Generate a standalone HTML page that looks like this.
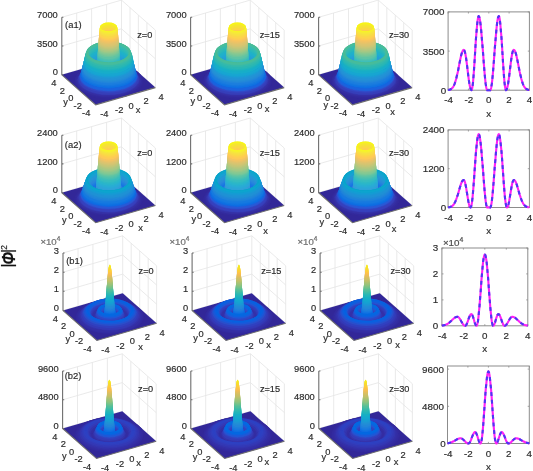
<!DOCTYPE html>
<html><head><meta charset="utf-8"><title>figure</title>
<style>html,body{margin:0;padding:0;background:#fff}svg{display:block;filter:blur(0.55px)}text{font-family:"Liberation Sans",sans-serif;stroke:#2c2c2c;stroke-width:.18px}</style>
</head><body>
<svg width="533" height="471" viewBox="0 0 533 471">
<rect width="533" height="471" fill="#fff"/>
<path d="M76.7 70.5v-57.5M91.6 66.2v-57.5M106.6 61.9v-57.5M121.5 57.6v-57.5M130 65.1v-57.5M138.4 72.6v-57.5M146.9 80.1v-57.5M155.4 87.6v-57.5M61.8 74.8L121.5 57.6L155.4 87.6M61.8 46L121.5 28.8L155.4 58.8M61.8 17.3L121.5 0.1L155.4 30.1M70.3 82.3L130 65.1M76.7 70.5L110.6 100.5M78.8 89.8L138.4 72.6M91.6 66.2L125.5 96.2M87.2 97.3L146.9 80.1M106.6 61.9L140.5 91.9" stroke="#e4e4e4" stroke-width="0.8" fill="none"/>
<path d="M61.8 74.8L95.7 104.8L155.4 87.6L121.5 57.6z" fill="#322798"/>
<g transform="matrix(7.4625 -2.1500 -4.2375 -3.7500 108.6 81.2)">
<path d="M3.43-2.05A4 4 0 1 1 -3.52 1.9L-3.32 1.87A3.81 3.81 0 1 0 3.31-1.89z" fill="#33289b"/>
<path d="M3.41-2.03A3.97 3.97 0 1 1 -3.49 1.89L-3.1 1.94A3.65 3.65 0 1 0 3.25-1.67z" fill="#332a9d"/>
<path d="M3.31-1.89A3.81 3.81 0 1 1 -3.32 1.87L-2.87 2.09A3.53 3.53 0 1 0 3.26-1.39z" fill="#352ea3"/>
<path d="M3.25-1.67A3.65 3.65 0 1 1 -3.1 1.94L-2.68 2.26A3.44 3.44 0 1 0 3.31-1.14z" fill="#3635ae"/>
<path d="M3.26-1.39A3.53 3.53 0 1 1 -2.87 2.09L-2.5 2.44A3.38 3.38 0 1 0 3.38-0.89z" fill="#363eb9"/>
<path d="M3.31-1.14A3.44 3.44 0 1 1 -2.68 2.26L-2.33 2.63A3.33 3.33 0 1 0 3.45-0.66z" fill="#3346c4"/>
<path d="M3.38-0.89A3.38 3.38 0 1 1 -2.5 2.44L-2.15 2.84A3.27 3.27 0 1 0 3.54-0.39z" fill="#2c56d1"/>
<path d="M3.45-0.66A3.33 3.33 0 1 1 -2.33 2.63L-1.99 3.04A3.23 3.23 0 1 0 3.63-0.15z" fill="#1a62de"/>
<path d="M3.54-0.39A3.27 3.27 0 1 1 -2.15 2.84L-1.82 3.25A3.19 3.19 0 1 0 3.73 0.1z" fill="#0e6be2"/>
<path d="M3.63-0.15A3.23 3.23 0 1 1 -1.99 3.04L-1.67 3.44A3.16 3.16 0 1 0 3.81 0.33z" fill="#1072e2"/>
<path d="M3.73 0.1A3.19 3.19 0 1 1 -1.82 3.25L-1.52 3.64A3.12 3.12 0 1 0 3.91 0.56z" fill="#1578e0"/>
<path d="M3.81 0.33A3.16 3.16 0 1 1 -1.67 3.44L-1.36 3.85A3.09 3.09 0 1 0 4.01 0.81z" fill="#1b7dde"/>
<path d="M3.91 0.56A3.12 3.12 0 1 1 -1.52 3.64L-1.2 4.08A3.06 3.06 0 1 0 4.11 1.06z" fill="#1f82dc"/>
<path d="M4.01 0.81A3.09 3.09 0 1 1 -1.36 3.85L-1.06 4.26A3.03 3.03 0 1 0 4.2 1.27z" fill="#2287d9"/>
<path d="M4.11 1.06A3.06 3.06 0 1 1 -1.2 4.08L-0.92 4.45A3 3 0 1 0 4.29 1.49z" fill="#248cd7"/>
<path d="M4.2 1.27A3.03 3.03 0 1 1 -1.06 4.26L-0.78 4.64A2.97 2.97 0 1 0 4.39 1.7z" fill="#2391d6"/>
<path d="M4.29 1.49A3 3 0 1 1 -0.92 4.45L-0.64 4.83A2.95 2.95 0 1 0 4.48 1.92z" fill="#2096d5"/>
<path d="M4.39 1.7A2.97 2.97 0 1 1 -0.78 4.64L-0.5 5.03A2.92 2.92 0 1 0 4.58 2.15z" fill="#1c9cd5"/>
<path d="M4.48 1.92A2.95 2.95 0 1 1 -0.64 4.83L-0.36 5.22A2.89 2.89 0 1 0 4.67 2.37z" fill="#19a1d4"/>
<path d="M4.58 2.15A2.92 2.92 0 1 1 -0.5 5.03L-0.22 5.42A2.87 2.87 0 1 0 4.76 2.59z" fill="#17a6d1"/>
<path d="M4.67 2.37A2.89 2.89 0 1 1 -0.36 5.22L-0.08 5.61A2.84 2.84 0 1 0 4.86 2.8z" fill="#17aace"/>
<path d="M4.76 2.59A2.87 2.87 0 1 1 -0.22 5.42L0.05 5.79A2.81 2.81 0 1 0 4.95 3.01z" fill="#17adca"/>
<path d="M4.86 2.8A2.84 2.84 0 1 1 -0.08 5.61L0.22 6.01A2.78 2.78 0 1 0 5.05 3.27z" fill="#18afc5"/>
<path d="M4.95 3.01A2.81 2.81 0 1 1 0.05 5.79L0.38 6.22A2.75 2.75 0 1 0 5.15 3.51z" fill="#1cb2c0"/>
<path d="M5.05 3.27A2.78 2.78 0 1 1 0.22 6.01L0.53 6.42A2.71 2.71 0 1 0 5.24 3.74z" fill="#22b5ba"/>
<path d="M5.15 3.51A2.75 2.75 0 1 1 0.38 6.22L0.7 6.63A2.67 2.67 0 1 0 5.34 4z" fill="#2ab7b3"/>
<path d="M5.24 3.74A2.71 2.71 0 1 1 0.53 6.42L0.85 6.81A2.63 2.63 0 1 0 5.42 4.22z" fill="#33b9ac"/>
<path d="M5.34 4A2.67 2.67 0 1 1 0.7 6.63L1.04 7.01A2.56 2.56 0 1 0 5.49 4.48z" fill="#3cbba5"/>
<path d="M5.42 4.22A2.63 2.63 0 1 1 0.85 6.81L1.21 7A2.4 2.4 0 1 0 5.39 4.63z" fill="#46bc9c"/>
<path d="M5.49 4.48A2.56 2.56 0 1 1 1.04 7.01L1.14 6.76A2.35 2.35 0 1 0 5.22 4.44z" fill="#4abc94"/>
<path d="M5.39 4.63A2.4 2.4 0 1 1 1.21 7L1.05 6.54A2.32 2.32 0 1 0 5.08 4.25z" fill="#4bbd9a"/>
<path d="M5.22 4.44A2.35 2.35 0 1 1 1.14 6.76L0.96 6.33A2.29 2.29 0 1 0 4.94 4.07z" fill="#42bda3"/>
<path d="M5.08 4.25A2.32 2.32 0 1 1 1.05 6.54L0.86 6.09A2.26 2.26 0 1 0 4.79 3.86z" fill="#3abbab"/>
<path d="M4.94 4.07A2.29 2.29 0 1 1 0.96 6.33L0.76 5.88A2.24 2.24 0 1 0 4.66 3.67z" fill="#33bab2"/>
<path d="M4.79 3.86A2.26 2.26 0 1 1 0.86 6.09L0.66 5.66A2.22 2.22 0 1 0 4.52 3.46z" fill="#2cb8b8"/>
<path d="M4.66 3.67A2.24 2.24 0 1 1 0.76 5.88L0.55 5.42A2.2 2.2 0 1 0 4.37 3.25z" fill="#26b6be"/>
<path d="M4.52 3.46A2.22 2.22 0 1 1 0.66 5.66L0.43 5.17A2.18 2.18 0 1 0 4.22 3.02z" fill="#21b4c4"/>
<path d="M4.37 3.25A2.2 2.2 0 1 1 0.55 5.42L0.34 4.97A2.16 2.16 0 1 0 4.09 2.83z" fill="#1fb1ca"/>
<path d="M4.22 3.02A2.18 2.18 0 1 1 0.43 5.17L0.24 4.75A2.14 2.14 0 1 0 3.96 2.64z" fill="#1faece"/>
<path d="M4.09 2.83A2.16 2.16 0 1 1 0.34 4.97L0.13 4.54A2.13 2.13 0 1 0 3.83 2.44z" fill="#20abd2"/>
<path d="M3.96 2.64A2.14 2.14 0 1 1 0.24 4.75L0.03 4.32A2.11 2.11 0 1 0 3.7 2.24z" fill="#21a7d5"/>
<path d="M3.83 2.44A2.13 2.13 0 1 1 0.13 4.54L-0.07 4.1A2.09 2.09 0 1 0 3.56 2.04z" fill="#24a2d6"/>
<path d="M3.7 2.24A2.11 2.11 0 1 1 0.03 4.32L-0.18 3.89A2.07 2.07 0 1 0 3.43 1.84z" fill="#289dd7"/>
<path d="M3.56 2.04A2.09 2.09 0 1 1 -0.07 4.1L-0.28 3.67A2.06 2.06 0 1 0 3.29 1.63z" fill="#2c98d7"/>
<path d="M3.43 1.84A2.07 2.07 0 1 1 -0.18 3.89L-0.39 3.45A2.04 2.04 0 1 0 3.16 1.43z" fill="#2e93d8"/>
<path d="M3.29 1.63A2.06 2.06 0 1 1 -0.28 3.67L-0.49 3.23A2.02 2.02 0 1 0 3.03 1.24z" fill="#2e8eda"/>
<path d="M3.16 1.43A2.04 2.04 0 1 1 -0.39 3.45L-0.59 3.02A2.01 2.01 0 1 0 2.9 1.04z" fill="#2c8adc"/>
<path d="M3.03 1.24A2.02 2.02 0 1 1 -0.49 3.23L-0.69 2.81A1.99 1.99 0 1 0 2.77 0.85z" fill="#2886df"/>
<path d="M2.9 1.04A2.01 2.01 0 1 1 -0.59 3.02L-0.78 2.61A1.97 1.97 0 1 0 2.64 0.67z" fill="#2482e1"/>
<path d="M2.77 0.85A1.99 1.99 0 1 1 -0.69 2.81L-0.9 2.37A1.95 1.95 0 1 0 2.49 0.44z" fill="#1f7de2"/>
<path d="M2.64 0.67A1.97 1.97 0 1 1 -0.78 2.61L-1 2.14A1.93 1.93 0 1 0 2.35 0.23z" fill="#1b78e4"/>
<path d="M2.49 0.44A1.95 1.95 0 1 1 -0.9 2.37L-1.1 1.92A1.91 1.91 0 1 0 2.21 0.04z" fill="#1a71e4"/>
<path d="M2.35 0.23A1.93 1.93 0 1 1 -1 2.14L-1.21 1.67A1.88 1.88 0 1 0 2.06-0.19z" fill="#2768de"/>
<path d="M2.21 0.04A1.91 1.91 0 1 1 -1.1 1.92L-1.31 1.45A1.85 1.85 0 1 0 1.91-0.38z" fill="#375dd2"/>
<path d="M2.06-0.19A1.88 1.88 0 1 1 -1.21 1.67L-1.4 1.21A1.82 1.82 0 1 0 1.76-0.59z" fill="#3c4dc5"/>
<path d="M1.91-0.38A1.85 1.85 0 1 1 -1.31 1.45L-1.48 0.98A1.78 1.78 0 1 0 1.61-0.77z" fill="#3e44bb"/>
<path d="M1.76-0.59A1.82 1.82 0 1 1 -1.4 1.21L-1.47 0.8A1.68 1.68 0 1 0 1.44-0.85z" fill="#3c3aaf"/>
<path d="M1.61-0.77A1.78 1.78 0 1 1 -1.48 0.98L-1.28 1A1.61 1.61 0 1 0 1.52-0.59z" fill="#362fa3"/>
<path d="M1.44-0.85A1.68 1.68 0 1 1 -1.47 0.8L-1.12 1.21A1.58 1.58 0 1 0 1.62-0.35z" fill="#3a35a8"/>
<path d="M1.52-0.59A1.61 1.61 0 1 1 -1.28 1L-0.97 1.43A1.55 1.55 0 1 0 1.72-0.1z" fill="#3f42b7"/>
<path d="M1.62-0.35A1.58 1.58 0 1 1 -1.12 1.21L-0.83 1.64A1.53 1.53 0 1 0 1.83 0.13z" fill="#404dc3"/>
<path d="M1.72-0.1A1.55 1.55 0 1 1 -0.97 1.43L-0.7 1.82A1.51 1.51 0 1 0 1.93 0.33z" fill="#3c5cce"/>
<path d="M1.83 0.13A1.53 1.53 0 1 1 -0.83 1.64L-0.56 2.03A1.49 1.49 0 1 0 2.03 0.56z" fill="#3167dc"/>
<path d="M1.93 0.33A1.51 1.51 0 1 1 -0.7 1.82L-0.42 2.25A1.48 1.48 0 1 0 2.15 0.8z" fill="#2471e3"/>
<path d="M2.03 0.56A1.49 1.49 0 1 1 -0.56 2.03L-0.29 2.44A1.46 1.46 0 1 0 2.25 1z" fill="#207ae5"/>
<path d="M2.15 0.8A1.48 1.48 0 1 1 -0.42 2.25L-0.16 2.65A1.45 1.45 0 1 0 2.36 1.22z" fill="#2580e4"/>
<path d="M2.25 1A1.46 1.46 0 1 1 -0.29 2.44L-0.03 2.86A1.44 1.44 0 1 0 2.47 1.44z" fill="#2b85e2"/>
<path d="M2.36 1.22A1.45 1.45 0 1 1 -0.16 2.65L0.12 3.08A1.42 1.42 0 1 0 2.59 1.68z" fill="#308ae0"/>
<path d="M2.47 1.44A1.44 1.44 0 1 1 -0.03 2.86L0.26 3.32A1.41 1.41 0 1 0 2.71 1.93z" fill="#338ede"/>
<path d="M2.59 1.68A1.42 1.42 0 1 1 0.12 3.08L0.39 3.51A1.4 1.4 0 1 0 2.81 2.13z" fill="#3592dc"/>
<path d="M2.71 1.93A1.41 1.41 0 1 1 0.26 3.32L0.51 3.71A1.39 1.39 0 1 0 2.92 2.34z" fill="#3597da"/>
<path d="M2.81 2.13A1.4 1.4 0 1 1 0.39 3.51L0.64 3.91A1.37 1.37 0 1 0 3.03 2.56z" fill="#339bd9"/>
<path d="M2.92 2.34A1.39 1.39 0 1 1 0.51 3.71L0.77 4.12A1.36 1.36 0 1 0 3.14 2.78z" fill="#30a1d8"/>
<path d="M3.03 2.56A1.37 1.37 0 1 1 0.64 3.91L0.91 4.34A1.35 1.35 0 1 0 3.26 3z" fill="#2ca6d8"/>
<path d="M3.14 2.78A1.36 1.36 0 1 1 0.77 4.12L1.05 4.56A1.34 1.34 0 1 0 3.38 3.24z" fill="#29aad6"/>
<path d="M3.26 3A1.35 1.35 0 1 1 0.91 4.34L1.19 4.79A1.33 1.33 0 1 0 3.5 3.47z" fill="#29aed3"/>
<path d="M3.38 3.24A1.34 1.34 0 1 1 1.05 4.56L1.33 5.02A1.32 1.32 0 1 0 3.63 3.71z" fill="#29b2cf"/>
<path d="M3.5 3.47A1.33 1.33 0 1 1 1.19 4.79L1.48 5.25A1.31 1.31 0 1 0 3.75 3.96z" fill="#29b5cb"/>
<path d="M3.63 3.71A1.32 1.32 0 1 1 1.33 5.02L1.62 5.49A1.3 1.3 0 1 0 3.88 4.21z" fill="#2db8c6"/>
<path d="M3.75 3.96A1.31 1.31 0 1 1 1.48 5.25L1.77 5.73A1.29 1.29 0 1 0 4.01 4.46z" fill="#34bbc0"/>
<path d="M3.88 4.21A1.3 1.3 0 1 1 1.62 5.49L1.92 5.97A1.28 1.28 0 1 0 4.14 4.71z" fill="#3dbeba"/>
<path d="M4.01 4.46A1.29 1.29 0 1 1 1.77 5.73L2.08 6.22A1.27 1.27 0 1 0 4.28 4.97z" fill="#47c0b3"/>
<path d="M4.14 4.71A1.28 1.28 0 1 1 1.92 5.97L2.23 6.47A1.25 1.25 0 1 0 4.41 5.23z" fill="#52c2ac"/>
<path d="M4.28 4.97A1.27 1.27 0 1 1 2.08 6.22L2.39 6.72A1.24 1.24 0 1 0 4.55 5.49z" fill="#5fc4a5"/>
<path d="M4.41 5.23A1.25 1.25 0 1 1 2.23 6.47L2.54 6.97A1.23 1.23 0 1 0 4.68 5.76z" fill="#6dc69d"/>
<path d="M4.55 5.49A1.24 1.24 0 1 1 2.39 6.72L2.7 7.22A1.22 1.22 0 1 0 4.82 6.02z" fill="#7cc796"/>
<path d="M4.68 5.76A1.23 1.23 0 1 1 2.54 6.97L2.86 7.48A1.21 1.21 0 1 0 4.96 6.28z" fill="#8ac890"/>
<path d="M4.82 6.02A1.22 1.22 0 1 1 2.7 7.22L3.01 7.73A1.2 1.2 0 1 0 5.1 6.55z" fill="#98c88a"/>
<path d="M4.96 6.28A1.21 1.21 0 1 1 2.86 7.48L3.17 7.98A1.19 1.19 0 1 0 5.23 6.81z" fill="#a5c884"/>
<path d="M5.1 6.55A1.2 1.2 0 1 1 3.01 7.73L3.32 8.23A1.18 1.18 0 1 0 5.37 7.07z" fill="#b2c780"/>
<path d="M5.23 6.81A1.19 1.19 0 1 1 3.17 7.98L3.48 8.48A1.17 1.17 0 1 0 5.5 7.33z" fill="#bdc67b"/>
<path d="M5.37 7.07A1.18 1.18 0 1 1 3.32 8.23L3.63 8.73A1.16 1.16 0 1 0 5.64 7.59z" fill="#c8c677"/>
<path d="M5.5 7.33A1.17 1.17 0 1 1 3.48 8.48L3.78 8.97A1.14 1.14 0 1 0 5.77 7.84z" fill="#d3c572"/>
<path d="M5.64 7.59A1.16 1.16 0 1 1 3.63 8.73L3.93 9.21A1.13 1.13 0 1 0 5.9 8.09z" fill="#ddc46e"/>
<path d="M5.77 7.84A1.14 1.14 0 1 1 3.78 8.97L4.07 9.44A1.12 1.12 0 1 0 6.02 8.34z" fill="#e7c369"/>
<path d="M5.9 8.09A1.13 1.13 0 1 1 3.93 9.21L4.22 9.67A1.11 1.11 0 1 0 6.15 8.58z" fill="#f0c364"/>
<path d="M6.02 8.34A1.12 1.12 0 1 1 4.07 9.44L4.35 9.89A1.1 1.1 0 1 0 6.27 8.81z" fill="#f9c45e"/>
<path d="M6.15 8.58A1.11 1.11 0 1 1 4.22 9.67L4.49 10.11A1.09 1.09 0 1 0 6.38 9.03z" fill="#fec957"/>
<path d="M6.27 8.81A1.1 1.1 0 1 1 4.35 9.89L4.62 10.31A1.08 1.08 0 1 0 6.49 9.25z" fill="#fece51"/>
<path d="M6.38 9.03A1.09 1.09 0 1 1 4.49 10.11L4.74 10.51A1.07 1.07 0 1 0 6.6 9.45z" fill="#fdd44c"/>
<path d="M6.49 9.25A1.08 1.08 0 1 1 4.62 10.31L4.89 10.74A1.05 1.05 0 1 0 6.72 9.7z" fill="#fad947"/>
<path d="M6.6 9.45A1.07 1.07 0 1 1 4.74 10.51L5.02 10.94A1.04 1.04 0 1 0 6.83 9.92z" fill="#f8df43"/>
<path d="M6.72 9.7A1.05 1.05 0 1 1 4.89 10.74L5.16 11.16A1.02 1.02 0 1 0 6.94 10.15z" fill="#f6e63e"/>
<path d="M6.83 9.92A1.04 1.04 0 1 1 5.02 10.94L5.3 11.36A1 1 0 1 0 7.04 10.38z" fill="#f6ec34"/>
<path d="M6.94 10.15A1.02 1.02 0 1 1 5.16 11.16L5.3 11.19A0.92 0.92 0 1 0 6.9 10.28z" fill="#f7f427"/>
<path d="M7.04 10.38A1 1 0 1 1 5.3 11.36L5.2 10.96A0.89 0.89 0 1 0 6.74 10.08z" fill="#f7f515"/>
<path d="M6.9 10.28A0.92 0.92 0 1 1 5.3 11.19L5.1 10.72A0.86 0.86 0 1 0 6.59 9.87z" fill="#f6ee24"/>
<path d="M6.74 10.08A0.89 0.89 0 1 1 5.2 10.96L4.99 10.49A0.84 0.84 0 1 0 6.45 9.66z" fill="#f5e62e"/>
<path d="M6.59 9.87A0.86 0.86 0 1 1 5.1 10.72L4.9 10.29A0.82 0.82 0 1 0 6.32 9.48z" fill="#f7e036"/>
<path d="M6.45 9.66A0.84 0.84 0 1 1 4.99 10.49L4.79 10.06A0.8 0.8 0 1 0 6.19 9.27z" fill="#f9da3d"/>
<path d="M6.32 9.48A0.82 0.82 0 1 1 4.9 10.29L4.68 9.83A0.79 0.79 0 1 0 6.04 9.05z" fill="#fcd544"/>
<path d="M6.19 9.27A0.8 0.8 0 1 1 4.79 10.06L4.58 9.62A0.77 0.77 0 1 0 5.92 8.86z" fill="#fecf4a"/>
<path d="M6.04 9.05A0.79 0.79 0 1 1 4.68 9.83L4.47 9.41A0.76 0.76 0 1 0 5.79 8.66z" fill="#ffca51"/>
<path d="M5.92 8.86A0.77 0.77 0 1 1 4.58 9.62L4.36 9.19A0.74 0.74 0 1 0 5.66 8.46z" fill="#fcc659"/>
<path d="M5.79 8.66A0.76 0.76 0 1 1 4.47 9.41L4.25 8.96A0.73 0.73 0 1 0 5.52 8.24z" fill="#f6c360"/>
<path d="M5.66 8.46A0.74 0.74 0 1 1 4.36 9.19L4.13 8.72A0.72 0.72 0 1 0 5.38 8.02z" fill="#eec366"/>
<path d="M5.52 8.24A0.73 0.73 0 1 1 4.25 8.96L4.01 8.48A0.7 0.7 0 1 0 5.23 7.78z" fill="#e5c36a"/>
<path d="M5.38 8.02A0.72 0.72 0 1 1 4.13 8.72L3.9 8.28A0.69 0.69 0 1 0 5.11 7.59z" fill="#dbc46f"/>
<path d="M5.23 7.78A0.7 0.7 0 1 1 4.01 8.48L3.8 8.07A0.68 0.68 0 1 0 4.98 7.4z" fill="#d2c572"/>
<path d="M5.11 7.59A0.69 0.69 0 1 1 3.9 8.28L3.69 7.86A0.67 0.67 0 1 0 4.86 7.2z" fill="#cac676"/>
<path d="M4.98 7.4A0.68 0.68 0 1 1 3.8 8.07L3.59 7.65A0.66 0.66 0 1 0 4.73 7z" fill="#c1c679"/>
<path d="M4.86 7.2A0.67 0.67 0 1 1 3.69 7.86L3.48 7.43A0.65 0.65 0 1 0 4.6 6.79z" fill="#b8c77d"/>
<path d="M4.73 7A0.66 0.66 0 1 1 3.59 7.65L3.36 7.22A0.64 0.64 0 1 0 4.47 6.59z" fill="#afc781"/>
<path d="M4.6 6.79A0.65 0.65 0 1 1 3.48 7.43L3.25 6.99A0.63 0.63 0 1 0 4.34 6.38z" fill="#a5c885"/>
<path d="M4.47 6.59A0.64 0.64 0 1 1 3.36 7.22L3.14 6.77A0.62 0.62 0 1 0 4.21 6.16z" fill="#9ac889"/>
<path d="M4.34 6.38A0.63 0.63 0 1 1 3.25 6.99L3.02 6.55A0.6 0.6 0 1 0 4.07 5.95z" fill="#8ec88e"/>
<path d="M4.21 6.16A0.62 0.62 0 1 1 3.14 6.77L2.91 6.32A0.59 0.59 0 1 0 3.94 5.74z" fill="#81c894"/>
<path d="M4.07 5.95A0.6 0.6 0 1 1 3.02 6.55L2.79 6.09A0.58 0.58 0 1 0 3.8 5.52z" fill="#74c79a"/>
<path d="M3.94 5.74A0.59 0.59 0 1 1 2.91 6.32L2.67 5.87A0.57 0.57 0 1 0 3.67 5.3z" fill="#67c6a0"/>
<path d="M3.8 5.52A0.58 0.58 0 1 1 2.79 6.09L2.56 5.64A0.56 0.56 0 1 0 3.53 5.09z" fill="#5bc4a7"/>
<path d="M3.67 5.3A0.57 0.57 0 1 1 2.67 5.87L2.44 5.41A0.55 0.55 0 1 0 3.4 4.87z" fill="#50c2ae"/>
<path d="M3.53 5.09A0.56 0.56 0 1 1 2.56 5.64L2.33 5.19A0.54 0.54 0 1 0 3.26 4.65z" fill="#46c0b4"/>
<path d="M3.4 4.87A0.55 0.55 0 1 1 2.44 5.41L2.21 4.96A0.53 0.53 0 1 0 3.13 4.44z" fill="#3dbeba"/>
<path d="M3.26 4.65A0.54 0.54 0 1 1 2.33 5.19L2.1 4.73A0.52 0.52 0 1 0 2.99 4.22z" fill="#35bbbf"/>
<path d="M3.13 4.44A0.53 0.53 0 1 1 2.21 4.96L1.98 4.51A0.51 0.51 0 1 0 2.86 4.01z" fill="#2fb9c4"/>
<path d="M2.99 4.22A0.52 0.52 0 1 1 2.1 4.73L1.87 4.29A0.49 0.49 0 1 0 2.73 3.8z" fill="#2ab6c9"/>
<path d="M2.86 4.01A0.51 0.51 0 1 1 1.98 4.51L1.76 4.07A0.48 0.48 0 1 0 2.6 3.59z" fill="#29b3ce"/>
<path d="M2.73 3.8A0.49 0.49 0 1 1 1.87 4.29L1.65 3.86A0.47 0.47 0 1 0 2.47 3.39z" fill="#29b0d1"/>
<path d="M2.6 3.59A0.48 0.48 0 1 1 1.76 4.07L1.54 3.64A0.46 0.46 0 1 0 2.34 3.19z" fill="#29add5"/>
<path d="M2.47 3.39A0.47 0.47 0 1 1 1.65 3.86L1.43 3.43A0.45 0.45 0 1 0 2.21 2.99z" fill="#2aa9d7"/>
<path d="M2.34 3.19A0.46 0.46 0 1 1 1.54 3.64L1.33 3.23A0.44 0.44 0 1 0 2.09 2.79z" fill="#2da4d8"/>
<path d="M2.21 2.99A0.45 0.45 0 1 1 1.43 3.43L1.23 3.02A0.43 0.43 0 1 0 1.97 2.6z" fill="#319fd8"/>
<path d="M2.09 2.79A0.44 0.44 0 1 1 1.33 3.23L1.1 2.78A0.41 0.41 0 1 0 1.82 2.37z" fill="#349ad9"/>
<path d="M1.97 2.6A0.43 0.43 0 1 1 1.23 3.02L0.98 2.54A0.4 0.4 0 1 0 1.68 2.14z" fill="#3595da"/>
<path d="M1.82 2.37A0.41 0.41 0 1 1 1.1 2.78L0.87 2.31A0.39 0.39 0 1 0 1.54 1.93z" fill="#3491dc"/>
<path d="M1.68 2.14A0.4 0.4 0 1 1 0.98 2.54L0.76 2.09A0.37 0.37 0 1 0 1.4 1.72z" fill="#328cdf"/>
<path d="M1.54 1.93A0.39 0.39 0 1 1 0.87 2.31L0.65 1.87A0.36 0.36 0 1 0 1.28 1.52z" fill="#2f88e1"/>
<path d="M1.4 1.72A0.37 0.37 0 1 1 0.76 2.09L0.55 1.67A0.35 0.35 0 1 0 1.15 1.33z" fill="#2983e3"/>
<path d="M1.28 1.52A0.36 0.36 0 1 1 0.65 1.87L0.43 1.43A0.33 0.33 0 1 0 1.01 1.11z" fill="#247ee4"/>
<path d="M1.15 1.33A0.35 0.35 0 1 1 0.55 1.67L0.33 1.21A0.31 0.31 0 1 0 0.87 0.9z" fill="#2178e5"/>
<path d="M1.01 1.11A0.33 0.33 0 1 1 0.43 1.43L0.23 1A0.29 0.29 0 1 0 0.74 0.71z" fill="#276fe2"/>
<path d="M0.87 0.9A0.31 0.31 0 1 1 0.33 1.21L0.13 0.77A0.27 0.27 0 1 0 0.6 0.5z" fill="#3665d9"/>
<path d="M0.74 0.71A0.29 0.29 0 1 1 0.23 1L0.02 0.53A0.25 0.25 0 1 0 0.45 0.29z" fill="#3d55cb"/>
<path d="M0.6 0.5A0.27 0.27 0 1 1 0.13 0.77L-0.08 0.29A0.21 0.21 0 1 0 0.29 0.08z" fill="#414bc1"/>
<path d="M0.45 0.29A0.25 0.25 0 1 1 0.02 0.53L-0.13 0.09A0.16 0.16 0 1 0 0.15-0.07z" fill="#3f40b4"/>
<path d="M0.29 0.08A0.21 0.21 0 1 1 -0.08 0.29z" fill="#3a34a7"/>
<path d="M0.15-0.07A0.16 0.16 0 1 1 -0.13 0.09z" fill="#33299b"/>
<path d="M-0.07 0.31A0.21 0.21 0 1 1 0.3 0.1z" fill="#33299b"/>
<path d="M0.03 0.54A0.25 0.25 0 1 1 0.45 0.3L0.15-0.06A0.16 0.16 0 1 0 -0.13 0.1z" fill="#3a34a7"/>
<path d="M0.13 0.79A0.27 0.27 0 1 1 0.61 0.52L0.3 0.1A0.21 0.21 0 1 0 -0.07 0.31z" fill="#3f40b4"/>
<path d="M0.24 1.02A0.29 0.29 0 1 1 0.75 0.73L0.45 0.3A0.25 0.25 0 1 0 0.03 0.54z" fill="#414bc1"/>
<path d="M0.34 1.22A0.31 0.31 0 1 1 0.88 0.92L0.61 0.52A0.27 0.27 0 1 0 0.13 0.79z" fill="#3d55cb"/>
<path d="M0.44 1.45A0.33 0.33 0 1 1 1.02 1.12L0.75 0.73A0.29 0.29 0 1 0 0.24 1.02z" fill="#3665d9"/>
<path d="M0.56 1.69A0.35 0.35 0 1 1 1.16 1.35L0.88 0.92A0.31 0.31 0 1 0 0.34 1.22z" fill="#276fe2"/>
<path d="M0.66 1.89A0.36 0.36 0 1 1 1.29 1.54L1.02 1.12A0.33 0.33 0 1 0 0.44 1.45z" fill="#2178e5"/>
<path d="M0.77 2.11A0.37 0.37 0 1 1 1.42 1.74L1.16 1.35A0.35 0.35 0 1 0 0.56 1.69z" fill="#247ee4"/>
<path d="M0.88 2.33A0.39 0.39 0 1 1 1.55 1.95L1.29 1.54A0.36 0.36 0 1 0 0.66 1.89z" fill="#2983e3"/>
<path d="M0.99 2.56A0.4 0.4 0 1 1 1.69 2.16L1.42 1.74A0.37 0.37 0 1 0 0.77 2.11z" fill="#2f88e1"/>
<path d="M1.11 2.8A0.41 0.41 0 1 1 1.83 2.39L1.55 1.95A0.39 0.39 0 1 0 0.88 2.33z" fill="#328cdf"/>
<path d="M1.24 3.05A0.43 0.43 0 1 1 1.98 2.62L1.69 2.16A0.4 0.4 0 1 0 0.99 2.56z" fill="#3491dc"/>
<path d="M1.34 3.25A0.44 0.44 0 1 1 2.1 2.82L1.83 2.39A0.41 0.41 0 1 0 1.11 2.8z" fill="#3595da"/>
<path d="M1.44 3.46A0.45 0.45 0 1 1 2.23 3.01L1.98 2.62A0.43 0.43 0 1 0 1.24 3.05z" fill="#349ad9"/>
<path d="M1.55 3.67A0.46 0.46 0 1 1 2.35 3.21L2.1 2.82A0.44 0.44 0 1 0 1.34 3.25z" fill="#319fd8"/>
<path d="M1.66 3.88A0.47 0.47 0 1 1 2.48 3.41L2.23 3.01A0.45 0.45 0 1 0 1.44 3.46z" fill="#2da4d8"/>
<path d="M1.77 4.1A0.48 0.48 0 1 1 2.61 3.62L2.35 3.21A0.46 0.46 0 1 0 1.55 3.67z" fill="#2aa9d7"/>
<path d="M1.88 4.32A0.49 0.49 0 1 1 2.74 3.83L2.48 3.41A0.47 0.47 0 1 0 1.66 3.88z" fill="#29add5"/>
<path d="M2 4.54A0.51 0.51 0 1 1 2.87 4.04L2.61 3.62A0.48 0.48 0 1 0 1.77 4.1z" fill="#29b0d1"/>
<path d="M2.11 4.76A0.52 0.52 0 1 1 3.01 4.25L2.74 3.83A0.49 0.49 0 1 0 1.88 4.32z" fill="#29b3ce"/>
<path d="M2.23 4.99A0.53 0.53 0 1 1 3.14 4.47L2.87 4.04A0.51 0.51 0 1 0 2 4.54z" fill="#2ab6c9"/>
<path d="M2.34 5.21A0.54 0.54 0 1 1 3.28 4.68L3.01 4.25A0.52 0.52 0 1 0 2.11 4.76z" fill="#2fb9c4"/>
<path d="M2.46 5.44A0.55 0.55 0 1 1 3.41 4.9L3.14 4.47A0.53 0.53 0 1 0 2.23 4.99z" fill="#35bbbf"/>
<path d="M2.58 5.67A0.56 0.56 0 1 1 3.55 5.12L3.28 4.68A0.54 0.54 0 1 0 2.34 5.21z" fill="#3dbeba"/>
<path d="M2.69 5.9A0.57 0.57 0 1 1 3.68 5.33L3.41 4.9A0.55 0.55 0 1 0 2.46 5.44z" fill="#46c0b4"/>
<path d="M2.81 6.12A0.58 0.58 0 1 1 3.82 5.55L3.55 5.12A0.56 0.56 0 1 0 2.58 5.67z" fill="#50c2ae"/>
<path d="M2.93 6.35A0.59 0.59 0 1 1 3.96 5.77L3.68 5.33A0.57 0.57 0 1 0 2.69 5.9z" fill="#5bc4a7"/>
<path d="M3.04 6.58A0.6 0.6 0 1 1 4.09 5.98L3.82 5.55A0.58 0.58 0 1 0 2.81 6.12z" fill="#67c6a0"/>
<path d="M3.16 6.8A0.62 0.62 0 1 1 4.23 6.2L3.96 5.77A0.59 0.59 0 1 0 2.93 6.35z" fill="#74c79a"/>
<path d="M3.27 7.03A0.63 0.63 0 1 1 4.36 6.41L4.09 5.98A0.6 0.6 0 1 0 3.04 6.58z" fill="#81c894"/>
<path d="M3.38 7.25A0.64 0.64 0 1 1 4.49 6.62L4.23 6.2A0.62 0.62 0 1 0 3.16 6.8z" fill="#8ec88e"/>
<path d="M3.5 7.47A0.65 0.65 0 1 1 4.62 6.83L4.36 6.41A0.63 0.63 0 1 0 3.27 7.03z" fill="#9ac889"/>
<path d="M3.61 7.68A0.66 0.66 0 1 1 4.75 7.03L4.49 6.62A0.64 0.64 0 1 0 3.38 7.25z" fill="#a5c885"/>
<path d="M3.71 7.9A0.67 0.67 0 1 1 4.88 7.24L4.62 6.83A0.65 0.65 0 1 0 3.5 7.47z" fill="#afc781"/>
<path d="M3.82 8.11A0.68 0.68 0 1 1 5 7.43L4.75 7.03A0.66 0.66 0 1 0 3.61 7.68z" fill="#b8c77d"/>
<path d="M3.92 8.31A0.69 0.69 0 1 1 5.13 7.63L4.88 7.24A0.67 0.67 0 1 0 3.71 7.9z" fill="#c1c679"/>
<path d="M4.03 8.51A0.7 0.7 0 1 1 5.25 7.82L5 7.43A0.68 0.68 0 1 0 3.82 8.11z" fill="#cac676"/>
<path d="M4.15 8.76A0.72 0.72 0 1 1 5.4 8.05L5.13 7.63A0.69 0.69 0 1 0 3.92 8.31z" fill="#d2c572"/>
<path d="M4.27 9A0.73 0.73 0 1 1 5.54 8.28L5.25 7.82A0.7 0.7 0 1 0 4.03 8.51z" fill="#dbc46f"/>
<path d="M4.39 9.23A0.74 0.74 0 1 1 5.68 8.5L5.4 8.05A0.72 0.72 0 1 0 4.15 8.76z" fill="#e5c36a"/>
<path d="M4.5 9.45A0.76 0.76 0 1 1 5.81 8.7L5.54 8.28A0.73 0.73 0 1 0 4.27 9z" fill="#eec366"/>
<path d="M4.6 9.66A0.77 0.77 0 1 1 5.94 8.9L5.68 8.5A0.74 0.74 0 1 0 4.39 9.23z" fill="#f6c360"/>
<path d="M4.7 9.87A0.79 0.79 0 1 1 6.07 9.09L5.81 8.7A0.76 0.76 0 1 0 4.5 9.45z" fill="#fcc659"/>
<path d="M4.82 10.11A0.8 0.8 0 1 1 6.21 9.31L5.94 8.9A0.77 0.77 0 1 0 4.6 9.66z" fill="#ffca51"/>
<path d="M4.92 10.33A0.82 0.82 0 1 1 6.35 9.52L6.07 9.09A0.79 0.79 0 1 0 4.7 9.87z" fill="#fecf4a"/>
<path d="M5.02 10.53A0.84 0.84 0 1 1 6.47 9.71L6.21 9.31A0.8 0.8 0 1 0 4.82 10.11z" fill="#fcd544"/>
<path d="M5.12 10.76A0.86 0.86 0 1 1 6.62 9.91L6.35 9.52A0.82 0.82 0 1 0 4.92 10.33z" fill="#f9da3d"/>
<path d="M5.23 11A0.89 0.89 0 1 1 6.77 10.13L6.47 9.71A0.84 0.84 0 1 0 5.02 10.53z" fill="#f7e036"/>
<path d="M5.33 11.24A0.92 0.92 0 1 1 6.92 10.33L6.62 9.91A0.86 0.86 0 1 0 5.12 10.76z" fill="#f5e62e"/>
<path d="M5.33 11.42A1 1 0 1 1 7.07 10.43L6.77 10.13A0.89 0.89 0 1 0 5.23 11z" fill="#f6ee24"/>
<path d="M5.19 11.22A1.02 1.02 0 1 1 6.97 10.21L6.92 10.33A0.92 0.92 0 1 0 5.33 11.24z" fill="#f7f515"/>
<path d="M5.05 11A1.04 1.04 0 1 1 6.86 9.97L7.07 10.43A1 1 0 1 0 5.33 11.42z" fill="#f7f427"/>
<path d="M4.92 10.79A1.05 1.05 0 1 1 6.75 9.75L6.97 10.21A1.02 1.02 0 1 0 5.19 11.22z" fill="#f6ec34"/>
<path d="M4.77 10.56A1.07 1.07 0 1 1 6.63 9.51L6.86 9.97A1.04 1.04 0 1 0 5.05 11z" fill="#f6e63e"/>
<path d="M4.65 10.37A1.08 1.08 0 1 1 6.52 9.3L6.75 9.75A1.05 1.05 0 1 0 4.92 10.79z" fill="#f8df43"/>
<path d="M4.52 10.16A1.09 1.09 0 1 1 6.41 9.09L6.63 9.51A1.07 1.07 0 1 0 4.77 10.56z" fill="#fad947"/>
<path d="M4.39 9.95A1.1 1.1 0 1 1 6.3 8.87L6.52 9.3A1.08 1.08 0 1 0 4.65 10.37z" fill="#fdd44c"/>
<path d="M4.25 9.73A1.11 1.11 0 1 1 6.18 8.63L6.41 9.09A1.09 1.09 0 1 0 4.52 10.16z" fill="#fece51"/>
<path d="M4.11 9.5A1.12 1.12 0 1 1 6.06 8.39L6.3 8.87A1.1 1.1 0 1 0 4.39 9.95z" fill="#fec957"/>
<path d="M3.96 9.27A1.13 1.13 0 1 1 5.93 8.15L6.18 8.63A1.11 1.11 0 1 0 4.25 9.73z" fill="#f9c45e"/>
<path d="M3.81 9.03A1.14 1.14 0 1 1 5.8 7.9L6.06 8.39A1.12 1.12 0 1 0 4.11 9.5z" fill="#f0c364"/>
<path d="M3.66 8.79A1.16 1.16 0 1 1 5.67 7.65L5.93 8.15A1.13 1.13 0 1 0 3.96 9.27z" fill="#e7c369"/>
<path d="M3.51 8.54A1.17 1.17 0 1 1 5.54 7.39L5.8 7.9A1.14 1.14 0 1 0 3.81 9.03z" fill="#ddc46e"/>
<path d="M3.36 8.29A1.18 1.18 0 1 1 5.4 7.13L5.67 7.65A1.16 1.16 0 1 0 3.66 8.79z" fill="#d3c572"/>
<path d="M3.2 8.04A1.19 1.19 0 1 1 5.27 6.87L5.54 7.39A1.17 1.17 0 1 0 3.51 8.54z" fill="#c8c677"/>
<path d="M3.05 7.79A1.2 1.2 0 1 1 5.13 6.61L5.4 7.13A1.18 1.18 0 1 0 3.36 8.29z" fill="#bdc67b"/>
<path d="M2.89 7.54A1.21 1.21 0 1 1 4.99 6.35L5.27 6.87A1.19 1.19 0 1 0 3.2 8.04z" fill="#b2c780"/>
<path d="M2.73 7.29A1.22 1.22 0 1 1 4.86 6.08L5.13 6.61A1.2 1.2 0 1 0 3.05 7.79z" fill="#a5c884"/>
<path d="M2.58 7.04A1.23 1.23 0 1 1 4.72 5.82L4.99 6.35A1.21 1.21 0 1 0 2.89 7.54z" fill="#98c88a"/>
<path d="M2.42 6.78A1.24 1.24 0 1 1 4.58 5.56L4.86 6.08A1.22 1.22 0 1 0 2.73 7.29z" fill="#8ac890"/>
<path d="M2.27 6.53A1.25 1.25 0 1 1 4.45 5.3L4.72 5.82A1.23 1.23 0 1 0 2.58 7.04z" fill="#7cc796"/>
<path d="M2.12 6.29A1.27 1.27 0 1 1 4.31 5.04L4.58 5.56A1.24 1.24 0 1 0 2.42 6.78z" fill="#6dc69d"/>
<path d="M1.96 6.04A1.28 1.28 0 1 1 4.18 4.78L4.45 5.3A1.25 1.25 0 1 0 2.27 6.53z" fill="#5fc4a5"/>
<path d="M1.81 5.8A1.29 1.29 0 1 1 4.05 4.53L4.31 5.04A1.27 1.27 0 1 0 2.12 6.29z" fill="#52c2ac"/>
<path d="M1.66 5.56A1.3 1.3 0 1 1 3.92 4.27L4.18 4.78A1.28 1.28 0 1 0 1.96 6.04z" fill="#47c0b3"/>
<path d="M1.52 5.32A1.31 1.31 0 1 1 3.79 4.03L4.05 4.53A1.29 1.29 0 1 0 1.81 5.8z" fill="#3dbeba"/>
<path d="M1.37 5.08A1.32 1.32 0 1 1 3.66 3.78L3.92 4.27A1.3 1.3 0 1 0 1.66 5.56z" fill="#34bbc0"/>
<path d="M1.23 4.86A1.33 1.33 0 1 1 3.54 3.54L3.79 4.03A1.31 1.31 0 1 0 1.52 5.32z" fill="#2db8c6"/>
<path d="M1.09 4.63A1.34 1.34 0 1 1 3.42 3.31L3.66 3.78A1.32 1.32 0 1 0 1.37 5.08z" fill="#29b5cb"/>
<path d="M0.95 4.41A1.35 1.35 0 1 1 3.3 3.07L3.54 3.54A1.33 1.33 0 1 0 1.23 4.86z" fill="#29b2cf"/>
<path d="M0.81 4.19A1.36 1.36 0 1 1 3.19 2.85L3.42 3.31A1.34 1.34 0 1 0 1.09 4.63z" fill="#29aed3"/>
<path d="M0.68 3.98A1.37 1.37 0 1 1 3.07 2.63L3.3 3.07A1.35 1.35 0 1 0 0.95 4.41z" fill="#29aad6"/>
<path d="M0.55 3.78A1.39 1.39 0 1 1 2.96 2.41L3.19 2.85A1.36 1.36 0 1 0 0.81 4.19z" fill="#2ca6d8"/>
<path d="M0.43 3.58A1.4 1.4 0 1 1 2.86 2.2L3.07 2.63A1.37 1.37 0 1 0 0.68 3.98z" fill="#30a1d8"/>
<path d="M0.31 3.39A1.41 1.41 0 1 1 2.75 2L2.96 2.41A1.39 1.39 0 1 0 0.55 3.78z" fill="#339bd9"/>
<path d="M0.16 3.16A1.42 1.42 0 1 1 2.63 1.75L2.86 2.2A1.4 1.4 0 1 0 0.43 3.58z" fill="#3597da"/>
<path d="M0.02 2.93A1.44 1.44 0 1 1 2.51 1.52L2.75 2A1.41 1.41 0 1 0 0.31 3.39z" fill="#3592dc"/>
<path d="M-0.12 2.72A1.45 1.45 0 1 1 2.4 1.29L2.63 1.75A1.42 1.42 0 1 0 0.16 3.16z" fill="#338ede"/>
<path d="M-0.25 2.52A1.46 1.46 0 1 1 2.29 1.08L2.51 1.52A1.44 1.44 0 1 0 0.02 2.93z" fill="#308ae0"/>
<path d="M-0.37 2.33A1.48 1.48 0 1 1 2.19 0.87L2.4 1.29A1.45 1.45 0 1 0 -0.12 2.72z" fill="#2b85e2"/>
<path d="M-0.52 2.11A1.49 1.49 0 1 1 2.08 0.63L2.29 1.08A1.46 1.46 0 1 0 -0.25 2.52z" fill="#2580e4"/>
<path d="M-0.66 1.9A1.51 1.51 0 1 1 1.97 0.41L2.19 0.87A1.48 1.48 0 1 0 -0.37 2.33z" fill="#207ae5"/>
<path d="M-0.78 1.72A1.53 1.53 0 1 1 1.88 0.21L2.08 0.63A1.49 1.49 0 1 0 -0.52 2.11z" fill="#2471e3"/>
<path d="M-0.92 1.51A1.55 1.55 0 1 1 1.77-0.02L1.97 0.41A1.51 1.51 0 1 0 -0.66 1.9z" fill="#3167dc"/>
<path d="M-1.08 1.29A1.58 1.58 0 1 1 1.66-0.26L1.88 0.21A1.53 1.53 0 1 0 -0.78 1.72z" fill="#3c5cce"/>
<path d="M-1.23 1.09A1.61 1.61 0 1 1 1.57-0.5L1.77-0.02A1.55 1.55 0 1 0 -0.92 1.51z" fill="#404dc3"/>
<path d="M-1.42 0.89A1.68 1.68 0 1 1 1.49-0.77L1.66-0.26A1.58 1.58 0 1 0 -1.08 1.29z" fill="#3f42b7"/>
<path d="M-1.43 1.08A1.78 1.78 0 1 1 1.66-0.68L1.57-0.5A1.61 1.61 0 1 0 -1.23 1.09z" fill="#3a35a8"/>
<path d="M-1.35 1.3A1.82 1.82 0 1 1 1.81-0.49L1.49-0.77A1.68 1.68 0 1 0 -1.42 0.89z" fill="#362fa3"/>
<path d="M-1.25 1.54A1.85 1.85 0 1 1 1.97-0.29L1.66-0.68A1.78 1.78 0 1 0 -1.43 1.08z" fill="#3c3aaf"/>
<path d="M-1.16 1.77A1.88 1.88 0 1 1 2.11-0.09L1.81-0.49A1.82 1.82 0 1 0 -1.35 1.3z" fill="#3e44bb"/>
<path d="M-1.05 2.02A1.91 1.91 0 1 1 2.27 0.14L1.97-0.29A1.85 1.85 0 1 0 -1.25 1.54z" fill="#3c4dc5"/>
<path d="M-0.95 2.24A1.93 1.93 0 1 1 2.41 0.33L2.11-0.09A1.88 1.88 0 1 0 -1.16 1.77z" fill="#375dd2"/>
<path d="M-0.84 2.47A1.95 1.95 0 1 1 2.55 0.54L2.27 0.14A1.91 1.91 0 1 0 -1.05 2.02z" fill="#2768de"/>
<path d="M-0.73 2.71A1.97 1.97 0 1 1 2.7 0.77L2.41 0.33A1.93 1.93 0 1 0 -0.95 2.24z" fill="#1a71e4"/>
<path d="M-0.63 2.92A1.99 1.99 0 1 1 2.83 0.95L2.55 0.54A1.95 1.95 0 1 0 -0.84 2.47z" fill="#1b78e4"/>
<path d="M-0.53 3.13A2.01 2.01 0 1 1 2.96 1.15L2.7 0.77A1.97 1.97 0 1 0 -0.73 2.71z" fill="#1f7de2"/>
<path d="M-0.43 3.34A2.02 2.02 0 1 1 3.09 1.34L2.83 0.95A1.99 1.99 0 1 0 -0.63 2.92z" fill="#2482e1"/>
<path d="M-0.33 3.55A2.04 2.04 0 1 1 3.22 1.54L2.96 1.15A2.01 2.01 0 1 0 -0.53 3.13z" fill="#2886df"/>
<path d="M-0.22 3.77A2.06 2.06 0 1 1 3.35 1.74L3.09 1.34A2.02 2.02 0 1 0 -0.43 3.34z" fill="#2c8adc"/>
<path d="M-0.12 3.99A2.07 2.07 0 1 1 3.49 1.95L3.22 1.54A2.04 2.04 0 1 0 -0.33 3.55z" fill="#2e8eda"/>
<path d="M-0.01 4.21A2.09 2.09 0 1 1 3.62 2.15L3.35 1.74A2.06 2.06 0 1 0 -0.22 3.77z" fill="#2e93d8"/>
<path d="M0.09 4.43A2.11 2.11 0 1 1 3.76 2.35L3.49 1.95A2.07 2.07 0 1 0 -0.12 3.99z" fill="#2c98d7"/>
<path d="M0.2 4.65A2.13 2.13 0 1 1 3.89 2.55L3.62 2.15A2.09 2.09 0 1 0 -0.01 4.21z" fill="#289dd7"/>
<path d="M0.3 4.87A2.14 2.14 0 1 1 4.03 2.75L3.76 2.35A2.11 2.11 0 1 0 0.09 4.43z" fill="#24a2d6"/>
<path d="M0.4 5.08A2.16 2.16 0 1 1 4.16 2.95L3.89 2.55A2.13 2.13 0 1 0 0.2 4.65z" fill="#21a7d5"/>
<path d="M0.5 5.28A2.18 2.18 0 1 1 4.28 3.13L4.03 2.75A2.14 2.14 0 1 0 0.3 4.87z" fill="#20abd2"/>
<path d="M0.61 5.53A2.2 2.2 0 1 1 4.44 3.36L4.16 2.95A2.16 2.16 0 1 0 0.4 5.08z" fill="#1faece"/>
<path d="M0.72 5.77A2.22 2.22 0 1 1 4.59 3.58L4.28 3.13A2.18 2.18 0 1 0 0.5 5.28z" fill="#1fb1ca"/>
<path d="M0.83 6A2.24 2.24 0 1 1 4.73 3.78L4.44 3.36A2.2 2.2 0 1 0 0.61 5.53z" fill="#21b4c4"/>
<path d="M0.92 6.21A2.26 2.26 0 1 1 4.86 3.97L4.59 3.58A2.22 2.22 0 1 0 0.72 5.77z" fill="#26b6be"/>
<path d="M1.03 6.45A2.29 2.29 0 1 1 5.01 4.19L4.73 3.78A2.24 2.24 0 1 0 0.83 6z" fill="#2cb8b8"/>
<path d="M1.12 6.66A2.32 2.32 0 1 1 5.15 4.37L4.86 3.97A2.26 2.26 0 1 0 0.92 6.21z" fill="#33bab2"/>
<path d="M1.21 6.88A2.35 2.35 0 1 1 5.29 4.56L5.01 4.19A2.29 2.29 0 1 0 1.03 6.45z" fill="#3abbab"/>
<path d="M1.29 7.13A2.4 2.4 0 1 1 5.46 4.76L5.15 4.37A2.32 2.32 0 1 0 1.12 6.66z" fill="#42bda3"/>
<path d="M1.11 7.15A2.56 2.56 0 1 1 5.57 4.62L5.29 4.56A2.35 2.35 0 1 0 1.21 6.88z" fill="#4bbd9a"/>
<path d="M0.92 6.95A2.63 2.63 0 1 1 5.49 4.35L5.46 4.76A2.4 2.4 0 1 0 1.29 7.13z" fill="#4abc94"/>
<path d="M0.77 6.77A2.67 2.67 0 1 1 5.42 4.13L5.57 4.62A2.56 2.56 0 1 0 1.11 7.15z" fill="#46bc9c"/>
<path d="M0.61 6.56A2.71 2.71 0 1 1 5.32 3.88L5.49 4.35A2.63 2.63 0 1 0 0.92 6.95z" fill="#3cbba5"/>
<path d="M0.46 6.37A2.75 2.75 0 1 1 5.23 3.66L5.42 4.13A2.67 2.67 0 1 0 0.77 6.77z" fill="#33b9ac"/>
<path d="M0.3 6.16A2.78 2.78 0 1 1 5.13 3.42L5.32 3.88A2.71 2.71 0 1 0 0.61 6.56z" fill="#2ab7b3"/>
<path d="M0.14 5.94A2.81 2.81 0 1 1 5.03 3.16L5.23 3.66A2.75 2.75 0 1 0 0.46 6.37z" fill="#22b5ba"/>
<path d="M0 5.76A2.84 2.84 0 1 1 4.94 2.95L5.13 3.42A2.78 2.78 0 1 0 0.3 6.16z" fill="#1cb2c0"/>
<path d="M-0.13 5.57A2.87 2.87 0 1 1 4.85 2.74L5.03 3.16A2.81 2.81 0 1 0 0.14 5.94z" fill="#18afc5"/>
<path d="M-0.27 5.38A2.89 2.89 0 1 1 4.76 2.52L4.94 2.95A2.84 2.84 0 1 0 0 5.76z" fill="#17adca"/>
<path d="M-0.41 5.18A2.92 2.92 0 1 1 4.66 2.3L4.85 2.74A2.87 2.87 0 1 0 -0.13 5.57z" fill="#17aace"/>
<path d="M-0.56 4.99A2.95 2.95 0 1 1 4.57 2.08L4.76 2.52A2.89 2.89 0 1 0 -0.27 5.38z" fill="#17a6d1"/>
<path d="M-0.7 4.8A2.97 2.97 0 1 1 4.47 1.86L4.66 2.3A2.92 2.92 0 1 0 -0.41 5.18z" fill="#19a1d4"/>
<path d="M-0.84 4.6A3 3 0 1 1 4.38 1.64L4.57 2.08A2.95 2.95 0 1 0 -0.56 4.99z" fill="#1c9cd5"/>
<path d="M-0.97 4.42A3.03 3.03 0 1 1 4.29 1.43L4.47 1.86A2.97 2.97 0 1 0 -0.7 4.8z" fill="#2096d5"/>
<path d="M-1.11 4.24A3.06 3.06 0 1 1 4.2 1.22L4.38 1.64A3 3 0 1 0 -0.84 4.6z" fill="#2391d6"/>
<path d="M-1.27 4.02A3.09 3.09 0 1 1 4.1 0.97L4.29 1.43A3.03 3.03 0 1 0 -0.97 4.42z" fill="#248cd7"/>
<path d="M-1.43 3.8A3.12 3.12 0 1 1 4 0.72L4.2 1.22A3.06 3.06 0 1 0 -1.11 4.24z" fill="#2287d9"/>
<path d="M-1.58 3.61A3.16 3.16 0 1 1 3.91 0.49L4.1 0.97A3.09 3.09 0 1 0 -1.27 4.02z" fill="#1f82dc"/>
<path d="M-1.72 3.42A3.19 3.19 0 1 1 3.82 0.27L4 0.72A3.12 3.12 0 1 0 -1.43 3.8z" fill="#1b7dde"/>
<path d="M-1.89 3.2A3.23 3.23 0 1 1 3.72 0.01L3.91 0.49A3.16 3.16 0 1 0 -1.58 3.61z" fill="#1578e0"/>
<path d="M-2.05 3.01A3.27 3.27 0 1 1 3.64-0.22L3.82 0.27A3.19 3.19 0 1 0 -1.72 3.42z" fill="#1072e2"/>
<path d="M-2.23 2.8A3.33 3.33 0 1 1 3.55-0.48L3.72 0.01A3.23 3.23 0 1 0 -1.89 3.2z" fill="#0e6be2"/>
<path d="M-2.4 2.62A3.38 3.38 0 1 1 3.48-0.71L3.64-0.22A3.27 3.27 0 1 0 -2.05 3.01z" fill="#1a62de"/>
<path d="M-2.57 2.44A3.44 3.44 0 1 1 3.41-0.96L3.55-0.48A3.33 3.33 0 1 0 -2.23 2.8z" fill="#2c56d1"/>
<path d="M-2.76 2.27A3.53 3.53 0 1 1 3.37-1.21L3.48-0.71A3.38 3.38 0 1 0 -2.4 2.62z" fill="#3346c4"/>
<path d="M-2.99 2.13A3.65 3.65 0 1 1 3.36-1.48L3.41-0.96A3.44 3.44 0 1 0 -2.57 2.44z" fill="#363eb9"/>
<path d="M-3.21 2.07A3.81 3.81 0 1 1 3.42-1.69L3.37-1.21A3.53 3.53 0 1 0 -2.76 2.27z" fill="#3635ae"/>
<path d="M-3.38 2.1A3.97 3.97 0 1 1 3.53-1.83L3.36-1.48A3.65 3.65 0 1 0 -2.99 2.13z" fill="#352ea3"/>
<path d="M-3.4 2.1A4 4 0 1 1 3.55-1.84L3.42-1.69A3.81 3.81 0 1 0 -3.21 2.07z" fill="#332a9d"/>
<path d="M-3.4 2.1A4 4 0 1 1 3.55-1.84L3.53-1.83A3.97 3.97 0 1 0 -3.38 2.1z" fill="#33289b"/>
</g>
<path d="M61.8 17.3L61.8 74.8L95.7 104.8L155.4 87.6M61.8 74.8h1.6M61.8 46h1.6M61.8 17.3h1.6" stroke="#6e6e6e" stroke-width="1.1" fill="none"/>
<text x="57.8" y="75.4" text-anchor="end" font-size="9.3" fill="#2c2c2c">0</text>
<text x="57.8" y="46.6" text-anchor="end" font-size="9.3" fill="#2c2c2c">3500</text>
<text x="57.8" y="17.9" text-anchor="end" font-size="9.3" fill="#2c2c2c">7000</text>
<text x="56.5" y="86.2" text-anchor="end" font-size="9.3" fill="#2c2c2c">4</text>
<text x="65" y="93.7" text-anchor="end" font-size="9.3" fill="#2c2c2c">2</text>
<text x="73.5" y="101.2" text-anchor="end" font-size="9.3" fill="#2c2c2c">0</text>
<text x="81.9" y="108.7" text-anchor="end" font-size="9.3" fill="#2c2c2c">-2</text>
<text x="90.4" y="116.2" text-anchor="end" font-size="9.3" fill="#2c2c2c">-4</text>
<text x="104.3" y="117.2" text-anchor="middle" font-size="9.3" fill="#2c2c2c">-4</text>
<text x="119.2" y="112.9" text-anchor="middle" font-size="9.3" fill="#2c2c2c">-2</text>
<text x="131.1" y="108.6" text-anchor="middle" font-size="9.3" fill="#2c2c2c">0</text>
<text x="146.1" y="104.3" text-anchor="middle" font-size="9.3" fill="#2c2c2c">2</text>
<text x="161" y="100" text-anchor="middle" font-size="9.3" fill="#2c2c2c">4</text>
<text x="65.6" y="105.2" text-anchor="middle" font-size="9.3" fill="#2c2c2c">y</text>
<text x="138" y="112.6" text-anchor="middle" font-size="9.3" fill="#2c2c2c">x</text>
<text x="73.4" y="27.9" text-anchor="middle" font-size="9.4" fill="#2c2c2c">(a1)</text>
<text x="144.8" y="37.9" text-anchor="middle" font-size="9.2" fill="#2c2c2c">z=0</text>
<path d="M205.5 70.5v-57.5M220.4 66.2v-57.5M235.4 61.9v-57.5M250.3 57.6v-57.5M258.8 65.1v-57.5M267.2 72.6v-57.5M275.7 80.1v-57.5M284.2 87.6v-57.5M190.6 74.8L250.3 57.6L284.2 87.6M190.6 46L250.3 28.8L284.2 58.8M190.6 17.3L250.3 0.1L284.2 30.1M199.1 82.3L258.8 65.1M205.5 70.5L239.4 100.5M207.6 89.8L267.2 72.6M220.4 66.2L254.3 96.2M216 97.3L275.7 80.1M235.4 61.9L269.3 91.9" stroke="#e4e4e4" stroke-width="0.8" fill="none"/>
<path d="M190.6 74.8L224.5 104.8L284.2 87.6L250.3 57.6z" fill="#322798"/>
<g transform="matrix(7.4625 -2.1500 -4.2375 -3.7500 237.4 81.2)">
<path d="M3.43-2.05A4 4 0 1 1 -3.52 1.9L-3.32 1.87A3.81 3.81 0 1 0 3.31-1.89z" fill="#33289b"/>
<path d="M3.41-2.03A3.97 3.97 0 1 1 -3.49 1.89L-3.1 1.94A3.65 3.65 0 1 0 3.25-1.67z" fill="#332a9d"/>
<path d="M3.31-1.89A3.81 3.81 0 1 1 -3.32 1.87L-2.87 2.09A3.53 3.53 0 1 0 3.26-1.39z" fill="#352ea3"/>
<path d="M3.25-1.67A3.65 3.65 0 1 1 -3.1 1.94L-2.68 2.26A3.44 3.44 0 1 0 3.31-1.14z" fill="#3635ae"/>
<path d="M3.26-1.39A3.53 3.53 0 1 1 -2.87 2.09L-2.5 2.44A3.38 3.38 0 1 0 3.38-0.89z" fill="#363eb9"/>
<path d="M3.31-1.14A3.44 3.44 0 1 1 -2.68 2.26L-2.33 2.63A3.33 3.33 0 1 0 3.45-0.66z" fill="#3346c4"/>
<path d="M3.38-0.89A3.38 3.38 0 1 1 -2.5 2.44L-2.15 2.84A3.27 3.27 0 1 0 3.54-0.39z" fill="#2c56d1"/>
<path d="M3.45-0.66A3.33 3.33 0 1 1 -2.33 2.63L-1.99 3.04A3.23 3.23 0 1 0 3.63-0.15z" fill="#1a62de"/>
<path d="M3.54-0.39A3.27 3.27 0 1 1 -2.15 2.84L-1.82 3.25A3.19 3.19 0 1 0 3.73 0.1z" fill="#0e6be2"/>
<path d="M3.63-0.15A3.23 3.23 0 1 1 -1.99 3.04L-1.67 3.44A3.16 3.16 0 1 0 3.81 0.33z" fill="#1072e2"/>
<path d="M3.73 0.1A3.19 3.19 0 1 1 -1.82 3.25L-1.52 3.64A3.12 3.12 0 1 0 3.91 0.56z" fill="#1578e0"/>
<path d="M3.81 0.33A3.16 3.16 0 1 1 -1.67 3.44L-1.36 3.85A3.09 3.09 0 1 0 4.01 0.81z" fill="#1b7dde"/>
<path d="M3.91 0.56A3.12 3.12 0 1 1 -1.52 3.64L-1.2 4.08A3.06 3.06 0 1 0 4.11 1.06z" fill="#1f82dc"/>
<path d="M4.01 0.81A3.09 3.09 0 1 1 -1.36 3.85L-1.06 4.26A3.03 3.03 0 1 0 4.2 1.27z" fill="#2287d9"/>
<path d="M4.11 1.06A3.06 3.06 0 1 1 -1.2 4.08L-0.92 4.45A3 3 0 1 0 4.29 1.49z" fill="#248cd7"/>
<path d="M4.2 1.27A3.03 3.03 0 1 1 -1.06 4.26L-0.78 4.64A2.97 2.97 0 1 0 4.39 1.7z" fill="#2391d6"/>
<path d="M4.29 1.49A3 3 0 1 1 -0.92 4.45L-0.64 4.83A2.95 2.95 0 1 0 4.48 1.92z" fill="#2096d5"/>
<path d="M4.39 1.7A2.97 2.97 0 1 1 -0.78 4.64L-0.5 5.03A2.92 2.92 0 1 0 4.58 2.15z" fill="#1c9cd5"/>
<path d="M4.48 1.92A2.95 2.95 0 1 1 -0.64 4.83L-0.36 5.22A2.89 2.89 0 1 0 4.67 2.37z" fill="#19a1d4"/>
<path d="M4.58 2.15A2.92 2.92 0 1 1 -0.5 5.03L-0.22 5.42A2.87 2.87 0 1 0 4.76 2.59z" fill="#17a6d1"/>
<path d="M4.67 2.37A2.89 2.89 0 1 1 -0.36 5.22L-0.08 5.61A2.84 2.84 0 1 0 4.86 2.8z" fill="#17aace"/>
<path d="M4.76 2.59A2.87 2.87 0 1 1 -0.22 5.42L0.05 5.79A2.81 2.81 0 1 0 4.95 3.01z" fill="#17adca"/>
<path d="M4.86 2.8A2.84 2.84 0 1 1 -0.08 5.61L0.22 6.01A2.78 2.78 0 1 0 5.05 3.27z" fill="#18afc5"/>
<path d="M4.95 3.01A2.81 2.81 0 1 1 0.05 5.79L0.38 6.22A2.75 2.75 0 1 0 5.15 3.51z" fill="#1cb2c0"/>
<path d="M5.05 3.27A2.78 2.78 0 1 1 0.22 6.01L0.53 6.42A2.71 2.71 0 1 0 5.24 3.74z" fill="#22b5ba"/>
<path d="M5.15 3.51A2.75 2.75 0 1 1 0.38 6.22L0.7 6.63A2.67 2.67 0 1 0 5.34 4z" fill="#2ab7b3"/>
<path d="M5.24 3.74A2.71 2.71 0 1 1 0.53 6.42L0.85 6.81A2.63 2.63 0 1 0 5.42 4.22z" fill="#33b9ac"/>
<path d="M5.34 4A2.67 2.67 0 1 1 0.7 6.63L1.04 7.01A2.56 2.56 0 1 0 5.49 4.48z" fill="#3cbba5"/>
<path d="M5.42 4.22A2.63 2.63 0 1 1 0.85 6.81L1.21 7A2.4 2.4 0 1 0 5.39 4.63z" fill="#46bc9c"/>
<path d="M5.49 4.48A2.56 2.56 0 1 1 1.04 7.01L1.14 6.76A2.35 2.35 0 1 0 5.22 4.44z" fill="#4abc94"/>
<path d="M5.39 4.63A2.4 2.4 0 1 1 1.21 7L1.05 6.54A2.32 2.32 0 1 0 5.08 4.25z" fill="#4bbd9a"/>
<path d="M5.22 4.44A2.35 2.35 0 1 1 1.14 6.76L0.96 6.33A2.29 2.29 0 1 0 4.94 4.07z" fill="#42bda3"/>
<path d="M5.08 4.25A2.32 2.32 0 1 1 1.05 6.54L0.86 6.09A2.26 2.26 0 1 0 4.79 3.86z" fill="#3abbab"/>
<path d="M4.94 4.07A2.29 2.29 0 1 1 0.96 6.33L0.76 5.88A2.24 2.24 0 1 0 4.66 3.67z" fill="#33bab2"/>
<path d="M4.79 3.86A2.26 2.26 0 1 1 0.86 6.09L0.66 5.66A2.22 2.22 0 1 0 4.52 3.46z" fill="#2cb8b8"/>
<path d="M4.66 3.67A2.24 2.24 0 1 1 0.76 5.88L0.55 5.42A2.2 2.2 0 1 0 4.37 3.25z" fill="#26b6be"/>
<path d="M4.52 3.46A2.22 2.22 0 1 1 0.66 5.66L0.43 5.17A2.18 2.18 0 1 0 4.22 3.02z" fill="#21b4c4"/>
<path d="M4.37 3.25A2.2 2.2 0 1 1 0.55 5.42L0.34 4.97A2.16 2.16 0 1 0 4.09 2.83z" fill="#1fb1ca"/>
<path d="M4.22 3.02A2.18 2.18 0 1 1 0.43 5.17L0.24 4.75A2.14 2.14 0 1 0 3.96 2.64z" fill="#1faece"/>
<path d="M4.09 2.83A2.16 2.16 0 1 1 0.34 4.97L0.13 4.54A2.13 2.13 0 1 0 3.83 2.44z" fill="#20abd2"/>
<path d="M3.96 2.64A2.14 2.14 0 1 1 0.24 4.75L0.03 4.32A2.11 2.11 0 1 0 3.7 2.24z" fill="#21a7d5"/>
<path d="M3.83 2.44A2.13 2.13 0 1 1 0.13 4.54L-0.07 4.1A2.09 2.09 0 1 0 3.56 2.04z" fill="#24a2d6"/>
<path d="M3.7 2.24A2.11 2.11 0 1 1 0.03 4.32L-0.18 3.89A2.07 2.07 0 1 0 3.43 1.84z" fill="#289dd7"/>
<path d="M3.56 2.04A2.09 2.09 0 1 1 -0.07 4.1L-0.28 3.67A2.06 2.06 0 1 0 3.29 1.63z" fill="#2c98d7"/>
<path d="M3.43 1.84A2.07 2.07 0 1 1 -0.18 3.89L-0.39 3.45A2.04 2.04 0 1 0 3.16 1.43z" fill="#2e93d8"/>
<path d="M3.29 1.63A2.06 2.06 0 1 1 -0.28 3.67L-0.49 3.23A2.02 2.02 0 1 0 3.03 1.24z" fill="#2e8eda"/>
<path d="M3.16 1.43A2.04 2.04 0 1 1 -0.39 3.45L-0.59 3.02A2.01 2.01 0 1 0 2.9 1.04z" fill="#2c8adc"/>
<path d="M3.03 1.24A2.02 2.02 0 1 1 -0.49 3.23L-0.69 2.81A1.99 1.99 0 1 0 2.77 0.85z" fill="#2886df"/>
<path d="M2.9 1.04A2.01 2.01 0 1 1 -0.59 3.02L-0.78 2.61A1.97 1.97 0 1 0 2.64 0.67z" fill="#2482e1"/>
<path d="M2.77 0.85A1.99 1.99 0 1 1 -0.69 2.81L-0.9 2.37A1.95 1.95 0 1 0 2.49 0.44z" fill="#1f7de2"/>
<path d="M2.64 0.67A1.97 1.97 0 1 1 -0.78 2.61L-1 2.14A1.93 1.93 0 1 0 2.35 0.23z" fill="#1b78e4"/>
<path d="M2.49 0.44A1.95 1.95 0 1 1 -0.9 2.37L-1.1 1.92A1.91 1.91 0 1 0 2.21 0.04z" fill="#1a71e4"/>
<path d="M2.35 0.23A1.93 1.93 0 1 1 -1 2.14L-1.21 1.67A1.88 1.88 0 1 0 2.06-0.19z" fill="#2768de"/>
<path d="M2.21 0.04A1.91 1.91 0 1 1 -1.1 1.92L-1.31 1.45A1.85 1.85 0 1 0 1.91-0.38z" fill="#375dd2"/>
<path d="M2.06-0.19A1.88 1.88 0 1 1 -1.21 1.67L-1.4 1.21A1.82 1.82 0 1 0 1.76-0.59z" fill="#3c4dc5"/>
<path d="M1.91-0.38A1.85 1.85 0 1 1 -1.31 1.45L-1.48 0.98A1.78 1.78 0 1 0 1.61-0.77z" fill="#3e44bb"/>
<path d="M1.76-0.59A1.82 1.82 0 1 1 -1.4 1.21L-1.47 0.8A1.68 1.68 0 1 0 1.44-0.85z" fill="#3c3aaf"/>
<path d="M1.61-0.77A1.78 1.78 0 1 1 -1.48 0.98L-1.28 1A1.61 1.61 0 1 0 1.52-0.59z" fill="#362fa3"/>
<path d="M1.44-0.85A1.68 1.68 0 1 1 -1.47 0.8L-1.12 1.21A1.58 1.58 0 1 0 1.62-0.35z" fill="#3a35a8"/>
<path d="M1.52-0.59A1.61 1.61 0 1 1 -1.28 1L-0.97 1.43A1.55 1.55 0 1 0 1.72-0.1z" fill="#3f42b7"/>
<path d="M1.62-0.35A1.58 1.58 0 1 1 -1.12 1.21L-0.83 1.64A1.53 1.53 0 1 0 1.83 0.13z" fill="#404dc3"/>
<path d="M1.72-0.1A1.55 1.55 0 1 1 -0.97 1.43L-0.7 1.82A1.51 1.51 0 1 0 1.93 0.33z" fill="#3c5cce"/>
<path d="M1.83 0.13A1.53 1.53 0 1 1 -0.83 1.64L-0.56 2.03A1.49 1.49 0 1 0 2.03 0.56z" fill="#3167dc"/>
<path d="M1.93 0.33A1.51 1.51 0 1 1 -0.7 1.82L-0.42 2.25A1.48 1.48 0 1 0 2.15 0.8z" fill="#2471e3"/>
<path d="M2.03 0.56A1.49 1.49 0 1 1 -0.56 2.03L-0.29 2.44A1.46 1.46 0 1 0 2.25 1z" fill="#207ae5"/>
<path d="M2.15 0.8A1.48 1.48 0 1 1 -0.42 2.25L-0.16 2.65A1.45 1.45 0 1 0 2.36 1.22z" fill="#2580e4"/>
<path d="M2.25 1A1.46 1.46 0 1 1 -0.29 2.44L-0.03 2.86A1.44 1.44 0 1 0 2.47 1.44z" fill="#2b85e2"/>
<path d="M2.36 1.22A1.45 1.45 0 1 1 -0.16 2.65L0.12 3.08A1.42 1.42 0 1 0 2.59 1.68z" fill="#308ae0"/>
<path d="M2.47 1.44A1.44 1.44 0 1 1 -0.03 2.86L0.26 3.32A1.41 1.41 0 1 0 2.71 1.93z" fill="#338ede"/>
<path d="M2.59 1.68A1.42 1.42 0 1 1 0.12 3.08L0.39 3.51A1.4 1.4 0 1 0 2.81 2.13z" fill="#3592dc"/>
<path d="M2.71 1.93A1.41 1.41 0 1 1 0.26 3.32L0.51 3.71A1.39 1.39 0 1 0 2.92 2.34z" fill="#3597da"/>
<path d="M2.81 2.13A1.4 1.4 0 1 1 0.39 3.51L0.64 3.91A1.37 1.37 0 1 0 3.03 2.56z" fill="#339bd9"/>
<path d="M2.92 2.34A1.39 1.39 0 1 1 0.51 3.71L0.77 4.12A1.36 1.36 0 1 0 3.14 2.78z" fill="#30a1d8"/>
<path d="M3.03 2.56A1.37 1.37 0 1 1 0.64 3.91L0.91 4.34A1.35 1.35 0 1 0 3.26 3z" fill="#2ca6d8"/>
<path d="M3.14 2.78A1.36 1.36 0 1 1 0.77 4.12L1.05 4.56A1.34 1.34 0 1 0 3.38 3.24z" fill="#29aad6"/>
<path d="M3.26 3A1.35 1.35 0 1 1 0.91 4.34L1.19 4.79A1.33 1.33 0 1 0 3.5 3.47z" fill="#29aed3"/>
<path d="M3.38 3.24A1.34 1.34 0 1 1 1.05 4.56L1.33 5.02A1.32 1.32 0 1 0 3.63 3.71z" fill="#29b2cf"/>
<path d="M3.5 3.47A1.33 1.33 0 1 1 1.19 4.79L1.48 5.25A1.31 1.31 0 1 0 3.75 3.96z" fill="#29b5cb"/>
<path d="M3.63 3.71A1.32 1.32 0 1 1 1.33 5.02L1.62 5.49A1.3 1.3 0 1 0 3.88 4.21z" fill="#2db8c6"/>
<path d="M3.75 3.96A1.31 1.31 0 1 1 1.48 5.25L1.77 5.73A1.29 1.29 0 1 0 4.01 4.46z" fill="#34bbc0"/>
<path d="M3.88 4.21A1.3 1.3 0 1 1 1.62 5.49L1.92 5.97A1.28 1.28 0 1 0 4.14 4.71z" fill="#3dbeba"/>
<path d="M4.01 4.46A1.29 1.29 0 1 1 1.77 5.73L2.08 6.22A1.27 1.27 0 1 0 4.28 4.97z" fill="#47c0b3"/>
<path d="M4.14 4.71A1.28 1.28 0 1 1 1.92 5.97L2.23 6.47A1.25 1.25 0 1 0 4.41 5.23z" fill="#52c2ac"/>
<path d="M4.28 4.97A1.27 1.27 0 1 1 2.08 6.22L2.39 6.72A1.24 1.24 0 1 0 4.55 5.49z" fill="#5fc4a5"/>
<path d="M4.41 5.23A1.25 1.25 0 1 1 2.23 6.47L2.54 6.97A1.23 1.23 0 1 0 4.68 5.76z" fill="#6dc69d"/>
<path d="M4.55 5.49A1.24 1.24 0 1 1 2.39 6.72L2.7 7.22A1.22 1.22 0 1 0 4.82 6.02z" fill="#7cc796"/>
<path d="M4.68 5.76A1.23 1.23 0 1 1 2.54 6.97L2.86 7.48A1.21 1.21 0 1 0 4.96 6.28z" fill="#8ac890"/>
<path d="M4.82 6.02A1.22 1.22 0 1 1 2.7 7.22L3.01 7.73A1.2 1.2 0 1 0 5.1 6.55z" fill="#98c88a"/>
<path d="M4.96 6.28A1.21 1.21 0 1 1 2.86 7.48L3.17 7.98A1.19 1.19 0 1 0 5.23 6.81z" fill="#a5c884"/>
<path d="M5.1 6.55A1.2 1.2 0 1 1 3.01 7.73L3.32 8.23A1.18 1.18 0 1 0 5.37 7.07z" fill="#b2c780"/>
<path d="M5.23 6.81A1.19 1.19 0 1 1 3.17 7.98L3.48 8.48A1.17 1.17 0 1 0 5.5 7.33z" fill="#bdc67b"/>
<path d="M5.37 7.07A1.18 1.18 0 1 1 3.32 8.23L3.63 8.73A1.16 1.16 0 1 0 5.64 7.59z" fill="#c8c677"/>
<path d="M5.5 7.33A1.17 1.17 0 1 1 3.48 8.48L3.78 8.97A1.14 1.14 0 1 0 5.77 7.84z" fill="#d3c572"/>
<path d="M5.64 7.59A1.16 1.16 0 1 1 3.63 8.73L3.93 9.21A1.13 1.13 0 1 0 5.9 8.09z" fill="#ddc46e"/>
<path d="M5.77 7.84A1.14 1.14 0 1 1 3.78 8.97L4.07 9.44A1.12 1.12 0 1 0 6.02 8.34z" fill="#e7c369"/>
<path d="M5.9 8.09A1.13 1.13 0 1 1 3.93 9.21L4.22 9.67A1.11 1.11 0 1 0 6.15 8.58z" fill="#f0c364"/>
<path d="M6.02 8.34A1.12 1.12 0 1 1 4.07 9.44L4.35 9.89A1.1 1.1 0 1 0 6.27 8.81z" fill="#f9c45e"/>
<path d="M6.15 8.58A1.11 1.11 0 1 1 4.22 9.67L4.49 10.11A1.09 1.09 0 1 0 6.38 9.03z" fill="#fec957"/>
<path d="M6.27 8.81A1.1 1.1 0 1 1 4.35 9.89L4.62 10.31A1.08 1.08 0 1 0 6.49 9.25z" fill="#fece51"/>
<path d="M6.38 9.03A1.09 1.09 0 1 1 4.49 10.11L4.74 10.51A1.07 1.07 0 1 0 6.6 9.45z" fill="#fdd44c"/>
<path d="M6.49 9.25A1.08 1.08 0 1 1 4.62 10.31L4.89 10.74A1.05 1.05 0 1 0 6.72 9.7z" fill="#fad947"/>
<path d="M6.6 9.45A1.07 1.07 0 1 1 4.74 10.51L5.02 10.94A1.04 1.04 0 1 0 6.83 9.92z" fill="#f8df43"/>
<path d="M6.72 9.7A1.05 1.05 0 1 1 4.89 10.74L5.16 11.16A1.02 1.02 0 1 0 6.94 10.15z" fill="#f6e63e"/>
<path d="M6.83 9.92A1.04 1.04 0 1 1 5.02 10.94L5.3 11.36A1 1 0 1 0 7.04 10.38z" fill="#f6ec34"/>
<path d="M6.94 10.15A1.02 1.02 0 1 1 5.16 11.16L5.3 11.19A0.92 0.92 0 1 0 6.9 10.28z" fill="#f7f427"/>
<path d="M7.04 10.38A1 1 0 1 1 5.3 11.36L5.2 10.96A0.89 0.89 0 1 0 6.74 10.08z" fill="#f7f515"/>
<path d="M6.9 10.28A0.92 0.92 0 1 1 5.3 11.19L5.1 10.72A0.86 0.86 0 1 0 6.59 9.87z" fill="#f6ee24"/>
<path d="M6.74 10.08A0.89 0.89 0 1 1 5.2 10.96L4.99 10.49A0.84 0.84 0 1 0 6.45 9.66z" fill="#f5e62e"/>
<path d="M6.59 9.87A0.86 0.86 0 1 1 5.1 10.72L4.9 10.29A0.82 0.82 0 1 0 6.32 9.48z" fill="#f7e036"/>
<path d="M6.45 9.66A0.84 0.84 0 1 1 4.99 10.49L4.79 10.06A0.8 0.8 0 1 0 6.19 9.27z" fill="#f9da3d"/>
<path d="M6.32 9.48A0.82 0.82 0 1 1 4.9 10.29L4.68 9.83A0.79 0.79 0 1 0 6.04 9.05z" fill="#fcd544"/>
<path d="M6.19 9.27A0.8 0.8 0 1 1 4.79 10.06L4.58 9.62A0.77 0.77 0 1 0 5.92 8.86z" fill="#fecf4a"/>
<path d="M6.04 9.05A0.79 0.79 0 1 1 4.68 9.83L4.47 9.41A0.76 0.76 0 1 0 5.79 8.66z" fill="#ffca51"/>
<path d="M5.92 8.86A0.77 0.77 0 1 1 4.58 9.62L4.36 9.19A0.74 0.74 0 1 0 5.66 8.46z" fill="#fcc659"/>
<path d="M5.79 8.66A0.76 0.76 0 1 1 4.47 9.41L4.25 8.96A0.73 0.73 0 1 0 5.52 8.24z" fill="#f6c360"/>
<path d="M5.66 8.46A0.74 0.74 0 1 1 4.36 9.19L4.13 8.72A0.72 0.72 0 1 0 5.38 8.02z" fill="#eec366"/>
<path d="M5.52 8.24A0.73 0.73 0 1 1 4.25 8.96L4.01 8.48A0.7 0.7 0 1 0 5.23 7.78z" fill="#e5c36a"/>
<path d="M5.38 8.02A0.72 0.72 0 1 1 4.13 8.72L3.9 8.28A0.69 0.69 0 1 0 5.11 7.59z" fill="#dbc46f"/>
<path d="M5.23 7.78A0.7 0.7 0 1 1 4.01 8.48L3.8 8.07A0.68 0.68 0 1 0 4.98 7.4z" fill="#d2c572"/>
<path d="M5.11 7.59A0.69 0.69 0 1 1 3.9 8.28L3.69 7.86A0.67 0.67 0 1 0 4.86 7.2z" fill="#cac676"/>
<path d="M4.98 7.4A0.68 0.68 0 1 1 3.8 8.07L3.59 7.65A0.66 0.66 0 1 0 4.73 7z" fill="#c1c679"/>
<path d="M4.86 7.2A0.67 0.67 0 1 1 3.69 7.86L3.48 7.43A0.65 0.65 0 1 0 4.6 6.79z" fill="#b8c77d"/>
<path d="M4.73 7A0.66 0.66 0 1 1 3.59 7.65L3.36 7.22A0.64 0.64 0 1 0 4.47 6.59z" fill="#afc781"/>
<path d="M4.6 6.79A0.65 0.65 0 1 1 3.48 7.43L3.25 6.99A0.63 0.63 0 1 0 4.34 6.38z" fill="#a5c885"/>
<path d="M4.47 6.59A0.64 0.64 0 1 1 3.36 7.22L3.14 6.77A0.62 0.62 0 1 0 4.21 6.16z" fill="#9ac889"/>
<path d="M4.34 6.38A0.63 0.63 0 1 1 3.25 6.99L3.02 6.55A0.6 0.6 0 1 0 4.07 5.95z" fill="#8ec88e"/>
<path d="M4.21 6.16A0.62 0.62 0 1 1 3.14 6.77L2.91 6.32A0.59 0.59 0 1 0 3.94 5.74z" fill="#81c894"/>
<path d="M4.07 5.95A0.6 0.6 0 1 1 3.02 6.55L2.79 6.09A0.58 0.58 0 1 0 3.8 5.52z" fill="#74c79a"/>
<path d="M3.94 5.74A0.59 0.59 0 1 1 2.91 6.32L2.67 5.87A0.57 0.57 0 1 0 3.67 5.3z" fill="#67c6a0"/>
<path d="M3.8 5.52A0.58 0.58 0 1 1 2.79 6.09L2.56 5.64A0.56 0.56 0 1 0 3.53 5.09z" fill="#5bc4a7"/>
<path d="M3.67 5.3A0.57 0.57 0 1 1 2.67 5.87L2.44 5.41A0.55 0.55 0 1 0 3.4 4.87z" fill="#50c2ae"/>
<path d="M3.53 5.09A0.56 0.56 0 1 1 2.56 5.64L2.33 5.19A0.54 0.54 0 1 0 3.26 4.65z" fill="#46c0b4"/>
<path d="M3.4 4.87A0.55 0.55 0 1 1 2.44 5.41L2.21 4.96A0.53 0.53 0 1 0 3.13 4.44z" fill="#3dbeba"/>
<path d="M3.26 4.65A0.54 0.54 0 1 1 2.33 5.19L2.1 4.73A0.52 0.52 0 1 0 2.99 4.22z" fill="#35bbbf"/>
<path d="M3.13 4.44A0.53 0.53 0 1 1 2.21 4.96L1.98 4.51A0.51 0.51 0 1 0 2.86 4.01z" fill="#2fb9c4"/>
<path d="M2.99 4.22A0.52 0.52 0 1 1 2.1 4.73L1.87 4.29A0.49 0.49 0 1 0 2.73 3.8z" fill="#2ab6c9"/>
<path d="M2.86 4.01A0.51 0.51 0 1 1 1.98 4.51L1.76 4.07A0.48 0.48 0 1 0 2.6 3.59z" fill="#29b3ce"/>
<path d="M2.73 3.8A0.49 0.49 0 1 1 1.87 4.29L1.65 3.86A0.47 0.47 0 1 0 2.47 3.39z" fill="#29b0d1"/>
<path d="M2.6 3.59A0.48 0.48 0 1 1 1.76 4.07L1.54 3.64A0.46 0.46 0 1 0 2.34 3.19z" fill="#29add5"/>
<path d="M2.47 3.39A0.47 0.47 0 1 1 1.65 3.86L1.43 3.43A0.45 0.45 0 1 0 2.21 2.99z" fill="#2aa9d7"/>
<path d="M2.34 3.19A0.46 0.46 0 1 1 1.54 3.64L1.33 3.23A0.44 0.44 0 1 0 2.09 2.79z" fill="#2da4d8"/>
<path d="M2.21 2.99A0.45 0.45 0 1 1 1.43 3.43L1.23 3.02A0.43 0.43 0 1 0 1.97 2.6z" fill="#319fd8"/>
<path d="M2.09 2.79A0.44 0.44 0 1 1 1.33 3.23L1.1 2.78A0.41 0.41 0 1 0 1.82 2.37z" fill="#349ad9"/>
<path d="M1.97 2.6A0.43 0.43 0 1 1 1.23 3.02L0.98 2.54A0.4 0.4 0 1 0 1.68 2.14z" fill="#3595da"/>
<path d="M1.82 2.37A0.41 0.41 0 1 1 1.1 2.78L0.87 2.31A0.39 0.39 0 1 0 1.54 1.93z" fill="#3491dc"/>
<path d="M1.68 2.14A0.4 0.4 0 1 1 0.98 2.54L0.76 2.09A0.37 0.37 0 1 0 1.4 1.72z" fill="#328cdf"/>
<path d="M1.54 1.93A0.39 0.39 0 1 1 0.87 2.31L0.65 1.87A0.36 0.36 0 1 0 1.28 1.52z" fill="#2f88e1"/>
<path d="M1.4 1.72A0.37 0.37 0 1 1 0.76 2.09L0.55 1.67A0.35 0.35 0 1 0 1.15 1.33z" fill="#2983e3"/>
<path d="M1.28 1.52A0.36 0.36 0 1 1 0.65 1.87L0.43 1.43A0.33 0.33 0 1 0 1.01 1.11z" fill="#247ee4"/>
<path d="M1.15 1.33A0.35 0.35 0 1 1 0.55 1.67L0.33 1.21A0.31 0.31 0 1 0 0.87 0.9z" fill="#2178e5"/>
<path d="M1.01 1.11A0.33 0.33 0 1 1 0.43 1.43L0.23 1A0.29 0.29 0 1 0 0.74 0.71z" fill="#276fe2"/>
<path d="M0.87 0.9A0.31 0.31 0 1 1 0.33 1.21L0.13 0.77A0.27 0.27 0 1 0 0.6 0.5z" fill="#3665d9"/>
<path d="M0.74 0.71A0.29 0.29 0 1 1 0.23 1L0.02 0.53A0.25 0.25 0 1 0 0.45 0.29z" fill="#3d55cb"/>
<path d="M0.6 0.5A0.27 0.27 0 1 1 0.13 0.77L-0.08 0.29A0.21 0.21 0 1 0 0.29 0.08z" fill="#414bc1"/>
<path d="M0.45 0.29A0.25 0.25 0 1 1 0.02 0.53L-0.13 0.09A0.16 0.16 0 1 0 0.15-0.07z" fill="#3f40b4"/>
<path d="M0.29 0.08A0.21 0.21 0 1 1 -0.08 0.29z" fill="#3a34a7"/>
<path d="M0.15-0.07A0.16 0.16 0 1 1 -0.13 0.09z" fill="#33299b"/>
<path d="M-0.07 0.31A0.21 0.21 0 1 1 0.3 0.1z" fill="#33299b"/>
<path d="M0.03 0.54A0.25 0.25 0 1 1 0.45 0.3L0.15-0.06A0.16 0.16 0 1 0 -0.13 0.1z" fill="#3a34a7"/>
<path d="M0.13 0.79A0.27 0.27 0 1 1 0.61 0.52L0.3 0.1A0.21 0.21 0 1 0 -0.07 0.31z" fill="#3f40b4"/>
<path d="M0.24 1.02A0.29 0.29 0 1 1 0.75 0.73L0.45 0.3A0.25 0.25 0 1 0 0.03 0.54z" fill="#414bc1"/>
<path d="M0.34 1.22A0.31 0.31 0 1 1 0.88 0.92L0.61 0.52A0.27 0.27 0 1 0 0.13 0.79z" fill="#3d55cb"/>
<path d="M0.44 1.45A0.33 0.33 0 1 1 1.02 1.12L0.75 0.73A0.29 0.29 0 1 0 0.24 1.02z" fill="#3665d9"/>
<path d="M0.56 1.69A0.35 0.35 0 1 1 1.16 1.35L0.88 0.92A0.31 0.31 0 1 0 0.34 1.22z" fill="#276fe2"/>
<path d="M0.66 1.89A0.36 0.36 0 1 1 1.29 1.54L1.02 1.12A0.33 0.33 0 1 0 0.44 1.45z" fill="#2178e5"/>
<path d="M0.77 2.11A0.37 0.37 0 1 1 1.42 1.74L1.16 1.35A0.35 0.35 0 1 0 0.56 1.69z" fill="#247ee4"/>
<path d="M0.88 2.33A0.39 0.39 0 1 1 1.55 1.95L1.29 1.54A0.36 0.36 0 1 0 0.66 1.89z" fill="#2983e3"/>
<path d="M0.99 2.56A0.4 0.4 0 1 1 1.69 2.16L1.42 1.74A0.37 0.37 0 1 0 0.77 2.11z" fill="#2f88e1"/>
<path d="M1.11 2.8A0.41 0.41 0 1 1 1.83 2.39L1.55 1.95A0.39 0.39 0 1 0 0.88 2.33z" fill="#328cdf"/>
<path d="M1.24 3.05A0.43 0.43 0 1 1 1.98 2.62L1.69 2.16A0.4 0.4 0 1 0 0.99 2.56z" fill="#3491dc"/>
<path d="M1.34 3.25A0.44 0.44 0 1 1 2.1 2.82L1.83 2.39A0.41 0.41 0 1 0 1.11 2.8z" fill="#3595da"/>
<path d="M1.44 3.46A0.45 0.45 0 1 1 2.23 3.01L1.98 2.62A0.43 0.43 0 1 0 1.24 3.05z" fill="#349ad9"/>
<path d="M1.55 3.67A0.46 0.46 0 1 1 2.35 3.21L2.1 2.82A0.44 0.44 0 1 0 1.34 3.25z" fill="#319fd8"/>
<path d="M1.66 3.88A0.47 0.47 0 1 1 2.48 3.41L2.23 3.01A0.45 0.45 0 1 0 1.44 3.46z" fill="#2da4d8"/>
<path d="M1.77 4.1A0.48 0.48 0 1 1 2.61 3.62L2.35 3.21A0.46 0.46 0 1 0 1.55 3.67z" fill="#2aa9d7"/>
<path d="M1.88 4.32A0.49 0.49 0 1 1 2.74 3.83L2.48 3.41A0.47 0.47 0 1 0 1.66 3.88z" fill="#29add5"/>
<path d="M2 4.54A0.51 0.51 0 1 1 2.87 4.04L2.61 3.62A0.48 0.48 0 1 0 1.77 4.1z" fill="#29b0d1"/>
<path d="M2.11 4.76A0.52 0.52 0 1 1 3.01 4.25L2.74 3.83A0.49 0.49 0 1 0 1.88 4.32z" fill="#29b3ce"/>
<path d="M2.23 4.99A0.53 0.53 0 1 1 3.14 4.47L2.87 4.04A0.51 0.51 0 1 0 2 4.54z" fill="#2ab6c9"/>
<path d="M2.34 5.21A0.54 0.54 0 1 1 3.28 4.68L3.01 4.25A0.52 0.52 0 1 0 2.11 4.76z" fill="#2fb9c4"/>
<path d="M2.46 5.44A0.55 0.55 0 1 1 3.41 4.9L3.14 4.47A0.53 0.53 0 1 0 2.23 4.99z" fill="#35bbbf"/>
<path d="M2.58 5.67A0.56 0.56 0 1 1 3.55 5.12L3.28 4.68A0.54 0.54 0 1 0 2.34 5.21z" fill="#3dbeba"/>
<path d="M2.69 5.9A0.57 0.57 0 1 1 3.68 5.33L3.41 4.9A0.55 0.55 0 1 0 2.46 5.44z" fill="#46c0b4"/>
<path d="M2.81 6.12A0.58 0.58 0 1 1 3.82 5.55L3.55 5.12A0.56 0.56 0 1 0 2.58 5.67z" fill="#50c2ae"/>
<path d="M2.93 6.35A0.59 0.59 0 1 1 3.96 5.77L3.68 5.33A0.57 0.57 0 1 0 2.69 5.9z" fill="#5bc4a7"/>
<path d="M3.04 6.58A0.6 0.6 0 1 1 4.09 5.98L3.82 5.55A0.58 0.58 0 1 0 2.81 6.12z" fill="#67c6a0"/>
<path d="M3.16 6.8A0.62 0.62 0 1 1 4.23 6.2L3.96 5.77A0.59 0.59 0 1 0 2.93 6.35z" fill="#74c79a"/>
<path d="M3.27 7.03A0.63 0.63 0 1 1 4.36 6.41L4.09 5.98A0.6 0.6 0 1 0 3.04 6.58z" fill="#81c894"/>
<path d="M3.38 7.25A0.64 0.64 0 1 1 4.49 6.62L4.23 6.2A0.62 0.62 0 1 0 3.16 6.8z" fill="#8ec88e"/>
<path d="M3.5 7.47A0.65 0.65 0 1 1 4.62 6.83L4.36 6.41A0.63 0.63 0 1 0 3.27 7.03z" fill="#9ac889"/>
<path d="M3.61 7.68A0.66 0.66 0 1 1 4.75 7.03L4.49 6.62A0.64 0.64 0 1 0 3.38 7.25z" fill="#a5c885"/>
<path d="M3.71 7.9A0.67 0.67 0 1 1 4.88 7.24L4.62 6.83A0.65 0.65 0 1 0 3.5 7.47z" fill="#afc781"/>
<path d="M3.82 8.11A0.68 0.68 0 1 1 5 7.43L4.75 7.03A0.66 0.66 0 1 0 3.61 7.68z" fill="#b8c77d"/>
<path d="M3.92 8.31A0.69 0.69 0 1 1 5.13 7.63L4.88 7.24A0.67 0.67 0 1 0 3.71 7.9z" fill="#c1c679"/>
<path d="M4.03 8.51A0.7 0.7 0 1 1 5.25 7.82L5 7.43A0.68 0.68 0 1 0 3.82 8.11z" fill="#cac676"/>
<path d="M4.15 8.76A0.72 0.72 0 1 1 5.4 8.05L5.13 7.63A0.69 0.69 0 1 0 3.92 8.31z" fill="#d2c572"/>
<path d="M4.27 9A0.73 0.73 0 1 1 5.54 8.28L5.25 7.82A0.7 0.7 0 1 0 4.03 8.51z" fill="#dbc46f"/>
<path d="M4.39 9.23A0.74 0.74 0 1 1 5.68 8.5L5.4 8.05A0.72 0.72 0 1 0 4.15 8.76z" fill="#e5c36a"/>
<path d="M4.5 9.45A0.76 0.76 0 1 1 5.81 8.7L5.54 8.28A0.73 0.73 0 1 0 4.27 9z" fill="#eec366"/>
<path d="M4.6 9.66A0.77 0.77 0 1 1 5.94 8.9L5.68 8.5A0.74 0.74 0 1 0 4.39 9.23z" fill="#f6c360"/>
<path d="M4.7 9.87A0.79 0.79 0 1 1 6.07 9.09L5.81 8.7A0.76 0.76 0 1 0 4.5 9.45z" fill="#fcc659"/>
<path d="M4.82 10.11A0.8 0.8 0 1 1 6.21 9.31L5.94 8.9A0.77 0.77 0 1 0 4.6 9.66z" fill="#ffca51"/>
<path d="M4.92 10.33A0.82 0.82 0 1 1 6.35 9.52L6.07 9.09A0.79 0.79 0 1 0 4.7 9.87z" fill="#fecf4a"/>
<path d="M5.02 10.53A0.84 0.84 0 1 1 6.47 9.71L6.21 9.31A0.8 0.8 0 1 0 4.82 10.11z" fill="#fcd544"/>
<path d="M5.12 10.76A0.86 0.86 0 1 1 6.62 9.91L6.35 9.52A0.82 0.82 0 1 0 4.92 10.33z" fill="#f9da3d"/>
<path d="M5.23 11A0.89 0.89 0 1 1 6.77 10.13L6.47 9.71A0.84 0.84 0 1 0 5.02 10.53z" fill="#f7e036"/>
<path d="M5.33 11.24A0.92 0.92 0 1 1 6.92 10.33L6.62 9.91A0.86 0.86 0 1 0 5.12 10.76z" fill="#f5e62e"/>
<path d="M5.33 11.42A1 1 0 1 1 7.07 10.43L6.77 10.13A0.89 0.89 0 1 0 5.23 11z" fill="#f6ee24"/>
<path d="M5.19 11.22A1.02 1.02 0 1 1 6.97 10.21L6.92 10.33A0.92 0.92 0 1 0 5.33 11.24z" fill="#f7f515"/>
<path d="M5.05 11A1.04 1.04 0 1 1 6.86 9.97L7.07 10.43A1 1 0 1 0 5.33 11.42z" fill="#f7f427"/>
<path d="M4.92 10.79A1.05 1.05 0 1 1 6.75 9.75L6.97 10.21A1.02 1.02 0 1 0 5.19 11.22z" fill="#f6ec34"/>
<path d="M4.77 10.56A1.07 1.07 0 1 1 6.63 9.51L6.86 9.97A1.04 1.04 0 1 0 5.05 11z" fill="#f6e63e"/>
<path d="M4.65 10.37A1.08 1.08 0 1 1 6.52 9.3L6.75 9.75A1.05 1.05 0 1 0 4.92 10.79z" fill="#f8df43"/>
<path d="M4.52 10.16A1.09 1.09 0 1 1 6.41 9.09L6.63 9.51A1.07 1.07 0 1 0 4.77 10.56z" fill="#fad947"/>
<path d="M4.39 9.95A1.1 1.1 0 1 1 6.3 8.87L6.52 9.3A1.08 1.08 0 1 0 4.65 10.37z" fill="#fdd44c"/>
<path d="M4.25 9.73A1.11 1.11 0 1 1 6.18 8.63L6.41 9.09A1.09 1.09 0 1 0 4.52 10.16z" fill="#fece51"/>
<path d="M4.11 9.5A1.12 1.12 0 1 1 6.06 8.39L6.3 8.87A1.1 1.1 0 1 0 4.39 9.95z" fill="#fec957"/>
<path d="M3.96 9.27A1.13 1.13 0 1 1 5.93 8.15L6.18 8.63A1.11 1.11 0 1 0 4.25 9.73z" fill="#f9c45e"/>
<path d="M3.81 9.03A1.14 1.14 0 1 1 5.8 7.9L6.06 8.39A1.12 1.12 0 1 0 4.11 9.5z" fill="#f0c364"/>
<path d="M3.66 8.79A1.16 1.16 0 1 1 5.67 7.65L5.93 8.15A1.13 1.13 0 1 0 3.96 9.27z" fill="#e7c369"/>
<path d="M3.51 8.54A1.17 1.17 0 1 1 5.54 7.39L5.8 7.9A1.14 1.14 0 1 0 3.81 9.03z" fill="#ddc46e"/>
<path d="M3.36 8.29A1.18 1.18 0 1 1 5.4 7.13L5.67 7.65A1.16 1.16 0 1 0 3.66 8.79z" fill="#d3c572"/>
<path d="M3.2 8.04A1.19 1.19 0 1 1 5.27 6.87L5.54 7.39A1.17 1.17 0 1 0 3.51 8.54z" fill="#c8c677"/>
<path d="M3.05 7.79A1.2 1.2 0 1 1 5.13 6.61L5.4 7.13A1.18 1.18 0 1 0 3.36 8.29z" fill="#bdc67b"/>
<path d="M2.89 7.54A1.21 1.21 0 1 1 4.99 6.35L5.27 6.87A1.19 1.19 0 1 0 3.2 8.04z" fill="#b2c780"/>
<path d="M2.73 7.29A1.22 1.22 0 1 1 4.86 6.08L5.13 6.61A1.2 1.2 0 1 0 3.05 7.79z" fill="#a5c884"/>
<path d="M2.58 7.04A1.23 1.23 0 1 1 4.72 5.82L4.99 6.35A1.21 1.21 0 1 0 2.89 7.54z" fill="#98c88a"/>
<path d="M2.42 6.78A1.24 1.24 0 1 1 4.58 5.56L4.86 6.08A1.22 1.22 0 1 0 2.73 7.29z" fill="#8ac890"/>
<path d="M2.27 6.53A1.25 1.25 0 1 1 4.45 5.3L4.72 5.82A1.23 1.23 0 1 0 2.58 7.04z" fill="#7cc796"/>
<path d="M2.12 6.29A1.27 1.27 0 1 1 4.31 5.04L4.58 5.56A1.24 1.24 0 1 0 2.42 6.78z" fill="#6dc69d"/>
<path d="M1.96 6.04A1.28 1.28 0 1 1 4.18 4.78L4.45 5.3A1.25 1.25 0 1 0 2.27 6.53z" fill="#5fc4a5"/>
<path d="M1.81 5.8A1.29 1.29 0 1 1 4.05 4.53L4.31 5.04A1.27 1.27 0 1 0 2.12 6.29z" fill="#52c2ac"/>
<path d="M1.66 5.56A1.3 1.3 0 1 1 3.92 4.27L4.18 4.78A1.28 1.28 0 1 0 1.96 6.04z" fill="#47c0b3"/>
<path d="M1.52 5.32A1.31 1.31 0 1 1 3.79 4.03L4.05 4.53A1.29 1.29 0 1 0 1.81 5.8z" fill="#3dbeba"/>
<path d="M1.37 5.08A1.32 1.32 0 1 1 3.66 3.78L3.92 4.27A1.3 1.3 0 1 0 1.66 5.56z" fill="#34bbc0"/>
<path d="M1.23 4.86A1.33 1.33 0 1 1 3.54 3.54L3.79 4.03A1.31 1.31 0 1 0 1.52 5.32z" fill="#2db8c6"/>
<path d="M1.09 4.63A1.34 1.34 0 1 1 3.42 3.31L3.66 3.78A1.32 1.32 0 1 0 1.37 5.08z" fill="#29b5cb"/>
<path d="M0.95 4.41A1.35 1.35 0 1 1 3.3 3.07L3.54 3.54A1.33 1.33 0 1 0 1.23 4.86z" fill="#29b2cf"/>
<path d="M0.81 4.19A1.36 1.36 0 1 1 3.19 2.85L3.42 3.31A1.34 1.34 0 1 0 1.09 4.63z" fill="#29aed3"/>
<path d="M0.68 3.98A1.37 1.37 0 1 1 3.07 2.63L3.3 3.07A1.35 1.35 0 1 0 0.95 4.41z" fill="#29aad6"/>
<path d="M0.55 3.78A1.39 1.39 0 1 1 2.96 2.41L3.19 2.85A1.36 1.36 0 1 0 0.81 4.19z" fill="#2ca6d8"/>
<path d="M0.43 3.58A1.4 1.4 0 1 1 2.86 2.2L3.07 2.63A1.37 1.37 0 1 0 0.68 3.98z" fill="#30a1d8"/>
<path d="M0.31 3.39A1.41 1.41 0 1 1 2.75 2L2.96 2.41A1.39 1.39 0 1 0 0.55 3.78z" fill="#339bd9"/>
<path d="M0.16 3.16A1.42 1.42 0 1 1 2.63 1.75L2.86 2.2A1.4 1.4 0 1 0 0.43 3.58z" fill="#3597da"/>
<path d="M0.02 2.93A1.44 1.44 0 1 1 2.51 1.52L2.75 2A1.41 1.41 0 1 0 0.31 3.39z" fill="#3592dc"/>
<path d="M-0.12 2.72A1.45 1.45 0 1 1 2.4 1.29L2.63 1.75A1.42 1.42 0 1 0 0.16 3.16z" fill="#338ede"/>
<path d="M-0.25 2.52A1.46 1.46 0 1 1 2.29 1.08L2.51 1.52A1.44 1.44 0 1 0 0.02 2.93z" fill="#308ae0"/>
<path d="M-0.37 2.33A1.48 1.48 0 1 1 2.19 0.87L2.4 1.29A1.45 1.45 0 1 0 -0.12 2.72z" fill="#2b85e2"/>
<path d="M-0.52 2.11A1.49 1.49 0 1 1 2.08 0.63L2.29 1.08A1.46 1.46 0 1 0 -0.25 2.52z" fill="#2580e4"/>
<path d="M-0.66 1.9A1.51 1.51 0 1 1 1.97 0.41L2.19 0.87A1.48 1.48 0 1 0 -0.37 2.33z" fill="#207ae5"/>
<path d="M-0.78 1.72A1.53 1.53 0 1 1 1.88 0.21L2.08 0.63A1.49 1.49 0 1 0 -0.52 2.11z" fill="#2471e3"/>
<path d="M-0.92 1.51A1.55 1.55 0 1 1 1.77-0.02L1.97 0.41A1.51 1.51 0 1 0 -0.66 1.9z" fill="#3167dc"/>
<path d="M-1.08 1.29A1.58 1.58 0 1 1 1.66-0.26L1.88 0.21A1.53 1.53 0 1 0 -0.78 1.72z" fill="#3c5cce"/>
<path d="M-1.23 1.09A1.61 1.61 0 1 1 1.57-0.5L1.77-0.02A1.55 1.55 0 1 0 -0.92 1.51z" fill="#404dc3"/>
<path d="M-1.42 0.89A1.68 1.68 0 1 1 1.49-0.77L1.66-0.26A1.58 1.58 0 1 0 -1.08 1.29z" fill="#3f42b7"/>
<path d="M-1.43 1.08A1.78 1.78 0 1 1 1.66-0.68L1.57-0.5A1.61 1.61 0 1 0 -1.23 1.09z" fill="#3a35a8"/>
<path d="M-1.35 1.3A1.82 1.82 0 1 1 1.81-0.49L1.49-0.77A1.68 1.68 0 1 0 -1.42 0.89z" fill="#362fa3"/>
<path d="M-1.25 1.54A1.85 1.85 0 1 1 1.97-0.29L1.66-0.68A1.78 1.78 0 1 0 -1.43 1.08z" fill="#3c3aaf"/>
<path d="M-1.16 1.77A1.88 1.88 0 1 1 2.11-0.09L1.81-0.49A1.82 1.82 0 1 0 -1.35 1.3z" fill="#3e44bb"/>
<path d="M-1.05 2.02A1.91 1.91 0 1 1 2.27 0.14L1.97-0.29A1.85 1.85 0 1 0 -1.25 1.54z" fill="#3c4dc5"/>
<path d="M-0.95 2.24A1.93 1.93 0 1 1 2.41 0.33L2.11-0.09A1.88 1.88 0 1 0 -1.16 1.77z" fill="#375dd2"/>
<path d="M-0.84 2.47A1.95 1.95 0 1 1 2.55 0.54L2.27 0.14A1.91 1.91 0 1 0 -1.05 2.02z" fill="#2768de"/>
<path d="M-0.73 2.71A1.97 1.97 0 1 1 2.7 0.77L2.41 0.33A1.93 1.93 0 1 0 -0.95 2.24z" fill="#1a71e4"/>
<path d="M-0.63 2.92A1.99 1.99 0 1 1 2.83 0.95L2.55 0.54A1.95 1.95 0 1 0 -0.84 2.47z" fill="#1b78e4"/>
<path d="M-0.53 3.13A2.01 2.01 0 1 1 2.96 1.15L2.7 0.77A1.97 1.97 0 1 0 -0.73 2.71z" fill="#1f7de2"/>
<path d="M-0.43 3.34A2.02 2.02 0 1 1 3.09 1.34L2.83 0.95A1.99 1.99 0 1 0 -0.63 2.92z" fill="#2482e1"/>
<path d="M-0.33 3.55A2.04 2.04 0 1 1 3.22 1.54L2.96 1.15A2.01 2.01 0 1 0 -0.53 3.13z" fill="#2886df"/>
<path d="M-0.22 3.77A2.06 2.06 0 1 1 3.35 1.74L3.09 1.34A2.02 2.02 0 1 0 -0.43 3.34z" fill="#2c8adc"/>
<path d="M-0.12 3.99A2.07 2.07 0 1 1 3.49 1.95L3.22 1.54A2.04 2.04 0 1 0 -0.33 3.55z" fill="#2e8eda"/>
<path d="M-0.01 4.21A2.09 2.09 0 1 1 3.62 2.15L3.35 1.74A2.06 2.06 0 1 0 -0.22 3.77z" fill="#2e93d8"/>
<path d="M0.09 4.43A2.11 2.11 0 1 1 3.76 2.35L3.49 1.95A2.07 2.07 0 1 0 -0.12 3.99z" fill="#2c98d7"/>
<path d="M0.2 4.65A2.13 2.13 0 1 1 3.89 2.55L3.62 2.15A2.09 2.09 0 1 0 -0.01 4.21z" fill="#289dd7"/>
<path d="M0.3 4.87A2.14 2.14 0 1 1 4.03 2.75L3.76 2.35A2.11 2.11 0 1 0 0.09 4.43z" fill="#24a2d6"/>
<path d="M0.4 5.08A2.16 2.16 0 1 1 4.16 2.95L3.89 2.55A2.13 2.13 0 1 0 0.2 4.65z" fill="#21a7d5"/>
<path d="M0.5 5.28A2.18 2.18 0 1 1 4.28 3.13L4.03 2.75A2.14 2.14 0 1 0 0.3 4.87z" fill="#20abd2"/>
<path d="M0.61 5.53A2.2 2.2 0 1 1 4.44 3.36L4.16 2.95A2.16 2.16 0 1 0 0.4 5.08z" fill="#1faece"/>
<path d="M0.72 5.77A2.22 2.22 0 1 1 4.59 3.58L4.28 3.13A2.18 2.18 0 1 0 0.5 5.28z" fill="#1fb1ca"/>
<path d="M0.83 6A2.24 2.24 0 1 1 4.73 3.78L4.44 3.36A2.2 2.2 0 1 0 0.61 5.53z" fill="#21b4c4"/>
<path d="M0.92 6.21A2.26 2.26 0 1 1 4.86 3.97L4.59 3.58A2.22 2.22 0 1 0 0.72 5.77z" fill="#26b6be"/>
<path d="M1.03 6.45A2.29 2.29 0 1 1 5.01 4.19L4.73 3.78A2.24 2.24 0 1 0 0.83 6z" fill="#2cb8b8"/>
<path d="M1.12 6.66A2.32 2.32 0 1 1 5.15 4.37L4.86 3.97A2.26 2.26 0 1 0 0.92 6.21z" fill="#33bab2"/>
<path d="M1.21 6.88A2.35 2.35 0 1 1 5.29 4.56L5.01 4.19A2.29 2.29 0 1 0 1.03 6.45z" fill="#3abbab"/>
<path d="M1.29 7.13A2.4 2.4 0 1 1 5.46 4.76L5.15 4.37A2.32 2.32 0 1 0 1.12 6.66z" fill="#42bda3"/>
<path d="M1.11 7.15A2.56 2.56 0 1 1 5.57 4.62L5.29 4.56A2.35 2.35 0 1 0 1.21 6.88z" fill="#4bbd9a"/>
<path d="M0.92 6.95A2.63 2.63 0 1 1 5.49 4.35L5.46 4.76A2.4 2.4 0 1 0 1.29 7.13z" fill="#4abc94"/>
<path d="M0.77 6.77A2.67 2.67 0 1 1 5.42 4.13L5.57 4.62A2.56 2.56 0 1 0 1.11 7.15z" fill="#46bc9c"/>
<path d="M0.61 6.56A2.71 2.71 0 1 1 5.32 3.88L5.49 4.35A2.63 2.63 0 1 0 0.92 6.95z" fill="#3cbba5"/>
<path d="M0.46 6.37A2.75 2.75 0 1 1 5.23 3.66L5.42 4.13A2.67 2.67 0 1 0 0.77 6.77z" fill="#33b9ac"/>
<path d="M0.3 6.16A2.78 2.78 0 1 1 5.13 3.42L5.32 3.88A2.71 2.71 0 1 0 0.61 6.56z" fill="#2ab7b3"/>
<path d="M0.14 5.94A2.81 2.81 0 1 1 5.03 3.16L5.23 3.66A2.75 2.75 0 1 0 0.46 6.37z" fill="#22b5ba"/>
<path d="M0 5.76A2.84 2.84 0 1 1 4.94 2.95L5.13 3.42A2.78 2.78 0 1 0 0.3 6.16z" fill="#1cb2c0"/>
<path d="M-0.13 5.57A2.87 2.87 0 1 1 4.85 2.74L5.03 3.16A2.81 2.81 0 1 0 0.14 5.94z" fill="#18afc5"/>
<path d="M-0.27 5.38A2.89 2.89 0 1 1 4.76 2.52L4.94 2.95A2.84 2.84 0 1 0 0 5.76z" fill="#17adca"/>
<path d="M-0.41 5.18A2.92 2.92 0 1 1 4.66 2.3L4.85 2.74A2.87 2.87 0 1 0 -0.13 5.57z" fill="#17aace"/>
<path d="M-0.56 4.99A2.95 2.95 0 1 1 4.57 2.08L4.76 2.52A2.89 2.89 0 1 0 -0.27 5.38z" fill="#17a6d1"/>
<path d="M-0.7 4.8A2.97 2.97 0 1 1 4.47 1.86L4.66 2.3A2.92 2.92 0 1 0 -0.41 5.18z" fill="#19a1d4"/>
<path d="M-0.84 4.6A3 3 0 1 1 4.38 1.64L4.57 2.08A2.95 2.95 0 1 0 -0.56 4.99z" fill="#1c9cd5"/>
<path d="M-0.97 4.42A3.03 3.03 0 1 1 4.29 1.43L4.47 1.86A2.97 2.97 0 1 0 -0.7 4.8z" fill="#2096d5"/>
<path d="M-1.11 4.24A3.06 3.06 0 1 1 4.2 1.22L4.38 1.64A3 3 0 1 0 -0.84 4.6z" fill="#2391d6"/>
<path d="M-1.27 4.02A3.09 3.09 0 1 1 4.1 0.97L4.29 1.43A3.03 3.03 0 1 0 -0.97 4.42z" fill="#248cd7"/>
<path d="M-1.43 3.8A3.12 3.12 0 1 1 4 0.72L4.2 1.22A3.06 3.06 0 1 0 -1.11 4.24z" fill="#2287d9"/>
<path d="M-1.58 3.61A3.16 3.16 0 1 1 3.91 0.49L4.1 0.97A3.09 3.09 0 1 0 -1.27 4.02z" fill="#1f82dc"/>
<path d="M-1.72 3.42A3.19 3.19 0 1 1 3.82 0.27L4 0.72A3.12 3.12 0 1 0 -1.43 3.8z" fill="#1b7dde"/>
<path d="M-1.89 3.2A3.23 3.23 0 1 1 3.72 0.01L3.91 0.49A3.16 3.16 0 1 0 -1.58 3.61z" fill="#1578e0"/>
<path d="M-2.05 3.01A3.27 3.27 0 1 1 3.64-0.22L3.82 0.27A3.19 3.19 0 1 0 -1.72 3.42z" fill="#1072e2"/>
<path d="M-2.23 2.8A3.33 3.33 0 1 1 3.55-0.48L3.72 0.01A3.23 3.23 0 1 0 -1.89 3.2z" fill="#0e6be2"/>
<path d="M-2.4 2.62A3.38 3.38 0 1 1 3.48-0.71L3.64-0.22A3.27 3.27 0 1 0 -2.05 3.01z" fill="#1a62de"/>
<path d="M-2.57 2.44A3.44 3.44 0 1 1 3.41-0.96L3.55-0.48A3.33 3.33 0 1 0 -2.23 2.8z" fill="#2c56d1"/>
<path d="M-2.76 2.27A3.53 3.53 0 1 1 3.37-1.21L3.48-0.71A3.38 3.38 0 1 0 -2.4 2.62z" fill="#3346c4"/>
<path d="M-2.99 2.13A3.65 3.65 0 1 1 3.36-1.48L3.41-0.96A3.44 3.44 0 1 0 -2.57 2.44z" fill="#363eb9"/>
<path d="M-3.21 2.07A3.81 3.81 0 1 1 3.42-1.69L3.37-1.21A3.53 3.53 0 1 0 -2.76 2.27z" fill="#3635ae"/>
<path d="M-3.38 2.1A3.97 3.97 0 1 1 3.53-1.83L3.36-1.48A3.65 3.65 0 1 0 -2.99 2.13z" fill="#352ea3"/>
<path d="M-3.4 2.1A4 4 0 1 1 3.55-1.84L3.42-1.69A3.81 3.81 0 1 0 -3.21 2.07z" fill="#332a9d"/>
<path d="M-3.4 2.1A4 4 0 1 1 3.55-1.84L3.53-1.83A3.97 3.97 0 1 0 -3.38 2.1z" fill="#33289b"/>
</g>
<path d="M190.6 17.3L190.6 74.8L224.5 104.8L284.2 87.6M190.6 74.8h1.6M190.6 46h1.6M190.6 17.3h1.6" stroke="#6e6e6e" stroke-width="1.1" fill="none"/>
<text x="186.6" y="75.4" text-anchor="end" font-size="9.3" fill="#2c2c2c">0</text>
<text x="186.6" y="46.6" text-anchor="end" font-size="9.3" fill="#2c2c2c">3500</text>
<text x="186.6" y="17.9" text-anchor="end" font-size="9.3" fill="#2c2c2c">7000</text>
<text x="185.3" y="86.2" text-anchor="end" font-size="9.3" fill="#2c2c2c">4</text>
<text x="193.8" y="93.7" text-anchor="end" font-size="9.3" fill="#2c2c2c">2</text>
<text x="202.2" y="101.2" text-anchor="end" font-size="9.3" fill="#2c2c2c">0</text>
<text x="210.7" y="108.7" text-anchor="end" font-size="9.3" fill="#2c2c2c">-2</text>
<text x="219.2" y="116.2" text-anchor="end" font-size="9.3" fill="#2c2c2c">-4</text>
<text x="233.1" y="117.2" text-anchor="middle" font-size="9.3" fill="#2c2c2c">-4</text>
<text x="248" y="112.9" text-anchor="middle" font-size="9.3" fill="#2c2c2c">-2</text>
<text x="259.9" y="108.6" text-anchor="middle" font-size="9.3" fill="#2c2c2c">0</text>
<text x="274.9" y="104.3" text-anchor="middle" font-size="9.3" fill="#2c2c2c">2</text>
<text x="289.8" y="100" text-anchor="middle" font-size="9.3" fill="#2c2c2c">4</text>
<text x="192.9" y="104.1" text-anchor="middle" font-size="9.3" fill="#2c2c2c">y</text>
<text x="267.2" y="112.3" text-anchor="middle" font-size="9.3" fill="#2c2c2c">x</text>
<text x="269.8" y="37.9" text-anchor="middle" font-size="9.2" fill="#2c2c2c">z=15</text>
<path d="M333.5 70.5v-57.5M348.5 66.2v-57.5M363.4 61.9v-57.5M378.3 57.6v-57.5M386.8 65.1v-57.5M395.3 72.6v-57.5M403.7 80.1v-57.5M412.2 87.6v-57.5M318.6 74.8L378.3 57.6L412.2 87.6M318.6 46L378.3 28.8L412.2 58.8M318.6 17.3L378.3 0.1L412.2 30.1M327.1 82.3L386.8 65.1M333.5 70.5L367.4 100.5M335.6 89.8L395.3 72.6M348.5 66.2L382.4 96.2M344 97.3L403.7 80.1M363.4 61.9L397.3 91.9" stroke="#e4e4e4" stroke-width="0.8" fill="none"/>
<path d="M318.6 74.8L352.5 104.8L412.2 87.6L378.3 57.6z" fill="#322798"/>
<g transform="matrix(7.4625 -2.1500 -4.2375 -3.7500 365.4 81.2)">
<path d="M3.43-2.05A4 4 0 1 1 -3.52 1.9L-3.32 1.87A3.81 3.81 0 1 0 3.31-1.89z" fill="#33289b"/>
<path d="M3.41-2.03A3.97 3.97 0 1 1 -3.49 1.89L-3.1 1.94A3.65 3.65 0 1 0 3.25-1.67z" fill="#332a9d"/>
<path d="M3.31-1.89A3.81 3.81 0 1 1 -3.32 1.87L-2.87 2.09A3.53 3.53 0 1 0 3.26-1.39z" fill="#352ea3"/>
<path d="M3.25-1.67A3.65 3.65 0 1 1 -3.1 1.94L-2.68 2.26A3.44 3.44 0 1 0 3.31-1.14z" fill="#3635ae"/>
<path d="M3.26-1.39A3.53 3.53 0 1 1 -2.87 2.09L-2.5 2.44A3.38 3.38 0 1 0 3.38-0.89z" fill="#363eb9"/>
<path d="M3.31-1.14A3.44 3.44 0 1 1 -2.68 2.26L-2.33 2.63A3.33 3.33 0 1 0 3.45-0.66z" fill="#3346c4"/>
<path d="M3.38-0.89A3.38 3.38 0 1 1 -2.5 2.44L-2.15 2.84A3.27 3.27 0 1 0 3.54-0.39z" fill="#2c56d1"/>
<path d="M3.45-0.66A3.33 3.33 0 1 1 -2.33 2.63L-1.99 3.04A3.23 3.23 0 1 0 3.63-0.15z" fill="#1a62de"/>
<path d="M3.54-0.39A3.27 3.27 0 1 1 -2.15 2.84L-1.82 3.25A3.19 3.19 0 1 0 3.73 0.1z" fill="#0e6be2"/>
<path d="M3.63-0.15A3.23 3.23 0 1 1 -1.99 3.04L-1.67 3.44A3.16 3.16 0 1 0 3.81 0.33z" fill="#1072e2"/>
<path d="M3.73 0.1A3.19 3.19 0 1 1 -1.82 3.25L-1.52 3.64A3.12 3.12 0 1 0 3.91 0.56z" fill="#1578e0"/>
<path d="M3.81 0.33A3.16 3.16 0 1 1 -1.67 3.44L-1.36 3.85A3.09 3.09 0 1 0 4.01 0.81z" fill="#1b7dde"/>
<path d="M3.91 0.56A3.12 3.12 0 1 1 -1.52 3.64L-1.2 4.08A3.06 3.06 0 1 0 4.11 1.06z" fill="#1f82dc"/>
<path d="M4.01 0.81A3.09 3.09 0 1 1 -1.36 3.85L-1.06 4.26A3.03 3.03 0 1 0 4.2 1.27z" fill="#2287d9"/>
<path d="M4.11 1.06A3.06 3.06 0 1 1 -1.2 4.08L-0.92 4.45A3 3 0 1 0 4.29 1.49z" fill="#248cd7"/>
<path d="M4.2 1.27A3.03 3.03 0 1 1 -1.06 4.26L-0.78 4.64A2.97 2.97 0 1 0 4.39 1.7z" fill="#2391d6"/>
<path d="M4.29 1.49A3 3 0 1 1 -0.92 4.45L-0.64 4.83A2.95 2.95 0 1 0 4.48 1.92z" fill="#2096d5"/>
<path d="M4.39 1.7A2.97 2.97 0 1 1 -0.78 4.64L-0.5 5.03A2.92 2.92 0 1 0 4.58 2.15z" fill="#1c9cd5"/>
<path d="M4.48 1.92A2.95 2.95 0 1 1 -0.64 4.83L-0.36 5.22A2.89 2.89 0 1 0 4.67 2.37z" fill="#19a1d4"/>
<path d="M4.58 2.15A2.92 2.92 0 1 1 -0.5 5.03L-0.22 5.42A2.87 2.87 0 1 0 4.76 2.59z" fill="#17a6d1"/>
<path d="M4.67 2.37A2.89 2.89 0 1 1 -0.36 5.22L-0.08 5.61A2.84 2.84 0 1 0 4.86 2.8z" fill="#17aace"/>
<path d="M4.76 2.59A2.87 2.87 0 1 1 -0.22 5.42L0.05 5.79A2.81 2.81 0 1 0 4.95 3.01z" fill="#17adca"/>
<path d="M4.86 2.8A2.84 2.84 0 1 1 -0.08 5.61L0.22 6.01A2.78 2.78 0 1 0 5.05 3.27z" fill="#18afc5"/>
<path d="M4.95 3.01A2.81 2.81 0 1 1 0.05 5.79L0.38 6.22A2.75 2.75 0 1 0 5.15 3.51z" fill="#1cb2c0"/>
<path d="M5.05 3.27A2.78 2.78 0 1 1 0.22 6.01L0.53 6.42A2.71 2.71 0 1 0 5.24 3.74z" fill="#22b5ba"/>
<path d="M5.15 3.51A2.75 2.75 0 1 1 0.38 6.22L0.7 6.63A2.67 2.67 0 1 0 5.34 4z" fill="#2ab7b3"/>
<path d="M5.24 3.74A2.71 2.71 0 1 1 0.53 6.42L0.85 6.81A2.63 2.63 0 1 0 5.42 4.22z" fill="#33b9ac"/>
<path d="M5.34 4A2.67 2.67 0 1 1 0.7 6.63L1.04 7.01A2.56 2.56 0 1 0 5.49 4.48z" fill="#3cbba5"/>
<path d="M5.42 4.22A2.63 2.63 0 1 1 0.85 6.81L1.21 7A2.4 2.4 0 1 0 5.39 4.63z" fill="#46bc9c"/>
<path d="M5.49 4.48A2.56 2.56 0 1 1 1.04 7.01L1.14 6.76A2.35 2.35 0 1 0 5.22 4.44z" fill="#4abc94"/>
<path d="M5.39 4.63A2.4 2.4 0 1 1 1.21 7L1.05 6.54A2.32 2.32 0 1 0 5.08 4.25z" fill="#4bbd9a"/>
<path d="M5.22 4.44A2.35 2.35 0 1 1 1.14 6.76L0.96 6.33A2.29 2.29 0 1 0 4.94 4.07z" fill="#42bda3"/>
<path d="M5.08 4.25A2.32 2.32 0 1 1 1.05 6.54L0.86 6.09A2.26 2.26 0 1 0 4.79 3.86z" fill="#3abbab"/>
<path d="M4.94 4.07A2.29 2.29 0 1 1 0.96 6.33L0.76 5.88A2.24 2.24 0 1 0 4.66 3.67z" fill="#33bab2"/>
<path d="M4.79 3.86A2.26 2.26 0 1 1 0.86 6.09L0.66 5.66A2.22 2.22 0 1 0 4.52 3.46z" fill="#2cb8b8"/>
<path d="M4.66 3.67A2.24 2.24 0 1 1 0.76 5.88L0.55 5.42A2.2 2.2 0 1 0 4.37 3.25z" fill="#26b6be"/>
<path d="M4.52 3.46A2.22 2.22 0 1 1 0.66 5.66L0.43 5.17A2.18 2.18 0 1 0 4.22 3.02z" fill="#21b4c4"/>
<path d="M4.37 3.25A2.2 2.2 0 1 1 0.55 5.42L0.34 4.97A2.16 2.16 0 1 0 4.09 2.83z" fill="#1fb1ca"/>
<path d="M4.22 3.02A2.18 2.18 0 1 1 0.43 5.17L0.24 4.75A2.14 2.14 0 1 0 3.96 2.64z" fill="#1faece"/>
<path d="M4.09 2.83A2.16 2.16 0 1 1 0.34 4.97L0.13 4.54A2.13 2.13 0 1 0 3.83 2.44z" fill="#20abd2"/>
<path d="M3.96 2.64A2.14 2.14 0 1 1 0.24 4.75L0.03 4.32A2.11 2.11 0 1 0 3.7 2.24z" fill="#21a7d5"/>
<path d="M3.83 2.44A2.13 2.13 0 1 1 0.13 4.54L-0.07 4.1A2.09 2.09 0 1 0 3.56 2.04z" fill="#24a2d6"/>
<path d="M3.7 2.24A2.11 2.11 0 1 1 0.03 4.32L-0.18 3.89A2.07 2.07 0 1 0 3.43 1.84z" fill="#289dd7"/>
<path d="M3.56 2.04A2.09 2.09 0 1 1 -0.07 4.1L-0.28 3.67A2.06 2.06 0 1 0 3.29 1.63z" fill="#2c98d7"/>
<path d="M3.43 1.84A2.07 2.07 0 1 1 -0.18 3.89L-0.39 3.45A2.04 2.04 0 1 0 3.16 1.43z" fill="#2e93d8"/>
<path d="M3.29 1.63A2.06 2.06 0 1 1 -0.28 3.67L-0.49 3.23A2.02 2.02 0 1 0 3.03 1.24z" fill="#2e8eda"/>
<path d="M3.16 1.43A2.04 2.04 0 1 1 -0.39 3.45L-0.59 3.02A2.01 2.01 0 1 0 2.9 1.04z" fill="#2c8adc"/>
<path d="M3.03 1.24A2.02 2.02 0 1 1 -0.49 3.23L-0.69 2.81A1.99 1.99 0 1 0 2.77 0.85z" fill="#2886df"/>
<path d="M2.9 1.04A2.01 2.01 0 1 1 -0.59 3.02L-0.78 2.61A1.97 1.97 0 1 0 2.64 0.67z" fill="#2482e1"/>
<path d="M2.77 0.85A1.99 1.99 0 1 1 -0.69 2.81L-0.9 2.37A1.95 1.95 0 1 0 2.49 0.44z" fill="#1f7de2"/>
<path d="M2.64 0.67A1.97 1.97 0 1 1 -0.78 2.61L-1 2.14A1.93 1.93 0 1 0 2.35 0.23z" fill="#1b78e4"/>
<path d="M2.49 0.44A1.95 1.95 0 1 1 -0.9 2.37L-1.1 1.92A1.91 1.91 0 1 0 2.21 0.04z" fill="#1a71e4"/>
<path d="M2.35 0.23A1.93 1.93 0 1 1 -1 2.14L-1.21 1.67A1.88 1.88 0 1 0 2.06-0.19z" fill="#2768de"/>
<path d="M2.21 0.04A1.91 1.91 0 1 1 -1.1 1.92L-1.31 1.45A1.85 1.85 0 1 0 1.91-0.38z" fill="#375dd2"/>
<path d="M2.06-0.19A1.88 1.88 0 1 1 -1.21 1.67L-1.4 1.21A1.82 1.82 0 1 0 1.76-0.59z" fill="#3c4dc5"/>
<path d="M1.91-0.38A1.85 1.85 0 1 1 -1.31 1.45L-1.48 0.98A1.78 1.78 0 1 0 1.61-0.77z" fill="#3e44bb"/>
<path d="M1.76-0.59A1.82 1.82 0 1 1 -1.4 1.21L-1.47 0.8A1.68 1.68 0 1 0 1.44-0.85z" fill="#3c3aaf"/>
<path d="M1.61-0.77A1.78 1.78 0 1 1 -1.48 0.98L-1.28 1A1.61 1.61 0 1 0 1.52-0.59z" fill="#362fa3"/>
<path d="M1.44-0.85A1.68 1.68 0 1 1 -1.47 0.8L-1.12 1.21A1.58 1.58 0 1 0 1.62-0.35z" fill="#3a35a8"/>
<path d="M1.52-0.59A1.61 1.61 0 1 1 -1.28 1L-0.97 1.43A1.55 1.55 0 1 0 1.72-0.1z" fill="#3f42b7"/>
<path d="M1.62-0.35A1.58 1.58 0 1 1 -1.12 1.21L-0.83 1.64A1.53 1.53 0 1 0 1.83 0.13z" fill="#404dc3"/>
<path d="M1.72-0.1A1.55 1.55 0 1 1 -0.97 1.43L-0.7 1.82A1.51 1.51 0 1 0 1.93 0.33z" fill="#3c5cce"/>
<path d="M1.83 0.13A1.53 1.53 0 1 1 -0.83 1.64L-0.56 2.03A1.49 1.49 0 1 0 2.03 0.56z" fill="#3167dc"/>
<path d="M1.93 0.33A1.51 1.51 0 1 1 -0.7 1.82L-0.42 2.25A1.48 1.48 0 1 0 2.15 0.8z" fill="#2471e3"/>
<path d="M2.03 0.56A1.49 1.49 0 1 1 -0.56 2.03L-0.29 2.44A1.46 1.46 0 1 0 2.25 1z" fill="#207ae5"/>
<path d="M2.15 0.8A1.48 1.48 0 1 1 -0.42 2.25L-0.16 2.65A1.45 1.45 0 1 0 2.36 1.22z" fill="#2580e4"/>
<path d="M2.25 1A1.46 1.46 0 1 1 -0.29 2.44L-0.03 2.86A1.44 1.44 0 1 0 2.47 1.44z" fill="#2b85e2"/>
<path d="M2.36 1.22A1.45 1.45 0 1 1 -0.16 2.65L0.12 3.08A1.42 1.42 0 1 0 2.59 1.68z" fill="#308ae0"/>
<path d="M2.47 1.44A1.44 1.44 0 1 1 -0.03 2.86L0.26 3.32A1.41 1.41 0 1 0 2.71 1.93z" fill="#338ede"/>
<path d="M2.59 1.68A1.42 1.42 0 1 1 0.12 3.08L0.39 3.51A1.4 1.4 0 1 0 2.81 2.13z" fill="#3592dc"/>
<path d="M2.71 1.93A1.41 1.41 0 1 1 0.26 3.32L0.51 3.71A1.39 1.39 0 1 0 2.92 2.34z" fill="#3597da"/>
<path d="M2.81 2.13A1.4 1.4 0 1 1 0.39 3.51L0.64 3.91A1.37 1.37 0 1 0 3.03 2.56z" fill="#339bd9"/>
<path d="M2.92 2.34A1.39 1.39 0 1 1 0.51 3.71L0.77 4.12A1.36 1.36 0 1 0 3.14 2.78z" fill="#30a1d8"/>
<path d="M3.03 2.56A1.37 1.37 0 1 1 0.64 3.91L0.91 4.34A1.35 1.35 0 1 0 3.26 3z" fill="#2ca6d8"/>
<path d="M3.14 2.78A1.36 1.36 0 1 1 0.77 4.12L1.05 4.56A1.34 1.34 0 1 0 3.38 3.24z" fill="#29aad6"/>
<path d="M3.26 3A1.35 1.35 0 1 1 0.91 4.34L1.19 4.79A1.33 1.33 0 1 0 3.5 3.47z" fill="#29aed3"/>
<path d="M3.38 3.24A1.34 1.34 0 1 1 1.05 4.56L1.33 5.02A1.32 1.32 0 1 0 3.63 3.71z" fill="#29b2cf"/>
<path d="M3.5 3.47A1.33 1.33 0 1 1 1.19 4.79L1.48 5.25A1.31 1.31 0 1 0 3.75 3.96z" fill="#29b5cb"/>
<path d="M3.63 3.71A1.32 1.32 0 1 1 1.33 5.02L1.62 5.49A1.3 1.3 0 1 0 3.88 4.21z" fill="#2db8c6"/>
<path d="M3.75 3.96A1.31 1.31 0 1 1 1.48 5.25L1.77 5.73A1.29 1.29 0 1 0 4.01 4.46z" fill="#34bbc0"/>
<path d="M3.88 4.21A1.3 1.3 0 1 1 1.62 5.49L1.92 5.97A1.28 1.28 0 1 0 4.14 4.71z" fill="#3dbeba"/>
<path d="M4.01 4.46A1.29 1.29 0 1 1 1.77 5.73L2.08 6.22A1.27 1.27 0 1 0 4.28 4.97z" fill="#47c0b3"/>
<path d="M4.14 4.71A1.28 1.28 0 1 1 1.92 5.97L2.23 6.47A1.25 1.25 0 1 0 4.41 5.23z" fill="#52c2ac"/>
<path d="M4.28 4.97A1.27 1.27 0 1 1 2.08 6.22L2.39 6.72A1.24 1.24 0 1 0 4.55 5.49z" fill="#5fc4a5"/>
<path d="M4.41 5.23A1.25 1.25 0 1 1 2.23 6.47L2.54 6.97A1.23 1.23 0 1 0 4.68 5.76z" fill="#6dc69d"/>
<path d="M4.55 5.49A1.24 1.24 0 1 1 2.39 6.72L2.7 7.22A1.22 1.22 0 1 0 4.82 6.02z" fill="#7cc796"/>
<path d="M4.68 5.76A1.23 1.23 0 1 1 2.54 6.97L2.86 7.48A1.21 1.21 0 1 0 4.96 6.28z" fill="#8ac890"/>
<path d="M4.82 6.02A1.22 1.22 0 1 1 2.7 7.22L3.01 7.73A1.2 1.2 0 1 0 5.1 6.55z" fill="#98c88a"/>
<path d="M4.96 6.28A1.21 1.21 0 1 1 2.86 7.48L3.17 7.98A1.19 1.19 0 1 0 5.23 6.81z" fill="#a5c884"/>
<path d="M5.1 6.55A1.2 1.2 0 1 1 3.01 7.73L3.32 8.23A1.18 1.18 0 1 0 5.37 7.07z" fill="#b2c780"/>
<path d="M5.23 6.81A1.19 1.19 0 1 1 3.17 7.98L3.48 8.48A1.17 1.17 0 1 0 5.5 7.33z" fill="#bdc67b"/>
<path d="M5.37 7.07A1.18 1.18 0 1 1 3.32 8.23L3.63 8.73A1.16 1.16 0 1 0 5.64 7.59z" fill="#c8c677"/>
<path d="M5.5 7.33A1.17 1.17 0 1 1 3.48 8.48L3.78 8.97A1.14 1.14 0 1 0 5.77 7.84z" fill="#d3c572"/>
<path d="M5.64 7.59A1.16 1.16 0 1 1 3.63 8.73L3.93 9.21A1.13 1.13 0 1 0 5.9 8.09z" fill="#ddc46e"/>
<path d="M5.77 7.84A1.14 1.14 0 1 1 3.78 8.97L4.07 9.44A1.12 1.12 0 1 0 6.02 8.34z" fill="#e7c369"/>
<path d="M5.9 8.09A1.13 1.13 0 1 1 3.93 9.21L4.22 9.67A1.11 1.11 0 1 0 6.15 8.58z" fill="#f0c364"/>
<path d="M6.02 8.34A1.12 1.12 0 1 1 4.07 9.44L4.35 9.89A1.1 1.1 0 1 0 6.27 8.81z" fill="#f9c45e"/>
<path d="M6.15 8.58A1.11 1.11 0 1 1 4.22 9.67L4.49 10.11A1.09 1.09 0 1 0 6.38 9.03z" fill="#fec957"/>
<path d="M6.27 8.81A1.1 1.1 0 1 1 4.35 9.89L4.62 10.31A1.08 1.08 0 1 0 6.49 9.25z" fill="#fece51"/>
<path d="M6.38 9.03A1.09 1.09 0 1 1 4.49 10.11L4.74 10.51A1.07 1.07 0 1 0 6.6 9.45z" fill="#fdd44c"/>
<path d="M6.49 9.25A1.08 1.08 0 1 1 4.62 10.31L4.89 10.74A1.05 1.05 0 1 0 6.72 9.7z" fill="#fad947"/>
<path d="M6.6 9.45A1.07 1.07 0 1 1 4.74 10.51L5.02 10.94A1.04 1.04 0 1 0 6.83 9.92z" fill="#f8df43"/>
<path d="M6.72 9.7A1.05 1.05 0 1 1 4.89 10.74L5.16 11.16A1.02 1.02 0 1 0 6.94 10.15z" fill="#f6e63e"/>
<path d="M6.83 9.92A1.04 1.04 0 1 1 5.02 10.94L5.3 11.36A1 1 0 1 0 7.04 10.38z" fill="#f6ec34"/>
<path d="M6.94 10.15A1.02 1.02 0 1 1 5.16 11.16L5.3 11.19A0.92 0.92 0 1 0 6.9 10.28z" fill="#f7f427"/>
<path d="M7.04 10.38A1 1 0 1 1 5.3 11.36L5.2 10.96A0.89 0.89 0 1 0 6.74 10.08z" fill="#f7f515"/>
<path d="M6.9 10.28A0.92 0.92 0 1 1 5.3 11.19L5.1 10.72A0.86 0.86 0 1 0 6.59 9.87z" fill="#f6ee24"/>
<path d="M6.74 10.08A0.89 0.89 0 1 1 5.2 10.96L4.99 10.49A0.84 0.84 0 1 0 6.45 9.66z" fill="#f5e62e"/>
<path d="M6.59 9.87A0.86 0.86 0 1 1 5.1 10.72L4.9 10.29A0.82 0.82 0 1 0 6.32 9.48z" fill="#f7e036"/>
<path d="M6.45 9.66A0.84 0.84 0 1 1 4.99 10.49L4.79 10.06A0.8 0.8 0 1 0 6.19 9.27z" fill="#f9da3d"/>
<path d="M6.32 9.48A0.82 0.82 0 1 1 4.9 10.29L4.68 9.83A0.79 0.79 0 1 0 6.04 9.05z" fill="#fcd544"/>
<path d="M6.19 9.27A0.8 0.8 0 1 1 4.79 10.06L4.58 9.62A0.77 0.77 0 1 0 5.92 8.86z" fill="#fecf4a"/>
<path d="M6.04 9.05A0.79 0.79 0 1 1 4.68 9.83L4.47 9.41A0.76 0.76 0 1 0 5.79 8.66z" fill="#ffca51"/>
<path d="M5.92 8.86A0.77 0.77 0 1 1 4.58 9.62L4.36 9.19A0.74 0.74 0 1 0 5.66 8.46z" fill="#fcc659"/>
<path d="M5.79 8.66A0.76 0.76 0 1 1 4.47 9.41L4.25 8.96A0.73 0.73 0 1 0 5.52 8.24z" fill="#f6c360"/>
<path d="M5.66 8.46A0.74 0.74 0 1 1 4.36 9.19L4.13 8.72A0.72 0.72 0 1 0 5.38 8.02z" fill="#eec366"/>
<path d="M5.52 8.24A0.73 0.73 0 1 1 4.25 8.96L4.01 8.48A0.7 0.7 0 1 0 5.23 7.78z" fill="#e5c36a"/>
<path d="M5.38 8.02A0.72 0.72 0 1 1 4.13 8.72L3.9 8.28A0.69 0.69 0 1 0 5.11 7.59z" fill="#dbc46f"/>
<path d="M5.23 7.78A0.7 0.7 0 1 1 4.01 8.48L3.8 8.07A0.68 0.68 0 1 0 4.98 7.4z" fill="#d2c572"/>
<path d="M5.11 7.59A0.69 0.69 0 1 1 3.9 8.28L3.69 7.86A0.67 0.67 0 1 0 4.86 7.2z" fill="#cac676"/>
<path d="M4.98 7.4A0.68 0.68 0 1 1 3.8 8.07L3.59 7.65A0.66 0.66 0 1 0 4.73 7z" fill="#c1c679"/>
<path d="M4.86 7.2A0.67 0.67 0 1 1 3.69 7.86L3.48 7.43A0.65 0.65 0 1 0 4.6 6.79z" fill="#b8c77d"/>
<path d="M4.73 7A0.66 0.66 0 1 1 3.59 7.65L3.36 7.22A0.64 0.64 0 1 0 4.47 6.59z" fill="#afc781"/>
<path d="M4.6 6.79A0.65 0.65 0 1 1 3.48 7.43L3.25 6.99A0.63 0.63 0 1 0 4.34 6.38z" fill="#a5c885"/>
<path d="M4.47 6.59A0.64 0.64 0 1 1 3.36 7.22L3.14 6.77A0.62 0.62 0 1 0 4.21 6.16z" fill="#9ac889"/>
<path d="M4.34 6.38A0.63 0.63 0 1 1 3.25 6.99L3.02 6.55A0.6 0.6 0 1 0 4.07 5.95z" fill="#8ec88e"/>
<path d="M4.21 6.16A0.62 0.62 0 1 1 3.14 6.77L2.91 6.32A0.59 0.59 0 1 0 3.94 5.74z" fill="#81c894"/>
<path d="M4.07 5.95A0.6 0.6 0 1 1 3.02 6.55L2.79 6.09A0.58 0.58 0 1 0 3.8 5.52z" fill="#74c79a"/>
<path d="M3.94 5.74A0.59 0.59 0 1 1 2.91 6.32L2.67 5.87A0.57 0.57 0 1 0 3.67 5.3z" fill="#67c6a0"/>
<path d="M3.8 5.52A0.58 0.58 0 1 1 2.79 6.09L2.56 5.64A0.56 0.56 0 1 0 3.53 5.09z" fill="#5bc4a7"/>
<path d="M3.67 5.3A0.57 0.57 0 1 1 2.67 5.87L2.44 5.41A0.55 0.55 0 1 0 3.4 4.87z" fill="#50c2ae"/>
<path d="M3.53 5.09A0.56 0.56 0 1 1 2.56 5.64L2.33 5.19A0.54 0.54 0 1 0 3.26 4.65z" fill="#46c0b4"/>
<path d="M3.4 4.87A0.55 0.55 0 1 1 2.44 5.41L2.21 4.96A0.53 0.53 0 1 0 3.13 4.44z" fill="#3dbeba"/>
<path d="M3.26 4.65A0.54 0.54 0 1 1 2.33 5.19L2.1 4.73A0.52 0.52 0 1 0 2.99 4.22z" fill="#35bbbf"/>
<path d="M3.13 4.44A0.53 0.53 0 1 1 2.21 4.96L1.98 4.51A0.51 0.51 0 1 0 2.86 4.01z" fill="#2fb9c4"/>
<path d="M2.99 4.22A0.52 0.52 0 1 1 2.1 4.73L1.87 4.29A0.49 0.49 0 1 0 2.73 3.8z" fill="#2ab6c9"/>
<path d="M2.86 4.01A0.51 0.51 0 1 1 1.98 4.51L1.76 4.07A0.48 0.48 0 1 0 2.6 3.59z" fill="#29b3ce"/>
<path d="M2.73 3.8A0.49 0.49 0 1 1 1.87 4.29L1.65 3.86A0.47 0.47 0 1 0 2.47 3.39z" fill="#29b0d1"/>
<path d="M2.6 3.59A0.48 0.48 0 1 1 1.76 4.07L1.54 3.64A0.46 0.46 0 1 0 2.34 3.19z" fill="#29add5"/>
<path d="M2.47 3.39A0.47 0.47 0 1 1 1.65 3.86L1.43 3.43A0.45 0.45 0 1 0 2.21 2.99z" fill="#2aa9d7"/>
<path d="M2.34 3.19A0.46 0.46 0 1 1 1.54 3.64L1.33 3.23A0.44 0.44 0 1 0 2.09 2.79z" fill="#2da4d8"/>
<path d="M2.21 2.99A0.45 0.45 0 1 1 1.43 3.43L1.23 3.02A0.43 0.43 0 1 0 1.97 2.6z" fill="#319fd8"/>
<path d="M2.09 2.79A0.44 0.44 0 1 1 1.33 3.23L1.1 2.78A0.41 0.41 0 1 0 1.82 2.37z" fill="#349ad9"/>
<path d="M1.97 2.6A0.43 0.43 0 1 1 1.23 3.02L0.98 2.54A0.4 0.4 0 1 0 1.68 2.14z" fill="#3595da"/>
<path d="M1.82 2.37A0.41 0.41 0 1 1 1.1 2.78L0.87 2.31A0.39 0.39 0 1 0 1.54 1.93z" fill="#3491dc"/>
<path d="M1.68 2.14A0.4 0.4 0 1 1 0.98 2.54L0.76 2.09A0.37 0.37 0 1 0 1.4 1.72z" fill="#328cdf"/>
<path d="M1.54 1.93A0.39 0.39 0 1 1 0.87 2.31L0.65 1.87A0.36 0.36 0 1 0 1.28 1.52z" fill="#2f88e1"/>
<path d="M1.4 1.72A0.37 0.37 0 1 1 0.76 2.09L0.55 1.67A0.35 0.35 0 1 0 1.15 1.33z" fill="#2983e3"/>
<path d="M1.28 1.52A0.36 0.36 0 1 1 0.65 1.87L0.43 1.43A0.33 0.33 0 1 0 1.01 1.11z" fill="#247ee4"/>
<path d="M1.15 1.33A0.35 0.35 0 1 1 0.55 1.67L0.33 1.21A0.31 0.31 0 1 0 0.87 0.9z" fill="#2178e5"/>
<path d="M1.01 1.11A0.33 0.33 0 1 1 0.43 1.43L0.23 1A0.29 0.29 0 1 0 0.74 0.71z" fill="#276fe2"/>
<path d="M0.87 0.9A0.31 0.31 0 1 1 0.33 1.21L0.13 0.77A0.27 0.27 0 1 0 0.6 0.5z" fill="#3665d9"/>
<path d="M0.74 0.71A0.29 0.29 0 1 1 0.23 1L0.02 0.53A0.25 0.25 0 1 0 0.45 0.29z" fill="#3d55cb"/>
<path d="M0.6 0.5A0.27 0.27 0 1 1 0.13 0.77L-0.08 0.29A0.21 0.21 0 1 0 0.29 0.08z" fill="#414bc1"/>
<path d="M0.45 0.29A0.25 0.25 0 1 1 0.02 0.53L-0.13 0.09A0.16 0.16 0 1 0 0.15-0.07z" fill="#3f40b4"/>
<path d="M0.29 0.08A0.21 0.21 0 1 1 -0.08 0.29z" fill="#3a34a7"/>
<path d="M0.15-0.07A0.16 0.16 0 1 1 -0.13 0.09z" fill="#33299b"/>
<path d="M-0.07 0.31A0.21 0.21 0 1 1 0.3 0.1z" fill="#33299b"/>
<path d="M0.03 0.54A0.25 0.25 0 1 1 0.45 0.3L0.15-0.06A0.16 0.16 0 1 0 -0.13 0.1z" fill="#3a34a7"/>
<path d="M0.13 0.79A0.27 0.27 0 1 1 0.61 0.52L0.3 0.1A0.21 0.21 0 1 0 -0.07 0.31z" fill="#3f40b4"/>
<path d="M0.24 1.02A0.29 0.29 0 1 1 0.75 0.73L0.45 0.3A0.25 0.25 0 1 0 0.03 0.54z" fill="#414bc1"/>
<path d="M0.34 1.22A0.31 0.31 0 1 1 0.88 0.92L0.61 0.52A0.27 0.27 0 1 0 0.13 0.79z" fill="#3d55cb"/>
<path d="M0.44 1.45A0.33 0.33 0 1 1 1.02 1.12L0.75 0.73A0.29 0.29 0 1 0 0.24 1.02z" fill="#3665d9"/>
<path d="M0.56 1.69A0.35 0.35 0 1 1 1.16 1.35L0.88 0.92A0.31 0.31 0 1 0 0.34 1.22z" fill="#276fe2"/>
<path d="M0.66 1.89A0.36 0.36 0 1 1 1.29 1.54L1.02 1.12A0.33 0.33 0 1 0 0.44 1.45z" fill="#2178e5"/>
<path d="M0.77 2.11A0.37 0.37 0 1 1 1.42 1.74L1.16 1.35A0.35 0.35 0 1 0 0.56 1.69z" fill="#247ee4"/>
<path d="M0.88 2.33A0.39 0.39 0 1 1 1.55 1.95L1.29 1.54A0.36 0.36 0 1 0 0.66 1.89z" fill="#2983e3"/>
<path d="M0.99 2.56A0.4 0.4 0 1 1 1.69 2.16L1.42 1.74A0.37 0.37 0 1 0 0.77 2.11z" fill="#2f88e1"/>
<path d="M1.11 2.8A0.41 0.41 0 1 1 1.83 2.39L1.55 1.95A0.39 0.39 0 1 0 0.88 2.33z" fill="#328cdf"/>
<path d="M1.24 3.05A0.43 0.43 0 1 1 1.98 2.62L1.69 2.16A0.4 0.4 0 1 0 0.99 2.56z" fill="#3491dc"/>
<path d="M1.34 3.25A0.44 0.44 0 1 1 2.1 2.82L1.83 2.39A0.41 0.41 0 1 0 1.11 2.8z" fill="#3595da"/>
<path d="M1.44 3.46A0.45 0.45 0 1 1 2.23 3.01L1.98 2.62A0.43 0.43 0 1 0 1.24 3.05z" fill="#349ad9"/>
<path d="M1.55 3.67A0.46 0.46 0 1 1 2.35 3.21L2.1 2.82A0.44 0.44 0 1 0 1.34 3.25z" fill="#319fd8"/>
<path d="M1.66 3.88A0.47 0.47 0 1 1 2.48 3.41L2.23 3.01A0.45 0.45 0 1 0 1.44 3.46z" fill="#2da4d8"/>
<path d="M1.77 4.1A0.48 0.48 0 1 1 2.61 3.62L2.35 3.21A0.46 0.46 0 1 0 1.55 3.67z" fill="#2aa9d7"/>
<path d="M1.88 4.32A0.49 0.49 0 1 1 2.74 3.83L2.48 3.41A0.47 0.47 0 1 0 1.66 3.88z" fill="#29add5"/>
<path d="M2 4.54A0.51 0.51 0 1 1 2.87 4.04L2.61 3.62A0.48 0.48 0 1 0 1.77 4.1z" fill="#29b0d1"/>
<path d="M2.11 4.76A0.52 0.52 0 1 1 3.01 4.25L2.74 3.83A0.49 0.49 0 1 0 1.88 4.32z" fill="#29b3ce"/>
<path d="M2.23 4.99A0.53 0.53 0 1 1 3.14 4.47L2.87 4.04A0.51 0.51 0 1 0 2 4.54z" fill="#2ab6c9"/>
<path d="M2.34 5.21A0.54 0.54 0 1 1 3.28 4.68L3.01 4.25A0.52 0.52 0 1 0 2.11 4.76z" fill="#2fb9c4"/>
<path d="M2.46 5.44A0.55 0.55 0 1 1 3.41 4.9L3.14 4.47A0.53 0.53 0 1 0 2.23 4.99z" fill="#35bbbf"/>
<path d="M2.58 5.67A0.56 0.56 0 1 1 3.55 5.12L3.28 4.68A0.54 0.54 0 1 0 2.34 5.21z" fill="#3dbeba"/>
<path d="M2.69 5.9A0.57 0.57 0 1 1 3.68 5.33L3.41 4.9A0.55 0.55 0 1 0 2.46 5.44z" fill="#46c0b4"/>
<path d="M2.81 6.12A0.58 0.58 0 1 1 3.82 5.55L3.55 5.12A0.56 0.56 0 1 0 2.58 5.67z" fill="#50c2ae"/>
<path d="M2.93 6.35A0.59 0.59 0 1 1 3.96 5.77L3.68 5.33A0.57 0.57 0 1 0 2.69 5.9z" fill="#5bc4a7"/>
<path d="M3.04 6.58A0.6 0.6 0 1 1 4.09 5.98L3.82 5.55A0.58 0.58 0 1 0 2.81 6.12z" fill="#67c6a0"/>
<path d="M3.16 6.8A0.62 0.62 0 1 1 4.23 6.2L3.96 5.77A0.59 0.59 0 1 0 2.93 6.35z" fill="#74c79a"/>
<path d="M3.27 7.03A0.63 0.63 0 1 1 4.36 6.41L4.09 5.98A0.6 0.6 0 1 0 3.04 6.58z" fill="#81c894"/>
<path d="M3.38 7.25A0.64 0.64 0 1 1 4.49 6.62L4.23 6.2A0.62 0.62 0 1 0 3.16 6.8z" fill="#8ec88e"/>
<path d="M3.5 7.47A0.65 0.65 0 1 1 4.62 6.83L4.36 6.41A0.63 0.63 0 1 0 3.27 7.03z" fill="#9ac889"/>
<path d="M3.61 7.68A0.66 0.66 0 1 1 4.75 7.03L4.49 6.62A0.64 0.64 0 1 0 3.38 7.25z" fill="#a5c885"/>
<path d="M3.71 7.9A0.67 0.67 0 1 1 4.88 7.24L4.62 6.83A0.65 0.65 0 1 0 3.5 7.47z" fill="#afc781"/>
<path d="M3.82 8.11A0.68 0.68 0 1 1 5 7.43L4.75 7.03A0.66 0.66 0 1 0 3.61 7.68z" fill="#b8c77d"/>
<path d="M3.92 8.31A0.69 0.69 0 1 1 5.13 7.63L4.88 7.24A0.67 0.67 0 1 0 3.71 7.9z" fill="#c1c679"/>
<path d="M4.03 8.51A0.7 0.7 0 1 1 5.25 7.82L5 7.43A0.68 0.68 0 1 0 3.82 8.11z" fill="#cac676"/>
<path d="M4.15 8.76A0.72 0.72 0 1 1 5.4 8.05L5.13 7.63A0.69 0.69 0 1 0 3.92 8.31z" fill="#d2c572"/>
<path d="M4.27 9A0.73 0.73 0 1 1 5.54 8.28L5.25 7.82A0.7 0.7 0 1 0 4.03 8.51z" fill="#dbc46f"/>
<path d="M4.39 9.23A0.74 0.74 0 1 1 5.68 8.5L5.4 8.05A0.72 0.72 0 1 0 4.15 8.76z" fill="#e5c36a"/>
<path d="M4.5 9.45A0.76 0.76 0 1 1 5.81 8.7L5.54 8.28A0.73 0.73 0 1 0 4.27 9z" fill="#eec366"/>
<path d="M4.6 9.66A0.77 0.77 0 1 1 5.94 8.9L5.68 8.5A0.74 0.74 0 1 0 4.39 9.23z" fill="#f6c360"/>
<path d="M4.7 9.87A0.79 0.79 0 1 1 6.07 9.09L5.81 8.7A0.76 0.76 0 1 0 4.5 9.45z" fill="#fcc659"/>
<path d="M4.82 10.11A0.8 0.8 0 1 1 6.21 9.31L5.94 8.9A0.77 0.77 0 1 0 4.6 9.66z" fill="#ffca51"/>
<path d="M4.92 10.33A0.82 0.82 0 1 1 6.35 9.52L6.07 9.09A0.79 0.79 0 1 0 4.7 9.87z" fill="#fecf4a"/>
<path d="M5.02 10.53A0.84 0.84 0 1 1 6.47 9.71L6.21 9.31A0.8 0.8 0 1 0 4.82 10.11z" fill="#fcd544"/>
<path d="M5.12 10.76A0.86 0.86 0 1 1 6.62 9.91L6.35 9.52A0.82 0.82 0 1 0 4.92 10.33z" fill="#f9da3d"/>
<path d="M5.23 11A0.89 0.89 0 1 1 6.77 10.13L6.47 9.71A0.84 0.84 0 1 0 5.02 10.53z" fill="#f7e036"/>
<path d="M5.33 11.24A0.92 0.92 0 1 1 6.92 10.33L6.62 9.91A0.86 0.86 0 1 0 5.12 10.76z" fill="#f5e62e"/>
<path d="M5.33 11.42A1 1 0 1 1 7.07 10.43L6.77 10.13A0.89 0.89 0 1 0 5.23 11z" fill="#f6ee24"/>
<path d="M5.19 11.22A1.02 1.02 0 1 1 6.97 10.21L6.92 10.33A0.92 0.92 0 1 0 5.33 11.24z" fill="#f7f515"/>
<path d="M5.05 11A1.04 1.04 0 1 1 6.86 9.97L7.07 10.43A1 1 0 1 0 5.33 11.42z" fill="#f7f427"/>
<path d="M4.92 10.79A1.05 1.05 0 1 1 6.75 9.75L6.97 10.21A1.02 1.02 0 1 0 5.19 11.22z" fill="#f6ec34"/>
<path d="M4.77 10.56A1.07 1.07 0 1 1 6.63 9.51L6.86 9.97A1.04 1.04 0 1 0 5.05 11z" fill="#f6e63e"/>
<path d="M4.65 10.37A1.08 1.08 0 1 1 6.52 9.3L6.75 9.75A1.05 1.05 0 1 0 4.92 10.79z" fill="#f8df43"/>
<path d="M4.52 10.16A1.09 1.09 0 1 1 6.41 9.09L6.63 9.51A1.07 1.07 0 1 0 4.77 10.56z" fill="#fad947"/>
<path d="M4.39 9.95A1.1 1.1 0 1 1 6.3 8.87L6.52 9.3A1.08 1.08 0 1 0 4.65 10.37z" fill="#fdd44c"/>
<path d="M4.25 9.73A1.11 1.11 0 1 1 6.18 8.63L6.41 9.09A1.09 1.09 0 1 0 4.52 10.16z" fill="#fece51"/>
<path d="M4.11 9.5A1.12 1.12 0 1 1 6.06 8.39L6.3 8.87A1.1 1.1 0 1 0 4.39 9.95z" fill="#fec957"/>
<path d="M3.96 9.27A1.13 1.13 0 1 1 5.93 8.15L6.18 8.63A1.11 1.11 0 1 0 4.25 9.73z" fill="#f9c45e"/>
<path d="M3.81 9.03A1.14 1.14 0 1 1 5.8 7.9L6.06 8.39A1.12 1.12 0 1 0 4.11 9.5z" fill="#f0c364"/>
<path d="M3.66 8.79A1.16 1.16 0 1 1 5.67 7.65L5.93 8.15A1.13 1.13 0 1 0 3.96 9.27z" fill="#e7c369"/>
<path d="M3.51 8.54A1.17 1.17 0 1 1 5.54 7.39L5.8 7.9A1.14 1.14 0 1 0 3.81 9.03z" fill="#ddc46e"/>
<path d="M3.36 8.29A1.18 1.18 0 1 1 5.4 7.13L5.67 7.65A1.16 1.16 0 1 0 3.66 8.79z" fill="#d3c572"/>
<path d="M3.2 8.04A1.19 1.19 0 1 1 5.27 6.87L5.54 7.39A1.17 1.17 0 1 0 3.51 8.54z" fill="#c8c677"/>
<path d="M3.05 7.79A1.2 1.2 0 1 1 5.13 6.61L5.4 7.13A1.18 1.18 0 1 0 3.36 8.29z" fill="#bdc67b"/>
<path d="M2.89 7.54A1.21 1.21 0 1 1 4.99 6.35L5.27 6.87A1.19 1.19 0 1 0 3.2 8.04z" fill="#b2c780"/>
<path d="M2.73 7.29A1.22 1.22 0 1 1 4.86 6.08L5.13 6.61A1.2 1.2 0 1 0 3.05 7.79z" fill="#a5c884"/>
<path d="M2.58 7.04A1.23 1.23 0 1 1 4.72 5.82L4.99 6.35A1.21 1.21 0 1 0 2.89 7.54z" fill="#98c88a"/>
<path d="M2.42 6.78A1.24 1.24 0 1 1 4.58 5.56L4.86 6.08A1.22 1.22 0 1 0 2.73 7.29z" fill="#8ac890"/>
<path d="M2.27 6.53A1.25 1.25 0 1 1 4.45 5.3L4.72 5.82A1.23 1.23 0 1 0 2.58 7.04z" fill="#7cc796"/>
<path d="M2.12 6.29A1.27 1.27 0 1 1 4.31 5.04L4.58 5.56A1.24 1.24 0 1 0 2.42 6.78z" fill="#6dc69d"/>
<path d="M1.96 6.04A1.28 1.28 0 1 1 4.18 4.78L4.45 5.3A1.25 1.25 0 1 0 2.27 6.53z" fill="#5fc4a5"/>
<path d="M1.81 5.8A1.29 1.29 0 1 1 4.05 4.53L4.31 5.04A1.27 1.27 0 1 0 2.12 6.29z" fill="#52c2ac"/>
<path d="M1.66 5.56A1.3 1.3 0 1 1 3.92 4.27L4.18 4.78A1.28 1.28 0 1 0 1.96 6.04z" fill="#47c0b3"/>
<path d="M1.52 5.32A1.31 1.31 0 1 1 3.79 4.03L4.05 4.53A1.29 1.29 0 1 0 1.81 5.8z" fill="#3dbeba"/>
<path d="M1.37 5.08A1.32 1.32 0 1 1 3.66 3.78L3.92 4.27A1.3 1.3 0 1 0 1.66 5.56z" fill="#34bbc0"/>
<path d="M1.23 4.86A1.33 1.33 0 1 1 3.54 3.54L3.79 4.03A1.31 1.31 0 1 0 1.52 5.32z" fill="#2db8c6"/>
<path d="M1.09 4.63A1.34 1.34 0 1 1 3.42 3.31L3.66 3.78A1.32 1.32 0 1 0 1.37 5.08z" fill="#29b5cb"/>
<path d="M0.95 4.41A1.35 1.35 0 1 1 3.3 3.07L3.54 3.54A1.33 1.33 0 1 0 1.23 4.86z" fill="#29b2cf"/>
<path d="M0.81 4.19A1.36 1.36 0 1 1 3.19 2.85L3.42 3.31A1.34 1.34 0 1 0 1.09 4.63z" fill="#29aed3"/>
<path d="M0.68 3.98A1.37 1.37 0 1 1 3.07 2.63L3.3 3.07A1.35 1.35 0 1 0 0.95 4.41z" fill="#29aad6"/>
<path d="M0.55 3.78A1.39 1.39 0 1 1 2.96 2.41L3.19 2.85A1.36 1.36 0 1 0 0.81 4.19z" fill="#2ca6d8"/>
<path d="M0.43 3.58A1.4 1.4 0 1 1 2.86 2.2L3.07 2.63A1.37 1.37 0 1 0 0.68 3.98z" fill="#30a1d8"/>
<path d="M0.31 3.39A1.41 1.41 0 1 1 2.75 2L2.96 2.41A1.39 1.39 0 1 0 0.55 3.78z" fill="#339bd9"/>
<path d="M0.16 3.16A1.42 1.42 0 1 1 2.63 1.75L2.86 2.2A1.4 1.4 0 1 0 0.43 3.58z" fill="#3597da"/>
<path d="M0.02 2.93A1.44 1.44 0 1 1 2.51 1.52L2.75 2A1.41 1.41 0 1 0 0.31 3.39z" fill="#3592dc"/>
<path d="M-0.12 2.72A1.45 1.45 0 1 1 2.4 1.29L2.63 1.75A1.42 1.42 0 1 0 0.16 3.16z" fill="#338ede"/>
<path d="M-0.25 2.52A1.46 1.46 0 1 1 2.29 1.08L2.51 1.52A1.44 1.44 0 1 0 0.02 2.93z" fill="#308ae0"/>
<path d="M-0.37 2.33A1.48 1.48 0 1 1 2.19 0.87L2.4 1.29A1.45 1.45 0 1 0 -0.12 2.72z" fill="#2b85e2"/>
<path d="M-0.52 2.11A1.49 1.49 0 1 1 2.08 0.63L2.29 1.08A1.46 1.46 0 1 0 -0.25 2.52z" fill="#2580e4"/>
<path d="M-0.66 1.9A1.51 1.51 0 1 1 1.97 0.41L2.19 0.87A1.48 1.48 0 1 0 -0.37 2.33z" fill="#207ae5"/>
<path d="M-0.78 1.72A1.53 1.53 0 1 1 1.88 0.21L2.08 0.63A1.49 1.49 0 1 0 -0.52 2.11z" fill="#2471e3"/>
<path d="M-0.92 1.51A1.55 1.55 0 1 1 1.77-0.02L1.97 0.41A1.51 1.51 0 1 0 -0.66 1.9z" fill="#3167dc"/>
<path d="M-1.08 1.29A1.58 1.58 0 1 1 1.66-0.26L1.88 0.21A1.53 1.53 0 1 0 -0.78 1.72z" fill="#3c5cce"/>
<path d="M-1.23 1.09A1.61 1.61 0 1 1 1.57-0.5L1.77-0.02A1.55 1.55 0 1 0 -0.92 1.51z" fill="#404dc3"/>
<path d="M-1.42 0.89A1.68 1.68 0 1 1 1.49-0.77L1.66-0.26A1.58 1.58 0 1 0 -1.08 1.29z" fill="#3f42b7"/>
<path d="M-1.43 1.08A1.78 1.78 0 1 1 1.66-0.68L1.57-0.5A1.61 1.61 0 1 0 -1.23 1.09z" fill="#3a35a8"/>
<path d="M-1.35 1.3A1.82 1.82 0 1 1 1.81-0.49L1.49-0.77A1.68 1.68 0 1 0 -1.42 0.89z" fill="#362fa3"/>
<path d="M-1.25 1.54A1.85 1.85 0 1 1 1.97-0.29L1.66-0.68A1.78 1.78 0 1 0 -1.43 1.08z" fill="#3c3aaf"/>
<path d="M-1.16 1.77A1.88 1.88 0 1 1 2.11-0.09L1.81-0.49A1.82 1.82 0 1 0 -1.35 1.3z" fill="#3e44bb"/>
<path d="M-1.05 2.02A1.91 1.91 0 1 1 2.27 0.14L1.97-0.29A1.85 1.85 0 1 0 -1.25 1.54z" fill="#3c4dc5"/>
<path d="M-0.95 2.24A1.93 1.93 0 1 1 2.41 0.33L2.11-0.09A1.88 1.88 0 1 0 -1.16 1.77z" fill="#375dd2"/>
<path d="M-0.84 2.47A1.95 1.95 0 1 1 2.55 0.54L2.27 0.14A1.91 1.91 0 1 0 -1.05 2.02z" fill="#2768de"/>
<path d="M-0.73 2.71A1.97 1.97 0 1 1 2.7 0.77L2.41 0.33A1.93 1.93 0 1 0 -0.95 2.24z" fill="#1a71e4"/>
<path d="M-0.63 2.92A1.99 1.99 0 1 1 2.83 0.95L2.55 0.54A1.95 1.95 0 1 0 -0.84 2.47z" fill="#1b78e4"/>
<path d="M-0.53 3.13A2.01 2.01 0 1 1 2.96 1.15L2.7 0.77A1.97 1.97 0 1 0 -0.73 2.71z" fill="#1f7de2"/>
<path d="M-0.43 3.34A2.02 2.02 0 1 1 3.09 1.34L2.83 0.95A1.99 1.99 0 1 0 -0.63 2.92z" fill="#2482e1"/>
<path d="M-0.33 3.55A2.04 2.04 0 1 1 3.22 1.54L2.96 1.15A2.01 2.01 0 1 0 -0.53 3.13z" fill="#2886df"/>
<path d="M-0.22 3.77A2.06 2.06 0 1 1 3.35 1.74L3.09 1.34A2.02 2.02 0 1 0 -0.43 3.34z" fill="#2c8adc"/>
<path d="M-0.12 3.99A2.07 2.07 0 1 1 3.49 1.95L3.22 1.54A2.04 2.04 0 1 0 -0.33 3.55z" fill="#2e8eda"/>
<path d="M-0.01 4.21A2.09 2.09 0 1 1 3.62 2.15L3.35 1.74A2.06 2.06 0 1 0 -0.22 3.77z" fill="#2e93d8"/>
<path d="M0.09 4.43A2.11 2.11 0 1 1 3.76 2.35L3.49 1.95A2.07 2.07 0 1 0 -0.12 3.99z" fill="#2c98d7"/>
<path d="M0.2 4.65A2.13 2.13 0 1 1 3.89 2.55L3.62 2.15A2.09 2.09 0 1 0 -0.01 4.21z" fill="#289dd7"/>
<path d="M0.3 4.87A2.14 2.14 0 1 1 4.03 2.75L3.76 2.35A2.11 2.11 0 1 0 0.09 4.43z" fill="#24a2d6"/>
<path d="M0.4 5.08A2.16 2.16 0 1 1 4.16 2.95L3.89 2.55A2.13 2.13 0 1 0 0.2 4.65z" fill="#21a7d5"/>
<path d="M0.5 5.28A2.18 2.18 0 1 1 4.28 3.13L4.03 2.75A2.14 2.14 0 1 0 0.3 4.87z" fill="#20abd2"/>
<path d="M0.61 5.53A2.2 2.2 0 1 1 4.44 3.36L4.16 2.95A2.16 2.16 0 1 0 0.4 5.08z" fill="#1faece"/>
<path d="M0.72 5.77A2.22 2.22 0 1 1 4.59 3.58L4.28 3.13A2.18 2.18 0 1 0 0.5 5.28z" fill="#1fb1ca"/>
<path d="M0.83 6A2.24 2.24 0 1 1 4.73 3.78L4.44 3.36A2.2 2.2 0 1 0 0.61 5.53z" fill="#21b4c4"/>
<path d="M0.92 6.21A2.26 2.26 0 1 1 4.86 3.97L4.59 3.58A2.22 2.22 0 1 0 0.72 5.77z" fill="#26b6be"/>
<path d="M1.03 6.45A2.29 2.29 0 1 1 5.01 4.19L4.73 3.78A2.24 2.24 0 1 0 0.83 6z" fill="#2cb8b8"/>
<path d="M1.12 6.66A2.32 2.32 0 1 1 5.15 4.37L4.86 3.97A2.26 2.26 0 1 0 0.92 6.21z" fill="#33bab2"/>
<path d="M1.21 6.88A2.35 2.35 0 1 1 5.29 4.56L5.01 4.19A2.29 2.29 0 1 0 1.03 6.45z" fill="#3abbab"/>
<path d="M1.29 7.13A2.4 2.4 0 1 1 5.46 4.76L5.15 4.37A2.32 2.32 0 1 0 1.12 6.66z" fill="#42bda3"/>
<path d="M1.11 7.15A2.56 2.56 0 1 1 5.57 4.62L5.29 4.56A2.35 2.35 0 1 0 1.21 6.88z" fill="#4bbd9a"/>
<path d="M0.92 6.95A2.63 2.63 0 1 1 5.49 4.35L5.46 4.76A2.4 2.4 0 1 0 1.29 7.13z" fill="#4abc94"/>
<path d="M0.77 6.77A2.67 2.67 0 1 1 5.42 4.13L5.57 4.62A2.56 2.56 0 1 0 1.11 7.15z" fill="#46bc9c"/>
<path d="M0.61 6.56A2.71 2.71 0 1 1 5.32 3.88L5.49 4.35A2.63 2.63 0 1 0 0.92 6.95z" fill="#3cbba5"/>
<path d="M0.46 6.37A2.75 2.75 0 1 1 5.23 3.66L5.42 4.13A2.67 2.67 0 1 0 0.77 6.77z" fill="#33b9ac"/>
<path d="M0.3 6.16A2.78 2.78 0 1 1 5.13 3.42L5.32 3.88A2.71 2.71 0 1 0 0.61 6.56z" fill="#2ab7b3"/>
<path d="M0.14 5.94A2.81 2.81 0 1 1 5.03 3.16L5.23 3.66A2.75 2.75 0 1 0 0.46 6.37z" fill="#22b5ba"/>
<path d="M0 5.76A2.84 2.84 0 1 1 4.94 2.95L5.13 3.42A2.78 2.78 0 1 0 0.3 6.16z" fill="#1cb2c0"/>
<path d="M-0.13 5.57A2.87 2.87 0 1 1 4.85 2.74L5.03 3.16A2.81 2.81 0 1 0 0.14 5.94z" fill="#18afc5"/>
<path d="M-0.27 5.38A2.89 2.89 0 1 1 4.76 2.52L4.94 2.95A2.84 2.84 0 1 0 0 5.76z" fill="#17adca"/>
<path d="M-0.41 5.18A2.92 2.92 0 1 1 4.66 2.3L4.85 2.74A2.87 2.87 0 1 0 -0.13 5.57z" fill="#17aace"/>
<path d="M-0.56 4.99A2.95 2.95 0 1 1 4.57 2.08L4.76 2.52A2.89 2.89 0 1 0 -0.27 5.38z" fill="#17a6d1"/>
<path d="M-0.7 4.8A2.97 2.97 0 1 1 4.47 1.86L4.66 2.3A2.92 2.92 0 1 0 -0.41 5.18z" fill="#19a1d4"/>
<path d="M-0.84 4.6A3 3 0 1 1 4.38 1.64L4.57 2.08A2.95 2.95 0 1 0 -0.56 4.99z" fill="#1c9cd5"/>
<path d="M-0.97 4.42A3.03 3.03 0 1 1 4.29 1.43L4.47 1.86A2.97 2.97 0 1 0 -0.7 4.8z" fill="#2096d5"/>
<path d="M-1.11 4.24A3.06 3.06 0 1 1 4.2 1.22L4.38 1.64A3 3 0 1 0 -0.84 4.6z" fill="#2391d6"/>
<path d="M-1.27 4.02A3.09 3.09 0 1 1 4.1 0.97L4.29 1.43A3.03 3.03 0 1 0 -0.97 4.42z" fill="#248cd7"/>
<path d="M-1.43 3.8A3.12 3.12 0 1 1 4 0.72L4.2 1.22A3.06 3.06 0 1 0 -1.11 4.24z" fill="#2287d9"/>
<path d="M-1.58 3.61A3.16 3.16 0 1 1 3.91 0.49L4.1 0.97A3.09 3.09 0 1 0 -1.27 4.02z" fill="#1f82dc"/>
<path d="M-1.72 3.42A3.19 3.19 0 1 1 3.82 0.27L4 0.72A3.12 3.12 0 1 0 -1.43 3.8z" fill="#1b7dde"/>
<path d="M-1.89 3.2A3.23 3.23 0 1 1 3.72 0.01L3.91 0.49A3.16 3.16 0 1 0 -1.58 3.61z" fill="#1578e0"/>
<path d="M-2.05 3.01A3.27 3.27 0 1 1 3.64-0.22L3.82 0.27A3.19 3.19 0 1 0 -1.72 3.42z" fill="#1072e2"/>
<path d="M-2.23 2.8A3.33 3.33 0 1 1 3.55-0.48L3.72 0.01A3.23 3.23 0 1 0 -1.89 3.2z" fill="#0e6be2"/>
<path d="M-2.4 2.62A3.38 3.38 0 1 1 3.48-0.71L3.64-0.22A3.27 3.27 0 1 0 -2.05 3.01z" fill="#1a62de"/>
<path d="M-2.57 2.44A3.44 3.44 0 1 1 3.41-0.96L3.55-0.48A3.33 3.33 0 1 0 -2.23 2.8z" fill="#2c56d1"/>
<path d="M-2.76 2.27A3.53 3.53 0 1 1 3.37-1.21L3.48-0.71A3.38 3.38 0 1 0 -2.4 2.62z" fill="#3346c4"/>
<path d="M-2.99 2.13A3.65 3.65 0 1 1 3.36-1.48L3.41-0.96A3.44 3.44 0 1 0 -2.57 2.44z" fill="#363eb9"/>
<path d="M-3.21 2.07A3.81 3.81 0 1 1 3.42-1.69L3.37-1.21A3.53 3.53 0 1 0 -2.76 2.27z" fill="#3635ae"/>
<path d="M-3.38 2.1A3.97 3.97 0 1 1 3.53-1.83L3.36-1.48A3.65 3.65 0 1 0 -2.99 2.13z" fill="#352ea3"/>
<path d="M-3.4 2.1A4 4 0 1 1 3.55-1.84L3.42-1.69A3.81 3.81 0 1 0 -3.21 2.07z" fill="#332a9d"/>
<path d="M-3.4 2.1A4 4 0 1 1 3.55-1.84L3.53-1.83A3.97 3.97 0 1 0 -3.38 2.1z" fill="#33289b"/>
</g>
<path d="M318.6 17.3L318.6 74.8L352.5 104.8L412.2 87.6M318.6 74.8h1.6M318.6 46h1.6M318.6 17.3h1.6" stroke="#6e6e6e" stroke-width="1.1" fill="none"/>
<text x="314.6" y="75.4" text-anchor="end" font-size="9.3" fill="#2c2c2c">0</text>
<text x="314.6" y="46.6" text-anchor="end" font-size="9.3" fill="#2c2c2c">3500</text>
<text x="314.6" y="17.9" text-anchor="end" font-size="9.3" fill="#2c2c2c">7000</text>
<text x="313.3" y="86.2" text-anchor="end" font-size="9.3" fill="#2c2c2c">4</text>
<text x="321.8" y="93.7" text-anchor="end" font-size="9.3" fill="#2c2c2c">2</text>
<text x="330.2" y="101.2" text-anchor="end" font-size="9.3" fill="#2c2c2c">0</text>
<text x="338.7" y="108.7" text-anchor="end" font-size="9.3" fill="#2c2c2c">-2</text>
<text x="347.2" y="116.2" text-anchor="end" font-size="9.3" fill="#2c2c2c">-4</text>
<text x="361.1" y="117.2" text-anchor="middle" font-size="9.3" fill="#2c2c2c">-4</text>
<text x="376" y="112.9" text-anchor="middle" font-size="9.3" fill="#2c2c2c">-2</text>
<text x="388" y="108.6" text-anchor="middle" font-size="9.3" fill="#2c2c2c">0</text>
<text x="402.9" y="104.3" text-anchor="middle" font-size="9.3" fill="#2c2c2c">2</text>
<text x="417.8" y="100" text-anchor="middle" font-size="9.3" fill="#2c2c2c">4</text>
<text x="325.8" y="107.9" text-anchor="middle" font-size="9.3" fill="#2c2c2c">y</text>
<text x="392.5" y="114.6" text-anchor="middle" font-size="9.3" fill="#2c2c2c">x</text>
<text x="399.1" y="37.9" text-anchor="middle" font-size="9.2" fill="#2c2c2c">z=30</text>
<rect x="448.1" y="11.9" width="81.3" height="78.3" fill="#fff" stroke="#8c8c8c" stroke-width="1"/>
<path d="M448.1 90.2v-1.6M448.1 11.9v1.6M468.4 90.2v-1.6M468.4 11.9v1.6M488.8 90.2v-1.6M488.8 11.9v1.6M509.1 90.2v-1.6M509.1 11.9v1.6M529.4 90.2v-1.6M529.4 11.9v1.6M448.1 90.2h1.6M529.4 90.2h-1.6M448.1 51.1h1.6M529.4 51.1h-1.6M448.1 11.9h1.6M529.4 11.9h-1.6" stroke="#8c8c8c" stroke-width="0.8" fill="none"/>
<path d="M448.1 90L448.6 90L449.1 89.9L449.6 89.7L450.1 89.5L450.6 89.3L451.1 89L451.7 88.6L452.2 88.1L452.7 87.5L453.2 86.8L453.7 85.9L454.2 84.9L454.7 83.6L455.2 82.2L455.7 80.5L456.2 78.7L456.7 76.6L457.2 74.4L457.8 72L458.3 69.5L458.8 66.9L459.3 64.3L459.8 61.7L460.3 59.2L460.8 56.9L461.3 54.8L461.8 53.1L462.3 51.6L462.8 50.6L463.3 50L463.9 49.9L464.4 50.5L464.9 51.9L465.4 54.1L465.9 57L466.4 60.4L466.9 64.3L467.4 68.4L467.9 72.5L468.4 76.6L468.9 80.4L469.4 83.7L469.9 86.4L470.5 88.5L471 89.8L471.5 90.2L472 89.3L472.5 86.6L473 82.3L473.5 76.6L474 69.7L474.5 62.1L475 54L475.5 45.8L476 38L476.6 31L477.1 25L477.6 20.4L478.1 17.4L478.6 16.1L479.1 16.5L479.6 18.1L480.1 20.9L480.6 24.9L481.1 29.7L481.6 35.4L482.1 41.7L482.7 48.4L483.2 55.2L483.7 62L484.2 68.4L484.7 74.4L485.2 79.6L485.7 83.9L486.2 87.2L486.7 89.3L487.2 90.2L487.7 90.2L488.2 90.2L488.8 90.2L489.3 90.2L489.8 90.2L490.3 90.2L490.8 89.3L491.3 87.2L491.8 83.9L492.3 79.6L492.8 74.4L493.3 68.4L493.8 62L494.3 55.2L494.8 48.4L495.4 41.7L495.9 35.4L496.4 29.7L496.9 24.9L497.4 20.9L497.9 18.1L498.4 16.5L498.9 16.1L499.4 17.4L499.9 20.4L500.4 25L500.9 31L501.5 38L502 45.8L502.5 54L503 62.1L503.5 69.7L504 76.6L504.5 82.3L505 86.6L505.5 89.3L506 90.2L506.5 89.8L507 88.5L507.6 86.4L508.1 83.7L508.6 80.4L509.1 76.6L509.6 72.5L510.1 68.4L510.6 64.3L511.1 60.4L511.6 57L512.1 54.1L512.6 51.9L513.1 50.5L513.6 49.9L514.2 50L514.7 50.6L515.2 51.6L515.7 53.1L516.2 54.8L516.7 56.9L517.2 59.2L517.7 61.7L518.2 64.3L518.7 66.9L519.2 69.5L519.7 72L520.3 74.4L520.8 76.6L521.3 78.7L521.8 80.5L522.3 82.2L522.8 83.6L523.3 84.9L523.8 85.9L524.3 86.8L524.8 87.5L525.3 88.1L525.8 88.6L526.4 89L526.9 89.3L527.4 89.5L527.9 89.7L528.4 89.9L528.9 90L529.4 90" stroke="#ff22f6" stroke-width="2.1" fill="none" stroke-linejoin="round"/>
<path d="M448.1 90L448.6 90L449.1 89.9L449.6 89.7L450.1 89.5L450.6 89.3L451.1 89L451.7 88.6L452.2 88.1L452.7 87.5L453.2 86.8L453.7 85.9L454.2 84.9L454.7 83.6L455.2 82.2L455.7 80.5L456.2 78.7L456.7 76.6L457.2 74.4L457.8 72L458.3 69.5L458.8 66.9L459.3 64.3L459.8 61.7L460.3 59.2L460.8 56.9L461.3 54.8L461.8 53.1L462.3 51.6L462.8 50.6L463.3 50L463.9 49.9L464.4 50.5L464.9 51.9L465.4 54.1L465.9 57L466.4 60.4L466.9 64.3L467.4 68.4L467.9 72.5L468.4 76.6L468.9 80.4L469.4 83.7L469.9 86.4L470.5 88.5L471 89.8L471.5 90.2L472 89.3L472.5 86.6L473 82.3L473.5 76.6L474 69.7L474.5 62.1L475 54L475.5 45.8L476 38L476.6 31L477.1 25L477.6 20.4L478.1 17.4L478.6 16.1L479.1 16.5L479.6 18.1L480.1 20.9L480.6 24.9L481.1 29.7L481.6 35.4L482.1 41.7L482.7 48.4L483.2 55.2L483.7 62L484.2 68.4L484.7 74.4L485.2 79.6L485.7 83.9L486.2 87.2L486.7 89.3L487.2 90.2L487.7 90.2L488.2 90.2L488.8 90.2L489.3 90.2L489.8 90.2L490.3 90.2L490.8 89.3L491.3 87.2L491.8 83.9L492.3 79.6L492.8 74.4L493.3 68.4L493.8 62L494.3 55.2L494.8 48.4L495.4 41.7L495.9 35.4L496.4 29.7L496.9 24.9L497.4 20.9L497.9 18.1L498.4 16.5L498.9 16.1L499.4 17.4L499.9 20.4L500.4 25L500.9 31L501.5 38L502 45.8L502.5 54L503 62.1L503.5 69.7L504 76.6L504.5 82.3L505 86.6L505.5 89.3L506 90.2L506.5 89.8L507 88.5L507.6 86.4L508.1 83.7L508.6 80.4L509.1 76.6L509.6 72.5L510.1 68.4L510.6 64.3L511.1 60.4L511.6 57L512.1 54.1L512.6 51.9L513.1 50.5L513.6 49.9L514.2 50L514.7 50.6L515.2 51.6L515.7 53.1L516.2 54.8L516.7 56.9L517.2 59.2L517.7 61.7L518.2 64.3L518.7 66.9L519.2 69.5L519.7 72L520.3 74.4L520.8 76.6L521.3 78.7L521.8 80.5L522.3 82.2L522.8 83.6L523.3 84.9L523.8 85.9L524.3 86.8L524.8 87.5L525.3 88.1L525.8 88.6L526.4 89L526.9 89.3L527.4 89.5L527.9 89.7L528.4 89.9L528.9 90L529.4 90" stroke="#4a38f4" stroke-width="2.1" fill="none" stroke-dasharray="3.8 3.8" stroke-linejoin="round"/>
<text x="448.6" y="103.4" text-anchor="middle" font-size="9.8" fill="#2c2c2c">-4</text>
<text x="468.9" y="103.4" text-anchor="middle" font-size="9.8" fill="#2c2c2c">-2</text>
<text x="488.8" y="103.4" text-anchor="middle" font-size="9.8" fill="#2c2c2c">0</text>
<text x="509.1" y="103.4" text-anchor="middle" font-size="9.8" fill="#2c2c2c">2</text>
<text x="529.4" y="103.4" text-anchor="middle" font-size="9.8" fill="#2c2c2c">4</text>
<text x="446.3" y="93.6" text-anchor="end" font-size="9.8" fill="#2c2c2c">0</text>
<text x="444.5" y="54.5" text-anchor="end" font-size="9.8" fill="#2c2c2c">3500</text>
<text x="444.5" y="15.3" text-anchor="end" font-size="9.8" fill="#2c2c2c">7000</text>
<text x="488.8" y="116.8" text-anchor="middle" font-size="9.8" fill="#2c2c2c">x</text>
<path d="M76.7 188.4v-57.5M91.6 184.1v-57.5M106.6 179.8v-57.5M121.5 175.5v-57.5M130 183v-57.5M138.4 190.5v-57.5M146.9 198v-57.5M155.4 205.5v-57.5M61.8 192.7L121.5 175.5L155.4 205.5M61.8 163.9L121.5 146.8L155.4 176.8M61.8 135.2L121.5 118L155.4 148M70.3 200.2L130 183M76.7 188.4L110.6 218.4M78.8 207.7L138.4 190.5M91.6 184.1L125.5 214.1M87.2 215.2L146.9 198M106.6 179.8L140.5 209.8" stroke="#e4e4e4" stroke-width="0.8" fill="none"/>
<path d="M61.8 192.7L95.7 222.7L155.4 205.5L121.5 175.5z" fill="#322798"/>
<g transform="matrix(7.4625 -2.1500 -4.2375 -3.7500 108.6 199.1)">
<path d="M3.43-2.06A4 4 0 1 1 -3.53 1.89L-3.22 1.85A3.71 3.71 0 1 0 3.24-1.81z" fill="#33299b"/>
<path d="M3.33-1.97A3.87 3.87 0 1 1 -3.4 1.86L-2.99 1.93A3.55 3.55 0 1 0 3.19-1.57z" fill="#342b9e"/>
<path d="M3.24-1.81A3.71 3.71 0 1 1 -3.22 1.85L-2.75 2.1A3.43 3.43 0 1 0 3.21-1.28z" fill="#3530a5"/>
<path d="M3.19-1.57A3.55 3.55 0 1 1 -2.99 1.93L-2.56 2.26A3.34 3.34 0 1 0 3.26-1.04z" fill="#3738b1"/>
<path d="M3.21-1.28A3.43 3.43 0 1 1 -2.75 2.1L-2.39 2.44A3.28 3.28 0 1 0 3.31-0.8z" fill="#3640bd"/>
<path d="M3.26-1.04A3.34 3.34 0 1 1 -2.56 2.26L-2.19 2.64A3.21 3.21 0 1 0 3.39-0.53z" fill="#3249c7"/>
<path d="M3.31-0.8A3.28 3.28 0 1 1 -2.39 2.44L-2.03 2.83A3.16 3.16 0 1 0 3.47-0.29z" fill="#2859d6"/>
<path d="M3.39-0.53A3.21 3.21 0 1 1 -2.19 2.64L-1.85 3.04A3.11 3.11 0 1 0 3.56-0.03z" fill="#1565e0"/>
<path d="M3.47-0.29A3.16 3.16 0 1 1 -2.03 2.83L-1.7 3.22A3.07 3.07 0 1 0 3.63 0.19z" fill="#0e6de2"/>
<path d="M3.56-0.03A3.11 3.11 0 1 1 -1.85 3.04L-1.54 3.41A3.02 3.02 0 1 0 3.72 0.42z" fill="#1074e2"/>
<path d="M3.63 0.19A3.07 3.07 0 1 1 -1.7 3.22L-1.38 3.61A2.98 2.98 0 1 0 3.8 0.66z" fill="#1579e0"/>
<path d="M3.72 0.42A3.02 3.02 0 1 1 -1.54 3.41L-1.22 3.81A2.94 2.94 0 1 0 3.89 0.9z" fill="#1a7ddd"/>
<path d="M3.8 0.66A2.98 2.98 0 1 1 -1.38 3.61L-1.06 4.01A2.9 2.9 0 1 0 3.98 1.14z" fill="#1e82db"/>
<path d="M3.89 0.9A2.94 2.94 0 1 1 -1.22 3.81L-0.9 4.2A2.86 2.86 0 1 0 4.07 1.38z" fill="#2087d8"/>
<path d="M3.98 1.14A2.9 2.9 0 1 1 -1.06 4.01L-0.74 4.39A2.81 2.81 0 1 0 4.15 1.61z" fill="#208cd6"/>
<path d="M4.07 1.38A2.86 2.86 0 1 1 -0.9 4.2L-0.59 4.57A2.77 2.77 0 1 0 4.23 1.83z" fill="#1e91d5"/>
<path d="M4.15 1.61A2.81 2.81 0 1 1 -0.74 4.39L-0.42 4.77A2.72 2.72 0 1 0 4.31 2.08z" fill="#1a96d4"/>
<path d="M4.23 1.83A2.77 2.77 0 1 1 -0.59 4.57L-0.26 4.94A2.67 2.67 0 1 0 4.37 2.3z" fill="#149cd3"/>
<path d="M4.31 2.08A2.72 2.72 0 1 1 -0.42 4.77L-0.06 5.12A2.59 2.59 0 1 0 4.43 2.57z" fill="#10a0d1"/>
<path d="M4.37 2.3A2.67 2.67 0 1 1 -0.26 4.94L0.12 5.13A2.43 2.43 0 1 0 4.34 2.73z" fill="#0da4ce"/>
<path d="M4.43 2.57A2.59 2.59 0 1 1 -0.06 5.12L0.06 4.88A2.36 2.36 0 1 0 4.16 2.55z" fill="#07a4ca"/>
<path d="M4.34 2.73A2.43 2.43 0 1 1 0.12 5.13L-0.03 4.64A2.32 2.32 0 1 0 4 2.36z" fill="#0ea6cc"/>
<path d="M4.16 2.55A2.36 2.36 0 1 1 0.06 4.88L-0.12 4.41A2.28 2.28 0 1 0 3.85 2.15z" fill="#14a3d1"/>
<path d="M4 2.36A2.32 2.32 0 1 1 -0.03 4.64L-0.21 4.2A2.26 2.26 0 1 0 3.71 1.97z" fill="#19a0d4"/>
<path d="M3.85 2.15A2.28 2.28 0 1 1 -0.12 4.41L-0.31 3.97A2.23 2.23 0 1 0 3.57 1.77z" fill="#1f9bd5"/>
<path d="M3.71 1.97A2.26 2.26 0 1 1 -0.21 4.2L-0.42 3.73A2.2 2.2 0 1 0 3.41 1.55z" fill="#2596d6"/>
<path d="M3.57 1.77A2.23 2.23 0 1 1 -0.31 3.97L-0.51 3.52A2.18 2.18 0 1 0 3.29 1.37z" fill="#2891d7"/>
<path d="M3.41 1.55A2.2 2.2 0 1 1 -0.42 3.73L-0.6 3.32A2.16 2.16 0 1 0 3.16 1.18z" fill="#298dd9"/>
<path d="M3.29 1.37A2.18 2.18 0 1 1 -0.51 3.52L-0.69 3.11A2.14 2.14 0 1 0 3.03 1z" fill="#2989db"/>
<path d="M3.16 1.18A2.16 2.16 0 1 1 -0.6 3.32L-0.79 2.9A2.12 2.12 0 1 0 2.89 0.81z" fill="#2685de"/>
<path d="M3.03 1A2.14 2.14 0 1 1 -0.69 3.11L-0.88 2.69A2.1 2.1 0 1 0 2.76 0.62z" fill="#2381e0"/>
<path d="M2.89 0.81A2.12 2.12 0 1 1 -0.79 2.9L-0.98 2.48A2.08 2.08 0 1 0 2.63 0.44z" fill="#1e7de2"/>
<path d="M2.76 0.62A2.1 2.1 0 1 1 -0.88 2.69L-1.06 2.28A2.05 2.05 0 1 0 2.51 0.26z" fill="#1a78e3"/>
<path d="M2.63 0.44A2.08 2.08 0 1 1 -0.98 2.48L-1.17 2.04A2.03 2.03 0 1 0 2.35 0.04z" fill="#1973e4"/>
<path d="M2.51 0.26A2.05 2.05 0 1 1 -1.06 2.28L-1.27 1.81A2 2 0 1 0 2.21-0.16z" fill="#226be1"/>
<path d="M2.35 0.04A2.03 2.03 0 1 1 -1.17 2.04L-1.36 1.6A1.97 1.97 0 1 0 2.07-0.34z" fill="#3360d7"/>
<path d="M2.21-0.16A2 2 0 1 1 -1.27 1.81L-1.45 1.37A1.94 1.94 0 1 0 1.92-0.54z" fill="#3b51ca"/>
<path d="M2.07-0.34A1.97 1.97 0 1 1 -1.36 1.6L-1.54 1.13A1.9 1.9 0 1 0 1.76-0.74z" fill="#3e49c0"/>
<path d="M1.92-0.54A1.94 1.94 0 1 1 -1.45 1.37L-1.6 0.89A1.83 1.83 0 1 0 1.59-0.91z" fill="#3e3fb4"/>
<path d="M1.76-0.74A1.9 1.9 0 1 1 -1.54 1.13L-1.41 0.97A1.7 1.7 0 1 0 1.56-0.71z" fill="#3a34a7"/>
<path d="M1.59-0.91A1.83 1.83 0 1 1 -1.6 0.89L-1.25 1.17A1.66 1.66 0 1 0 1.64-0.47z" fill="#352fa4"/>
<path d="M1.56-0.71A1.7 1.7 0 1 1 -1.41 0.97L-1.08 1.39A1.63 1.63 0 1 0 1.75-0.22z" fill="#3e3db2"/>
<path d="M1.64-0.47A1.66 1.66 0 1 1 -1.25 1.17L-0.93 1.61A1.6 1.6 0 1 0 1.86 0.02z" fill="#4049be"/>
<path d="M1.75-0.22A1.63 1.63 0 1 1 -1.08 1.39L-0.79 1.8A1.58 1.58 0 1 0 1.96 0.24z" fill="#3d53ca"/>
<path d="M1.86 0.02A1.6 1.6 0 1 1 -0.93 1.61L-0.64 2.03A1.56 1.56 0 1 0 2.07 0.49z" fill="#3664d8"/>
<path d="M1.96 0.24A1.58 1.58 0 1 1 -0.79 1.8L-0.51 2.22A1.54 1.54 0 1 0 2.17 0.7z" fill="#2670e2"/>
<path d="M2.07 0.49A1.56 1.56 0 1 1 -0.64 2.03L-0.38 2.42A1.52 1.52 0 1 0 2.27 0.92z" fill="#2078e5"/>
<path d="M2.17 0.7A1.54 1.54 0 1 1 -0.51 2.22L-0.23 2.64A1.51 1.51 0 1 0 2.39 1.15z" fill="#247ee4"/>
<path d="M2.27 0.92A1.52 1.52 0 1 1 -0.38 2.42L-0.11 2.83A1.49 1.49 0 1 0 2.48 1.35z" fill="#2a84e3"/>
<path d="M2.39 1.15A1.51 1.51 0 1 1 -0.23 2.64L0.01 3.02A1.48 1.48 0 1 0 2.59 1.56z" fill="#2f89e1"/>
<path d="M2.48 1.35A1.49 1.49 0 1 1 -0.11 2.83L0.14 3.22A1.47 1.47 0 1 0 2.69 1.77z" fill="#328ddf"/>
<path d="M2.59 1.56A1.48 1.48 0 1 1 0.01 3.02L0.28 3.43A1.45 1.45 0 1 0 2.8 1.99z" fill="#3491dc"/>
<path d="M2.69 1.77A1.47 1.47 0 1 1 0.14 3.22L0.41 3.64A1.44 1.44 0 1 0 2.92 2.22z" fill="#3595da"/>
<path d="M2.8 1.99A1.45 1.45 0 1 1 0.28 3.43L0.56 3.86A1.43 1.43 0 1 0 3.03 2.46z" fill="#349ad9"/>
<path d="M2.92 2.22A1.44 1.44 0 1 1 0.41 3.64L0.7 4.09A1.41 1.41 0 1 0 3.16 2.7z" fill="#319fd8"/>
<path d="M3.03 2.46A1.43 1.43 0 1 1 0.56 3.86L0.82 4.28A1.4 1.4 0 1 0 3.26 2.9z" fill="#2ca5d8"/>
<path d="M3.16 2.7A1.41 1.41 0 1 1 0.7 4.09L0.94 4.47A1.39 1.39 0 1 0 3.36 3.1z" fill="#2aaad6"/>
<path d="M3.26 2.9A1.4 1.4 0 1 1 0.82 4.28L1.07 4.67A1.38 1.38 0 1 0 3.46 3.31z" fill="#29aed4"/>
<path d="M3.36 3.1A1.39 1.39 0 1 1 0.94 4.47L1.19 4.87A1.37 1.37 0 1 0 3.57 3.52z" fill="#29b1d1"/>
<path d="M3.46 3.31A1.38 1.38 0 1 1 1.07 4.67L1.32 5.07A1.36 1.36 0 1 0 3.68 3.73z" fill="#29b4cd"/>
<path d="M3.57 3.52A1.37 1.37 0 1 1 1.19 4.87L1.45 5.27A1.35 1.35 0 1 0 3.79 3.95z" fill="#2bb7c8"/>
<path d="M3.68 3.73A1.36 1.36 0 1 1 1.32 5.07L1.58 5.48A1.33 1.33 0 1 0 3.9 4.16z" fill="#2fb9c4"/>
<path d="M3.79 3.95A1.35 1.35 0 1 1 1.45 5.27L1.71 5.69A1.32 1.32 0 1 0 4.01 4.39z" fill="#36bcbf"/>
<path d="M3.9 4.16A1.33 1.33 0 1 1 1.58 5.48L1.84 5.91A1.31 1.31 0 1 0 4.13 4.61z" fill="#3ebeb9"/>
<path d="M4.01 4.39A1.32 1.32 0 1 1 1.71 5.69L1.98 6.12A1.3 1.3 0 1 0 4.24 4.84z" fill="#47c0b3"/>
<path d="M4.13 4.61A1.31 1.31 0 1 1 1.84 5.91L2.12 6.34A1.29 1.29 0 1 0 4.36 5.06z" fill="#51c2ad"/>
<path d="M4.24 4.84A1.3 1.3 0 1 1 1.98 6.12L2.25 6.55A1.28 1.28 0 1 0 4.48 5.29z" fill="#5cc4a6"/>
<path d="M4.36 5.06A1.29 1.29 0 1 1 2.12 6.34L2.39 6.77A1.27 1.27 0 1 0 4.59 5.52z" fill="#69c6a0"/>
<path d="M4.48 5.29A1.28 1.28 0 1 1 2.25 6.55L2.53 6.99A1.26 1.26 0 1 0 4.71 5.75z" fill="#76c799"/>
<path d="M4.59 5.52A1.27 1.27 0 1 1 2.39 6.77L2.66 7.21A1.25 1.25 0 1 0 4.83 5.98z" fill="#83c893"/>
<path d="M4.71 5.75A1.26 1.26 0 1 1 2.53 6.99L2.8 7.43A1.24 1.24 0 1 0 4.95 6.22z" fill="#90c88d"/>
<path d="M4.83 5.98A1.25 1.25 0 1 1 2.66 7.21L2.94 7.65A1.22 1.22 0 1 0 5.07 6.45z" fill="#9cc888"/>
<path d="M4.95 6.22A1.24 1.24 0 1 1 2.8 7.43L3.08 7.87A1.21 1.21 0 1 0 5.19 6.68z" fill="#a7c884"/>
<path d="M5.07 6.45A1.22 1.22 0 1 1 2.94 7.65L3.21 8.09A1.2 1.2 0 1 0 5.3 6.91z" fill="#b2c77f"/>
<path d="M5.19 6.68A1.21 1.21 0 1 1 3.08 7.87L3.35 8.31A1.19 1.19 0 1 0 5.42 7.13z" fill="#bcc77b"/>
<path d="M5.3 6.91A1.2 1.2 0 1 1 3.21 8.09L3.48 8.53A1.18 1.18 0 1 0 5.54 7.36z" fill="#c6c677"/>
<path d="M5.42 7.13A1.19 1.19 0 1 1 3.35 8.31L3.62 8.74A1.17 1.17 0 1 0 5.65 7.58z" fill="#d0c573"/>
<path d="M5.54 7.36A1.18 1.18 0 1 1 3.48 8.53L3.75 8.95A1.16 1.16 0 1 0 5.76 7.8z" fill="#d9c470"/>
<path d="M5.65 7.58A1.17 1.17 0 1 1 3.62 8.74L3.88 9.15A1.15 1.15 0 1 0 5.87 8.02z" fill="#e2c36c"/>
<path d="M5.76 7.8A1.16 1.16 0 1 1 3.75 8.95L4.01 9.36A1.14 1.14 0 1 0 5.98 8.24z" fill="#eac368"/>
<path d="M5.87 8.02A1.15 1.15 0 1 1 3.88 9.15L4.13 9.55A1.13 1.13 0 1 0 6.09 8.44z" fill="#f3c363"/>
<path d="M5.98 8.24A1.14 1.14 0 1 1 4.01 9.36L4.25 9.75A1.11 1.11 0 1 0 6.19 8.65z" fill="#fac55d"/>
<path d="M6.09 8.44A1.13 1.13 0 1 1 4.13 9.55L4.37 9.93A1.1 1.1 0 1 0 6.29 8.85z" fill="#fec957"/>
<path d="M6.19 8.65A1.11 1.11 0 1 1 4.25 9.75L4.52 10.16A1.09 1.09 0 1 0 6.41 9.08z" fill="#fece51"/>
<path d="M6.29 8.85A1.1 1.1 0 1 1 4.37 9.93L4.65 10.37A1.08 1.08 0 1 0 6.52 9.31z" fill="#fdd34c"/>
<path d="M6.41 9.08A1.09 1.09 0 1 1 4.52 10.16L4.78 10.57A1.06 1.06 0 1 0 6.63 9.52z" fill="#fad947"/>
<path d="M6.52 9.31A1.08 1.08 0 1 1 4.65 10.37L4.93 10.79A1.05 1.05 0 1 0 6.74 9.76z" fill="#f8df43"/>
<path d="M6.63 9.52A1.06 1.06 0 1 1 4.78 10.57L5.06 10.99A1.03 1.03 0 1 0 6.84 9.97z" fill="#f6e63e"/>
<path d="M6.74 9.76A1.05 1.05 0 1 1 4.93 10.79L5.21 11.2A1 1 0 1 0 6.95 10.21z" fill="#f6ec35"/>
<path d="M6.84 9.97A1.03 1.03 0 1 1 5.06 10.99L5.2 11.02A0.92 0.92 0 1 0 6.8 10.11z" fill="#f7f427"/>
<path d="M6.95 10.21A1 1 0 1 1 5.21 11.2L5.11 10.79A0.89 0.89 0 1 0 6.65 9.92z" fill="#f7f616"/>
<path d="M6.8 10.11A0.92 0.92 0 1 1 5.2 11.02L5.01 10.56A0.86 0.86 0 1 0 6.5 9.71z" fill="#f6ee26"/>
<path d="M6.65 9.92A0.89 0.89 0 1 1 5.11 10.79L4.9 10.33A0.84 0.84 0 1 0 6.36 9.5z" fill="#f5e730"/>
<path d="M6.5 9.71A0.86 0.86 0 1 1 5.01 10.56L4.81 10.13A0.82 0.82 0 1 0 6.24 9.32z" fill="#f7e039"/>
<path d="M6.36 9.5A0.84 0.84 0 1 1 4.9 10.33L4.71 9.91A0.8 0.8 0 1 0 6.1 9.12z" fill="#f9db40"/>
<path d="M6.24 9.32A0.82 0.82 0 1 1 4.81 10.13L4.59 9.68A0.79 0.79 0 1 0 5.96 8.9z" fill="#fcd647"/>
<path d="M6.1 9.12A0.8 0.8 0 1 1 4.71 9.91L4.5 9.48A0.77 0.77 0 1 0 5.84 8.72z" fill="#fed04d"/>
<path d="M5.96 8.9A0.79 0.79 0 1 1 4.59 9.68L4.39 9.27A0.76 0.76 0 1 0 5.71 8.52z" fill="#ffcb54"/>
<path d="M5.84 8.72A0.77 0.77 0 1 1 4.5 9.48L4.29 9.05A0.74 0.74 0 1 0 5.58 8.32z" fill="#fcc65a"/>
<path d="M5.71 8.52A0.76 0.76 0 1 1 4.39 9.27L4.17 8.83A0.73 0.73 0 1 0 5.44 8.11z" fill="#f6c461"/>
<path d="M5.58 8.32A0.74 0.74 0 1 1 4.29 9.05L4.06 8.59A0.72 0.72 0 1 0 5.3 7.88z" fill="#eec366"/>
<path d="M5.44 8.11A0.73 0.73 0 1 1 4.17 8.83L3.93 8.35A0.7 0.7 0 1 0 5.16 7.66z" fill="#e5c36a"/>
<path d="M5.3 7.88A0.72 0.72 0 1 1 4.06 8.59L3.83 8.15A0.69 0.69 0 1 0 5.04 7.47z" fill="#dbc46f"/>
<path d="M5.16 7.66A0.7 0.7 0 1 1 3.93 8.35L3.73 7.95A0.68 0.68 0 1 0 4.92 7.28z" fill="#d2c572"/>
<path d="M5.04 7.47A0.69 0.69 0 1 1 3.83 8.15L3.63 7.74A0.67 0.67 0 1 0 4.79 7.08z" fill="#cac676"/>
<path d="M4.92 7.28A0.68 0.68 0 1 1 3.73 7.95L3.52 7.53A0.66 0.66 0 1 0 4.67 6.88z" fill="#c1c679"/>
<path d="M4.79 7.08A0.67 0.67 0 1 1 3.63 7.74L3.41 7.32A0.65 0.65 0 1 0 4.54 6.68z" fill="#b8c77d"/>
<path d="M4.67 6.88A0.66 0.66 0 1 1 3.52 7.53L3.3 7.11A0.64 0.64 0 1 0 4.41 6.48z" fill="#afc781"/>
<path d="M4.54 6.68A0.65 0.65 0 1 1 3.41 7.32L3.19 6.89A0.63 0.63 0 1 0 4.28 6.27z" fill="#a5c885"/>
<path d="M4.41 6.48A0.64 0.64 0 1 1 3.3 7.11L3.08 6.67A0.62 0.62 0 1 0 4.15 6.06z" fill="#9ac889"/>
<path d="M4.28 6.27A0.63 0.63 0 1 1 3.19 6.89L2.97 6.45A0.6 0.6 0 1 0 4.02 5.85z" fill="#8ec88e"/>
<path d="M4.15 6.06A0.62 0.62 0 1 1 3.08 6.67L2.85 6.23A0.59 0.59 0 1 0 3.89 5.64z" fill="#81c894"/>
<path d="M4.02 5.85A0.6 0.6 0 1 1 2.97 6.45L2.74 6A0.58 0.58 0 1 0 3.75 5.43z" fill="#74c79a"/>
<path d="M3.89 5.64A0.59 0.59 0 1 1 2.85 6.23L2.63 5.78A0.57 0.57 0 1 0 3.62 5.22z" fill="#67c6a0"/>
<path d="M3.75 5.43A0.58 0.58 0 1 1 2.74 6L2.51 5.56A0.56 0.56 0 1 0 3.48 5z" fill="#5bc4a7"/>
<path d="M3.62 5.22A0.57 0.57 0 1 1 2.63 5.78L2.4 5.33A0.55 0.55 0 1 0 3.35 4.79z" fill="#50c2ae"/>
<path d="M3.48 5A0.56 0.56 0 1 1 2.51 5.56L2.28 5.11A0.54 0.54 0 1 0 3.22 4.58z" fill="#46c0b4"/>
<path d="M3.35 4.79A0.55 0.55 0 1 1 2.4 5.33L2.17 4.89A0.53 0.53 0 1 0 3.08 4.37z" fill="#3dbeba"/>
<path d="M3.22 4.58A0.54 0.54 0 1 1 2.28 5.11L2.06 4.66A0.52 0.52 0 1 0 2.95 4.15z" fill="#35bbbf"/>
<path d="M3.08 4.37A0.53 0.53 0 1 1 2.17 4.89L1.94 4.44A0.51 0.51 0 1 0 2.82 3.95z" fill="#2fb9c4"/>
<path d="M2.95 4.15A0.52 0.52 0 1 1 2.06 4.66L1.83 4.23A0.49 0.49 0 1 0 2.69 3.74z" fill="#2ab6c9"/>
<path d="M2.82 3.95A0.51 0.51 0 1 1 1.94 4.44L1.72 4.01A0.48 0.48 0 1 0 2.56 3.53z" fill="#29b3ce"/>
<path d="M2.69 3.74A0.49 0.49 0 1 1 1.83 4.23L1.61 3.8A0.47 0.47 0 1 0 2.44 3.33z" fill="#29b0d1"/>
<path d="M2.56 3.53A0.48 0.48 0 1 1 1.72 4.01L1.51 3.59A0.46 0.46 0 1 0 2.31 3.13z" fill="#29add5"/>
<path d="M2.44 3.33A0.47 0.47 0 1 1 1.61 3.8L1.4 3.38A0.45 0.45 0 1 0 2.19 2.94z" fill="#2aa9d7"/>
<path d="M2.31 3.13A0.46 0.46 0 1 1 1.51 3.59L1.3 3.18A0.44 0.44 0 1 0 2.06 2.75z" fill="#2da4d8"/>
<path d="M2.19 2.94A0.45 0.45 0 1 1 1.4 3.38L1.2 2.98A0.43 0.43 0 1 0 1.94 2.56z" fill="#319fd8"/>
<path d="M2.06 2.75A0.44 0.44 0 1 1 1.3 3.18L1.08 2.74A0.41 0.41 0 1 0 1.8 2.33z" fill="#349ad9"/>
<path d="M1.94 2.56A0.43 0.43 0 1 1 1.2 2.98L0.96 2.5A0.4 0.4 0 1 0 1.66 2.11z" fill="#3595da"/>
<path d="M1.8 2.33A0.41 0.41 0 1 1 1.08 2.74L0.85 2.28A0.39 0.39 0 1 0 1.52 1.89z" fill="#3491dc"/>
<path d="M1.66 2.11A0.4 0.4 0 1 1 0.96 2.5L0.74 2.06A0.37 0.37 0 1 0 1.39 1.69z" fill="#328cdf"/>
<path d="M1.52 1.89A0.39 0.39 0 1 1 0.85 2.28L0.64 1.85A0.36 0.36 0 1 0 1.26 1.49z" fill="#2f88e1"/>
<path d="M1.39 1.69A0.37 0.37 0 1 1 0.74 2.06L0.54 1.65A0.35 0.35 0 1 0 1.14 1.31z" fill="#2a84e3"/>
<path d="M1.26 1.49A0.36 0.36 0 1 1 0.64 1.85L0.42 1.41A0.33 0.33 0 1 0 0.99 1.09z" fill="#2780e5"/>
<path d="M1.14 1.31A0.35 0.35 0 1 1 0.54 1.65L0.32 1.19A0.31 0.31 0 1 0 0.86 0.88z" fill="#257ae5"/>
<path d="M0.99 1.09A0.33 0.33 0 1 1 0.42 1.41L0.22 0.99A0.29 0.29 0 1 0 0.74 0.7z" fill="#2b72e2"/>
<path d="M0.86 0.88A0.31 0.31 0 1 1 0.32 1.19L0.12 0.76A0.27 0.27 0 1 0 0.59 0.49z" fill="#3967d9"/>
<path d="M0.74 0.7A0.29 0.29 0 1 1 0.22 0.99L0.01 0.52A0.25 0.25 0 1 0 0.44 0.28z" fill="#4057cc"/>
<path d="M0.59 0.49A0.27 0.27 0 1 1 0.12 0.76L-0.08 0.29A0.21 0.21 0 1 0 0.29 0.08z" fill="#434dc1"/>
<path d="M0.44 0.28A0.25 0.25 0 1 1 0.01 0.52L-0.13 0.09A0.16 0.16 0 1 0 0.15-0.07z" fill="#4142b5"/>
<path d="M0.29 0.08A0.21 0.21 0 1 1 -0.08 0.29z" fill="#3a35a7"/>
<path d="M0.15-0.07A0.16 0.16 0 1 1 -0.13 0.09z" fill="#33299b"/>
<path d="M-0.07 0.3A0.21 0.21 0 1 1 0.3 0.09z" fill="#33299b"/>
<path d="M0.02 0.54A0.25 0.25 0 1 1 0.45 0.29L0.15-0.06A0.16 0.16 0 1 0 -0.13 0.1z" fill="#3a35a7"/>
<path d="M0.13 0.78A0.27 0.27 0 1 1 0.6 0.51L0.3 0.09A0.21 0.21 0 1 0 -0.07 0.3z" fill="#4142b5"/>
<path d="M0.23 1.01A0.29 0.29 0 1 1 0.74 0.72L0.45 0.29A0.25 0.25 0 1 0 0.02 0.54z" fill="#434dc1"/>
<path d="M0.33 1.21A0.31 0.31 0 1 1 0.87 0.9L0.6 0.51A0.27 0.27 0 1 0 0.13 0.78z" fill="#4057cc"/>
<path d="M0.43 1.43A0.33 0.33 0 1 1 1 1.1L0.74 0.72A0.29 0.29 0 1 0 0.23 1.01z" fill="#3967d9"/>
<path d="M0.55 1.67A0.35 0.35 0 1 1 1.15 1.32L0.87 0.9A0.31 0.31 0 1 0 0.33 1.21z" fill="#2b72e2"/>
<path d="M0.65 1.87A0.36 0.36 0 1 1 1.27 1.51L1 1.1A0.33 0.33 0 1 0 0.43 1.43z" fill="#257ae5"/>
<path d="M0.75 2.08A0.37 0.37 0 1 1 1.4 1.71L1.15 1.32A0.35 0.35 0 1 0 0.55 1.67z" fill="#2780e5"/>
<path d="M0.86 2.3A0.39 0.39 0 1 1 1.53 1.91L1.27 1.51A0.36 0.36 0 1 0 0.65 1.87z" fill="#2a84e3"/>
<path d="M0.97 2.52A0.4 0.4 0 1 1 1.67 2.13L1.4 1.71A0.37 0.37 0 1 0 0.75 2.08z" fill="#2f88e1"/>
<path d="M1.09 2.76A0.41 0.41 0 1 1 1.81 2.35L1.53 1.91A0.39 0.39 0 1 0 0.86 2.3z" fill="#328cdf"/>
<path d="M1.21 3A0.43 0.43 0 1 1 1.96 2.58L1.67 2.13A0.4 0.4 0 1 0 0.97 2.52z" fill="#3491dc"/>
<path d="M1.31 3.2A0.44 0.44 0 1 1 2.08 2.77L1.81 2.35A0.41 0.41 0 1 0 1.09 2.76z" fill="#3595da"/>
<path d="M1.42 3.41A0.45 0.45 0 1 1 2.2 2.96L1.96 2.58A0.43 0.43 0 1 0 1.21 3z" fill="#349ad9"/>
<path d="M1.52 3.61A0.46 0.46 0 1 1 2.32 3.16L2.08 2.77A0.44 0.44 0 1 0 1.31 3.2z" fill="#319fd8"/>
<path d="M1.63 3.82A0.47 0.47 0 1 1 2.45 3.36L2.2 2.96A0.45 0.45 0 1 0 1.42 3.41z" fill="#2da4d8"/>
<path d="M1.74 4.04A0.48 0.48 0 1 1 2.58 3.56L2.32 3.16A0.46 0.46 0 1 0 1.52 3.61z" fill="#2aa9d7"/>
<path d="M1.85 4.25A0.49 0.49 0 1 1 2.71 3.76L2.45 3.36A0.47 0.47 0 1 0 1.63 3.82z" fill="#29add5"/>
<path d="M1.96 4.47A0.51 0.51 0 1 1 2.84 3.97L2.58 3.56A0.48 0.48 0 1 0 1.74 4.04z" fill="#29b0d1"/>
<path d="M2.07 4.69A0.52 0.52 0 1 1 2.97 4.18L2.71 3.76A0.49 0.49 0 1 0 1.85 4.25z" fill="#29b3ce"/>
<path d="M2.18 4.91A0.53 0.53 0 1 1 3.1 4.39L2.84 3.97A0.51 0.51 0 1 0 1.96 4.47z" fill="#2ab6c9"/>
<path d="M2.3 5.14A0.54 0.54 0 1 1 3.23 4.6L2.97 4.18A0.52 0.52 0 1 0 2.07 4.69z" fill="#2fb9c4"/>
<path d="M2.41 5.36A0.55 0.55 0 1 1 3.37 4.82L3.1 4.39A0.53 0.53 0 1 0 2.18 4.91z" fill="#35bbbf"/>
<path d="M2.53 5.58A0.56 0.56 0 1 1 3.5 5.03L3.23 4.6A0.54 0.54 0 1 0 2.3 5.14z" fill="#3dbeba"/>
<path d="M2.64 5.81A0.57 0.57 0 1 1 3.64 5.25L3.37 4.82A0.55 0.55 0 1 0 2.41 5.36z" fill="#46c0b4"/>
<path d="M2.76 6.03A0.58 0.58 0 1 1 3.77 5.46L3.5 5.03A0.56 0.56 0 1 0 2.53 5.58z" fill="#50c2ae"/>
<path d="M2.87 6.26A0.59 0.59 0 1 1 3.9 5.67L3.64 5.25A0.57 0.57 0 1 0 2.64 5.81z" fill="#5bc4a7"/>
<path d="M2.99 6.48A0.6 0.6 0 1 1 4.04 5.88L3.77 5.46A0.58 0.58 0 1 0 2.76 6.03z" fill="#67c6a0"/>
<path d="M3.1 6.7A0.62 0.62 0 1 1 4.17 6.1L3.9 5.67A0.59 0.59 0 1 0 2.87 6.26z" fill="#74c79a"/>
<path d="M3.21 6.92A0.63 0.63 0 1 1 4.3 6.3L4.04 5.88A0.6 0.6 0 1 0 2.99 6.48z" fill="#81c894"/>
<path d="M3.32 7.14A0.64 0.64 0 1 1 4.43 6.51L4.17 6.1A0.62 0.62 0 1 0 3.1 6.7z" fill="#8ec88e"/>
<path d="M3.43 7.36A0.65 0.65 0 1 1 4.56 6.72L4.3 6.3A0.63 0.63 0 1 0 3.21 6.92z" fill="#9ac889"/>
<path d="M3.54 7.57A0.66 0.66 0 1 1 4.69 6.92L4.43 6.51A0.64 0.64 0 1 0 3.32 7.14z" fill="#a5c885"/>
<path d="M3.65 7.78A0.67 0.67 0 1 1 4.81 7.12L4.56 6.72A0.65 0.65 0 1 0 3.43 7.36z" fill="#afc781"/>
<path d="M3.75 7.99A0.68 0.68 0 1 1 4.94 7.31L4.69 6.92A0.66 0.66 0 1 0 3.54 7.57z" fill="#b8c77d"/>
<path d="M3.85 8.19A0.69 0.69 0 1 1 5.06 7.51L4.81 7.12A0.67 0.67 0 1 0 3.65 7.78z" fill="#c1c679"/>
<path d="M3.95 8.39A0.7 0.7 0 1 1 5.18 7.69L4.94 7.31A0.68 0.68 0 1 0 3.75 7.99z" fill="#cac676"/>
<path d="M4.08 8.63A0.72 0.72 0 1 1 5.32 7.92L5.06 7.51A0.69 0.69 0 1 0 3.85 8.19z" fill="#d2c572"/>
<path d="M4.19 8.87A0.73 0.73 0 1 1 5.46 8.14L5.18 7.69A0.7 0.7 0 1 0 3.95 8.39z" fill="#dbc46f"/>
<path d="M4.31 9.09A0.74 0.74 0 1 1 5.6 8.36L5.32 7.92A0.72 0.72 0 1 0 4.08 8.63z" fill="#e5c36a"/>
<path d="M4.42 9.31A0.76 0.76 0 1 1 5.73 8.56L5.46 8.14A0.73 0.73 0 1 0 4.19 8.87z" fill="#eec366"/>
<path d="M4.52 9.52A0.77 0.77 0 1 1 5.86 8.76L5.6 8.36A0.74 0.74 0 1 0 4.31 9.09z" fill="#f6c461"/>
<path d="M4.62 9.72A0.79 0.79 0 1 1 5.98 8.94L5.73 8.56A0.76 0.76 0 1 0 4.42 9.31z" fill="#fcc65a"/>
<path d="M4.73 9.96A0.8 0.8 0 1 1 6.13 9.16L5.86 8.76A0.77 0.77 0 1 0 4.52 9.52z" fill="#ffcb54"/>
<path d="M4.83 10.17A0.82 0.82 0 1 1 6.26 9.36L5.98 8.94A0.79 0.79 0 1 0 4.62 9.72z" fill="#fed04d"/>
<path d="M4.93 10.37A0.84 0.84 0 1 1 6.38 9.55L6.13 9.16A0.8 0.8 0 1 0 4.73 9.96z" fill="#fcd647"/>
<path d="M5.03 10.6A0.86 0.86 0 1 1 6.53 9.75L6.26 9.36A0.82 0.82 0 1 0 4.83 10.17z" fill="#f9db40"/>
<path d="M5.14 10.84A0.89 0.89 0 1 1 6.68 9.97L6.38 9.55A0.84 0.84 0 1 0 4.93 10.37z" fill="#f7e039"/>
<path d="M5.23 11.07A0.92 0.92 0 1 1 6.83 10.16L6.53 9.75A0.86 0.86 0 1 0 5.03 10.6z" fill="#f5e730"/>
<path d="M5.24 11.25A1 1 0 1 1 6.98 10.27L6.68 9.97A0.89 0.89 0 1 0 5.14 10.84z" fill="#f6ee26"/>
<path d="M5.09 11.04A1.03 1.03 0 1 1 6.87 10.03L6.83 10.16A0.92 0.92 0 1 0 5.23 11.07z" fill="#f7f616"/>
<path d="M4.96 10.85A1.05 1.05 0 1 1 6.78 9.82L6.98 10.27A1 1 0 1 0 5.24 11.25z" fill="#f7f427"/>
<path d="M4.81 10.62A1.06 1.06 0 1 1 6.66 9.58L6.87 10.03A1.03 1.03 0 1 0 5.09 11.04z" fill="#f6ec35"/>
<path d="M4.68 10.43A1.08 1.08 0 1 1 6.55 9.36L6.78 9.82A1.05 1.05 0 1 0 4.96 10.85z" fill="#f6e63e"/>
<path d="M4.55 10.22A1.09 1.09 0 1 1 6.44 9.14L6.66 9.58A1.06 1.06 0 1 0 4.81 10.62z" fill="#f8df43"/>
<path d="M4.41 9.99A1.1 1.1 0 1 1 6.32 8.9L6.55 9.36A1.08 1.08 0 1 0 4.68 10.43z" fill="#fad947"/>
<path d="M4.29 9.81A1.11 1.11 0 1 1 6.22 8.71L6.44 9.14A1.09 1.09 0 1 0 4.55 10.22z" fill="#fdd34c"/>
<path d="M4.17 9.61A1.13 1.13 0 1 1 6.12 8.5L6.32 8.9A1.1 1.1 0 1 0 4.41 9.99z" fill="#fece51"/>
<path d="M4.04 9.42A1.14 1.14 0 1 1 6.02 8.29L6.22 8.71A1.11 1.11 0 1 0 4.29 9.81z" fill="#fec957"/>
<path d="M3.91 9.21A1.15 1.15 0 1 1 5.91 8.08L6.12 8.5A1.13 1.13 0 1 0 4.17 9.61z" fill="#fac55d"/>
<path d="M3.78 9.01A1.16 1.16 0 1 1 5.8 7.86L6.02 8.29A1.14 1.14 0 1 0 4.04 9.42z" fill="#f3c363"/>
<path d="M3.65 8.8A1.17 1.17 0 1 1 5.69 7.64L5.91 8.08A1.15 1.15 0 1 0 3.91 9.21z" fill="#eac368"/>
<path d="M3.52 8.59A1.18 1.18 0 1 1 5.57 7.42L5.8 7.86A1.16 1.16 0 1 0 3.78 9.01z" fill="#e2c36c"/>
<path d="M3.38 8.37A1.19 1.19 0 1 1 5.46 7.2L5.69 7.64A1.17 1.17 0 1 0 3.65 8.8z" fill="#d9c470"/>
<path d="M3.25 8.16A1.2 1.2 0 1 1 5.34 6.97L5.57 7.42A1.18 1.18 0 1 0 3.52 8.59z" fill="#d0c573"/>
<path d="M3.11 7.94A1.21 1.21 0 1 1 5.22 6.74L5.46 7.2A1.19 1.19 0 1 0 3.38 8.37z" fill="#c6c677"/>
<path d="M2.98 7.72A1.22 1.22 0 1 1 5.1 6.51L5.34 6.97A1.2 1.2 0 1 0 3.25 8.16z" fill="#bcc77b"/>
<path d="M2.84 7.5A1.24 1.24 0 1 1 4.99 6.28L5.22 6.74A1.21 1.21 0 1 0 3.11 7.94z" fill="#b2c77f"/>
<path d="M2.7 7.28A1.25 1.25 0 1 1 4.87 6.05L5.1 6.51A1.22 1.22 0 1 0 2.98 7.72z" fill="#a7c884"/>
<path d="M2.56 7.06A1.26 1.26 0 1 1 4.75 5.82L4.99 6.28A1.24 1.24 0 1 0 2.84 7.5z" fill="#9cc888"/>
<path d="M2.43 6.84A1.27 1.27 0 1 1 4.63 5.59L4.87 6.05A1.25 1.25 0 1 0 2.7 7.28z" fill="#90c88d"/>
<path d="M2.29 6.62A1.28 1.28 0 1 1 4.51 5.36L4.75 5.82A1.26 1.26 0 1 0 2.56 7.06z" fill="#83c893"/>
<path d="M2.15 6.4A1.29 1.29 0 1 1 4.4 5.13L4.63 5.59A1.27 1.27 0 1 0 2.43 6.84z" fill="#76c799"/>
<path d="M2.02 6.19A1.3 1.3 0 1 1 4.28 4.9L4.51 5.36A1.28 1.28 0 1 0 2.29 6.62z" fill="#69c6a0"/>
<path d="M1.88 5.97A1.31 1.31 0 1 1 4.16 4.68L4.4 5.13A1.29 1.29 0 1 0 2.15 6.4z" fill="#5cc4a6"/>
<path d="M1.75 5.76A1.32 1.32 0 1 1 4.05 4.46L4.28 4.9A1.3 1.3 0 1 0 2.02 6.19z" fill="#51c2ad"/>
<path d="M1.62 5.55A1.33 1.33 0 1 1 3.94 4.23L4.16 4.68A1.31 1.31 0 1 0 1.88 5.97z" fill="#47c0b3"/>
<path d="M1.49 5.34A1.35 1.35 0 1 1 3.83 4.02L4.05 4.46A1.32 1.32 0 1 0 1.75 5.76z" fill="#3ebeb9"/>
<path d="M1.36 5.14A1.36 1.36 0 1 1 3.72 3.8L3.94 4.23A1.33 1.33 0 1 0 1.62 5.55z" fill="#36bcbf"/>
<path d="M1.23 4.94A1.37 1.37 0 1 1 3.61 3.59L3.83 4.02A1.35 1.35 0 1 0 1.49 5.34z" fill="#2fb9c4"/>
<path d="M1.11 4.74A1.38 1.38 0 1 1 3.5 3.38L3.72 3.8A1.36 1.36 0 1 0 1.36 5.14z" fill="#2bb7c8"/>
<path d="M0.98 4.55A1.39 1.39 0 1 1 3.4 3.17L3.61 3.59A1.37 1.37 0 1 0 1.23 4.94z" fill="#29b4cd"/>
<path d="M0.86 4.35A1.4 1.4 0 1 1 3.3 2.97L3.5 3.38A1.38 1.38 0 1 0 1.11 4.74z" fill="#29b1d1"/>
<path d="M0.74 4.17A1.41 1.41 0 1 1 3.2 2.77L3.4 3.17A1.39 1.39 0 1 0 0.98 4.55z" fill="#29aed4"/>
<path d="M0.6 3.94A1.43 1.43 0 1 1 3.08 2.53L3.3 2.97A1.4 1.4 0 1 0 0.86 4.35z" fill="#2aaad6"/>
<path d="M0.46 3.72A1.44 1.44 0 1 1 2.96 2.3L3.2 2.77A1.41 1.41 0 1 0 0.74 4.17z" fill="#2ca5d8"/>
<path d="M0.32 3.5A1.45 1.45 0 1 1 2.84 2.07L3.08 2.53A1.43 1.43 0 1 0 0.6 3.94z" fill="#319fd8"/>
<path d="M0.19 3.3A1.47 1.47 0 1 1 2.73 1.85L2.96 2.3A1.44 1.44 0 1 0 0.46 3.72z" fill="#349ad9"/>
<path d="M0.06 3.1A1.48 1.48 0 1 1 2.63 1.63L2.84 2.07A1.45 1.45 0 1 0 0.32 3.5z" fill="#3595da"/>
<path d="M-0.07 2.9A1.49 1.49 0 1 1 2.53 1.43L2.73 1.85A1.47 1.47 0 1 0 0.19 3.3z" fill="#3491dc"/>
<path d="M-0.19 2.72A1.51 1.51 0 1 1 2.43 1.23L2.63 1.63A1.48 1.48 0 1 0 0.06 3.1z" fill="#328ddf"/>
<path d="M-0.33 2.5A1.52 1.52 0 1 1 2.32 1L2.53 1.43A1.49 1.49 0 1 0 -0.07 2.9z" fill="#2f89e1"/>
<path d="M-0.47 2.3A1.54 1.54 0 1 1 2.21 0.78L2.43 1.23A1.51 1.51 0 1 0 -0.19 2.72z" fill="#2a84e3"/>
<path d="M-0.6 2.11A1.56 1.56 0 1 1 2.11 0.57L2.32 1A1.52 1.52 0 1 0 -0.33 2.5z" fill="#247ee4"/>
<path d="M-0.75 1.89A1.58 1.58 0 1 1 2 0.33L2.21 0.78A1.54 1.54 0 1 0 -0.47 2.3z" fill="#2078e5"/>
<path d="M-0.88 1.69A1.6 1.6 0 1 1 1.9 0.11L2.11 0.57A1.56 1.56 0 1 0 -0.6 2.11z" fill="#2670e2"/>
<path d="M-1.03 1.47A1.63 1.63 0 1 1 1.8-0.13L2 0.33A1.58 1.58 0 1 0 -0.75 1.89z" fill="#3664d8"/>
<path d="M-1.2 1.26A1.66 1.66 0 1 1 1.69-0.38L1.9 0.11A1.6 1.6 0 1 0 -0.88 1.69z" fill="#3d53ca"/>
<path d="M-1.36 1.06A1.7 1.7 0 1 1 1.61-0.62L1.8-0.13A1.63 1.63 0 1 0 -1.03 1.47z" fill="#4049be"/>
<path d="M-1.54 0.99A1.83 1.83 0 1 1 1.64-0.82L1.69-0.38A1.66 1.66 0 1 0 -1.2 1.26z" fill="#3e3db2"/>
<path d="M-1.48 1.23A1.9 1.9 0 1 1 1.82-0.64L1.61-0.62A1.7 1.7 0 1 0 -1.36 1.06z" fill="#352fa4"/>
<path d="M-1.39 1.47A1.94 1.94 0 1 1 1.98-0.44L1.64-0.82A1.83 1.83 0 1 0 -1.54 0.99z" fill="#3a34a7"/>
<path d="M-1.3 1.71A1.97 1.97 0 1 1 2.13-0.24L1.82-0.64A1.9 1.9 0 1 0 -1.48 1.23z" fill="#3e3fb4"/>
<path d="M-1.21 1.92A2 2 0 1 1 2.27-0.06L1.98-0.44A1.94 1.94 0 1 0 -1.39 1.47z" fill="#3e49c0"/>
<path d="M-1.11 2.15A2.03 2.03 0 1 1 2.41 0.15L2.13-0.24A1.97 1.97 0 1 0 -1.3 1.71z" fill="#3b51ca"/>
<path d="M-1 2.39A2.05 2.05 0 1 1 2.57 0.36L2.27-0.06A2 2 0 1 0 -1.21 1.92z" fill="#3360d7"/>
<path d="M-0.91 2.59A2.08 2.08 0 1 1 2.69 0.54L2.41 0.15A2.03 2.03 0 1 0 -1.11 2.15z" fill="#226be1"/>
<path d="M-0.82 2.8A2.1 2.1 0 1 1 2.82 0.73L2.57 0.36A2.05 2.05 0 1 0 -1 2.39z" fill="#1973e4"/>
<path d="M-0.73 3.01A2.12 2.12 0 1 1 2.96 0.92L2.69 0.54A2.08 2.08 0 1 0 -0.91 2.59z" fill="#1a78e3"/>
<path d="M-0.63 3.22A2.14 2.14 0 1 1 3.09 1.11L2.82 0.73A2.1 2.1 0 1 0 -0.82 2.8z" fill="#1e7de2"/>
<path d="M-0.54 3.43A2.16 2.16 0 1 1 3.22 1.3L2.96 0.92A2.12 2.12 0 1 0 -0.73 3.01z" fill="#2381e0"/>
<path d="M-0.44 3.64A2.18 2.18 0 1 1 3.35 1.48L3.09 1.11A2.14 2.14 0 1 0 -0.63 3.22z" fill="#2685de"/>
<path d="M-0.35 3.84A2.2 2.2 0 1 1 3.48 1.67L3.22 1.3A2.16 2.16 0 1 0 -0.54 3.43z" fill="#2989db"/>
<path d="M-0.24 4.09A2.23 2.23 0 1 1 3.63 1.88L3.35 1.48A2.18 2.18 0 1 0 -0.44 3.64z" fill="#298dd9"/>
<path d="M-0.15 4.31A2.26 2.26 0 1 1 3.78 2.09L3.48 1.67A2.2 2.2 0 1 0 -0.35 3.84z" fill="#2891d7"/>
<path d="M-0.06 4.53A2.28 2.28 0 1 1 3.92 2.27L3.63 1.88A2.23 2.23 0 1 0 -0.24 4.09z" fill="#2596d6"/>
<path d="M0.04 4.76A2.32 2.32 0 1 1 4.07 2.48L3.78 2.09A2.26 2.26 0 1 0 -0.15 4.31z" fill="#1f9bd5"/>
<path d="M0.13 5.01A2.36 2.36 0 1 1 4.23 2.68L3.92 2.27A2.28 2.28 0 1 0 -0.06 4.53z" fill="#19a0d4"/>
<path d="M0.2 5.25A2.43 2.43 0 1 1 4.41 2.86L4.07 2.48A2.32 2.32 0 1 0 0.04 4.76z" fill="#14a3d1"/>
<path d="M0.01 5.26A2.59 2.59 0 1 1 4.51 2.7L4.23 2.68A2.36 2.36 0 1 0 0.13 5.01z" fill="#0ea6cc"/>
<path d="M-0.18 5.08A2.67 2.67 0 1 1 4.45 2.44L4.41 2.86A2.43 2.43 0 1 0 0.2 5.25z" fill="#07a4ca"/>
<path d="M-0.34 4.91A2.72 2.72 0 1 1 4.39 2.22L4.51 2.7A2.59 2.59 0 1 0 0.01 5.26z" fill="#0da4ce"/>
<path d="M-0.51 4.71A2.77 2.77 0 1 1 4.31 1.98L4.45 2.44A2.67 2.67 0 1 0 -0.18 5.08z" fill="#10a0d1"/>
<path d="M-0.66 4.54A2.81 2.81 0 1 1 4.23 1.76L4.39 2.22A2.72 2.72 0 1 0 -0.34 4.91z" fill="#149cd3"/>
<path d="M-0.81 4.35A2.86 2.86 0 1 1 4.15 1.53L4.31 1.98A2.77 2.77 0 1 0 -0.51 4.71z" fill="#1a96d4"/>
<path d="M-0.97 4.16A2.9 2.9 0 1 1 4.07 1.3L4.23 1.76A2.81 2.81 0 1 0 -0.66 4.54z" fill="#1e91d5"/>
<path d="M-1.13 3.96A2.94 2.94 0 1 1 3.98 1.06L4.15 1.53A2.86 2.86 0 1 0 -0.81 4.35z" fill="#208cd6"/>
<path d="M-1.29 3.76A2.98 2.98 0 1 1 3.89 0.82L4.07 1.3A2.9 2.9 0 1 0 -0.97 4.16z" fill="#2087d8"/>
<path d="M-1.45 3.57A3.02 3.02 0 1 1 3.81 0.58L3.98 1.06A2.94 2.94 0 1 0 -1.13 3.96z" fill="#1e82db"/>
<path d="M-1.6 3.38A3.07 3.07 0 1 1 3.73 0.35L3.89 0.82A2.98 2.98 0 1 0 -1.29 3.76z" fill="#1a7ddd"/>
<path d="M-1.75 3.2A3.11 3.11 0 1 1 3.65 0.13L3.81 0.58A3.02 3.02 0 1 0 -1.45 3.57z" fill="#1579e0"/>
<path d="M-1.93 3A3.16 3.16 0 1 1 3.56-0.12L3.73 0.35A3.07 3.07 0 1 0 -1.6 3.38z" fill="#1074e2"/>
<path d="M-2.1 2.81A3.21 3.21 0 1 1 3.49-0.36L3.65 0.13A3.11 3.11 0 1 0 -1.75 3.2z" fill="#0e6de2"/>
<path d="M-2.29 2.61A3.28 3.28 0 1 1 3.41-0.63L3.56-0.12A3.16 3.16 0 1 0 -1.93 3z" fill="#1565e0"/>
<path d="M-2.46 2.44A3.34 3.34 0 1 1 3.35-0.86L3.49-0.36A3.21 3.21 0 1 0 -2.1 2.81z" fill="#2859d6"/>
<path d="M-2.64 2.28A3.43 3.43 0 1 1 3.31-1.1L3.41-0.63A3.28 3.28 0 1 0 -2.29 2.61z" fill="#3249c7"/>
<path d="M-2.88 2.12A3.55 3.55 0 1 1 3.3-1.39L3.35-0.86A3.34 3.34 0 1 0 -2.46 2.44z" fill="#3640bd"/>
<path d="M-3.11 2.05A3.71 3.71 0 1 1 3.35-1.62L3.31-1.1A3.43 3.43 0 1 0 -2.64 2.28z" fill="#3738b1"/>
<path d="M-3.28 2.06A3.87 3.87 0 1 1 3.45-1.77L3.3-1.39A3.55 3.55 0 1 0 -2.88 2.12z" fill="#3530a5"/>
<path d="M-3.41 2.1A4 4 0 1 1 3.55-1.85L3.35-1.62A3.71 3.71 0 1 0 -3.11 2.05z" fill="#342b9e"/>
<path d="M-3.41 2.1A4 4 0 1 1 3.55-1.85L3.45-1.77A3.87 3.87 0 1 0 -3.28 2.06z" fill="#33299b"/>
</g>
<path d="M61.8 135.2L61.8 192.7L95.7 222.7L155.4 205.5M61.8 192.7h1.6M61.8 163.9h1.6M61.8 135.2h1.6" stroke="#6e6e6e" stroke-width="1.1" fill="none"/>
<text x="57.8" y="193.3" text-anchor="end" font-size="9.3" fill="#2c2c2c">0</text>
<text x="57.8" y="164.5" text-anchor="end" font-size="9.3" fill="#2c2c2c">1200</text>
<text x="57.8" y="135.8" text-anchor="end" font-size="9.3" fill="#2c2c2c">2400</text>
<text x="56.5" y="204.1" text-anchor="end" font-size="9.3" fill="#2c2c2c">4</text>
<text x="65" y="211.6" text-anchor="end" font-size="9.3" fill="#2c2c2c">2</text>
<text x="73.5" y="219.1" text-anchor="end" font-size="9.3" fill="#2c2c2c">0</text>
<text x="81.9" y="226.6" text-anchor="end" font-size="9.3" fill="#2c2c2c">-2</text>
<text x="90.4" y="234.1" text-anchor="end" font-size="9.3" fill="#2c2c2c">-4</text>
<text x="104.3" y="235.1" text-anchor="middle" font-size="9.3" fill="#2c2c2c">-4</text>
<text x="119.2" y="230.8" text-anchor="middle" font-size="9.3" fill="#2c2c2c">-2</text>
<text x="131.1" y="226.5" text-anchor="middle" font-size="9.3" fill="#2c2c2c">0</text>
<text x="146.1" y="222.2" text-anchor="middle" font-size="9.3" fill="#2c2c2c">2</text>
<text x="161" y="217.9" text-anchor="middle" font-size="9.3" fill="#2c2c2c">4</text>
<text x="64.4" y="222.6" text-anchor="middle" font-size="9.3" fill="#2c2c2c">y</text>
<text x="140.6" y="231.3" text-anchor="middle" font-size="9.3" fill="#2c2c2c">x</text>
<text x="73.2" y="147.6" text-anchor="middle" font-size="9.4" fill="#2c2c2c">(a2)</text>
<text x="144.8" y="155.8" text-anchor="middle" font-size="9.2" fill="#2c2c2c">z=0</text>
<path d="M205.5 188.4v-57.5M220.4 184.1v-57.5M235.4 179.8v-57.5M250.3 175.5v-57.5M258.8 183v-57.5M267.2 190.5v-57.5M275.7 198v-57.5M284.2 205.5v-57.5M190.6 192.7L250.3 175.5L284.2 205.5M190.6 163.9L250.3 146.8L284.2 176.8M190.6 135.2L250.3 118L284.2 148M199.1 200.2L258.8 183M205.5 188.4L239.4 218.4M207.6 207.7L267.2 190.5M220.4 184.1L254.3 214.1M216 215.2L275.7 198M235.4 179.8L269.3 209.8" stroke="#e4e4e4" stroke-width="0.8" fill="none"/>
<path d="M190.6 192.7L224.5 222.7L284.2 205.5L250.3 175.5z" fill="#322798"/>
<g transform="matrix(7.4625 -2.1500 -4.2375 -3.7500 237.4 199.1)">
<path d="M3.43-2.06A4 4 0 1 1 -3.53 1.89L-3.22 1.85A3.71 3.71 0 1 0 3.24-1.81z" fill="#33299b"/>
<path d="M3.33-1.97A3.87 3.87 0 1 1 -3.4 1.86L-2.99 1.93A3.55 3.55 0 1 0 3.19-1.57z" fill="#342b9e"/>
<path d="M3.24-1.81A3.71 3.71 0 1 1 -3.22 1.85L-2.75 2.1A3.43 3.43 0 1 0 3.21-1.28z" fill="#3530a5"/>
<path d="M3.19-1.57A3.55 3.55 0 1 1 -2.99 1.93L-2.56 2.26A3.34 3.34 0 1 0 3.26-1.04z" fill="#3738b1"/>
<path d="M3.21-1.28A3.43 3.43 0 1 1 -2.75 2.1L-2.39 2.44A3.28 3.28 0 1 0 3.31-0.8z" fill="#3640bd"/>
<path d="M3.26-1.04A3.34 3.34 0 1 1 -2.56 2.26L-2.19 2.64A3.21 3.21 0 1 0 3.39-0.53z" fill="#3249c7"/>
<path d="M3.31-0.8A3.28 3.28 0 1 1 -2.39 2.44L-2.03 2.83A3.16 3.16 0 1 0 3.47-0.29z" fill="#2859d6"/>
<path d="M3.39-0.53A3.21 3.21 0 1 1 -2.19 2.64L-1.85 3.04A3.11 3.11 0 1 0 3.56-0.03z" fill="#1565e0"/>
<path d="M3.47-0.29A3.16 3.16 0 1 1 -2.03 2.83L-1.7 3.22A3.07 3.07 0 1 0 3.63 0.19z" fill="#0e6de2"/>
<path d="M3.56-0.03A3.11 3.11 0 1 1 -1.85 3.04L-1.54 3.41A3.02 3.02 0 1 0 3.72 0.42z" fill="#1074e2"/>
<path d="M3.63 0.19A3.07 3.07 0 1 1 -1.7 3.22L-1.38 3.61A2.98 2.98 0 1 0 3.8 0.66z" fill="#1579e0"/>
<path d="M3.72 0.42A3.02 3.02 0 1 1 -1.54 3.41L-1.22 3.81A2.94 2.94 0 1 0 3.89 0.9z" fill="#1a7ddd"/>
<path d="M3.8 0.66A2.98 2.98 0 1 1 -1.38 3.61L-1.06 4.01A2.9 2.9 0 1 0 3.98 1.14z" fill="#1e82db"/>
<path d="M3.89 0.9A2.94 2.94 0 1 1 -1.22 3.81L-0.9 4.2A2.86 2.86 0 1 0 4.07 1.38z" fill="#2087d8"/>
<path d="M3.98 1.14A2.9 2.9 0 1 1 -1.06 4.01L-0.74 4.39A2.81 2.81 0 1 0 4.15 1.61z" fill="#208cd6"/>
<path d="M4.07 1.38A2.86 2.86 0 1 1 -0.9 4.2L-0.59 4.57A2.77 2.77 0 1 0 4.23 1.83z" fill="#1e91d5"/>
<path d="M4.15 1.61A2.81 2.81 0 1 1 -0.74 4.39L-0.42 4.77A2.72 2.72 0 1 0 4.31 2.08z" fill="#1a96d4"/>
<path d="M4.23 1.83A2.77 2.77 0 1 1 -0.59 4.57L-0.26 4.94A2.67 2.67 0 1 0 4.37 2.3z" fill="#149cd3"/>
<path d="M4.31 2.08A2.72 2.72 0 1 1 -0.42 4.77L-0.06 5.12A2.59 2.59 0 1 0 4.43 2.57z" fill="#10a0d1"/>
<path d="M4.37 2.3A2.67 2.67 0 1 1 -0.26 4.94L0.12 5.13A2.43 2.43 0 1 0 4.34 2.73z" fill="#0da4ce"/>
<path d="M4.43 2.57A2.59 2.59 0 1 1 -0.06 5.12L0.06 4.88A2.36 2.36 0 1 0 4.16 2.55z" fill="#07a4ca"/>
<path d="M4.34 2.73A2.43 2.43 0 1 1 0.12 5.13L-0.03 4.64A2.32 2.32 0 1 0 4 2.36z" fill="#0ea6cc"/>
<path d="M4.16 2.55A2.36 2.36 0 1 1 0.06 4.88L-0.12 4.41A2.28 2.28 0 1 0 3.85 2.15z" fill="#14a3d1"/>
<path d="M4 2.36A2.32 2.32 0 1 1 -0.03 4.64L-0.21 4.2A2.26 2.26 0 1 0 3.71 1.97z" fill="#19a0d4"/>
<path d="M3.85 2.15A2.28 2.28 0 1 1 -0.12 4.41L-0.31 3.97A2.23 2.23 0 1 0 3.57 1.77z" fill="#1f9bd5"/>
<path d="M3.71 1.97A2.26 2.26 0 1 1 -0.21 4.2L-0.42 3.73A2.2 2.2 0 1 0 3.41 1.55z" fill="#2596d6"/>
<path d="M3.57 1.77A2.23 2.23 0 1 1 -0.31 3.97L-0.51 3.52A2.18 2.18 0 1 0 3.29 1.37z" fill="#2891d7"/>
<path d="M3.41 1.55A2.2 2.2 0 1 1 -0.42 3.73L-0.6 3.32A2.16 2.16 0 1 0 3.16 1.18z" fill="#298dd9"/>
<path d="M3.29 1.37A2.18 2.18 0 1 1 -0.51 3.52L-0.69 3.11A2.14 2.14 0 1 0 3.03 1z" fill="#2989db"/>
<path d="M3.16 1.18A2.16 2.16 0 1 1 -0.6 3.32L-0.79 2.9A2.12 2.12 0 1 0 2.89 0.81z" fill="#2685de"/>
<path d="M3.03 1A2.14 2.14 0 1 1 -0.69 3.11L-0.88 2.69A2.1 2.1 0 1 0 2.76 0.62z" fill="#2381e0"/>
<path d="M2.89 0.81A2.12 2.12 0 1 1 -0.79 2.9L-0.98 2.48A2.08 2.08 0 1 0 2.63 0.44z" fill="#1e7de2"/>
<path d="M2.76 0.62A2.1 2.1 0 1 1 -0.88 2.69L-1.06 2.28A2.05 2.05 0 1 0 2.51 0.26z" fill="#1a78e3"/>
<path d="M2.63 0.44A2.08 2.08 0 1 1 -0.98 2.48L-1.17 2.04A2.03 2.03 0 1 0 2.35 0.04z" fill="#1973e4"/>
<path d="M2.51 0.26A2.05 2.05 0 1 1 -1.06 2.28L-1.27 1.81A2 2 0 1 0 2.21-0.16z" fill="#226be1"/>
<path d="M2.35 0.04A2.03 2.03 0 1 1 -1.17 2.04L-1.36 1.6A1.97 1.97 0 1 0 2.07-0.34z" fill="#3360d7"/>
<path d="M2.21-0.16A2 2 0 1 1 -1.27 1.81L-1.45 1.37A1.94 1.94 0 1 0 1.92-0.54z" fill="#3b51ca"/>
<path d="M2.07-0.34A1.97 1.97 0 1 1 -1.36 1.6L-1.54 1.13A1.9 1.9 0 1 0 1.76-0.74z" fill="#3e49c0"/>
<path d="M1.92-0.54A1.94 1.94 0 1 1 -1.45 1.37L-1.6 0.89A1.83 1.83 0 1 0 1.59-0.91z" fill="#3e3fb4"/>
<path d="M1.76-0.74A1.9 1.9 0 1 1 -1.54 1.13L-1.41 0.97A1.7 1.7 0 1 0 1.56-0.71z" fill="#3a34a7"/>
<path d="M1.59-0.91A1.83 1.83 0 1 1 -1.6 0.89L-1.25 1.17A1.66 1.66 0 1 0 1.64-0.47z" fill="#352fa4"/>
<path d="M1.56-0.71A1.7 1.7 0 1 1 -1.41 0.97L-1.08 1.39A1.63 1.63 0 1 0 1.75-0.22z" fill="#3e3db2"/>
<path d="M1.64-0.47A1.66 1.66 0 1 1 -1.25 1.17L-0.93 1.61A1.6 1.6 0 1 0 1.86 0.02z" fill="#4049be"/>
<path d="M1.75-0.22A1.63 1.63 0 1 1 -1.08 1.39L-0.79 1.8A1.58 1.58 0 1 0 1.96 0.24z" fill="#3d53ca"/>
<path d="M1.86 0.02A1.6 1.6 0 1 1 -0.93 1.61L-0.64 2.03A1.56 1.56 0 1 0 2.07 0.49z" fill="#3664d8"/>
<path d="M1.96 0.24A1.58 1.58 0 1 1 -0.79 1.8L-0.51 2.22A1.54 1.54 0 1 0 2.17 0.7z" fill="#2670e2"/>
<path d="M2.07 0.49A1.56 1.56 0 1 1 -0.64 2.03L-0.38 2.42A1.52 1.52 0 1 0 2.27 0.92z" fill="#2078e5"/>
<path d="M2.17 0.7A1.54 1.54 0 1 1 -0.51 2.22L-0.23 2.64A1.51 1.51 0 1 0 2.39 1.15z" fill="#247ee4"/>
<path d="M2.27 0.92A1.52 1.52 0 1 1 -0.38 2.42L-0.11 2.83A1.49 1.49 0 1 0 2.48 1.35z" fill="#2a84e3"/>
<path d="M2.39 1.15A1.51 1.51 0 1 1 -0.23 2.64L0.01 3.02A1.48 1.48 0 1 0 2.59 1.56z" fill="#2f89e1"/>
<path d="M2.48 1.35A1.49 1.49 0 1 1 -0.11 2.83L0.14 3.22A1.47 1.47 0 1 0 2.69 1.77z" fill="#328ddf"/>
<path d="M2.59 1.56A1.48 1.48 0 1 1 0.01 3.02L0.28 3.43A1.45 1.45 0 1 0 2.8 1.99z" fill="#3491dc"/>
<path d="M2.69 1.77A1.47 1.47 0 1 1 0.14 3.22L0.41 3.64A1.44 1.44 0 1 0 2.92 2.22z" fill="#3595da"/>
<path d="M2.8 1.99A1.45 1.45 0 1 1 0.28 3.43L0.56 3.86A1.43 1.43 0 1 0 3.03 2.46z" fill="#349ad9"/>
<path d="M2.92 2.22A1.44 1.44 0 1 1 0.41 3.64L0.7 4.09A1.41 1.41 0 1 0 3.16 2.7z" fill="#319fd8"/>
<path d="M3.03 2.46A1.43 1.43 0 1 1 0.56 3.86L0.82 4.28A1.4 1.4 0 1 0 3.26 2.9z" fill="#2ca5d8"/>
<path d="M3.16 2.7A1.41 1.41 0 1 1 0.7 4.09L0.94 4.47A1.39 1.39 0 1 0 3.36 3.1z" fill="#2aaad6"/>
<path d="M3.26 2.9A1.4 1.4 0 1 1 0.82 4.28L1.07 4.67A1.38 1.38 0 1 0 3.46 3.31z" fill="#29aed4"/>
<path d="M3.36 3.1A1.39 1.39 0 1 1 0.94 4.47L1.19 4.87A1.37 1.37 0 1 0 3.57 3.52z" fill="#29b1d1"/>
<path d="M3.46 3.31A1.38 1.38 0 1 1 1.07 4.67L1.32 5.07A1.36 1.36 0 1 0 3.68 3.73z" fill="#29b4cd"/>
<path d="M3.57 3.52A1.37 1.37 0 1 1 1.19 4.87L1.45 5.27A1.35 1.35 0 1 0 3.79 3.95z" fill="#2bb7c8"/>
<path d="M3.68 3.73A1.36 1.36 0 1 1 1.32 5.07L1.58 5.48A1.33 1.33 0 1 0 3.9 4.16z" fill="#2fb9c4"/>
<path d="M3.79 3.95A1.35 1.35 0 1 1 1.45 5.27L1.71 5.69A1.32 1.32 0 1 0 4.01 4.39z" fill="#36bcbf"/>
<path d="M3.9 4.16A1.33 1.33 0 1 1 1.58 5.48L1.84 5.91A1.31 1.31 0 1 0 4.13 4.61z" fill="#3ebeb9"/>
<path d="M4.01 4.39A1.32 1.32 0 1 1 1.71 5.69L1.98 6.12A1.3 1.3 0 1 0 4.24 4.84z" fill="#47c0b3"/>
<path d="M4.13 4.61A1.31 1.31 0 1 1 1.84 5.91L2.12 6.34A1.29 1.29 0 1 0 4.36 5.06z" fill="#51c2ad"/>
<path d="M4.24 4.84A1.3 1.3 0 1 1 1.98 6.12L2.25 6.55A1.28 1.28 0 1 0 4.48 5.29z" fill="#5cc4a6"/>
<path d="M4.36 5.06A1.29 1.29 0 1 1 2.12 6.34L2.39 6.77A1.27 1.27 0 1 0 4.59 5.52z" fill="#69c6a0"/>
<path d="M4.48 5.29A1.28 1.28 0 1 1 2.25 6.55L2.53 6.99A1.26 1.26 0 1 0 4.71 5.75z" fill="#76c799"/>
<path d="M4.59 5.52A1.27 1.27 0 1 1 2.39 6.77L2.66 7.21A1.25 1.25 0 1 0 4.83 5.98z" fill="#83c893"/>
<path d="M4.71 5.75A1.26 1.26 0 1 1 2.53 6.99L2.8 7.43A1.24 1.24 0 1 0 4.95 6.22z" fill="#90c88d"/>
<path d="M4.83 5.98A1.25 1.25 0 1 1 2.66 7.21L2.94 7.65A1.22 1.22 0 1 0 5.07 6.45z" fill="#9cc888"/>
<path d="M4.95 6.22A1.24 1.24 0 1 1 2.8 7.43L3.08 7.87A1.21 1.21 0 1 0 5.19 6.68z" fill="#a7c884"/>
<path d="M5.07 6.45A1.22 1.22 0 1 1 2.94 7.65L3.21 8.09A1.2 1.2 0 1 0 5.3 6.91z" fill="#b2c77f"/>
<path d="M5.19 6.68A1.21 1.21 0 1 1 3.08 7.87L3.35 8.31A1.19 1.19 0 1 0 5.42 7.13z" fill="#bcc77b"/>
<path d="M5.3 6.91A1.2 1.2 0 1 1 3.21 8.09L3.48 8.53A1.18 1.18 0 1 0 5.54 7.36z" fill="#c6c677"/>
<path d="M5.42 7.13A1.19 1.19 0 1 1 3.35 8.31L3.62 8.74A1.17 1.17 0 1 0 5.65 7.58z" fill="#d0c573"/>
<path d="M5.54 7.36A1.18 1.18 0 1 1 3.48 8.53L3.75 8.95A1.16 1.16 0 1 0 5.76 7.8z" fill="#d9c470"/>
<path d="M5.65 7.58A1.17 1.17 0 1 1 3.62 8.74L3.88 9.15A1.15 1.15 0 1 0 5.87 8.02z" fill="#e2c36c"/>
<path d="M5.76 7.8A1.16 1.16 0 1 1 3.75 8.95L4.01 9.36A1.14 1.14 0 1 0 5.98 8.24z" fill="#eac368"/>
<path d="M5.87 8.02A1.15 1.15 0 1 1 3.88 9.15L4.13 9.55A1.13 1.13 0 1 0 6.09 8.44z" fill="#f3c363"/>
<path d="M5.98 8.24A1.14 1.14 0 1 1 4.01 9.36L4.25 9.75A1.11 1.11 0 1 0 6.19 8.65z" fill="#fac55d"/>
<path d="M6.09 8.44A1.13 1.13 0 1 1 4.13 9.55L4.37 9.93A1.1 1.1 0 1 0 6.29 8.85z" fill="#fec957"/>
<path d="M6.19 8.65A1.11 1.11 0 1 1 4.25 9.75L4.52 10.16A1.09 1.09 0 1 0 6.41 9.08z" fill="#fece51"/>
<path d="M6.29 8.85A1.1 1.1 0 1 1 4.37 9.93L4.65 10.37A1.08 1.08 0 1 0 6.52 9.31z" fill="#fdd34c"/>
<path d="M6.41 9.08A1.09 1.09 0 1 1 4.52 10.16L4.78 10.57A1.06 1.06 0 1 0 6.63 9.52z" fill="#fad947"/>
<path d="M6.52 9.31A1.08 1.08 0 1 1 4.65 10.37L4.93 10.79A1.05 1.05 0 1 0 6.74 9.76z" fill="#f8df43"/>
<path d="M6.63 9.52A1.06 1.06 0 1 1 4.78 10.57L5.06 10.99A1.03 1.03 0 1 0 6.84 9.97z" fill="#f6e63e"/>
<path d="M6.74 9.76A1.05 1.05 0 1 1 4.93 10.79L5.21 11.2A1 1 0 1 0 6.95 10.21z" fill="#f6ec35"/>
<path d="M6.84 9.97A1.03 1.03 0 1 1 5.06 10.99L5.2 11.02A0.92 0.92 0 1 0 6.8 10.11z" fill="#f7f427"/>
<path d="M6.95 10.21A1 1 0 1 1 5.21 11.2L5.11 10.79A0.89 0.89 0 1 0 6.65 9.92z" fill="#f7f616"/>
<path d="M6.8 10.11A0.92 0.92 0 1 1 5.2 11.02L5.01 10.56A0.86 0.86 0 1 0 6.5 9.71z" fill="#f6ee26"/>
<path d="M6.65 9.92A0.89 0.89 0 1 1 5.11 10.79L4.9 10.33A0.84 0.84 0 1 0 6.36 9.5z" fill="#f5e730"/>
<path d="M6.5 9.71A0.86 0.86 0 1 1 5.01 10.56L4.81 10.13A0.82 0.82 0 1 0 6.24 9.32z" fill="#f7e039"/>
<path d="M6.36 9.5A0.84 0.84 0 1 1 4.9 10.33L4.71 9.91A0.8 0.8 0 1 0 6.1 9.12z" fill="#f9db40"/>
<path d="M6.24 9.32A0.82 0.82 0 1 1 4.81 10.13L4.59 9.68A0.79 0.79 0 1 0 5.96 8.9z" fill="#fcd647"/>
<path d="M6.1 9.12A0.8 0.8 0 1 1 4.71 9.91L4.5 9.48A0.77 0.77 0 1 0 5.84 8.72z" fill="#fed04d"/>
<path d="M5.96 8.9A0.79 0.79 0 1 1 4.59 9.68L4.39 9.27A0.76 0.76 0 1 0 5.71 8.52z" fill="#ffcb54"/>
<path d="M5.84 8.72A0.77 0.77 0 1 1 4.5 9.48L4.29 9.05A0.74 0.74 0 1 0 5.58 8.32z" fill="#fcc65a"/>
<path d="M5.71 8.52A0.76 0.76 0 1 1 4.39 9.27L4.17 8.83A0.73 0.73 0 1 0 5.44 8.11z" fill="#f6c461"/>
<path d="M5.58 8.32A0.74 0.74 0 1 1 4.29 9.05L4.06 8.59A0.72 0.72 0 1 0 5.3 7.88z" fill="#eec366"/>
<path d="M5.44 8.11A0.73 0.73 0 1 1 4.17 8.83L3.93 8.35A0.7 0.7 0 1 0 5.16 7.66z" fill="#e5c36a"/>
<path d="M5.3 7.88A0.72 0.72 0 1 1 4.06 8.59L3.83 8.15A0.69 0.69 0 1 0 5.04 7.47z" fill="#dbc46f"/>
<path d="M5.16 7.66A0.7 0.7 0 1 1 3.93 8.35L3.73 7.95A0.68 0.68 0 1 0 4.92 7.28z" fill="#d2c572"/>
<path d="M5.04 7.47A0.69 0.69 0 1 1 3.83 8.15L3.63 7.74A0.67 0.67 0 1 0 4.79 7.08z" fill="#cac676"/>
<path d="M4.92 7.28A0.68 0.68 0 1 1 3.73 7.95L3.52 7.53A0.66 0.66 0 1 0 4.67 6.88z" fill="#c1c679"/>
<path d="M4.79 7.08A0.67 0.67 0 1 1 3.63 7.74L3.41 7.32A0.65 0.65 0 1 0 4.54 6.68z" fill="#b8c77d"/>
<path d="M4.67 6.88A0.66 0.66 0 1 1 3.52 7.53L3.3 7.11A0.64 0.64 0 1 0 4.41 6.48z" fill="#afc781"/>
<path d="M4.54 6.68A0.65 0.65 0 1 1 3.41 7.32L3.19 6.89A0.63 0.63 0 1 0 4.28 6.27z" fill="#a5c885"/>
<path d="M4.41 6.48A0.64 0.64 0 1 1 3.3 7.11L3.08 6.67A0.62 0.62 0 1 0 4.15 6.06z" fill="#9ac889"/>
<path d="M4.28 6.27A0.63 0.63 0 1 1 3.19 6.89L2.97 6.45A0.6 0.6 0 1 0 4.02 5.85z" fill="#8ec88e"/>
<path d="M4.15 6.06A0.62 0.62 0 1 1 3.08 6.67L2.85 6.23A0.59 0.59 0 1 0 3.89 5.64z" fill="#81c894"/>
<path d="M4.02 5.85A0.6 0.6 0 1 1 2.97 6.45L2.74 6A0.58 0.58 0 1 0 3.75 5.43z" fill="#74c79a"/>
<path d="M3.89 5.64A0.59 0.59 0 1 1 2.85 6.23L2.63 5.78A0.57 0.57 0 1 0 3.62 5.22z" fill="#67c6a0"/>
<path d="M3.75 5.43A0.58 0.58 0 1 1 2.74 6L2.51 5.56A0.56 0.56 0 1 0 3.48 5z" fill="#5bc4a7"/>
<path d="M3.62 5.22A0.57 0.57 0 1 1 2.63 5.78L2.4 5.33A0.55 0.55 0 1 0 3.35 4.79z" fill="#50c2ae"/>
<path d="M3.48 5A0.56 0.56 0 1 1 2.51 5.56L2.28 5.11A0.54 0.54 0 1 0 3.22 4.58z" fill="#46c0b4"/>
<path d="M3.35 4.79A0.55 0.55 0 1 1 2.4 5.33L2.17 4.89A0.53 0.53 0 1 0 3.08 4.37z" fill="#3dbeba"/>
<path d="M3.22 4.58A0.54 0.54 0 1 1 2.28 5.11L2.06 4.66A0.52 0.52 0 1 0 2.95 4.15z" fill="#35bbbf"/>
<path d="M3.08 4.37A0.53 0.53 0 1 1 2.17 4.89L1.94 4.44A0.51 0.51 0 1 0 2.82 3.95z" fill="#2fb9c4"/>
<path d="M2.95 4.15A0.52 0.52 0 1 1 2.06 4.66L1.83 4.23A0.49 0.49 0 1 0 2.69 3.74z" fill="#2ab6c9"/>
<path d="M2.82 3.95A0.51 0.51 0 1 1 1.94 4.44L1.72 4.01A0.48 0.48 0 1 0 2.56 3.53z" fill="#29b3ce"/>
<path d="M2.69 3.74A0.49 0.49 0 1 1 1.83 4.23L1.61 3.8A0.47 0.47 0 1 0 2.44 3.33z" fill="#29b0d1"/>
<path d="M2.56 3.53A0.48 0.48 0 1 1 1.72 4.01L1.51 3.59A0.46 0.46 0 1 0 2.31 3.13z" fill="#29add5"/>
<path d="M2.44 3.33A0.47 0.47 0 1 1 1.61 3.8L1.4 3.38A0.45 0.45 0 1 0 2.19 2.94z" fill="#2aa9d7"/>
<path d="M2.31 3.13A0.46 0.46 0 1 1 1.51 3.59L1.3 3.18A0.44 0.44 0 1 0 2.06 2.75z" fill="#2da4d8"/>
<path d="M2.19 2.94A0.45 0.45 0 1 1 1.4 3.38L1.2 2.98A0.43 0.43 0 1 0 1.94 2.56z" fill="#319fd8"/>
<path d="M2.06 2.75A0.44 0.44 0 1 1 1.3 3.18L1.08 2.74A0.41 0.41 0 1 0 1.8 2.33z" fill="#349ad9"/>
<path d="M1.94 2.56A0.43 0.43 0 1 1 1.2 2.98L0.96 2.5A0.4 0.4 0 1 0 1.66 2.11z" fill="#3595da"/>
<path d="M1.8 2.33A0.41 0.41 0 1 1 1.08 2.74L0.85 2.28A0.39 0.39 0 1 0 1.52 1.89z" fill="#3491dc"/>
<path d="M1.66 2.11A0.4 0.4 0 1 1 0.96 2.5L0.74 2.06A0.37 0.37 0 1 0 1.39 1.69z" fill="#328cdf"/>
<path d="M1.52 1.89A0.39 0.39 0 1 1 0.85 2.28L0.64 1.85A0.36 0.36 0 1 0 1.26 1.49z" fill="#2f88e1"/>
<path d="M1.39 1.69A0.37 0.37 0 1 1 0.74 2.06L0.54 1.65A0.35 0.35 0 1 0 1.14 1.31z" fill="#2a84e3"/>
<path d="M1.26 1.49A0.36 0.36 0 1 1 0.64 1.85L0.42 1.41A0.33 0.33 0 1 0 0.99 1.09z" fill="#2780e5"/>
<path d="M1.14 1.31A0.35 0.35 0 1 1 0.54 1.65L0.32 1.19A0.31 0.31 0 1 0 0.86 0.88z" fill="#257ae5"/>
<path d="M0.99 1.09A0.33 0.33 0 1 1 0.42 1.41L0.22 0.99A0.29 0.29 0 1 0 0.74 0.7z" fill="#2b72e2"/>
<path d="M0.86 0.88A0.31 0.31 0 1 1 0.32 1.19L0.12 0.76A0.27 0.27 0 1 0 0.59 0.49z" fill="#3967d9"/>
<path d="M0.74 0.7A0.29 0.29 0 1 1 0.22 0.99L0.01 0.52A0.25 0.25 0 1 0 0.44 0.28z" fill="#4057cc"/>
<path d="M0.59 0.49A0.27 0.27 0 1 1 0.12 0.76L-0.08 0.29A0.21 0.21 0 1 0 0.29 0.08z" fill="#434dc1"/>
<path d="M0.44 0.28A0.25 0.25 0 1 1 0.01 0.52L-0.13 0.09A0.16 0.16 0 1 0 0.15-0.07z" fill="#4142b5"/>
<path d="M0.29 0.08A0.21 0.21 0 1 1 -0.08 0.29z" fill="#3a35a7"/>
<path d="M0.15-0.07A0.16 0.16 0 1 1 -0.13 0.09z" fill="#33299b"/>
<path d="M-0.07 0.3A0.21 0.21 0 1 1 0.3 0.09z" fill="#33299b"/>
<path d="M0.02 0.54A0.25 0.25 0 1 1 0.45 0.29L0.15-0.06A0.16 0.16 0 1 0 -0.13 0.1z" fill="#3a35a7"/>
<path d="M0.13 0.78A0.27 0.27 0 1 1 0.6 0.51L0.3 0.09A0.21 0.21 0 1 0 -0.07 0.3z" fill="#4142b5"/>
<path d="M0.23 1.01A0.29 0.29 0 1 1 0.74 0.72L0.45 0.29A0.25 0.25 0 1 0 0.02 0.54z" fill="#434dc1"/>
<path d="M0.33 1.21A0.31 0.31 0 1 1 0.87 0.9L0.6 0.51A0.27 0.27 0 1 0 0.13 0.78z" fill="#4057cc"/>
<path d="M0.43 1.43A0.33 0.33 0 1 1 1 1.1L0.74 0.72A0.29 0.29 0 1 0 0.23 1.01z" fill="#3967d9"/>
<path d="M0.55 1.67A0.35 0.35 0 1 1 1.15 1.32L0.87 0.9A0.31 0.31 0 1 0 0.33 1.21z" fill="#2b72e2"/>
<path d="M0.65 1.87A0.36 0.36 0 1 1 1.27 1.51L1 1.1A0.33 0.33 0 1 0 0.43 1.43z" fill="#257ae5"/>
<path d="M0.75 2.08A0.37 0.37 0 1 1 1.4 1.71L1.15 1.32A0.35 0.35 0 1 0 0.55 1.67z" fill="#2780e5"/>
<path d="M0.86 2.3A0.39 0.39 0 1 1 1.53 1.91L1.27 1.51A0.36 0.36 0 1 0 0.65 1.87z" fill="#2a84e3"/>
<path d="M0.97 2.52A0.4 0.4 0 1 1 1.67 2.13L1.4 1.71A0.37 0.37 0 1 0 0.75 2.08z" fill="#2f88e1"/>
<path d="M1.09 2.76A0.41 0.41 0 1 1 1.81 2.35L1.53 1.91A0.39 0.39 0 1 0 0.86 2.3z" fill="#328cdf"/>
<path d="M1.21 3A0.43 0.43 0 1 1 1.96 2.58L1.67 2.13A0.4 0.4 0 1 0 0.97 2.52z" fill="#3491dc"/>
<path d="M1.31 3.2A0.44 0.44 0 1 1 2.08 2.77L1.81 2.35A0.41 0.41 0 1 0 1.09 2.76z" fill="#3595da"/>
<path d="M1.42 3.41A0.45 0.45 0 1 1 2.2 2.96L1.96 2.58A0.43 0.43 0 1 0 1.21 3z" fill="#349ad9"/>
<path d="M1.52 3.61A0.46 0.46 0 1 1 2.32 3.16L2.08 2.77A0.44 0.44 0 1 0 1.31 3.2z" fill="#319fd8"/>
<path d="M1.63 3.82A0.47 0.47 0 1 1 2.45 3.36L2.2 2.96A0.45 0.45 0 1 0 1.42 3.41z" fill="#2da4d8"/>
<path d="M1.74 4.04A0.48 0.48 0 1 1 2.58 3.56L2.32 3.16A0.46 0.46 0 1 0 1.52 3.61z" fill="#2aa9d7"/>
<path d="M1.85 4.25A0.49 0.49 0 1 1 2.71 3.76L2.45 3.36A0.47 0.47 0 1 0 1.63 3.82z" fill="#29add5"/>
<path d="M1.96 4.47A0.51 0.51 0 1 1 2.84 3.97L2.58 3.56A0.48 0.48 0 1 0 1.74 4.04z" fill="#29b0d1"/>
<path d="M2.07 4.69A0.52 0.52 0 1 1 2.97 4.18L2.71 3.76A0.49 0.49 0 1 0 1.85 4.25z" fill="#29b3ce"/>
<path d="M2.18 4.91A0.53 0.53 0 1 1 3.1 4.39L2.84 3.97A0.51 0.51 0 1 0 1.96 4.47z" fill="#2ab6c9"/>
<path d="M2.3 5.14A0.54 0.54 0 1 1 3.23 4.6L2.97 4.18A0.52 0.52 0 1 0 2.07 4.69z" fill="#2fb9c4"/>
<path d="M2.41 5.36A0.55 0.55 0 1 1 3.37 4.82L3.1 4.39A0.53 0.53 0 1 0 2.18 4.91z" fill="#35bbbf"/>
<path d="M2.53 5.58A0.56 0.56 0 1 1 3.5 5.03L3.23 4.6A0.54 0.54 0 1 0 2.3 5.14z" fill="#3dbeba"/>
<path d="M2.64 5.81A0.57 0.57 0 1 1 3.64 5.25L3.37 4.82A0.55 0.55 0 1 0 2.41 5.36z" fill="#46c0b4"/>
<path d="M2.76 6.03A0.58 0.58 0 1 1 3.77 5.46L3.5 5.03A0.56 0.56 0 1 0 2.53 5.58z" fill="#50c2ae"/>
<path d="M2.87 6.26A0.59 0.59 0 1 1 3.9 5.67L3.64 5.25A0.57 0.57 0 1 0 2.64 5.81z" fill="#5bc4a7"/>
<path d="M2.99 6.48A0.6 0.6 0 1 1 4.04 5.88L3.77 5.46A0.58 0.58 0 1 0 2.76 6.03z" fill="#67c6a0"/>
<path d="M3.1 6.7A0.62 0.62 0 1 1 4.17 6.1L3.9 5.67A0.59 0.59 0 1 0 2.87 6.26z" fill="#74c79a"/>
<path d="M3.21 6.92A0.63 0.63 0 1 1 4.3 6.3L4.04 5.88A0.6 0.6 0 1 0 2.99 6.48z" fill="#81c894"/>
<path d="M3.32 7.14A0.64 0.64 0 1 1 4.43 6.51L4.17 6.1A0.62 0.62 0 1 0 3.1 6.7z" fill="#8ec88e"/>
<path d="M3.43 7.36A0.65 0.65 0 1 1 4.56 6.72L4.3 6.3A0.63 0.63 0 1 0 3.21 6.92z" fill="#9ac889"/>
<path d="M3.54 7.57A0.66 0.66 0 1 1 4.69 6.92L4.43 6.51A0.64 0.64 0 1 0 3.32 7.14z" fill="#a5c885"/>
<path d="M3.65 7.78A0.67 0.67 0 1 1 4.81 7.12L4.56 6.72A0.65 0.65 0 1 0 3.43 7.36z" fill="#afc781"/>
<path d="M3.75 7.99A0.68 0.68 0 1 1 4.94 7.31L4.69 6.92A0.66 0.66 0 1 0 3.54 7.57z" fill="#b8c77d"/>
<path d="M3.85 8.19A0.69 0.69 0 1 1 5.06 7.51L4.81 7.12A0.67 0.67 0 1 0 3.65 7.78z" fill="#c1c679"/>
<path d="M3.95 8.39A0.7 0.7 0 1 1 5.18 7.69L4.94 7.31A0.68 0.68 0 1 0 3.75 7.99z" fill="#cac676"/>
<path d="M4.08 8.63A0.72 0.72 0 1 1 5.32 7.92L5.06 7.51A0.69 0.69 0 1 0 3.85 8.19z" fill="#d2c572"/>
<path d="M4.19 8.87A0.73 0.73 0 1 1 5.46 8.14L5.18 7.69A0.7 0.7 0 1 0 3.95 8.39z" fill="#dbc46f"/>
<path d="M4.31 9.09A0.74 0.74 0 1 1 5.6 8.36L5.32 7.92A0.72 0.72 0 1 0 4.08 8.63z" fill="#e5c36a"/>
<path d="M4.42 9.31A0.76 0.76 0 1 1 5.73 8.56L5.46 8.14A0.73 0.73 0 1 0 4.19 8.87z" fill="#eec366"/>
<path d="M4.52 9.52A0.77 0.77 0 1 1 5.86 8.76L5.6 8.36A0.74 0.74 0 1 0 4.31 9.09z" fill="#f6c461"/>
<path d="M4.62 9.72A0.79 0.79 0 1 1 5.98 8.94L5.73 8.56A0.76 0.76 0 1 0 4.42 9.31z" fill="#fcc65a"/>
<path d="M4.73 9.96A0.8 0.8 0 1 1 6.13 9.16L5.86 8.76A0.77 0.77 0 1 0 4.52 9.52z" fill="#ffcb54"/>
<path d="M4.83 10.17A0.82 0.82 0 1 1 6.26 9.36L5.98 8.94A0.79 0.79 0 1 0 4.62 9.72z" fill="#fed04d"/>
<path d="M4.93 10.37A0.84 0.84 0 1 1 6.38 9.55L6.13 9.16A0.8 0.8 0 1 0 4.73 9.96z" fill="#fcd647"/>
<path d="M5.03 10.6A0.86 0.86 0 1 1 6.53 9.75L6.26 9.36A0.82 0.82 0 1 0 4.83 10.17z" fill="#f9db40"/>
<path d="M5.14 10.84A0.89 0.89 0 1 1 6.68 9.97L6.38 9.55A0.84 0.84 0 1 0 4.93 10.37z" fill="#f7e039"/>
<path d="M5.23 11.07A0.92 0.92 0 1 1 6.83 10.16L6.53 9.75A0.86 0.86 0 1 0 5.03 10.6z" fill="#f5e730"/>
<path d="M5.24 11.25A1 1 0 1 1 6.98 10.27L6.68 9.97A0.89 0.89 0 1 0 5.14 10.84z" fill="#f6ee26"/>
<path d="M5.09 11.04A1.03 1.03 0 1 1 6.87 10.03L6.83 10.16A0.92 0.92 0 1 0 5.23 11.07z" fill="#f7f616"/>
<path d="M4.96 10.85A1.05 1.05 0 1 1 6.78 9.82L6.98 10.27A1 1 0 1 0 5.24 11.25z" fill="#f7f427"/>
<path d="M4.81 10.62A1.06 1.06 0 1 1 6.66 9.58L6.87 10.03A1.03 1.03 0 1 0 5.09 11.04z" fill="#f6ec35"/>
<path d="M4.68 10.43A1.08 1.08 0 1 1 6.55 9.36L6.78 9.82A1.05 1.05 0 1 0 4.96 10.85z" fill="#f6e63e"/>
<path d="M4.55 10.22A1.09 1.09 0 1 1 6.44 9.14L6.66 9.58A1.06 1.06 0 1 0 4.81 10.62z" fill="#f8df43"/>
<path d="M4.41 9.99A1.1 1.1 0 1 1 6.32 8.9L6.55 9.36A1.08 1.08 0 1 0 4.68 10.43z" fill="#fad947"/>
<path d="M4.29 9.81A1.11 1.11 0 1 1 6.22 8.71L6.44 9.14A1.09 1.09 0 1 0 4.55 10.22z" fill="#fdd34c"/>
<path d="M4.17 9.61A1.13 1.13 0 1 1 6.12 8.5L6.32 8.9A1.1 1.1 0 1 0 4.41 9.99z" fill="#fece51"/>
<path d="M4.04 9.42A1.14 1.14 0 1 1 6.02 8.29L6.22 8.71A1.11 1.11 0 1 0 4.29 9.81z" fill="#fec957"/>
<path d="M3.91 9.21A1.15 1.15 0 1 1 5.91 8.08L6.12 8.5A1.13 1.13 0 1 0 4.17 9.61z" fill="#fac55d"/>
<path d="M3.78 9.01A1.16 1.16 0 1 1 5.8 7.86L6.02 8.29A1.14 1.14 0 1 0 4.04 9.42z" fill="#f3c363"/>
<path d="M3.65 8.8A1.17 1.17 0 1 1 5.69 7.64L5.91 8.08A1.15 1.15 0 1 0 3.91 9.21z" fill="#eac368"/>
<path d="M3.52 8.59A1.18 1.18 0 1 1 5.57 7.42L5.8 7.86A1.16 1.16 0 1 0 3.78 9.01z" fill="#e2c36c"/>
<path d="M3.38 8.37A1.19 1.19 0 1 1 5.46 7.2L5.69 7.64A1.17 1.17 0 1 0 3.65 8.8z" fill="#d9c470"/>
<path d="M3.25 8.16A1.2 1.2 0 1 1 5.34 6.97L5.57 7.42A1.18 1.18 0 1 0 3.52 8.59z" fill="#d0c573"/>
<path d="M3.11 7.94A1.21 1.21 0 1 1 5.22 6.74L5.46 7.2A1.19 1.19 0 1 0 3.38 8.37z" fill="#c6c677"/>
<path d="M2.98 7.72A1.22 1.22 0 1 1 5.1 6.51L5.34 6.97A1.2 1.2 0 1 0 3.25 8.16z" fill="#bcc77b"/>
<path d="M2.84 7.5A1.24 1.24 0 1 1 4.99 6.28L5.22 6.74A1.21 1.21 0 1 0 3.11 7.94z" fill="#b2c77f"/>
<path d="M2.7 7.28A1.25 1.25 0 1 1 4.87 6.05L5.1 6.51A1.22 1.22 0 1 0 2.98 7.72z" fill="#a7c884"/>
<path d="M2.56 7.06A1.26 1.26 0 1 1 4.75 5.82L4.99 6.28A1.24 1.24 0 1 0 2.84 7.5z" fill="#9cc888"/>
<path d="M2.43 6.84A1.27 1.27 0 1 1 4.63 5.59L4.87 6.05A1.25 1.25 0 1 0 2.7 7.28z" fill="#90c88d"/>
<path d="M2.29 6.62A1.28 1.28 0 1 1 4.51 5.36L4.75 5.82A1.26 1.26 0 1 0 2.56 7.06z" fill="#83c893"/>
<path d="M2.15 6.4A1.29 1.29 0 1 1 4.4 5.13L4.63 5.59A1.27 1.27 0 1 0 2.43 6.84z" fill="#76c799"/>
<path d="M2.02 6.19A1.3 1.3 0 1 1 4.28 4.9L4.51 5.36A1.28 1.28 0 1 0 2.29 6.62z" fill="#69c6a0"/>
<path d="M1.88 5.97A1.31 1.31 0 1 1 4.16 4.68L4.4 5.13A1.29 1.29 0 1 0 2.15 6.4z" fill="#5cc4a6"/>
<path d="M1.75 5.76A1.32 1.32 0 1 1 4.05 4.46L4.28 4.9A1.3 1.3 0 1 0 2.02 6.19z" fill="#51c2ad"/>
<path d="M1.62 5.55A1.33 1.33 0 1 1 3.94 4.23L4.16 4.68A1.31 1.31 0 1 0 1.88 5.97z" fill="#47c0b3"/>
<path d="M1.49 5.34A1.35 1.35 0 1 1 3.83 4.02L4.05 4.46A1.32 1.32 0 1 0 1.75 5.76z" fill="#3ebeb9"/>
<path d="M1.36 5.14A1.36 1.36 0 1 1 3.72 3.8L3.94 4.23A1.33 1.33 0 1 0 1.62 5.55z" fill="#36bcbf"/>
<path d="M1.23 4.94A1.37 1.37 0 1 1 3.61 3.59L3.83 4.02A1.35 1.35 0 1 0 1.49 5.34z" fill="#2fb9c4"/>
<path d="M1.11 4.74A1.38 1.38 0 1 1 3.5 3.38L3.72 3.8A1.36 1.36 0 1 0 1.36 5.14z" fill="#2bb7c8"/>
<path d="M0.98 4.55A1.39 1.39 0 1 1 3.4 3.17L3.61 3.59A1.37 1.37 0 1 0 1.23 4.94z" fill="#29b4cd"/>
<path d="M0.86 4.35A1.4 1.4 0 1 1 3.3 2.97L3.5 3.38A1.38 1.38 0 1 0 1.11 4.74z" fill="#29b1d1"/>
<path d="M0.74 4.17A1.41 1.41 0 1 1 3.2 2.77L3.4 3.17A1.39 1.39 0 1 0 0.98 4.55z" fill="#29aed4"/>
<path d="M0.6 3.94A1.43 1.43 0 1 1 3.08 2.53L3.3 2.97A1.4 1.4 0 1 0 0.86 4.35z" fill="#2aaad6"/>
<path d="M0.46 3.72A1.44 1.44 0 1 1 2.96 2.3L3.2 2.77A1.41 1.41 0 1 0 0.74 4.17z" fill="#2ca5d8"/>
<path d="M0.32 3.5A1.45 1.45 0 1 1 2.84 2.07L3.08 2.53A1.43 1.43 0 1 0 0.6 3.94z" fill="#319fd8"/>
<path d="M0.19 3.3A1.47 1.47 0 1 1 2.73 1.85L2.96 2.3A1.44 1.44 0 1 0 0.46 3.72z" fill="#349ad9"/>
<path d="M0.06 3.1A1.48 1.48 0 1 1 2.63 1.63L2.84 2.07A1.45 1.45 0 1 0 0.32 3.5z" fill="#3595da"/>
<path d="M-0.07 2.9A1.49 1.49 0 1 1 2.53 1.43L2.73 1.85A1.47 1.47 0 1 0 0.19 3.3z" fill="#3491dc"/>
<path d="M-0.19 2.72A1.51 1.51 0 1 1 2.43 1.23L2.63 1.63A1.48 1.48 0 1 0 0.06 3.1z" fill="#328ddf"/>
<path d="M-0.33 2.5A1.52 1.52 0 1 1 2.32 1L2.53 1.43A1.49 1.49 0 1 0 -0.07 2.9z" fill="#2f89e1"/>
<path d="M-0.47 2.3A1.54 1.54 0 1 1 2.21 0.78L2.43 1.23A1.51 1.51 0 1 0 -0.19 2.72z" fill="#2a84e3"/>
<path d="M-0.6 2.11A1.56 1.56 0 1 1 2.11 0.57L2.32 1A1.52 1.52 0 1 0 -0.33 2.5z" fill="#247ee4"/>
<path d="M-0.75 1.89A1.58 1.58 0 1 1 2 0.33L2.21 0.78A1.54 1.54 0 1 0 -0.47 2.3z" fill="#2078e5"/>
<path d="M-0.88 1.69A1.6 1.6 0 1 1 1.9 0.11L2.11 0.57A1.56 1.56 0 1 0 -0.6 2.11z" fill="#2670e2"/>
<path d="M-1.03 1.47A1.63 1.63 0 1 1 1.8-0.13L2 0.33A1.58 1.58 0 1 0 -0.75 1.89z" fill="#3664d8"/>
<path d="M-1.2 1.26A1.66 1.66 0 1 1 1.69-0.38L1.9 0.11A1.6 1.6 0 1 0 -0.88 1.69z" fill="#3d53ca"/>
<path d="M-1.36 1.06A1.7 1.7 0 1 1 1.61-0.62L1.8-0.13A1.63 1.63 0 1 0 -1.03 1.47z" fill="#4049be"/>
<path d="M-1.54 0.99A1.83 1.83 0 1 1 1.64-0.82L1.69-0.38A1.66 1.66 0 1 0 -1.2 1.26z" fill="#3e3db2"/>
<path d="M-1.48 1.23A1.9 1.9 0 1 1 1.82-0.64L1.61-0.62A1.7 1.7 0 1 0 -1.36 1.06z" fill="#352fa4"/>
<path d="M-1.39 1.47A1.94 1.94 0 1 1 1.98-0.44L1.64-0.82A1.83 1.83 0 1 0 -1.54 0.99z" fill="#3a34a7"/>
<path d="M-1.3 1.71A1.97 1.97 0 1 1 2.13-0.24L1.82-0.64A1.9 1.9 0 1 0 -1.48 1.23z" fill="#3e3fb4"/>
<path d="M-1.21 1.92A2 2 0 1 1 2.27-0.06L1.98-0.44A1.94 1.94 0 1 0 -1.39 1.47z" fill="#3e49c0"/>
<path d="M-1.11 2.15A2.03 2.03 0 1 1 2.41 0.15L2.13-0.24A1.97 1.97 0 1 0 -1.3 1.71z" fill="#3b51ca"/>
<path d="M-1 2.39A2.05 2.05 0 1 1 2.57 0.36L2.27-0.06A2 2 0 1 0 -1.21 1.92z" fill="#3360d7"/>
<path d="M-0.91 2.59A2.08 2.08 0 1 1 2.69 0.54L2.41 0.15A2.03 2.03 0 1 0 -1.11 2.15z" fill="#226be1"/>
<path d="M-0.82 2.8A2.1 2.1 0 1 1 2.82 0.73L2.57 0.36A2.05 2.05 0 1 0 -1 2.39z" fill="#1973e4"/>
<path d="M-0.73 3.01A2.12 2.12 0 1 1 2.96 0.92L2.69 0.54A2.08 2.08 0 1 0 -0.91 2.59z" fill="#1a78e3"/>
<path d="M-0.63 3.22A2.14 2.14 0 1 1 3.09 1.11L2.82 0.73A2.1 2.1 0 1 0 -0.82 2.8z" fill="#1e7de2"/>
<path d="M-0.54 3.43A2.16 2.16 0 1 1 3.22 1.3L2.96 0.92A2.12 2.12 0 1 0 -0.73 3.01z" fill="#2381e0"/>
<path d="M-0.44 3.64A2.18 2.18 0 1 1 3.35 1.48L3.09 1.11A2.14 2.14 0 1 0 -0.63 3.22z" fill="#2685de"/>
<path d="M-0.35 3.84A2.2 2.2 0 1 1 3.48 1.67L3.22 1.3A2.16 2.16 0 1 0 -0.54 3.43z" fill="#2989db"/>
<path d="M-0.24 4.09A2.23 2.23 0 1 1 3.63 1.88L3.35 1.48A2.18 2.18 0 1 0 -0.44 3.64z" fill="#298dd9"/>
<path d="M-0.15 4.31A2.26 2.26 0 1 1 3.78 2.09L3.48 1.67A2.2 2.2 0 1 0 -0.35 3.84z" fill="#2891d7"/>
<path d="M-0.06 4.53A2.28 2.28 0 1 1 3.92 2.27L3.63 1.88A2.23 2.23 0 1 0 -0.24 4.09z" fill="#2596d6"/>
<path d="M0.04 4.76A2.32 2.32 0 1 1 4.07 2.48L3.78 2.09A2.26 2.26 0 1 0 -0.15 4.31z" fill="#1f9bd5"/>
<path d="M0.13 5.01A2.36 2.36 0 1 1 4.23 2.68L3.92 2.27A2.28 2.28 0 1 0 -0.06 4.53z" fill="#19a0d4"/>
<path d="M0.2 5.25A2.43 2.43 0 1 1 4.41 2.86L4.07 2.48A2.32 2.32 0 1 0 0.04 4.76z" fill="#14a3d1"/>
<path d="M0.01 5.26A2.59 2.59 0 1 1 4.51 2.7L4.23 2.68A2.36 2.36 0 1 0 0.13 5.01z" fill="#0ea6cc"/>
<path d="M-0.18 5.08A2.67 2.67 0 1 1 4.45 2.44L4.41 2.86A2.43 2.43 0 1 0 0.2 5.25z" fill="#07a4ca"/>
<path d="M-0.34 4.91A2.72 2.72 0 1 1 4.39 2.22L4.51 2.7A2.59 2.59 0 1 0 0.01 5.26z" fill="#0da4ce"/>
<path d="M-0.51 4.71A2.77 2.77 0 1 1 4.31 1.98L4.45 2.44A2.67 2.67 0 1 0 -0.18 5.08z" fill="#10a0d1"/>
<path d="M-0.66 4.54A2.81 2.81 0 1 1 4.23 1.76L4.39 2.22A2.72 2.72 0 1 0 -0.34 4.91z" fill="#149cd3"/>
<path d="M-0.81 4.35A2.86 2.86 0 1 1 4.15 1.53L4.31 1.98A2.77 2.77 0 1 0 -0.51 4.71z" fill="#1a96d4"/>
<path d="M-0.97 4.16A2.9 2.9 0 1 1 4.07 1.3L4.23 1.76A2.81 2.81 0 1 0 -0.66 4.54z" fill="#1e91d5"/>
<path d="M-1.13 3.96A2.94 2.94 0 1 1 3.98 1.06L4.15 1.53A2.86 2.86 0 1 0 -0.81 4.35z" fill="#208cd6"/>
<path d="M-1.29 3.76A2.98 2.98 0 1 1 3.89 0.82L4.07 1.3A2.9 2.9 0 1 0 -0.97 4.16z" fill="#2087d8"/>
<path d="M-1.45 3.57A3.02 3.02 0 1 1 3.81 0.58L3.98 1.06A2.94 2.94 0 1 0 -1.13 3.96z" fill="#1e82db"/>
<path d="M-1.6 3.38A3.07 3.07 0 1 1 3.73 0.35L3.89 0.82A2.98 2.98 0 1 0 -1.29 3.76z" fill="#1a7ddd"/>
<path d="M-1.75 3.2A3.11 3.11 0 1 1 3.65 0.13L3.81 0.58A3.02 3.02 0 1 0 -1.45 3.57z" fill="#1579e0"/>
<path d="M-1.93 3A3.16 3.16 0 1 1 3.56-0.12L3.73 0.35A3.07 3.07 0 1 0 -1.6 3.38z" fill="#1074e2"/>
<path d="M-2.1 2.81A3.21 3.21 0 1 1 3.49-0.36L3.65 0.13A3.11 3.11 0 1 0 -1.75 3.2z" fill="#0e6de2"/>
<path d="M-2.29 2.61A3.28 3.28 0 1 1 3.41-0.63L3.56-0.12A3.16 3.16 0 1 0 -1.93 3z" fill="#1565e0"/>
<path d="M-2.46 2.44A3.34 3.34 0 1 1 3.35-0.86L3.49-0.36A3.21 3.21 0 1 0 -2.1 2.81z" fill="#2859d6"/>
<path d="M-2.64 2.28A3.43 3.43 0 1 1 3.31-1.1L3.41-0.63A3.28 3.28 0 1 0 -2.29 2.61z" fill="#3249c7"/>
<path d="M-2.88 2.12A3.55 3.55 0 1 1 3.3-1.39L3.35-0.86A3.34 3.34 0 1 0 -2.46 2.44z" fill="#3640bd"/>
<path d="M-3.11 2.05A3.71 3.71 0 1 1 3.35-1.62L3.31-1.1A3.43 3.43 0 1 0 -2.64 2.28z" fill="#3738b1"/>
<path d="M-3.28 2.06A3.87 3.87 0 1 1 3.45-1.77L3.3-1.39A3.55 3.55 0 1 0 -2.88 2.12z" fill="#3530a5"/>
<path d="M-3.41 2.1A4 4 0 1 1 3.55-1.85L3.35-1.62A3.71 3.71 0 1 0 -3.11 2.05z" fill="#342b9e"/>
<path d="M-3.41 2.1A4 4 0 1 1 3.55-1.85L3.45-1.77A3.87 3.87 0 1 0 -3.28 2.06z" fill="#33299b"/>
</g>
<path d="M190.6 135.2L190.6 192.7L224.5 222.7L284.2 205.5M190.6 192.7h1.6M190.6 163.9h1.6M190.6 135.2h1.6" stroke="#6e6e6e" stroke-width="1.1" fill="none"/>
<text x="186.6" y="193.3" text-anchor="end" font-size="9.3" fill="#2c2c2c">0</text>
<text x="186.6" y="164.5" text-anchor="end" font-size="9.3" fill="#2c2c2c">1200</text>
<text x="186.6" y="135.8" text-anchor="end" font-size="9.3" fill="#2c2c2c">2400</text>
<text x="185.3" y="204.1" text-anchor="end" font-size="9.3" fill="#2c2c2c">4</text>
<text x="193.8" y="211.6" text-anchor="end" font-size="9.3" fill="#2c2c2c">2</text>
<text x="202.2" y="219.1" text-anchor="end" font-size="9.3" fill="#2c2c2c">0</text>
<text x="210.7" y="226.6" text-anchor="end" font-size="9.3" fill="#2c2c2c">-2</text>
<text x="219.2" y="234.1" text-anchor="end" font-size="9.3" fill="#2c2c2c">-4</text>
<text x="233.1" y="235.1" text-anchor="middle" font-size="9.3" fill="#2c2c2c">-4</text>
<text x="248" y="230.8" text-anchor="middle" font-size="9.3" fill="#2c2c2c">-2</text>
<text x="259.9" y="226.5" text-anchor="middle" font-size="9.3" fill="#2c2c2c">0</text>
<text x="274.9" y="222.2" text-anchor="middle" font-size="9.3" fill="#2c2c2c">2</text>
<text x="289.8" y="217.9" text-anchor="middle" font-size="9.3" fill="#2c2c2c">4</text>
<text x="193.8" y="221.9" text-anchor="middle" font-size="9.3" fill="#2c2c2c">y</text>
<text x="265.6" y="234.3" text-anchor="middle" font-size="9.3" fill="#2c2c2c">x</text>
<text x="269.8" y="155.8" text-anchor="middle" font-size="9.2" fill="#2c2c2c">z=15</text>
<path d="M333.5 188.4v-57.5M348.5 184.1v-57.5M363.4 179.8v-57.5M378.3 175.5v-57.5M386.8 183v-57.5M395.3 190.5v-57.5M403.7 198v-57.5M412.2 205.5v-57.5M318.6 192.7L378.3 175.5L412.2 205.5M318.6 163.9L378.3 146.8L412.2 176.8M318.6 135.2L378.3 118L412.2 148M327.1 200.2L386.8 183M333.5 188.4L367.4 218.4M335.6 207.7L395.3 190.5M348.5 184.1L382.4 214.1M344 215.2L403.7 198M363.4 179.8L397.3 209.8" stroke="#e4e4e4" stroke-width="0.8" fill="none"/>
<path d="M318.6 192.7L352.5 222.7L412.2 205.5L378.3 175.5z" fill="#322798"/>
<g transform="matrix(7.4625 -2.1500 -4.2375 -3.7500 365.4 199.1)">
<path d="M3.43-2.06A4 4 0 1 1 -3.53 1.89L-3.22 1.85A3.71 3.71 0 1 0 3.24-1.81z" fill="#33299b"/>
<path d="M3.33-1.97A3.87 3.87 0 1 1 -3.4 1.86L-2.99 1.93A3.55 3.55 0 1 0 3.19-1.57z" fill="#342b9e"/>
<path d="M3.24-1.81A3.71 3.71 0 1 1 -3.22 1.85L-2.75 2.1A3.43 3.43 0 1 0 3.21-1.28z" fill="#3530a5"/>
<path d="M3.19-1.57A3.55 3.55 0 1 1 -2.99 1.93L-2.56 2.26A3.34 3.34 0 1 0 3.26-1.04z" fill="#3738b1"/>
<path d="M3.21-1.28A3.43 3.43 0 1 1 -2.75 2.1L-2.39 2.44A3.28 3.28 0 1 0 3.31-0.8z" fill="#3640bd"/>
<path d="M3.26-1.04A3.34 3.34 0 1 1 -2.56 2.26L-2.19 2.64A3.21 3.21 0 1 0 3.39-0.53z" fill="#3249c7"/>
<path d="M3.31-0.8A3.28 3.28 0 1 1 -2.39 2.44L-2.03 2.83A3.16 3.16 0 1 0 3.47-0.29z" fill="#2859d6"/>
<path d="M3.39-0.53A3.21 3.21 0 1 1 -2.19 2.64L-1.85 3.04A3.11 3.11 0 1 0 3.56-0.03z" fill="#1565e0"/>
<path d="M3.47-0.29A3.16 3.16 0 1 1 -2.03 2.83L-1.7 3.22A3.07 3.07 0 1 0 3.63 0.19z" fill="#0e6de2"/>
<path d="M3.56-0.03A3.11 3.11 0 1 1 -1.85 3.04L-1.54 3.41A3.02 3.02 0 1 0 3.72 0.42z" fill="#1074e2"/>
<path d="M3.63 0.19A3.07 3.07 0 1 1 -1.7 3.22L-1.38 3.61A2.98 2.98 0 1 0 3.8 0.66z" fill="#1579e0"/>
<path d="M3.72 0.42A3.02 3.02 0 1 1 -1.54 3.41L-1.22 3.81A2.94 2.94 0 1 0 3.89 0.9z" fill="#1a7ddd"/>
<path d="M3.8 0.66A2.98 2.98 0 1 1 -1.38 3.61L-1.06 4.01A2.9 2.9 0 1 0 3.98 1.14z" fill="#1e82db"/>
<path d="M3.89 0.9A2.94 2.94 0 1 1 -1.22 3.81L-0.9 4.2A2.86 2.86 0 1 0 4.07 1.38z" fill="#2087d8"/>
<path d="M3.98 1.14A2.9 2.9 0 1 1 -1.06 4.01L-0.74 4.39A2.81 2.81 0 1 0 4.15 1.61z" fill="#208cd6"/>
<path d="M4.07 1.38A2.86 2.86 0 1 1 -0.9 4.2L-0.59 4.57A2.77 2.77 0 1 0 4.23 1.83z" fill="#1e91d5"/>
<path d="M4.15 1.61A2.81 2.81 0 1 1 -0.74 4.39L-0.42 4.77A2.72 2.72 0 1 0 4.31 2.08z" fill="#1a96d4"/>
<path d="M4.23 1.83A2.77 2.77 0 1 1 -0.59 4.57L-0.26 4.94A2.67 2.67 0 1 0 4.37 2.3z" fill="#149cd3"/>
<path d="M4.31 2.08A2.72 2.72 0 1 1 -0.42 4.77L-0.06 5.12A2.59 2.59 0 1 0 4.43 2.57z" fill="#10a0d1"/>
<path d="M4.37 2.3A2.67 2.67 0 1 1 -0.26 4.94L0.12 5.13A2.43 2.43 0 1 0 4.34 2.73z" fill="#0da4ce"/>
<path d="M4.43 2.57A2.59 2.59 0 1 1 -0.06 5.12L0.06 4.88A2.36 2.36 0 1 0 4.16 2.55z" fill="#07a4ca"/>
<path d="M4.34 2.73A2.43 2.43 0 1 1 0.12 5.13L-0.03 4.64A2.32 2.32 0 1 0 4 2.36z" fill="#0ea6cc"/>
<path d="M4.16 2.55A2.36 2.36 0 1 1 0.06 4.88L-0.12 4.41A2.28 2.28 0 1 0 3.85 2.15z" fill="#14a3d1"/>
<path d="M4 2.36A2.32 2.32 0 1 1 -0.03 4.64L-0.21 4.2A2.26 2.26 0 1 0 3.71 1.97z" fill="#19a0d4"/>
<path d="M3.85 2.15A2.28 2.28 0 1 1 -0.12 4.41L-0.31 3.97A2.23 2.23 0 1 0 3.57 1.77z" fill="#1f9bd5"/>
<path d="M3.71 1.97A2.26 2.26 0 1 1 -0.21 4.2L-0.42 3.73A2.2 2.2 0 1 0 3.41 1.55z" fill="#2596d6"/>
<path d="M3.57 1.77A2.23 2.23 0 1 1 -0.31 3.97L-0.51 3.52A2.18 2.18 0 1 0 3.29 1.37z" fill="#2891d7"/>
<path d="M3.41 1.55A2.2 2.2 0 1 1 -0.42 3.73L-0.6 3.32A2.16 2.16 0 1 0 3.16 1.18z" fill="#298dd9"/>
<path d="M3.29 1.37A2.18 2.18 0 1 1 -0.51 3.52L-0.69 3.11A2.14 2.14 0 1 0 3.03 1z" fill="#2989db"/>
<path d="M3.16 1.18A2.16 2.16 0 1 1 -0.6 3.32L-0.79 2.9A2.12 2.12 0 1 0 2.89 0.81z" fill="#2685de"/>
<path d="M3.03 1A2.14 2.14 0 1 1 -0.69 3.11L-0.88 2.69A2.1 2.1 0 1 0 2.76 0.62z" fill="#2381e0"/>
<path d="M2.89 0.81A2.12 2.12 0 1 1 -0.79 2.9L-0.98 2.48A2.08 2.08 0 1 0 2.63 0.44z" fill="#1e7de2"/>
<path d="M2.76 0.62A2.1 2.1 0 1 1 -0.88 2.69L-1.06 2.28A2.05 2.05 0 1 0 2.51 0.26z" fill="#1a78e3"/>
<path d="M2.63 0.44A2.08 2.08 0 1 1 -0.98 2.48L-1.17 2.04A2.03 2.03 0 1 0 2.35 0.04z" fill="#1973e4"/>
<path d="M2.51 0.26A2.05 2.05 0 1 1 -1.06 2.28L-1.27 1.81A2 2 0 1 0 2.21-0.16z" fill="#226be1"/>
<path d="M2.35 0.04A2.03 2.03 0 1 1 -1.17 2.04L-1.36 1.6A1.97 1.97 0 1 0 2.07-0.34z" fill="#3360d7"/>
<path d="M2.21-0.16A2 2 0 1 1 -1.27 1.81L-1.45 1.37A1.94 1.94 0 1 0 1.92-0.54z" fill="#3b51ca"/>
<path d="M2.07-0.34A1.97 1.97 0 1 1 -1.36 1.6L-1.54 1.13A1.9 1.9 0 1 0 1.76-0.74z" fill="#3e49c0"/>
<path d="M1.92-0.54A1.94 1.94 0 1 1 -1.45 1.37L-1.6 0.89A1.83 1.83 0 1 0 1.59-0.91z" fill="#3e3fb4"/>
<path d="M1.76-0.74A1.9 1.9 0 1 1 -1.54 1.13L-1.41 0.97A1.7 1.7 0 1 0 1.56-0.71z" fill="#3a34a7"/>
<path d="M1.59-0.91A1.83 1.83 0 1 1 -1.6 0.89L-1.25 1.17A1.66 1.66 0 1 0 1.64-0.47z" fill="#352fa4"/>
<path d="M1.56-0.71A1.7 1.7 0 1 1 -1.41 0.97L-1.08 1.39A1.63 1.63 0 1 0 1.75-0.22z" fill="#3e3db2"/>
<path d="M1.64-0.47A1.66 1.66 0 1 1 -1.25 1.17L-0.93 1.61A1.6 1.6 0 1 0 1.86 0.02z" fill="#4049be"/>
<path d="M1.75-0.22A1.63 1.63 0 1 1 -1.08 1.39L-0.79 1.8A1.58 1.58 0 1 0 1.96 0.24z" fill="#3d53ca"/>
<path d="M1.86 0.02A1.6 1.6 0 1 1 -0.93 1.61L-0.64 2.03A1.56 1.56 0 1 0 2.07 0.49z" fill="#3664d8"/>
<path d="M1.96 0.24A1.58 1.58 0 1 1 -0.79 1.8L-0.51 2.22A1.54 1.54 0 1 0 2.17 0.7z" fill="#2670e2"/>
<path d="M2.07 0.49A1.56 1.56 0 1 1 -0.64 2.03L-0.38 2.42A1.52 1.52 0 1 0 2.27 0.92z" fill="#2078e5"/>
<path d="M2.17 0.7A1.54 1.54 0 1 1 -0.51 2.22L-0.23 2.64A1.51 1.51 0 1 0 2.39 1.15z" fill="#247ee4"/>
<path d="M2.27 0.92A1.52 1.52 0 1 1 -0.38 2.42L-0.11 2.83A1.49 1.49 0 1 0 2.48 1.35z" fill="#2a84e3"/>
<path d="M2.39 1.15A1.51 1.51 0 1 1 -0.23 2.64L0.01 3.02A1.48 1.48 0 1 0 2.59 1.56z" fill="#2f89e1"/>
<path d="M2.48 1.35A1.49 1.49 0 1 1 -0.11 2.83L0.14 3.22A1.47 1.47 0 1 0 2.69 1.77z" fill="#328ddf"/>
<path d="M2.59 1.56A1.48 1.48 0 1 1 0.01 3.02L0.28 3.43A1.45 1.45 0 1 0 2.8 1.99z" fill="#3491dc"/>
<path d="M2.69 1.77A1.47 1.47 0 1 1 0.14 3.22L0.41 3.64A1.44 1.44 0 1 0 2.92 2.22z" fill="#3595da"/>
<path d="M2.8 1.99A1.45 1.45 0 1 1 0.28 3.43L0.56 3.86A1.43 1.43 0 1 0 3.03 2.46z" fill="#349ad9"/>
<path d="M2.92 2.22A1.44 1.44 0 1 1 0.41 3.64L0.7 4.09A1.41 1.41 0 1 0 3.16 2.7z" fill="#319fd8"/>
<path d="M3.03 2.46A1.43 1.43 0 1 1 0.56 3.86L0.82 4.28A1.4 1.4 0 1 0 3.26 2.9z" fill="#2ca5d8"/>
<path d="M3.16 2.7A1.41 1.41 0 1 1 0.7 4.09L0.94 4.47A1.39 1.39 0 1 0 3.36 3.1z" fill="#2aaad6"/>
<path d="M3.26 2.9A1.4 1.4 0 1 1 0.82 4.28L1.07 4.67A1.38 1.38 0 1 0 3.46 3.31z" fill="#29aed4"/>
<path d="M3.36 3.1A1.39 1.39 0 1 1 0.94 4.47L1.19 4.87A1.37 1.37 0 1 0 3.57 3.52z" fill="#29b1d1"/>
<path d="M3.46 3.31A1.38 1.38 0 1 1 1.07 4.67L1.32 5.07A1.36 1.36 0 1 0 3.68 3.73z" fill="#29b4cd"/>
<path d="M3.57 3.52A1.37 1.37 0 1 1 1.19 4.87L1.45 5.27A1.35 1.35 0 1 0 3.79 3.95z" fill="#2bb7c8"/>
<path d="M3.68 3.73A1.36 1.36 0 1 1 1.32 5.07L1.58 5.48A1.33 1.33 0 1 0 3.9 4.16z" fill="#2fb9c4"/>
<path d="M3.79 3.95A1.35 1.35 0 1 1 1.45 5.27L1.71 5.69A1.32 1.32 0 1 0 4.01 4.39z" fill="#36bcbf"/>
<path d="M3.9 4.16A1.33 1.33 0 1 1 1.58 5.48L1.84 5.91A1.31 1.31 0 1 0 4.13 4.61z" fill="#3ebeb9"/>
<path d="M4.01 4.39A1.32 1.32 0 1 1 1.71 5.69L1.98 6.12A1.3 1.3 0 1 0 4.24 4.84z" fill="#47c0b3"/>
<path d="M4.13 4.61A1.31 1.31 0 1 1 1.84 5.91L2.12 6.34A1.29 1.29 0 1 0 4.36 5.06z" fill="#51c2ad"/>
<path d="M4.24 4.84A1.3 1.3 0 1 1 1.98 6.12L2.25 6.55A1.28 1.28 0 1 0 4.48 5.29z" fill="#5cc4a6"/>
<path d="M4.36 5.06A1.29 1.29 0 1 1 2.12 6.34L2.39 6.77A1.27 1.27 0 1 0 4.59 5.52z" fill="#69c6a0"/>
<path d="M4.48 5.29A1.28 1.28 0 1 1 2.25 6.55L2.53 6.99A1.26 1.26 0 1 0 4.71 5.75z" fill="#76c799"/>
<path d="M4.59 5.52A1.27 1.27 0 1 1 2.39 6.77L2.66 7.21A1.25 1.25 0 1 0 4.83 5.98z" fill="#83c893"/>
<path d="M4.71 5.75A1.26 1.26 0 1 1 2.53 6.99L2.8 7.43A1.24 1.24 0 1 0 4.95 6.22z" fill="#90c88d"/>
<path d="M4.83 5.98A1.25 1.25 0 1 1 2.66 7.21L2.94 7.65A1.22 1.22 0 1 0 5.07 6.45z" fill="#9cc888"/>
<path d="M4.95 6.22A1.24 1.24 0 1 1 2.8 7.43L3.08 7.87A1.21 1.21 0 1 0 5.19 6.68z" fill="#a7c884"/>
<path d="M5.07 6.45A1.22 1.22 0 1 1 2.94 7.65L3.21 8.09A1.2 1.2 0 1 0 5.3 6.91z" fill="#b2c77f"/>
<path d="M5.19 6.68A1.21 1.21 0 1 1 3.08 7.87L3.35 8.31A1.19 1.19 0 1 0 5.42 7.13z" fill="#bcc77b"/>
<path d="M5.3 6.91A1.2 1.2 0 1 1 3.21 8.09L3.48 8.53A1.18 1.18 0 1 0 5.54 7.36z" fill="#c6c677"/>
<path d="M5.42 7.13A1.19 1.19 0 1 1 3.35 8.31L3.62 8.74A1.17 1.17 0 1 0 5.65 7.58z" fill="#d0c573"/>
<path d="M5.54 7.36A1.18 1.18 0 1 1 3.48 8.53L3.75 8.95A1.16 1.16 0 1 0 5.76 7.8z" fill="#d9c470"/>
<path d="M5.65 7.58A1.17 1.17 0 1 1 3.62 8.74L3.88 9.15A1.15 1.15 0 1 0 5.87 8.02z" fill="#e2c36c"/>
<path d="M5.76 7.8A1.16 1.16 0 1 1 3.75 8.95L4.01 9.36A1.14 1.14 0 1 0 5.98 8.24z" fill="#eac368"/>
<path d="M5.87 8.02A1.15 1.15 0 1 1 3.88 9.15L4.13 9.55A1.13 1.13 0 1 0 6.09 8.44z" fill="#f3c363"/>
<path d="M5.98 8.24A1.14 1.14 0 1 1 4.01 9.36L4.25 9.75A1.11 1.11 0 1 0 6.19 8.65z" fill="#fac55d"/>
<path d="M6.09 8.44A1.13 1.13 0 1 1 4.13 9.55L4.37 9.93A1.1 1.1 0 1 0 6.29 8.85z" fill="#fec957"/>
<path d="M6.19 8.65A1.11 1.11 0 1 1 4.25 9.75L4.52 10.16A1.09 1.09 0 1 0 6.41 9.08z" fill="#fece51"/>
<path d="M6.29 8.85A1.1 1.1 0 1 1 4.37 9.93L4.65 10.37A1.08 1.08 0 1 0 6.52 9.31z" fill="#fdd34c"/>
<path d="M6.41 9.08A1.09 1.09 0 1 1 4.52 10.16L4.78 10.57A1.06 1.06 0 1 0 6.63 9.52z" fill="#fad947"/>
<path d="M6.52 9.31A1.08 1.08 0 1 1 4.65 10.37L4.93 10.79A1.05 1.05 0 1 0 6.74 9.76z" fill="#f8df43"/>
<path d="M6.63 9.52A1.06 1.06 0 1 1 4.78 10.57L5.06 10.99A1.03 1.03 0 1 0 6.84 9.97z" fill="#f6e63e"/>
<path d="M6.74 9.76A1.05 1.05 0 1 1 4.93 10.79L5.21 11.2A1 1 0 1 0 6.95 10.21z" fill="#f6ec35"/>
<path d="M6.84 9.97A1.03 1.03 0 1 1 5.06 10.99L5.2 11.02A0.92 0.92 0 1 0 6.8 10.11z" fill="#f7f427"/>
<path d="M6.95 10.21A1 1 0 1 1 5.21 11.2L5.11 10.79A0.89 0.89 0 1 0 6.65 9.92z" fill="#f7f616"/>
<path d="M6.8 10.11A0.92 0.92 0 1 1 5.2 11.02L5.01 10.56A0.86 0.86 0 1 0 6.5 9.71z" fill="#f6ee26"/>
<path d="M6.65 9.92A0.89 0.89 0 1 1 5.11 10.79L4.9 10.33A0.84 0.84 0 1 0 6.36 9.5z" fill="#f5e730"/>
<path d="M6.5 9.71A0.86 0.86 0 1 1 5.01 10.56L4.81 10.13A0.82 0.82 0 1 0 6.24 9.32z" fill="#f7e039"/>
<path d="M6.36 9.5A0.84 0.84 0 1 1 4.9 10.33L4.71 9.91A0.8 0.8 0 1 0 6.1 9.12z" fill="#f9db40"/>
<path d="M6.24 9.32A0.82 0.82 0 1 1 4.81 10.13L4.59 9.68A0.79 0.79 0 1 0 5.96 8.9z" fill="#fcd647"/>
<path d="M6.1 9.12A0.8 0.8 0 1 1 4.71 9.91L4.5 9.48A0.77 0.77 0 1 0 5.84 8.72z" fill="#fed04d"/>
<path d="M5.96 8.9A0.79 0.79 0 1 1 4.59 9.68L4.39 9.27A0.76 0.76 0 1 0 5.71 8.52z" fill="#ffcb54"/>
<path d="M5.84 8.72A0.77 0.77 0 1 1 4.5 9.48L4.29 9.05A0.74 0.74 0 1 0 5.58 8.32z" fill="#fcc65a"/>
<path d="M5.71 8.52A0.76 0.76 0 1 1 4.39 9.27L4.17 8.83A0.73 0.73 0 1 0 5.44 8.11z" fill="#f6c461"/>
<path d="M5.58 8.32A0.74 0.74 0 1 1 4.29 9.05L4.06 8.59A0.72 0.72 0 1 0 5.3 7.88z" fill="#eec366"/>
<path d="M5.44 8.11A0.73 0.73 0 1 1 4.17 8.83L3.93 8.35A0.7 0.7 0 1 0 5.16 7.66z" fill="#e5c36a"/>
<path d="M5.3 7.88A0.72 0.72 0 1 1 4.06 8.59L3.83 8.15A0.69 0.69 0 1 0 5.04 7.47z" fill="#dbc46f"/>
<path d="M5.16 7.66A0.7 0.7 0 1 1 3.93 8.35L3.73 7.95A0.68 0.68 0 1 0 4.92 7.28z" fill="#d2c572"/>
<path d="M5.04 7.47A0.69 0.69 0 1 1 3.83 8.15L3.63 7.74A0.67 0.67 0 1 0 4.79 7.08z" fill="#cac676"/>
<path d="M4.92 7.28A0.68 0.68 0 1 1 3.73 7.95L3.52 7.53A0.66 0.66 0 1 0 4.67 6.88z" fill="#c1c679"/>
<path d="M4.79 7.08A0.67 0.67 0 1 1 3.63 7.74L3.41 7.32A0.65 0.65 0 1 0 4.54 6.68z" fill="#b8c77d"/>
<path d="M4.67 6.88A0.66 0.66 0 1 1 3.52 7.53L3.3 7.11A0.64 0.64 0 1 0 4.41 6.48z" fill="#afc781"/>
<path d="M4.54 6.68A0.65 0.65 0 1 1 3.41 7.32L3.19 6.89A0.63 0.63 0 1 0 4.28 6.27z" fill="#a5c885"/>
<path d="M4.41 6.48A0.64 0.64 0 1 1 3.3 7.11L3.08 6.67A0.62 0.62 0 1 0 4.15 6.06z" fill="#9ac889"/>
<path d="M4.28 6.27A0.63 0.63 0 1 1 3.19 6.89L2.97 6.45A0.6 0.6 0 1 0 4.02 5.85z" fill="#8ec88e"/>
<path d="M4.15 6.06A0.62 0.62 0 1 1 3.08 6.67L2.85 6.23A0.59 0.59 0 1 0 3.89 5.64z" fill="#81c894"/>
<path d="M4.02 5.85A0.6 0.6 0 1 1 2.97 6.45L2.74 6A0.58 0.58 0 1 0 3.75 5.43z" fill="#74c79a"/>
<path d="M3.89 5.64A0.59 0.59 0 1 1 2.85 6.23L2.63 5.78A0.57 0.57 0 1 0 3.62 5.22z" fill="#67c6a0"/>
<path d="M3.75 5.43A0.58 0.58 0 1 1 2.74 6L2.51 5.56A0.56 0.56 0 1 0 3.48 5z" fill="#5bc4a7"/>
<path d="M3.62 5.22A0.57 0.57 0 1 1 2.63 5.78L2.4 5.33A0.55 0.55 0 1 0 3.35 4.79z" fill="#50c2ae"/>
<path d="M3.48 5A0.56 0.56 0 1 1 2.51 5.56L2.28 5.11A0.54 0.54 0 1 0 3.22 4.58z" fill="#46c0b4"/>
<path d="M3.35 4.79A0.55 0.55 0 1 1 2.4 5.33L2.17 4.89A0.53 0.53 0 1 0 3.08 4.37z" fill="#3dbeba"/>
<path d="M3.22 4.58A0.54 0.54 0 1 1 2.28 5.11L2.06 4.66A0.52 0.52 0 1 0 2.95 4.15z" fill="#35bbbf"/>
<path d="M3.08 4.37A0.53 0.53 0 1 1 2.17 4.89L1.94 4.44A0.51 0.51 0 1 0 2.82 3.95z" fill="#2fb9c4"/>
<path d="M2.95 4.15A0.52 0.52 0 1 1 2.06 4.66L1.83 4.23A0.49 0.49 0 1 0 2.69 3.74z" fill="#2ab6c9"/>
<path d="M2.82 3.95A0.51 0.51 0 1 1 1.94 4.44L1.72 4.01A0.48 0.48 0 1 0 2.56 3.53z" fill="#29b3ce"/>
<path d="M2.69 3.74A0.49 0.49 0 1 1 1.83 4.23L1.61 3.8A0.47 0.47 0 1 0 2.44 3.33z" fill="#29b0d1"/>
<path d="M2.56 3.53A0.48 0.48 0 1 1 1.72 4.01L1.51 3.59A0.46 0.46 0 1 0 2.31 3.13z" fill="#29add5"/>
<path d="M2.44 3.33A0.47 0.47 0 1 1 1.61 3.8L1.4 3.38A0.45 0.45 0 1 0 2.19 2.94z" fill="#2aa9d7"/>
<path d="M2.31 3.13A0.46 0.46 0 1 1 1.51 3.59L1.3 3.18A0.44 0.44 0 1 0 2.06 2.75z" fill="#2da4d8"/>
<path d="M2.19 2.94A0.45 0.45 0 1 1 1.4 3.38L1.2 2.98A0.43 0.43 0 1 0 1.94 2.56z" fill="#319fd8"/>
<path d="M2.06 2.75A0.44 0.44 0 1 1 1.3 3.18L1.08 2.74A0.41 0.41 0 1 0 1.8 2.33z" fill="#349ad9"/>
<path d="M1.94 2.56A0.43 0.43 0 1 1 1.2 2.98L0.96 2.5A0.4 0.4 0 1 0 1.66 2.11z" fill="#3595da"/>
<path d="M1.8 2.33A0.41 0.41 0 1 1 1.08 2.74L0.85 2.28A0.39 0.39 0 1 0 1.52 1.89z" fill="#3491dc"/>
<path d="M1.66 2.11A0.4 0.4 0 1 1 0.96 2.5L0.74 2.06A0.37 0.37 0 1 0 1.39 1.69z" fill="#328cdf"/>
<path d="M1.52 1.89A0.39 0.39 0 1 1 0.85 2.28L0.64 1.85A0.36 0.36 0 1 0 1.26 1.49z" fill="#2f88e1"/>
<path d="M1.39 1.69A0.37 0.37 0 1 1 0.74 2.06L0.54 1.65A0.35 0.35 0 1 0 1.14 1.31z" fill="#2a84e3"/>
<path d="M1.26 1.49A0.36 0.36 0 1 1 0.64 1.85L0.42 1.41A0.33 0.33 0 1 0 0.99 1.09z" fill="#2780e5"/>
<path d="M1.14 1.31A0.35 0.35 0 1 1 0.54 1.65L0.32 1.19A0.31 0.31 0 1 0 0.86 0.88z" fill="#257ae5"/>
<path d="M0.99 1.09A0.33 0.33 0 1 1 0.42 1.41L0.22 0.99A0.29 0.29 0 1 0 0.74 0.7z" fill="#2b72e2"/>
<path d="M0.86 0.88A0.31 0.31 0 1 1 0.32 1.19L0.12 0.76A0.27 0.27 0 1 0 0.59 0.49z" fill="#3967d9"/>
<path d="M0.74 0.7A0.29 0.29 0 1 1 0.22 0.99L0.01 0.52A0.25 0.25 0 1 0 0.44 0.28z" fill="#4057cc"/>
<path d="M0.59 0.49A0.27 0.27 0 1 1 0.12 0.76L-0.08 0.29A0.21 0.21 0 1 0 0.29 0.08z" fill="#434dc1"/>
<path d="M0.44 0.28A0.25 0.25 0 1 1 0.01 0.52L-0.13 0.09A0.16 0.16 0 1 0 0.15-0.07z" fill="#4142b5"/>
<path d="M0.29 0.08A0.21 0.21 0 1 1 -0.08 0.29z" fill="#3a35a7"/>
<path d="M0.15-0.07A0.16 0.16 0 1 1 -0.13 0.09z" fill="#33299b"/>
<path d="M-0.07 0.3A0.21 0.21 0 1 1 0.3 0.09z" fill="#33299b"/>
<path d="M0.02 0.54A0.25 0.25 0 1 1 0.45 0.29L0.15-0.06A0.16 0.16 0 1 0 -0.13 0.1z" fill="#3a35a7"/>
<path d="M0.13 0.78A0.27 0.27 0 1 1 0.6 0.51L0.3 0.09A0.21 0.21 0 1 0 -0.07 0.3z" fill="#4142b5"/>
<path d="M0.23 1.01A0.29 0.29 0 1 1 0.74 0.72L0.45 0.29A0.25 0.25 0 1 0 0.02 0.54z" fill="#434dc1"/>
<path d="M0.33 1.21A0.31 0.31 0 1 1 0.87 0.9L0.6 0.51A0.27 0.27 0 1 0 0.13 0.78z" fill="#4057cc"/>
<path d="M0.43 1.43A0.33 0.33 0 1 1 1 1.1L0.74 0.72A0.29 0.29 0 1 0 0.23 1.01z" fill="#3967d9"/>
<path d="M0.55 1.67A0.35 0.35 0 1 1 1.15 1.32L0.87 0.9A0.31 0.31 0 1 0 0.33 1.21z" fill="#2b72e2"/>
<path d="M0.65 1.87A0.36 0.36 0 1 1 1.27 1.51L1 1.1A0.33 0.33 0 1 0 0.43 1.43z" fill="#257ae5"/>
<path d="M0.75 2.08A0.37 0.37 0 1 1 1.4 1.71L1.15 1.32A0.35 0.35 0 1 0 0.55 1.67z" fill="#2780e5"/>
<path d="M0.86 2.3A0.39 0.39 0 1 1 1.53 1.91L1.27 1.51A0.36 0.36 0 1 0 0.65 1.87z" fill="#2a84e3"/>
<path d="M0.97 2.52A0.4 0.4 0 1 1 1.67 2.13L1.4 1.71A0.37 0.37 0 1 0 0.75 2.08z" fill="#2f88e1"/>
<path d="M1.09 2.76A0.41 0.41 0 1 1 1.81 2.35L1.53 1.91A0.39 0.39 0 1 0 0.86 2.3z" fill="#328cdf"/>
<path d="M1.21 3A0.43 0.43 0 1 1 1.96 2.58L1.67 2.13A0.4 0.4 0 1 0 0.97 2.52z" fill="#3491dc"/>
<path d="M1.31 3.2A0.44 0.44 0 1 1 2.08 2.77L1.81 2.35A0.41 0.41 0 1 0 1.09 2.76z" fill="#3595da"/>
<path d="M1.42 3.41A0.45 0.45 0 1 1 2.2 2.96L1.96 2.58A0.43 0.43 0 1 0 1.21 3z" fill="#349ad9"/>
<path d="M1.52 3.61A0.46 0.46 0 1 1 2.32 3.16L2.08 2.77A0.44 0.44 0 1 0 1.31 3.2z" fill="#319fd8"/>
<path d="M1.63 3.82A0.47 0.47 0 1 1 2.45 3.36L2.2 2.96A0.45 0.45 0 1 0 1.42 3.41z" fill="#2da4d8"/>
<path d="M1.74 4.04A0.48 0.48 0 1 1 2.58 3.56L2.32 3.16A0.46 0.46 0 1 0 1.52 3.61z" fill="#2aa9d7"/>
<path d="M1.85 4.25A0.49 0.49 0 1 1 2.71 3.76L2.45 3.36A0.47 0.47 0 1 0 1.63 3.82z" fill="#29add5"/>
<path d="M1.96 4.47A0.51 0.51 0 1 1 2.84 3.97L2.58 3.56A0.48 0.48 0 1 0 1.74 4.04z" fill="#29b0d1"/>
<path d="M2.07 4.69A0.52 0.52 0 1 1 2.97 4.18L2.71 3.76A0.49 0.49 0 1 0 1.85 4.25z" fill="#29b3ce"/>
<path d="M2.18 4.91A0.53 0.53 0 1 1 3.1 4.39L2.84 3.97A0.51 0.51 0 1 0 1.96 4.47z" fill="#2ab6c9"/>
<path d="M2.3 5.14A0.54 0.54 0 1 1 3.23 4.6L2.97 4.18A0.52 0.52 0 1 0 2.07 4.69z" fill="#2fb9c4"/>
<path d="M2.41 5.36A0.55 0.55 0 1 1 3.37 4.82L3.1 4.39A0.53 0.53 0 1 0 2.18 4.91z" fill="#35bbbf"/>
<path d="M2.53 5.58A0.56 0.56 0 1 1 3.5 5.03L3.23 4.6A0.54 0.54 0 1 0 2.3 5.14z" fill="#3dbeba"/>
<path d="M2.64 5.81A0.57 0.57 0 1 1 3.64 5.25L3.37 4.82A0.55 0.55 0 1 0 2.41 5.36z" fill="#46c0b4"/>
<path d="M2.76 6.03A0.58 0.58 0 1 1 3.77 5.46L3.5 5.03A0.56 0.56 0 1 0 2.53 5.58z" fill="#50c2ae"/>
<path d="M2.87 6.26A0.59 0.59 0 1 1 3.9 5.67L3.64 5.25A0.57 0.57 0 1 0 2.64 5.81z" fill="#5bc4a7"/>
<path d="M2.99 6.48A0.6 0.6 0 1 1 4.04 5.88L3.77 5.46A0.58 0.58 0 1 0 2.76 6.03z" fill="#67c6a0"/>
<path d="M3.1 6.7A0.62 0.62 0 1 1 4.17 6.1L3.9 5.67A0.59 0.59 0 1 0 2.87 6.26z" fill="#74c79a"/>
<path d="M3.21 6.92A0.63 0.63 0 1 1 4.3 6.3L4.04 5.88A0.6 0.6 0 1 0 2.99 6.48z" fill="#81c894"/>
<path d="M3.32 7.14A0.64 0.64 0 1 1 4.43 6.51L4.17 6.1A0.62 0.62 0 1 0 3.1 6.7z" fill="#8ec88e"/>
<path d="M3.43 7.36A0.65 0.65 0 1 1 4.56 6.72L4.3 6.3A0.63 0.63 0 1 0 3.21 6.92z" fill="#9ac889"/>
<path d="M3.54 7.57A0.66 0.66 0 1 1 4.69 6.92L4.43 6.51A0.64 0.64 0 1 0 3.32 7.14z" fill="#a5c885"/>
<path d="M3.65 7.78A0.67 0.67 0 1 1 4.81 7.12L4.56 6.72A0.65 0.65 0 1 0 3.43 7.36z" fill="#afc781"/>
<path d="M3.75 7.99A0.68 0.68 0 1 1 4.94 7.31L4.69 6.92A0.66 0.66 0 1 0 3.54 7.57z" fill="#b8c77d"/>
<path d="M3.85 8.19A0.69 0.69 0 1 1 5.06 7.51L4.81 7.12A0.67 0.67 0 1 0 3.65 7.78z" fill="#c1c679"/>
<path d="M3.95 8.39A0.7 0.7 0 1 1 5.18 7.69L4.94 7.31A0.68 0.68 0 1 0 3.75 7.99z" fill="#cac676"/>
<path d="M4.08 8.63A0.72 0.72 0 1 1 5.32 7.92L5.06 7.51A0.69 0.69 0 1 0 3.85 8.19z" fill="#d2c572"/>
<path d="M4.19 8.87A0.73 0.73 0 1 1 5.46 8.14L5.18 7.69A0.7 0.7 0 1 0 3.95 8.39z" fill="#dbc46f"/>
<path d="M4.31 9.09A0.74 0.74 0 1 1 5.6 8.36L5.32 7.92A0.72 0.72 0 1 0 4.08 8.63z" fill="#e5c36a"/>
<path d="M4.42 9.31A0.76 0.76 0 1 1 5.73 8.56L5.46 8.14A0.73 0.73 0 1 0 4.19 8.87z" fill="#eec366"/>
<path d="M4.52 9.52A0.77 0.77 0 1 1 5.86 8.76L5.6 8.36A0.74 0.74 0 1 0 4.31 9.09z" fill="#f6c461"/>
<path d="M4.62 9.72A0.79 0.79 0 1 1 5.98 8.94L5.73 8.56A0.76 0.76 0 1 0 4.42 9.31z" fill="#fcc65a"/>
<path d="M4.73 9.96A0.8 0.8 0 1 1 6.13 9.16L5.86 8.76A0.77 0.77 0 1 0 4.52 9.52z" fill="#ffcb54"/>
<path d="M4.83 10.17A0.82 0.82 0 1 1 6.26 9.36L5.98 8.94A0.79 0.79 0 1 0 4.62 9.72z" fill="#fed04d"/>
<path d="M4.93 10.37A0.84 0.84 0 1 1 6.38 9.55L6.13 9.16A0.8 0.8 0 1 0 4.73 9.96z" fill="#fcd647"/>
<path d="M5.03 10.6A0.86 0.86 0 1 1 6.53 9.75L6.26 9.36A0.82 0.82 0 1 0 4.83 10.17z" fill="#f9db40"/>
<path d="M5.14 10.84A0.89 0.89 0 1 1 6.68 9.97L6.38 9.55A0.84 0.84 0 1 0 4.93 10.37z" fill="#f7e039"/>
<path d="M5.23 11.07A0.92 0.92 0 1 1 6.83 10.16L6.53 9.75A0.86 0.86 0 1 0 5.03 10.6z" fill="#f5e730"/>
<path d="M5.24 11.25A1 1 0 1 1 6.98 10.27L6.68 9.97A0.89 0.89 0 1 0 5.14 10.84z" fill="#f6ee26"/>
<path d="M5.09 11.04A1.03 1.03 0 1 1 6.87 10.03L6.83 10.16A0.92 0.92 0 1 0 5.23 11.07z" fill="#f7f616"/>
<path d="M4.96 10.85A1.05 1.05 0 1 1 6.78 9.82L6.98 10.27A1 1 0 1 0 5.24 11.25z" fill="#f7f427"/>
<path d="M4.81 10.62A1.06 1.06 0 1 1 6.66 9.58L6.87 10.03A1.03 1.03 0 1 0 5.09 11.04z" fill="#f6ec35"/>
<path d="M4.68 10.43A1.08 1.08 0 1 1 6.55 9.36L6.78 9.82A1.05 1.05 0 1 0 4.96 10.85z" fill="#f6e63e"/>
<path d="M4.55 10.22A1.09 1.09 0 1 1 6.44 9.14L6.66 9.58A1.06 1.06 0 1 0 4.81 10.62z" fill="#f8df43"/>
<path d="M4.41 9.99A1.1 1.1 0 1 1 6.32 8.9L6.55 9.36A1.08 1.08 0 1 0 4.68 10.43z" fill="#fad947"/>
<path d="M4.29 9.81A1.11 1.11 0 1 1 6.22 8.71L6.44 9.14A1.09 1.09 0 1 0 4.55 10.22z" fill="#fdd34c"/>
<path d="M4.17 9.61A1.13 1.13 0 1 1 6.12 8.5L6.32 8.9A1.1 1.1 0 1 0 4.41 9.99z" fill="#fece51"/>
<path d="M4.04 9.42A1.14 1.14 0 1 1 6.02 8.29L6.22 8.71A1.11 1.11 0 1 0 4.29 9.81z" fill="#fec957"/>
<path d="M3.91 9.21A1.15 1.15 0 1 1 5.91 8.08L6.12 8.5A1.13 1.13 0 1 0 4.17 9.61z" fill="#fac55d"/>
<path d="M3.78 9.01A1.16 1.16 0 1 1 5.8 7.86L6.02 8.29A1.14 1.14 0 1 0 4.04 9.42z" fill="#f3c363"/>
<path d="M3.65 8.8A1.17 1.17 0 1 1 5.69 7.64L5.91 8.08A1.15 1.15 0 1 0 3.91 9.21z" fill="#eac368"/>
<path d="M3.52 8.59A1.18 1.18 0 1 1 5.57 7.42L5.8 7.86A1.16 1.16 0 1 0 3.78 9.01z" fill="#e2c36c"/>
<path d="M3.38 8.37A1.19 1.19 0 1 1 5.46 7.2L5.69 7.64A1.17 1.17 0 1 0 3.65 8.8z" fill="#d9c470"/>
<path d="M3.25 8.16A1.2 1.2 0 1 1 5.34 6.97L5.57 7.42A1.18 1.18 0 1 0 3.52 8.59z" fill="#d0c573"/>
<path d="M3.11 7.94A1.21 1.21 0 1 1 5.22 6.74L5.46 7.2A1.19 1.19 0 1 0 3.38 8.37z" fill="#c6c677"/>
<path d="M2.98 7.72A1.22 1.22 0 1 1 5.1 6.51L5.34 6.97A1.2 1.2 0 1 0 3.25 8.16z" fill="#bcc77b"/>
<path d="M2.84 7.5A1.24 1.24 0 1 1 4.99 6.28L5.22 6.74A1.21 1.21 0 1 0 3.11 7.94z" fill="#b2c77f"/>
<path d="M2.7 7.28A1.25 1.25 0 1 1 4.87 6.05L5.1 6.51A1.22 1.22 0 1 0 2.98 7.72z" fill="#a7c884"/>
<path d="M2.56 7.06A1.26 1.26 0 1 1 4.75 5.82L4.99 6.28A1.24 1.24 0 1 0 2.84 7.5z" fill="#9cc888"/>
<path d="M2.43 6.84A1.27 1.27 0 1 1 4.63 5.59L4.87 6.05A1.25 1.25 0 1 0 2.7 7.28z" fill="#90c88d"/>
<path d="M2.29 6.62A1.28 1.28 0 1 1 4.51 5.36L4.75 5.82A1.26 1.26 0 1 0 2.56 7.06z" fill="#83c893"/>
<path d="M2.15 6.4A1.29 1.29 0 1 1 4.4 5.13L4.63 5.59A1.27 1.27 0 1 0 2.43 6.84z" fill="#76c799"/>
<path d="M2.02 6.19A1.3 1.3 0 1 1 4.28 4.9L4.51 5.36A1.28 1.28 0 1 0 2.29 6.62z" fill="#69c6a0"/>
<path d="M1.88 5.97A1.31 1.31 0 1 1 4.16 4.68L4.4 5.13A1.29 1.29 0 1 0 2.15 6.4z" fill="#5cc4a6"/>
<path d="M1.75 5.76A1.32 1.32 0 1 1 4.05 4.46L4.28 4.9A1.3 1.3 0 1 0 2.02 6.19z" fill="#51c2ad"/>
<path d="M1.62 5.55A1.33 1.33 0 1 1 3.94 4.23L4.16 4.68A1.31 1.31 0 1 0 1.88 5.97z" fill="#47c0b3"/>
<path d="M1.49 5.34A1.35 1.35 0 1 1 3.83 4.02L4.05 4.46A1.32 1.32 0 1 0 1.75 5.76z" fill="#3ebeb9"/>
<path d="M1.36 5.14A1.36 1.36 0 1 1 3.72 3.8L3.94 4.23A1.33 1.33 0 1 0 1.62 5.55z" fill="#36bcbf"/>
<path d="M1.23 4.94A1.37 1.37 0 1 1 3.61 3.59L3.83 4.02A1.35 1.35 0 1 0 1.49 5.34z" fill="#2fb9c4"/>
<path d="M1.11 4.74A1.38 1.38 0 1 1 3.5 3.38L3.72 3.8A1.36 1.36 0 1 0 1.36 5.14z" fill="#2bb7c8"/>
<path d="M0.98 4.55A1.39 1.39 0 1 1 3.4 3.17L3.61 3.59A1.37 1.37 0 1 0 1.23 4.94z" fill="#29b4cd"/>
<path d="M0.86 4.35A1.4 1.4 0 1 1 3.3 2.97L3.5 3.38A1.38 1.38 0 1 0 1.11 4.74z" fill="#29b1d1"/>
<path d="M0.74 4.17A1.41 1.41 0 1 1 3.2 2.77L3.4 3.17A1.39 1.39 0 1 0 0.98 4.55z" fill="#29aed4"/>
<path d="M0.6 3.94A1.43 1.43 0 1 1 3.08 2.53L3.3 2.97A1.4 1.4 0 1 0 0.86 4.35z" fill="#2aaad6"/>
<path d="M0.46 3.72A1.44 1.44 0 1 1 2.96 2.3L3.2 2.77A1.41 1.41 0 1 0 0.74 4.17z" fill="#2ca5d8"/>
<path d="M0.32 3.5A1.45 1.45 0 1 1 2.84 2.07L3.08 2.53A1.43 1.43 0 1 0 0.6 3.94z" fill="#319fd8"/>
<path d="M0.19 3.3A1.47 1.47 0 1 1 2.73 1.85L2.96 2.3A1.44 1.44 0 1 0 0.46 3.72z" fill="#349ad9"/>
<path d="M0.06 3.1A1.48 1.48 0 1 1 2.63 1.63L2.84 2.07A1.45 1.45 0 1 0 0.32 3.5z" fill="#3595da"/>
<path d="M-0.07 2.9A1.49 1.49 0 1 1 2.53 1.43L2.73 1.85A1.47 1.47 0 1 0 0.19 3.3z" fill="#3491dc"/>
<path d="M-0.19 2.72A1.51 1.51 0 1 1 2.43 1.23L2.63 1.63A1.48 1.48 0 1 0 0.06 3.1z" fill="#328ddf"/>
<path d="M-0.33 2.5A1.52 1.52 0 1 1 2.32 1L2.53 1.43A1.49 1.49 0 1 0 -0.07 2.9z" fill="#2f89e1"/>
<path d="M-0.47 2.3A1.54 1.54 0 1 1 2.21 0.78L2.43 1.23A1.51 1.51 0 1 0 -0.19 2.72z" fill="#2a84e3"/>
<path d="M-0.6 2.11A1.56 1.56 0 1 1 2.11 0.57L2.32 1A1.52 1.52 0 1 0 -0.33 2.5z" fill="#247ee4"/>
<path d="M-0.75 1.89A1.58 1.58 0 1 1 2 0.33L2.21 0.78A1.54 1.54 0 1 0 -0.47 2.3z" fill="#2078e5"/>
<path d="M-0.88 1.69A1.6 1.6 0 1 1 1.9 0.11L2.11 0.57A1.56 1.56 0 1 0 -0.6 2.11z" fill="#2670e2"/>
<path d="M-1.03 1.47A1.63 1.63 0 1 1 1.8-0.13L2 0.33A1.58 1.58 0 1 0 -0.75 1.89z" fill="#3664d8"/>
<path d="M-1.2 1.26A1.66 1.66 0 1 1 1.69-0.38L1.9 0.11A1.6 1.6 0 1 0 -0.88 1.69z" fill="#3d53ca"/>
<path d="M-1.36 1.06A1.7 1.7 0 1 1 1.61-0.62L1.8-0.13A1.63 1.63 0 1 0 -1.03 1.47z" fill="#4049be"/>
<path d="M-1.54 0.99A1.83 1.83 0 1 1 1.64-0.82L1.69-0.38A1.66 1.66 0 1 0 -1.2 1.26z" fill="#3e3db2"/>
<path d="M-1.48 1.23A1.9 1.9 0 1 1 1.82-0.64L1.61-0.62A1.7 1.7 0 1 0 -1.36 1.06z" fill="#352fa4"/>
<path d="M-1.39 1.47A1.94 1.94 0 1 1 1.98-0.44L1.64-0.82A1.83 1.83 0 1 0 -1.54 0.99z" fill="#3a34a7"/>
<path d="M-1.3 1.71A1.97 1.97 0 1 1 2.13-0.24L1.82-0.64A1.9 1.9 0 1 0 -1.48 1.23z" fill="#3e3fb4"/>
<path d="M-1.21 1.92A2 2 0 1 1 2.27-0.06L1.98-0.44A1.94 1.94 0 1 0 -1.39 1.47z" fill="#3e49c0"/>
<path d="M-1.11 2.15A2.03 2.03 0 1 1 2.41 0.15L2.13-0.24A1.97 1.97 0 1 0 -1.3 1.71z" fill="#3b51ca"/>
<path d="M-1 2.39A2.05 2.05 0 1 1 2.57 0.36L2.27-0.06A2 2 0 1 0 -1.21 1.92z" fill="#3360d7"/>
<path d="M-0.91 2.59A2.08 2.08 0 1 1 2.69 0.54L2.41 0.15A2.03 2.03 0 1 0 -1.11 2.15z" fill="#226be1"/>
<path d="M-0.82 2.8A2.1 2.1 0 1 1 2.82 0.73L2.57 0.36A2.05 2.05 0 1 0 -1 2.39z" fill="#1973e4"/>
<path d="M-0.73 3.01A2.12 2.12 0 1 1 2.96 0.92L2.69 0.54A2.08 2.08 0 1 0 -0.91 2.59z" fill="#1a78e3"/>
<path d="M-0.63 3.22A2.14 2.14 0 1 1 3.09 1.11L2.82 0.73A2.1 2.1 0 1 0 -0.82 2.8z" fill="#1e7de2"/>
<path d="M-0.54 3.43A2.16 2.16 0 1 1 3.22 1.3L2.96 0.92A2.12 2.12 0 1 0 -0.73 3.01z" fill="#2381e0"/>
<path d="M-0.44 3.64A2.18 2.18 0 1 1 3.35 1.48L3.09 1.11A2.14 2.14 0 1 0 -0.63 3.22z" fill="#2685de"/>
<path d="M-0.35 3.84A2.2 2.2 0 1 1 3.48 1.67L3.22 1.3A2.16 2.16 0 1 0 -0.54 3.43z" fill="#2989db"/>
<path d="M-0.24 4.09A2.23 2.23 0 1 1 3.63 1.88L3.35 1.48A2.18 2.18 0 1 0 -0.44 3.64z" fill="#298dd9"/>
<path d="M-0.15 4.31A2.26 2.26 0 1 1 3.78 2.09L3.48 1.67A2.2 2.2 0 1 0 -0.35 3.84z" fill="#2891d7"/>
<path d="M-0.06 4.53A2.28 2.28 0 1 1 3.92 2.27L3.63 1.88A2.23 2.23 0 1 0 -0.24 4.09z" fill="#2596d6"/>
<path d="M0.04 4.76A2.32 2.32 0 1 1 4.07 2.48L3.78 2.09A2.26 2.26 0 1 0 -0.15 4.31z" fill="#1f9bd5"/>
<path d="M0.13 5.01A2.36 2.36 0 1 1 4.23 2.68L3.92 2.27A2.28 2.28 0 1 0 -0.06 4.53z" fill="#19a0d4"/>
<path d="M0.2 5.25A2.43 2.43 0 1 1 4.41 2.86L4.07 2.48A2.32 2.32 0 1 0 0.04 4.76z" fill="#14a3d1"/>
<path d="M0.01 5.26A2.59 2.59 0 1 1 4.51 2.7L4.23 2.68A2.36 2.36 0 1 0 0.13 5.01z" fill="#0ea6cc"/>
<path d="M-0.18 5.08A2.67 2.67 0 1 1 4.45 2.44L4.41 2.86A2.43 2.43 0 1 0 0.2 5.25z" fill="#07a4ca"/>
<path d="M-0.34 4.91A2.72 2.72 0 1 1 4.39 2.22L4.51 2.7A2.59 2.59 0 1 0 0.01 5.26z" fill="#0da4ce"/>
<path d="M-0.51 4.71A2.77 2.77 0 1 1 4.31 1.98L4.45 2.44A2.67 2.67 0 1 0 -0.18 5.08z" fill="#10a0d1"/>
<path d="M-0.66 4.54A2.81 2.81 0 1 1 4.23 1.76L4.39 2.22A2.72 2.72 0 1 0 -0.34 4.91z" fill="#149cd3"/>
<path d="M-0.81 4.35A2.86 2.86 0 1 1 4.15 1.53L4.31 1.98A2.77 2.77 0 1 0 -0.51 4.71z" fill="#1a96d4"/>
<path d="M-0.97 4.16A2.9 2.9 0 1 1 4.07 1.3L4.23 1.76A2.81 2.81 0 1 0 -0.66 4.54z" fill="#1e91d5"/>
<path d="M-1.13 3.96A2.94 2.94 0 1 1 3.98 1.06L4.15 1.53A2.86 2.86 0 1 0 -0.81 4.35z" fill="#208cd6"/>
<path d="M-1.29 3.76A2.98 2.98 0 1 1 3.89 0.82L4.07 1.3A2.9 2.9 0 1 0 -0.97 4.16z" fill="#2087d8"/>
<path d="M-1.45 3.57A3.02 3.02 0 1 1 3.81 0.58L3.98 1.06A2.94 2.94 0 1 0 -1.13 3.96z" fill="#1e82db"/>
<path d="M-1.6 3.38A3.07 3.07 0 1 1 3.73 0.35L3.89 0.82A2.98 2.98 0 1 0 -1.29 3.76z" fill="#1a7ddd"/>
<path d="M-1.75 3.2A3.11 3.11 0 1 1 3.65 0.13L3.81 0.58A3.02 3.02 0 1 0 -1.45 3.57z" fill="#1579e0"/>
<path d="M-1.93 3A3.16 3.16 0 1 1 3.56-0.12L3.73 0.35A3.07 3.07 0 1 0 -1.6 3.38z" fill="#1074e2"/>
<path d="M-2.1 2.81A3.21 3.21 0 1 1 3.49-0.36L3.65 0.13A3.11 3.11 0 1 0 -1.75 3.2z" fill="#0e6de2"/>
<path d="M-2.29 2.61A3.28 3.28 0 1 1 3.41-0.63L3.56-0.12A3.16 3.16 0 1 0 -1.93 3z" fill="#1565e0"/>
<path d="M-2.46 2.44A3.34 3.34 0 1 1 3.35-0.86L3.49-0.36A3.21 3.21 0 1 0 -2.1 2.81z" fill="#2859d6"/>
<path d="M-2.64 2.28A3.43 3.43 0 1 1 3.31-1.1L3.41-0.63A3.28 3.28 0 1 0 -2.29 2.61z" fill="#3249c7"/>
<path d="M-2.88 2.12A3.55 3.55 0 1 1 3.3-1.39L3.35-0.86A3.34 3.34 0 1 0 -2.46 2.44z" fill="#3640bd"/>
<path d="M-3.11 2.05A3.71 3.71 0 1 1 3.35-1.62L3.31-1.1A3.43 3.43 0 1 0 -2.64 2.28z" fill="#3738b1"/>
<path d="M-3.28 2.06A3.87 3.87 0 1 1 3.45-1.77L3.3-1.39A3.55 3.55 0 1 0 -2.88 2.12z" fill="#3530a5"/>
<path d="M-3.41 2.1A4 4 0 1 1 3.55-1.85L3.35-1.62A3.71 3.71 0 1 0 -3.11 2.05z" fill="#342b9e"/>
<path d="M-3.41 2.1A4 4 0 1 1 3.55-1.85L3.45-1.77A3.87 3.87 0 1 0 -3.28 2.06z" fill="#33299b"/>
</g>
<path d="M318.6 135.2L318.6 192.7L352.5 222.7L412.2 205.5M318.6 192.7h1.6M318.6 163.9h1.6M318.6 135.2h1.6" stroke="#6e6e6e" stroke-width="1.1" fill="none"/>
<text x="314.6" y="193.3" text-anchor="end" font-size="9.3" fill="#2c2c2c">0</text>
<text x="314.6" y="164.5" text-anchor="end" font-size="9.3" fill="#2c2c2c">1200</text>
<text x="314.6" y="135.8" text-anchor="end" font-size="9.3" fill="#2c2c2c">2400</text>
<text x="313.3" y="204.1" text-anchor="end" font-size="9.3" fill="#2c2c2c">4</text>
<text x="321.8" y="211.6" text-anchor="end" font-size="9.3" fill="#2c2c2c">2</text>
<text x="330.2" y="219.1" text-anchor="end" font-size="9.3" fill="#2c2c2c">0</text>
<text x="338.7" y="226.6" text-anchor="end" font-size="9.3" fill="#2c2c2c">-2</text>
<text x="347.2" y="234.1" text-anchor="end" font-size="9.3" fill="#2c2c2c">-4</text>
<text x="361.1" y="235.1" text-anchor="middle" font-size="9.3" fill="#2c2c2c">-4</text>
<text x="376" y="230.8" text-anchor="middle" font-size="9.3" fill="#2c2c2c">-2</text>
<text x="388" y="226.5" text-anchor="middle" font-size="9.3" fill="#2c2c2c">0</text>
<text x="402.9" y="222.2" text-anchor="middle" font-size="9.3" fill="#2c2c2c">2</text>
<text x="417.8" y="217.9" text-anchor="middle" font-size="9.3" fill="#2c2c2c">4</text>
<text x="321.9" y="224.5" text-anchor="middle" font-size="9.3" fill="#2c2c2c">y</text>
<text x="394" y="232.4" text-anchor="middle" font-size="9.3" fill="#2c2c2c">x</text>
<text x="399.1" y="155.8" text-anchor="middle" font-size="9.2" fill="#2c2c2c">z=30</text>
<rect x="448.1" y="129.9" width="81.3" height="77.6" fill="#fff" stroke="#8c8c8c" stroke-width="1"/>
<path d="M448.1 207.5v-1.6M448.1 129.9v1.6M468.4 207.5v-1.6M468.4 129.9v1.6M488.8 207.5v-1.6M488.8 129.9v1.6M509.1 207.5v-1.6M509.1 129.9v1.6M529.4 207.5v-1.6M529.4 129.9v1.6M448.1 207.5h1.6M529.4 207.5h-1.6M448.1 168.7h1.6M529.4 168.7h-1.6M448.1 129.9h1.6M529.4 129.9h-1.6" stroke="#8c8c8c" stroke-width="0.8" fill="none"/>
<path d="M448.1 207.4L448.6 207.3L449.1 207.2L449.6 207.2L450.1 207L450.6 206.9L451.1 206.6L451.7 206.4L452.2 206L452.7 205.6L453.2 205.1L453.7 204.5L454.2 203.7L454.7 202.8L455.2 201.8L455.7 200.7L456.2 199.4L456.7 198L457.2 196.4L457.8 194.8L458.3 193.1L458.8 191.3L459.3 189.5L459.8 187.8L460.3 186.1L460.8 184.5L461.3 183.2L461.8 182L462.3 181.1L462.8 180.4L463.3 180.1L463.9 180.1L464.4 180.7L464.9 182.1L465.4 184L465.9 186.5L466.4 189.4L466.9 192.5L467.4 195.7L467.9 198.7L468.4 201.5L468.9 203.9L469.4 205.8L469.9 207L470.5 207.5L471 207L471.5 205.2L472 202.1L472.5 197.8L473 192.4L473.5 186.2L474 179.4L474.5 172.2L475 165.1L475.5 158.1L476 151.6L476.6 145.9L477.1 141.1L477.6 137.5L478.1 135.1L478.6 134.1L479.1 134.5L479.6 136.1L480.1 138.9L480.6 142.8L481.1 147.6L481.6 153.2L482.1 159.5L482.7 166.1L483.2 172.8L483.7 179.5L484.2 185.9L484.7 191.8L485.2 197L485.7 201.3L486.2 204.5L486.7 206.6L487.2 207.5L487.7 207.5L488.2 207.5L488.8 207.5L489.3 207.5L489.8 207.5L490.3 207.5L490.8 206.6L491.3 204.5L491.8 201.3L492.3 197L492.8 191.8L493.3 185.9L493.8 179.5L494.3 172.8L494.8 166.1L495.4 159.5L495.9 153.2L496.4 147.6L496.9 142.8L497.4 138.9L497.9 136.1L498.4 134.5L498.9 134.1L499.4 135.1L499.9 137.5L500.4 141.1L500.9 145.9L501.5 151.6L502 158.1L502.5 165.1L503 172.2L503.5 179.4L504 186.2L504.5 192.4L505 197.8L505.5 202.1L506 205.2L506.5 207L507 207.5L507.6 207L508.1 205.8L508.6 203.9L509.1 201.5L509.6 198.7L510.1 195.7L510.6 192.5L511.1 189.4L511.6 186.5L512.1 184L512.6 182.1L513.1 180.7L513.6 180.1L514.2 180.1L514.7 180.4L515.2 181.1L515.7 182L516.2 183.2L516.7 184.5L517.2 186.1L517.7 187.8L518.2 189.5L518.7 191.3L519.2 193.1L519.7 194.8L520.3 196.4L520.8 198L521.3 199.4L521.8 200.7L522.3 201.8L522.8 202.8L523.3 203.7L523.8 204.5L524.3 205.1L524.8 205.6L525.3 206L525.8 206.4L526.4 206.6L526.9 206.9L527.4 207L527.9 207.2L528.4 207.2L528.9 207.3L529.4 207.4" stroke="#ff22f6" stroke-width="2.1" fill="none" stroke-linejoin="round"/>
<path d="M448.1 207.4L448.6 207.3L449.1 207.2L449.6 207.2L450.1 207L450.6 206.9L451.1 206.6L451.7 206.4L452.2 206L452.7 205.6L453.2 205.1L453.7 204.5L454.2 203.7L454.7 202.8L455.2 201.8L455.7 200.7L456.2 199.4L456.7 198L457.2 196.4L457.8 194.8L458.3 193.1L458.8 191.3L459.3 189.5L459.8 187.8L460.3 186.1L460.8 184.5L461.3 183.2L461.8 182L462.3 181.1L462.8 180.4L463.3 180.1L463.9 180.1L464.4 180.7L464.9 182.1L465.4 184L465.9 186.5L466.4 189.4L466.9 192.5L467.4 195.7L467.9 198.7L468.4 201.5L468.9 203.9L469.4 205.8L469.9 207L470.5 207.5L471 207L471.5 205.2L472 202.1L472.5 197.8L473 192.4L473.5 186.2L474 179.4L474.5 172.2L475 165.1L475.5 158.1L476 151.6L476.6 145.9L477.1 141.1L477.6 137.5L478.1 135.1L478.6 134.1L479.1 134.5L479.6 136.1L480.1 138.9L480.6 142.8L481.1 147.6L481.6 153.2L482.1 159.5L482.7 166.1L483.2 172.8L483.7 179.5L484.2 185.9L484.7 191.8L485.2 197L485.7 201.3L486.2 204.5L486.7 206.6L487.2 207.5L487.7 207.5L488.2 207.5L488.8 207.5L489.3 207.5L489.8 207.5L490.3 207.5L490.8 206.6L491.3 204.5L491.8 201.3L492.3 197L492.8 191.8L493.3 185.9L493.8 179.5L494.3 172.8L494.8 166.1L495.4 159.5L495.9 153.2L496.4 147.6L496.9 142.8L497.4 138.9L497.9 136.1L498.4 134.5L498.9 134.1L499.4 135.1L499.9 137.5L500.4 141.1L500.9 145.9L501.5 151.6L502 158.1L502.5 165.1L503 172.2L503.5 179.4L504 186.2L504.5 192.4L505 197.8L505.5 202.1L506 205.2L506.5 207L507 207.5L507.6 207L508.1 205.8L508.6 203.9L509.1 201.5L509.6 198.7L510.1 195.7L510.6 192.5L511.1 189.4L511.6 186.5L512.1 184L512.6 182.1L513.1 180.7L513.6 180.1L514.2 180.1L514.7 180.4L515.2 181.1L515.7 182L516.2 183.2L516.7 184.5L517.2 186.1L517.7 187.8L518.2 189.5L518.7 191.3L519.2 193.1L519.7 194.8L520.3 196.4L520.8 198L521.3 199.4L521.8 200.7L522.3 201.8L522.8 202.8L523.3 203.7L523.8 204.5L524.3 205.1L524.8 205.6L525.3 206L525.8 206.4L526.4 206.6L526.9 206.9L527.4 207L527.9 207.2L528.4 207.2L528.9 207.3L529.4 207.4" stroke="#4a38f4" stroke-width="2.1" fill="none" stroke-dasharray="3.8 3.8" stroke-linejoin="round"/>
<text x="448.6" y="220.7" text-anchor="middle" font-size="9.8" fill="#2c2c2c">-4</text>
<text x="468.9" y="220.7" text-anchor="middle" font-size="9.8" fill="#2c2c2c">-2</text>
<text x="488.8" y="220.7" text-anchor="middle" font-size="9.8" fill="#2c2c2c">0</text>
<text x="509.1" y="220.7" text-anchor="middle" font-size="9.8" fill="#2c2c2c">2</text>
<text x="529.4" y="220.7" text-anchor="middle" font-size="9.8" fill="#2c2c2c">4</text>
<text x="446.3" y="210.9" text-anchor="end" font-size="9.8" fill="#2c2c2c">0</text>
<text x="444.5" y="172.1" text-anchor="end" font-size="9.8" fill="#2c2c2c">1200</text>
<text x="444.5" y="133.3" text-anchor="end" font-size="9.8" fill="#2c2c2c">2400</text>
<text x="488.8" y="234.1" text-anchor="middle" font-size="9.8" fill="#2c2c2c">x</text>
<path d="M78 306.2v-57.5M92.9 301.9v-57.5M107.8 297.6v-57.5M122.7 293.3v-57.5M131.2 300.8v-57.5M139.7 308.3v-57.5M148.2 315.8v-57.5M156.6 323.3v-57.5M63 310.5L122.7 293.3L156.6 323.3M63 291.3L122.7 274.1L156.6 304.1M63 272.2L122.7 255L156.6 285M63 253L122.7 235.8L156.6 265.8M71.5 318L131.2 300.8M78 306.2L111.9 336.2M80 325.5L139.7 308.3M92.9 301.9L126.8 331.9M88.5 333L148.2 315.8M107.8 297.6L141.7 327.6" stroke="#e4e4e4" stroke-width="0.8" fill="none"/>
<path d="M63 310.5L96.9 340.5L156.6 323.3L122.7 293.3z" fill="#322798"/>
<g transform="matrix(7.4625 -2.1500 -4.2375 -3.7500 109.85 316.9)">
<path d="M3.44-2.04A4 4 0 1 1 -3.52 1.91L-3.23 1.87A3.73 3.73 0 1 0 3.26-1.81z" fill="#33299c"/>
<path d="M3.36-1.96A3.89 3.89 0 1 1 -3.4 1.88L-3.02 1.9A3.57 3.57 0 1 0 3.18-1.62z" fill="#332b9f"/>
<path d="M3.26-1.81A3.73 3.73 0 1 1 -3.23 1.87L-2.79 1.98A3.41 3.41 0 1 0 3.13-1.38z" fill="#342ea4"/>
<path d="M3.18-1.62A3.57 3.57 0 1 1 -3.02 1.9L-2.53 2.11A3.25 3.25 0 1 0 3.11-1.09z" fill="#3433ac"/>
<path d="M3.13-1.38A3.41 3.41 0 1 1 -2.79 1.98L-2.31 2.25A3.12 3.12 0 1 0 3.11-0.83z" fill="#3439b6"/>
<path d="M3.11-1.09A3.25 3.25 0 1 1 -2.53 2.11L-2.09 2.38A2.99 2.99 0 1 0 3.12-0.57z" fill="#3040c0"/>
<path d="M3.11-0.83A3.12 3.12 0 1 1 -2.31 2.25L-1.82 2.52A2.83 2.83 0 1 0 3.1-0.27z" fill="#2a4eca"/>
<path d="M3.12-0.57A2.99 2.99 0 1 1 -2.09 2.38L-1.61 2.58A2.67 2.67 0 1 0 3.04-0.06z" fill="#1958d9"/>
<path d="M3.1-0.27A2.83 2.83 0 1 1 -1.82 2.52L-1.47 2.5A2.51 2.51 0 1 0 2.9 0.02z" fill="#0a60df"/>
<path d="M3.04-0.06A2.67 2.67 0 1 1 -1.61 2.58L-1.46 2.19A2.35 2.35 0 1 0 2.63-0.13z" fill="#0462e1"/>
<path d="M2.9 0.02A2.51 2.51 0 1 1 -1.47 2.5L-1.5 1.96A2.27 2.27 0 1 0 2.45-0.28z" fill="#0e5ede"/>
<path d="M2.63-0.13A2.35 2.35 0 1 1 -1.46 2.19L-1.55 1.7A2.19 2.19 0 1 0 2.25-0.46z" fill="#2354d3"/>
<path d="M2.45-0.28A2.27 2.27 0 1 1 -1.5 1.96L-1.6 1.44A2.11 2.11 0 1 0 2.06-0.64z" fill="#2e45c5"/>
<path d="M2.25-0.46A2.19 2.19 0 1 1 -1.55 1.7L-1.64 1.22A2.03 2.03 0 1 0 1.88-0.78z" fill="#333dbb"/>
<path d="M2.06-0.64A2.11 2.11 0 1 1 -1.6 1.44L-1.6 0.95A1.87 1.87 0 1 0 1.64-0.89z" fill="#3536b1"/>
<path d="M1.88-0.78A2.03 2.03 0 1 1 -1.64 1.22L-1.34 1.09A1.71 1.71 0 1 0 1.62-0.59z" fill="#3430a8"/>
<path d="M1.64-0.89A1.87 1.87 0 1 1 -1.6 0.95L-1.16 1.28A1.64 1.64 0 1 0 1.69-0.34z" fill="#3531aa"/>
<path d="M1.62-0.59A1.71 1.71 0 1 1 -1.34 1.09L-0.99 1.46A1.59 1.59 0 1 0 1.77-0.1z" fill="#353ab5"/>
<path d="M1.69-0.34A1.64 1.64 0 1 1 -1.16 1.28L-0.82 1.66A1.53 1.53 0 1 0 1.85 0.15z" fill="#3341bf"/>
<path d="M1.77-0.1A1.59 1.59 0 1 1 -0.99 1.46L-0.65 1.86A1.48 1.48 0 1 0 1.93 0.39z" fill="#2d48c8"/>
<path d="M1.85 0.15A1.53 1.53 0 1 1 -0.82 1.66L-0.49 2.03A1.43 1.43 0 1 0 2 0.62z" fill="#2058d7"/>
<path d="M1.93 0.39A1.48 1.48 0 1 1 -0.65 1.86L-0.32 2.19A1.36 1.36 0 1 0 2.05 0.85z" fill="#0d62e0"/>
<path d="M2 0.62A1.43 1.43 0 1 1 -0.49 2.03L-0.15 2.17A1.2 1.2 0 1 0 1.94 0.98z" fill="#0568e1"/>
<path d="M2.05 0.85A1.36 1.36 0 1 1 -0.32 2.19L-0.21 1.9A1.12 1.12 0 1 0 1.74 0.79z" fill="#036ae1"/>
<path d="M1.94 0.98A1.2 1.2 0 1 1 -0.15 2.17L-0.29 1.66A1.07 1.07 0 1 0 1.57 0.6z" fill="#0569e1"/>
<path d="M1.74 0.79A1.12 1.12 0 1 1 -0.21 1.9L-0.36 1.44A1.03 1.03 0 1 0 1.43 0.43z" fill="#0d62e0"/>
<path d="M1.57 0.6A1.07 1.07 0 1 1 -0.29 1.66L-0.44 1.23A0.99 0.99 0 1 0 1.28 0.25z" fill="#1f59d8"/>
<path d="M1.43 0.43A1.03 1.03 0 1 1 -0.36 1.44L-0.52 0.97A0.93 0.93 0 1 0 1.1 0.05z" fill="#2d50cb"/>
<path d="M1.28 0.25A0.99 0.99 0 1 1 -0.44 1.23L-0.59 0.72A0.87 0.87 0 1 0 0.92-0.13z" fill="#3244c2"/>
<path d="M1.1 0.05A0.93 0.93 0 1 1 -0.52 0.97L-0.44 0.72A0.74 0.74 0 1 0 0.85-0.01z" fill="#343dbb"/>
<path d="M0.92-0.13A0.87 0.87 0 1 1 -0.59 0.72L-0.28 0.92A0.7 0.7 0 1 0 0.94 0.23z" fill="#313cbc"/>
<path d="M0.85-0.01A0.74 0.74 0 1 1 -0.44 0.72L-0.14 1.12A0.67 0.67 0 1 0 1.03 0.45z" fill="#2e49c8"/>
<path d="M0.94 0.23A0.7 0.7 0 1 1 -0.28 0.92L-0.01 1.31A0.65 0.65 0 1 0 1.12 0.66z" fill="#215cd9"/>
<path d="M1.03 0.45A0.67 0.67 0 1 1 -0.14 1.12L0.14 1.53A0.63 0.63 0 1 0 1.24 0.91z" fill="#1266e1"/>
<path d="M1.12 0.66A0.65 0.65 0 1 1 -0.01 1.31L0.28 1.73A0.61 0.61 0 1 0 1.34 1.12z" fill="#0e6ee2"/>
<path d="M1.24 0.91A0.63 0.63 0 1 1 0.14 1.53L0.42 1.94A0.59 0.59 0 1 0 1.45 1.36z" fill="#1275e2"/>
<path d="M1.34 1.12A0.61 0.61 0 1 1 0.28 1.73L0.54 2.13A0.58 0.58 0 1 0 1.55 1.56z" fill="#187ae0"/>
<path d="M1.45 1.36A0.59 0.59 0 1 1 0.42 1.94L0.67 2.33A0.57 0.57 0 1 0 1.66 1.77z" fill="#1d7fdd"/>
<path d="M1.55 1.56A0.58 0.58 0 1 1 0.54 2.13L0.81 2.54A0.55 0.55 0 1 0 1.77 2z" fill="#2083db"/>
<path d="M1.66 1.77A0.57 0.57 0 1 1 0.67 2.33L0.95 2.76A0.54 0.54 0 1 0 1.89 2.23z" fill="#2287d9"/>
<path d="M1.77 2A0.55 0.55 0 1 1 0.81 2.54L1.06 2.94A0.53 0.53 0 1 0 1.98 2.42z" fill="#228cd7"/>
<path d="M1.89 2.23A0.54 0.54 0 1 1 0.95 2.76L1.18 3.13A0.52 0.52 0 1 0 2.08 2.62z" fill="#2190d5"/>
<path d="M1.98 2.42A0.53 0.53 0 1 1 1.06 2.94L1.31 3.33A0.51 0.51 0 1 0 2.19 2.83z" fill="#1e95d5"/>
<path d="M2.08 2.62A0.52 0.52 0 1 1 1.18 3.13L1.43 3.52A0.5 0.5 0 1 0 2.29 3.04z" fill="#1a9ad4"/>
<path d="M2.19 2.83A0.51 0.51 0 1 1 1.31 3.33L1.56 3.73A0.48 0.48 0 1 0 2.4 3.25z" fill="#179fd3"/>
<path d="M2.29 3.04A0.5 0.5 0 1 1 1.43 3.52L1.69 3.93A0.47 0.47 0 1 0 2.51 3.47z" fill="#15a4d1"/>
<path d="M2.4 3.25A0.48 0.48 0 1 1 1.56 3.73L1.82 4.14A0.46 0.46 0 1 0 2.63 3.69z" fill="#15a8cf"/>
<path d="M2.51 3.47A0.47 0.47 0 1 1 1.69 3.93L1.96 4.36A0.45 0.45 0 1 0 2.74 3.91z" fill="#15abcb"/>
<path d="M2.63 3.69A0.46 0.46 0 1 1 1.82 4.14L2.09 4.57A0.44 0.44 0 1 0 2.86 4.14z" fill="#16aec6"/>
<path d="M2.74 3.91A0.45 0.45 0 1 1 1.96 4.36L2.23 4.79A0.43 0.43 0 1 0 2.97 4.37z" fill="#18b1c2"/>
<path d="M2.86 4.14A0.44 0.44 0 1 1 2.09 4.57L2.37 5.01A0.42 0.42 0 1 0 3.09 4.6z" fill="#1fb4bc"/>
<path d="M2.97 4.37A0.43 0.43 0 1 1 2.23 4.79L2.5 5.24A0.41 0.41 0 1 0 3.21 4.83z" fill="#26b6b7"/>
<path d="M3.09 4.6A0.42 0.42 0 1 1 2.37 5.01L2.64 5.46A0.4 0.4 0 1 0 3.33 5.07z" fill="#2fb9b1"/>
<path d="M3.21 4.83A0.41 0.41 0 1 1 2.5 5.24L2.78 5.68A0.39 0.39 0 1 0 3.45 5.3z" fill="#39bbaa"/>
<path d="M3.33 5.07A0.4 0.4 0 1 1 2.64 5.46L2.92 5.91A0.37 0.37 0 1 0 3.57 5.54z" fill="#44bda3"/>
<path d="M3.45 5.3A0.39 0.39 0 1 1 2.78 5.68L3.06 6.13A0.36 0.36 0 1 0 3.69 5.77z" fill="#51bf9c"/>
<path d="M3.57 5.54A0.37 0.37 0 1 1 2.92 5.91L3.2 6.35A0.35 0.35 0 1 0 3.81 6z" fill="#60c194"/>
<path d="M3.69 5.77A0.36 0.36 0 1 1 3.06 6.13L3.34 6.57A0.34 0.34 0 1 0 3.93 6.23z" fill="#6fc28d"/>
<path d="M3.81 6A0.35 0.35 0 1 1 3.2 6.35L3.48 6.79A0.33 0.33 0 1 0 4.05 6.46z" fill="#7ec386"/>
<path d="M3.93 6.23A0.34 0.34 0 1 1 3.34 6.57L3.61 7.01A0.32 0.32 0 1 0 4.17 6.69z" fill="#8cc380"/>
<path d="M4.05 6.46A0.33 0.33 0 1 1 3.48 6.79L3.75 7.22A0.31 0.31 0 1 0 4.28 6.92z" fill="#99c37b"/>
<path d="M4.17 6.69A0.32 0.32 0 1 1 3.61 7.01L3.88 7.43A0.3 0.3 0 1 0 4.39 7.14z" fill="#a5c276"/>
<path d="M4.28 6.92A0.31 0.31 0 1 1 3.75 7.22L4.01 7.64A0.29 0.29 0 1 0 4.51 7.36z" fill="#b0c271"/>
<path d="M4.39 7.14A0.3 0.3 0 1 1 3.88 7.43L4.14 7.84A0.28 0.28 0 1 0 4.61 7.57z" fill="#bbc16d"/>
<path d="M4.51 7.36A0.29 0.29 0 1 1 4.01 7.64L4.26 8.04A0.26 0.26 0 1 0 4.72 7.78z" fill="#c5c069"/>
<path d="M4.61 7.57A0.28 0.28 0 1 1 4.14 7.84L4.38 8.23A0.25 0.25 0 1 0 4.82 7.98z" fill="#cfbf65"/>
<path d="M4.72 7.78A0.26 0.26 0 1 1 4.26 8.04L4.5 8.42A0.24 0.24 0 1 0 4.93 8.18z" fill="#d8bf61"/>
<path d="M4.82 7.98A0.25 0.25 0 1 1 4.38 8.23L4.62 8.61A0.23 0.23 0 1 0 5.02 8.38z" fill="#e1be5d"/>
<path d="M4.93 8.18A0.24 0.24 0 1 1 4.5 8.42L4.76 8.83A0.22 0.22 0 1 0 5.14 8.61z" fill="#eabd59"/>
<path d="M5.02 8.38A0.23 0.23 0 1 1 4.62 8.61L4.9 9.04A0.2 0.2 0 1 0 5.25 8.83z" fill="#f3be54"/>
<path d="M5.14 8.61A0.22 0.22 0 1 1 4.76 8.83L5.03 9.23A0.19 0.19 0 1 0 5.36 9.05z" fill="#fbc04c"/>
<path d="M5.25 8.83A0.2 0.2 0 1 1 4.9 9.04L5.15 9.42A0.18 0.18 0 1 0 5.45 9.25z" fill="#fec545"/>
<path d="M5.36 9.05A0.19 0.19 0 1 1 5.03 9.23L5.29 9.64A0.16 0.16 0 1 0 5.57 9.48z" fill="#fecb3f"/>
<path d="M5.45 9.25A0.18 0.18 0 1 1 5.15 9.42L5.42 9.84A0.14 0.14 0 1 0 5.67 9.7z" fill="#fcd139"/>
<path d="M5.57 9.48A0.16 0.16 0 1 1 5.29 9.64L5.57 10.06A0.12 0.12 0 1 0 5.78 9.94z" fill="#f9d733"/>
<path d="M5.67 9.7A0.14 0.14 0 1 1 5.42 9.84L5.7 10.24A0.1 0.1 0 1 0 5.87 10.14z" fill="#f6de2d"/>
<path d="M5.78 9.94A0.12 0.12 0 1 1 5.57 10.06L5.86 10.45A0.07 0.07 0 1 0 5.97 10.39z" fill="#f5e526"/>
<path d="M5.87 10.14A0.1 0.1 0 1 1 5.7 10.24z" fill="#f5ed1e"/>
<path d="M5.97 10.39A0.07 0.07 0 1 1 5.86 10.45z" fill="#f8f614"/>
<path d="M5.7 10.24A0.1 0.1 0 1 1 5.88 10.15z" fill="#f8f614"/>
<path d="M5.58 10.06A0.12 0.12 0 1 1 5.78 9.94L5.98 10.39A0.07 0.07 0 1 0 5.86 10.46z" fill="#f5ed1e"/>
<path d="M5.43 9.85A0.14 0.14 0 1 1 5.67 9.71L5.88 10.15A0.1 0.1 0 1 0 5.7 10.24z" fill="#f5e526"/>
<path d="M5.3 9.65A0.16 0.16 0 1 1 5.57 9.49L5.78 9.94A0.12 0.12 0 1 0 5.58 10.06z" fill="#f6de2d"/>
<path d="M5.15 9.43A0.18 0.18 0 1 1 5.46 9.26L5.67 9.71A0.14 0.14 0 1 0 5.43 9.85z" fill="#f9d733"/>
<path d="M5.03 9.24A0.19 0.19 0 1 1 5.36 9.06L5.57 9.49A0.16 0.16 0 1 0 5.3 9.65z" fill="#fcd139"/>
<path d="M4.9 9.05A0.2 0.2 0 1 1 5.26 8.84L5.46 9.26A0.18 0.18 0 1 0 5.15 9.43z" fill="#fecb3f"/>
<path d="M4.77 8.84A0.22 0.22 0 1 1 5.15 8.62L5.36 9.06A0.19 0.19 0 1 0 5.03 9.24z" fill="#fec545"/>
<path d="M4.63 8.62A0.23 0.23 0 1 1 5.03 8.39L5.26 8.84A0.2 0.2 0 1 0 4.9 9.05z" fill="#fbc04c"/>
<path d="M4.51 8.43A0.24 0.24 0 1 1 4.93 8.2L5.15 8.62A0.22 0.22 0 1 0 4.77 8.84z" fill="#f3be54"/>
<path d="M4.39 8.25A0.25 0.25 0 1 1 4.83 8L5.03 8.39A0.23 0.23 0 1 0 4.63 8.62z" fill="#eabd59"/>
<path d="M4.27 8.05A0.26 0.26 0 1 1 4.73 7.79L4.93 8.2A0.24 0.24 0 1 0 4.51 8.43z" fill="#e1be5d"/>
<path d="M4.14 7.86A0.28 0.28 0 1 1 4.62 7.58L4.83 8A0.25 0.25 0 1 0 4.39 8.25z" fill="#d8bf61"/>
<path d="M4.02 7.65A0.29 0.29 0 1 1 4.51 7.37L4.73 7.79A0.26 0.26 0 1 0 4.27 8.05z" fill="#cfbf65"/>
<path d="M3.89 7.45A0.3 0.3 0 1 1 4.4 7.15L4.62 7.58A0.28 0.28 0 1 0 4.14 7.86z" fill="#c5c069"/>
<path d="M3.75 7.24A0.31 0.31 0 1 1 4.29 6.93L4.51 7.37A0.29 0.29 0 1 0 4.02 7.65z" fill="#bbc16d"/>
<path d="M3.62 7.02A0.32 0.32 0 1 1 4.18 6.71L4.4 7.15A0.3 0.3 0 1 0 3.89 7.45z" fill="#b0c271"/>
<path d="M3.49 6.81A0.33 0.33 0 1 1 4.06 6.48L4.29 6.93A0.31 0.31 0 1 0 3.75 7.24z" fill="#a5c276"/>
<path d="M3.35 6.59A0.34 0.34 0 1 1 3.94 6.25L4.18 6.71A0.32 0.32 0 1 0 3.62 7.02z" fill="#99c37b"/>
<path d="M3.21 6.37A0.35 0.35 0 1 1 3.82 6.02L4.06 6.48A0.33 0.33 0 1 0 3.49 6.81z" fill="#8cc380"/>
<path d="M3.07 6.15A0.36 0.36 0 1 1 3.7 5.79L3.94 6.25A0.34 0.34 0 1 0 3.35 6.59z" fill="#7ec386"/>
<path d="M2.93 5.93A0.37 0.37 0 1 1 3.58 5.56L3.82 6.02A0.35 0.35 0 1 0 3.21 6.37z" fill="#6fc28d"/>
<path d="M2.8 5.7A0.39 0.39 0 1 1 3.46 5.32L3.7 5.79A0.36 0.36 0 1 0 3.07 6.15z" fill="#60c194"/>
<path d="M2.66 5.48A0.4 0.4 0 1 1 3.34 5.09L3.58 5.56A0.37 0.37 0 1 0 2.93 5.93z" fill="#51bf9c"/>
<path d="M2.52 5.26A0.41 0.41 0 1 1 3.23 4.86L3.46 5.32A0.39 0.39 0 1 0 2.8 5.7z" fill="#44bda3"/>
<path d="M2.38 5.04A0.42 0.42 0 1 1 3.11 4.62L3.34 5.09A0.4 0.4 0 1 0 2.66 5.48z" fill="#39bbaa"/>
<path d="M2.24 4.82A0.43 0.43 0 1 1 2.99 4.39L3.23 4.86A0.41 0.41 0 1 0 2.52 5.26z" fill="#2fb9b1"/>
<path d="M2.1 4.6A0.44 0.44 0 1 1 2.87 4.16L3.11 4.62A0.42 0.42 0 1 0 2.38 5.04z" fill="#26b6b7"/>
<path d="M1.97 4.38A0.45 0.45 0 1 1 2.75 3.94L2.99 4.39A0.43 0.43 0 1 0 2.24 4.82z" fill="#1fb4bc"/>
<path d="M1.84 4.17A0.46 0.46 0 1 1 2.64 3.71L2.87 4.16A0.44 0.44 0 1 0 2.1 4.6z" fill="#18b1c2"/>
<path d="M1.7 3.96A0.47 0.47 0 1 1 2.53 3.49L2.75 3.94A0.45 0.45 0 1 0 1.97 4.38z" fill="#16aec6"/>
<path d="M1.57 3.75A0.48 0.48 0 1 1 2.42 3.27L2.64 3.71A0.46 0.46 0 1 0 1.84 4.17z" fill="#15abcb"/>
<path d="M1.45 3.55A0.5 0.5 0 1 1 2.31 3.06L2.53 3.49A0.47 0.47 0 1 0 1.7 3.96z" fill="#15a8cf"/>
<path d="M1.32 3.35A0.51 0.51 0 1 1 2.2 2.85L2.42 3.27A0.48 0.48 0 1 0 1.57 3.75z" fill="#15a4d1"/>
<path d="M1.2 3.16A0.52 0.52 0 1 1 2.1 2.65L2.31 3.06A0.5 0.5 0 1 0 1.45 3.55z" fill="#179fd3"/>
<path d="M1.08 2.97A0.53 0.53 0 1 1 2 2.45L2.2 2.85A0.51 0.51 0 1 0 1.32 3.35z" fill="#1a9ad4"/>
<path d="M0.96 2.79A0.54 0.54 0 1 1 1.9 2.26L2.1 2.65A0.52 0.52 0 1 0 1.2 3.16z" fill="#1e95d5"/>
<path d="M0.82 2.57A0.55 0.55 0 1 1 1.79 2.02L2 2.45A0.53 0.53 0 1 0 1.08 2.97z" fill="#2190d5"/>
<path d="M0.69 2.36A0.57 0.57 0 1 1 1.67 1.8L1.9 2.26A0.54 0.54 0 1 0 0.96 2.79z" fill="#228cd7"/>
<path d="M0.56 2.16A0.58 0.58 0 1 1 1.57 1.59L1.79 2.02A0.55 0.55 0 1 0 0.82 2.57z" fill="#2287d9"/>
<path d="M0.44 1.98A0.59 0.59 0 1 1 1.47 1.39L1.67 1.8A0.57 0.57 0 1 0 0.69 2.36z" fill="#2083db"/>
<path d="M0.3 1.76A0.61 0.61 0 1 1 1.36 1.15L1.57 1.59A0.58 0.58 0 1 0 0.56 2.16z" fill="#1d7fdd"/>
<path d="M0.16 1.56A0.63 0.63 0 1 1 1.26 0.94L1.47 1.39A0.59 0.59 0 1 0 0.44 1.98z" fill="#187ae0"/>
<path d="M0.01 1.34A0.65 0.65 0 1 1 1.14 0.7L1.36 1.15A0.61 0.61 0 1 0 0.3 1.76z" fill="#1275e2"/>
<path d="M-0.12 1.15A0.67 0.67 0 1 1 1.05 0.49L1.26 0.94A0.63 0.63 0 1 0 0.16 1.56z" fill="#0e6ee2"/>
<path d="M-0.26 0.96A0.7 0.7 0 1 1 0.96 0.27L1.14 0.7A0.65 0.65 0 1 0 0.01 1.34z" fill="#1266e1"/>
<path d="M-0.42 0.76A0.74 0.74 0 1 1 0.87 0.03L1.05 0.49A0.67 0.67 0 1 0 -0.12 1.15z" fill="#215cd9"/>
<path d="M-0.56 0.77A0.87 0.87 0 1 1 0.95-0.09L0.96 0.27A0.7 0.7 0 1 0 -0.26 0.96z" fill="#2e49c8"/>
<path d="M-0.49 1.02A0.93 0.93 0 1 1 1.13 0.1L0.87 0.03A0.74 0.74 0 1 0 -0.42 0.76z" fill="#313cbc"/>
<path d="M-0.41 1.28A0.99 0.99 0 1 1 1.31 0.3L0.95-0.09A0.87 0.87 0 1 0 -0.56 0.77z" fill="#343dbb"/>
<path d="M-0.33 1.5A1.03 1.03 0 1 1 1.46 0.48L1.13 0.1A0.93 0.93 0 1 0 -0.49 1.02z" fill="#3244c2"/>
<path d="M-0.26 1.71A1.07 1.07 0 1 1 1.6 0.66L1.31 0.3A0.99 0.99 0 1 0 -0.41 1.28z" fill="#2d50cb"/>
<path d="M-0.18 1.96A1.12 1.12 0 1 1 1.77 0.85L1.46 0.48A1.03 1.03 0 1 0 -0.33 1.5z" fill="#1f59d8"/>
<path d="M-0.12 2.23A1.2 1.2 0 1 1 1.98 1.04L1.6 0.66A1.07 1.07 0 1 0 -0.26 1.71z" fill="#0d62e0"/>
<path d="M-0.28 2.26A1.36 1.36 0 1 1 2.09 0.92L1.77 0.85A1.12 1.12 0 1 0 -0.18 1.96z" fill="#0569e1"/>
<path d="M-0.45 2.11A1.43 1.43 0 1 1 2.04 0.7L1.98 1.04A1.2 1.2 0 1 0 -0.12 2.23z" fill="#036ae1"/>
<path d="M-0.6 1.94A1.48 1.48 0 1 1 1.97 0.47L2.09 0.92A1.36 1.36 0 1 0 -0.28 2.26z" fill="#0568e1"/>
<path d="M-0.77 1.74A1.53 1.53 0 1 1 1.89 0.23L2.04 0.7A1.43 1.43 0 1 0 -0.45 2.11z" fill="#0d62e0"/>
<path d="M-0.95 1.55A1.59 1.59 0 1 1 1.81-0.02L1.97 0.47A1.48 1.48 0 1 0 -0.6 1.94z" fill="#2058d7"/>
<path d="M-1.11 1.36A1.64 1.64 0 1 1 1.74-0.26L1.89 0.23A1.53 1.53 0 1 0 -0.77 1.74z" fill="#2d48c8"/>
<path d="M-1.29 1.18A1.71 1.71 0 1 1 1.68-0.5L1.81-0.02A1.59 1.59 0 1 0 -0.95 1.55z" fill="#3341bf"/>
<path d="M-1.55 1.05A1.87 1.87 0 1 1 1.7-0.79L1.74-0.26A1.64 1.64 0 1 0 -1.11 1.36z" fill="#353ab5"/>
<path d="M-1.58 1.32A2.03 2.03 0 1 1 1.94-0.68L1.68-0.5A1.71 1.71 0 1 0 -1.29 1.18z" fill="#3531aa"/>
<path d="M-1.54 1.55A2.11 2.11 0 1 1 2.12-0.53L1.7-0.79A1.87 1.87 0 1 0 -1.55 1.05z" fill="#3430a8"/>
<path d="M-1.49 1.81A2.19 2.19 0 1 1 2.32-0.35L1.94-0.68A2.03 2.03 0 1 0 -1.58 1.32z" fill="#3536b1"/>
<path d="M-1.43 2.08A2.27 2.27 0 1 1 2.52-0.16L2.12-0.53A2.11 2.11 0 1 0 -1.54 1.55z" fill="#333dbb"/>
<path d="M-1.39 2.32A2.35 2.35 0 1 1 2.7-0.01L2.32-0.35A2.19 2.19 0 1 0 -1.49 1.81z" fill="#2e45c5"/>
<path d="M-1.4 2.63A2.51 2.51 0 1 1 2.97 0.15L2.52-0.16A2.27 2.27 0 1 0 -1.43 2.08z" fill="#2354d3"/>
<path d="M-1.53 2.72A2.67 2.67 0 1 1 3.12 0.08L2.7-0.01A2.35 2.35 0 1 0 -1.39 2.32z" fill="#0e5ede"/>
<path d="M-1.74 2.67A2.83 2.83 0 1 1 3.18-0.13L2.97 0.15A2.51 2.51 0 1 0 -1.4 2.63z" fill="#0462e1"/>
<path d="M-2 2.54A2.99 2.99 0 1 1 3.2-0.42L3.12 0.08A2.67 2.67 0 1 0 -1.53 2.72z" fill="#0a60df"/>
<path d="M-2.22 2.41A3.12 3.12 0 1 1 3.21-0.67L3.18-0.13A2.83 2.83 0 1 0 -1.74 2.67z" fill="#1958d9"/>
<path d="M-2.44 2.28A3.25 3.25 0 1 1 3.21-0.92L3.2-0.42A2.99 2.99 0 1 0 -2 2.54z" fill="#2a4eca"/>
<path d="M-2.69 2.16A3.41 3.41 0 1 1 3.23-1.21L3.21-0.67A3.12 3.12 0 1 0 -2.22 2.41z" fill="#3040c0"/>
<path d="M-2.92 2.09A3.57 3.57 0 1 1 3.29-1.44L3.21-0.92A3.25 3.25 0 1 0 -2.44 2.28z" fill="#3439b6"/>
<path d="M-3.11 2.06A3.73 3.73 0 1 1 3.37-1.62L3.23-1.21A3.41 3.41 0 1 0 -2.69 2.16z" fill="#3433ac"/>
<path d="M-3.29 2.08A3.89 3.89 0 1 1 3.47-1.76L3.29-1.44A3.57 3.57 0 1 0 -2.92 2.09z" fill="#342ea4"/>
<path d="M-3.4 2.12A4 4 0 1 1 3.56-1.83L3.37-1.62A3.73 3.73 0 1 0 -3.11 2.06z" fill="#332b9f"/>
<path d="M-3.4 2.12A4 4 0 1 1 3.56-1.83L3.47-1.76A3.89 3.89 0 1 0 -3.29 2.08z" fill="#33299c"/>
</g>
<path d="M63 253L63 310.5L96.9 340.5L156.6 323.3M63 310.5h1.6M63 291.3h1.6M63 272.2h1.6M63 253h1.6" stroke="#6e6e6e" stroke-width="1.1" fill="none"/>
<text x="59" y="311.1" text-anchor="end" font-size="9.3" fill="#2c2c2c">0</text>
<text x="59" y="291.9" text-anchor="end" font-size="9.3" fill="#2c2c2c">1</text>
<text x="59" y="272.8" text-anchor="end" font-size="9.3" fill="#2c2c2c">2</text>
<text x="59" y="253.6" text-anchor="end" font-size="9.3" fill="#2c2c2c">3</text>
<text x="57.8" y="321.9" text-anchor="end" font-size="9.3" fill="#2c2c2c">4</text>
<text x="66.2" y="329.4" text-anchor="end" font-size="9.3" fill="#2c2c2c">2</text>
<text x="74.7" y="336.9" text-anchor="end" font-size="9.3" fill="#2c2c2c">0</text>
<text x="83.2" y="344.4" text-anchor="end" font-size="9.3" fill="#2c2c2c">-2</text>
<text x="91.6" y="351.9" text-anchor="end" font-size="9.3" fill="#2c2c2c">-4</text>
<text x="105.5" y="352.9" text-anchor="middle" font-size="9.3" fill="#2c2c2c">-4</text>
<text x="120.5" y="348.6" text-anchor="middle" font-size="9.3" fill="#2c2c2c">-2</text>
<text x="132.4" y="344.3" text-anchor="middle" font-size="9.3" fill="#2c2c2c">0</text>
<text x="147.3" y="340" text-anchor="middle" font-size="9.3" fill="#2c2c2c">2</text>
<text x="162.2" y="335.7" text-anchor="middle" font-size="9.3" fill="#2c2c2c">4</text>
<text x="67.8" y="342" text-anchor="middle" font-size="9.3" fill="#2c2c2c">y</text>
<text x="140.6" y="350.3" text-anchor="middle" font-size="9.3" fill="#2c2c2c">x</text>
<text x="74.5" y="263.9" text-anchor="middle" font-size="9.4" fill="#2c2c2c">(b1)</text>
<text x="146.1" y="273.6" text-anchor="middle" font-size="9.2" fill="#2c2c2c">z=0</text>
<text x="40.4" y="245.2" font-size="9.6" fill="#8a8a8a" stroke="none">×10<tspan dy="-3.8" font-size="6.4">4</tspan></text>
<path d="M207 306.2v-57.5M221.9 301.9v-57.5M236.9 297.6v-57.5M251.8 293.3v-57.5M260.3 300.8v-57.5M268.8 308.3v-57.5M277.2 315.8v-57.5M285.7 323.3v-57.5M192.1 310.5L251.8 293.3L285.7 323.3M192.1 291.3L251.8 274.1L285.7 304.1M192.1 272.2L251.8 255L285.7 285M192.1 253L251.8 235.8L285.7 265.8M200.6 318L260.3 300.8M207 306.2L240.9 336.2M209.1 325.5L268.8 308.3M221.9 301.9L255.8 331.9M217.5 333L277.2 315.8M236.9 297.6L270.8 327.6" stroke="#e4e4e4" stroke-width="0.8" fill="none"/>
<path d="M192.1 310.5L226 340.5L285.7 323.3L251.8 293.3z" fill="#322798"/>
<g transform="matrix(7.4625 -2.1500 -4.2375 -3.7500 238.9 316.9)">
<path d="M3.44-2.04A4 4 0 1 1 -3.52 1.91L-3.23 1.87A3.73 3.73 0 1 0 3.26-1.81z" fill="#33299c"/>
<path d="M3.36-1.96A3.89 3.89 0 1 1 -3.4 1.88L-3.02 1.9A3.57 3.57 0 1 0 3.18-1.62z" fill="#332b9f"/>
<path d="M3.26-1.81A3.73 3.73 0 1 1 -3.23 1.87L-2.79 1.98A3.41 3.41 0 1 0 3.13-1.38z" fill="#342ea4"/>
<path d="M3.18-1.62A3.57 3.57 0 1 1 -3.02 1.9L-2.53 2.11A3.25 3.25 0 1 0 3.11-1.09z" fill="#3433ac"/>
<path d="M3.13-1.38A3.41 3.41 0 1 1 -2.79 1.98L-2.31 2.25A3.12 3.12 0 1 0 3.11-0.83z" fill="#3439b6"/>
<path d="M3.11-1.09A3.25 3.25 0 1 1 -2.53 2.11L-2.09 2.38A2.99 2.99 0 1 0 3.12-0.57z" fill="#3040c0"/>
<path d="M3.11-0.83A3.12 3.12 0 1 1 -2.31 2.25L-1.82 2.52A2.83 2.83 0 1 0 3.1-0.27z" fill="#2a4eca"/>
<path d="M3.12-0.57A2.99 2.99 0 1 1 -2.09 2.38L-1.61 2.58A2.67 2.67 0 1 0 3.04-0.06z" fill="#1958d9"/>
<path d="M3.1-0.27A2.83 2.83 0 1 1 -1.82 2.52L-1.47 2.5A2.51 2.51 0 1 0 2.9 0.02z" fill="#0a60df"/>
<path d="M3.04-0.06A2.67 2.67 0 1 1 -1.61 2.58L-1.46 2.19A2.35 2.35 0 1 0 2.63-0.13z" fill="#0462e1"/>
<path d="M2.9 0.02A2.51 2.51 0 1 1 -1.47 2.5L-1.5 1.96A2.27 2.27 0 1 0 2.45-0.28z" fill="#0e5ede"/>
<path d="M2.63-0.13A2.35 2.35 0 1 1 -1.46 2.19L-1.55 1.7A2.19 2.19 0 1 0 2.25-0.46z" fill="#2354d3"/>
<path d="M2.45-0.28A2.27 2.27 0 1 1 -1.5 1.96L-1.6 1.44A2.11 2.11 0 1 0 2.06-0.64z" fill="#2e45c5"/>
<path d="M2.25-0.46A2.19 2.19 0 1 1 -1.55 1.7L-1.64 1.22A2.03 2.03 0 1 0 1.88-0.78z" fill="#333dbb"/>
<path d="M2.06-0.64A2.11 2.11 0 1 1 -1.6 1.44L-1.6 0.95A1.87 1.87 0 1 0 1.64-0.89z" fill="#3536b1"/>
<path d="M1.88-0.78A2.03 2.03 0 1 1 -1.64 1.22L-1.34 1.09A1.71 1.71 0 1 0 1.62-0.59z" fill="#3430a8"/>
<path d="M1.64-0.89A1.87 1.87 0 1 1 -1.6 0.95L-1.16 1.28A1.64 1.64 0 1 0 1.69-0.34z" fill="#3531aa"/>
<path d="M1.62-0.59A1.71 1.71 0 1 1 -1.34 1.09L-0.99 1.46A1.59 1.59 0 1 0 1.77-0.1z" fill="#353ab5"/>
<path d="M1.69-0.34A1.64 1.64 0 1 1 -1.16 1.28L-0.82 1.66A1.53 1.53 0 1 0 1.85 0.15z" fill="#3341bf"/>
<path d="M1.77-0.1A1.59 1.59 0 1 1 -0.99 1.46L-0.65 1.86A1.48 1.48 0 1 0 1.93 0.39z" fill="#2d48c8"/>
<path d="M1.85 0.15A1.53 1.53 0 1 1 -0.82 1.66L-0.49 2.03A1.43 1.43 0 1 0 2 0.62z" fill="#2058d7"/>
<path d="M1.93 0.39A1.48 1.48 0 1 1 -0.65 1.86L-0.32 2.19A1.36 1.36 0 1 0 2.05 0.85z" fill="#0d62e0"/>
<path d="M2 0.62A1.43 1.43 0 1 1 -0.49 2.03L-0.15 2.17A1.2 1.2 0 1 0 1.94 0.98z" fill="#0568e1"/>
<path d="M2.05 0.85A1.36 1.36 0 1 1 -0.32 2.19L-0.21 1.9A1.12 1.12 0 1 0 1.74 0.79z" fill="#036ae1"/>
<path d="M1.94 0.98A1.2 1.2 0 1 1 -0.15 2.17L-0.29 1.66A1.07 1.07 0 1 0 1.57 0.6z" fill="#0569e1"/>
<path d="M1.74 0.79A1.12 1.12 0 1 1 -0.21 1.9L-0.36 1.44A1.03 1.03 0 1 0 1.43 0.43z" fill="#0d62e0"/>
<path d="M1.57 0.6A1.07 1.07 0 1 1 -0.29 1.66L-0.44 1.23A0.99 0.99 0 1 0 1.28 0.25z" fill="#1f59d8"/>
<path d="M1.43 0.43A1.03 1.03 0 1 1 -0.36 1.44L-0.52 0.97A0.93 0.93 0 1 0 1.1 0.05z" fill="#2d50cb"/>
<path d="M1.28 0.25A0.99 0.99 0 1 1 -0.44 1.23L-0.59 0.72A0.87 0.87 0 1 0 0.92-0.13z" fill="#3244c2"/>
<path d="M1.1 0.05A0.93 0.93 0 1 1 -0.52 0.97L-0.44 0.72A0.74 0.74 0 1 0 0.85-0.01z" fill="#343dbb"/>
<path d="M0.92-0.13A0.87 0.87 0 1 1 -0.59 0.72L-0.28 0.92A0.7 0.7 0 1 0 0.94 0.23z" fill="#313cbc"/>
<path d="M0.85-0.01A0.74 0.74 0 1 1 -0.44 0.72L-0.14 1.12A0.67 0.67 0 1 0 1.03 0.45z" fill="#2e49c8"/>
<path d="M0.94 0.23A0.7 0.7 0 1 1 -0.28 0.92L-0.01 1.31A0.65 0.65 0 1 0 1.12 0.66z" fill="#215cd9"/>
<path d="M1.03 0.45A0.67 0.67 0 1 1 -0.14 1.12L0.14 1.53A0.63 0.63 0 1 0 1.24 0.91z" fill="#1266e1"/>
<path d="M1.12 0.66A0.65 0.65 0 1 1 -0.01 1.31L0.28 1.73A0.61 0.61 0 1 0 1.34 1.12z" fill="#0e6ee2"/>
<path d="M1.24 0.91A0.63 0.63 0 1 1 0.14 1.53L0.42 1.94A0.59 0.59 0 1 0 1.45 1.36z" fill="#1275e2"/>
<path d="M1.34 1.12A0.61 0.61 0 1 1 0.28 1.73L0.54 2.13A0.58 0.58 0 1 0 1.55 1.56z" fill="#187ae0"/>
<path d="M1.45 1.36A0.59 0.59 0 1 1 0.42 1.94L0.67 2.33A0.57 0.57 0 1 0 1.66 1.77z" fill="#1d7fdd"/>
<path d="M1.55 1.56A0.58 0.58 0 1 1 0.54 2.13L0.81 2.54A0.55 0.55 0 1 0 1.77 2z" fill="#2083db"/>
<path d="M1.66 1.77A0.57 0.57 0 1 1 0.67 2.33L0.95 2.76A0.54 0.54 0 1 0 1.89 2.23z" fill="#2287d9"/>
<path d="M1.77 2A0.55 0.55 0 1 1 0.81 2.54L1.06 2.94A0.53 0.53 0 1 0 1.98 2.42z" fill="#228cd7"/>
<path d="M1.89 2.23A0.54 0.54 0 1 1 0.95 2.76L1.18 3.13A0.52 0.52 0 1 0 2.08 2.62z" fill="#2190d5"/>
<path d="M1.98 2.42A0.53 0.53 0 1 1 1.06 2.94L1.31 3.33A0.51 0.51 0 1 0 2.19 2.83z" fill="#1e95d5"/>
<path d="M2.08 2.62A0.52 0.52 0 1 1 1.18 3.13L1.43 3.52A0.5 0.5 0 1 0 2.29 3.04z" fill="#1a9ad4"/>
<path d="M2.19 2.83A0.51 0.51 0 1 1 1.31 3.33L1.56 3.73A0.48 0.48 0 1 0 2.4 3.25z" fill="#179fd3"/>
<path d="M2.29 3.04A0.5 0.5 0 1 1 1.43 3.52L1.69 3.93A0.47 0.47 0 1 0 2.51 3.47z" fill="#15a4d1"/>
<path d="M2.4 3.25A0.48 0.48 0 1 1 1.56 3.73L1.82 4.14A0.46 0.46 0 1 0 2.63 3.69z" fill="#15a8cf"/>
<path d="M2.51 3.47A0.47 0.47 0 1 1 1.69 3.93L1.96 4.36A0.45 0.45 0 1 0 2.74 3.91z" fill="#15abcb"/>
<path d="M2.63 3.69A0.46 0.46 0 1 1 1.82 4.14L2.09 4.57A0.44 0.44 0 1 0 2.86 4.14z" fill="#16aec6"/>
<path d="M2.74 3.91A0.45 0.45 0 1 1 1.96 4.36L2.23 4.79A0.43 0.43 0 1 0 2.97 4.37z" fill="#18b1c2"/>
<path d="M2.86 4.14A0.44 0.44 0 1 1 2.09 4.57L2.37 5.01A0.42 0.42 0 1 0 3.09 4.6z" fill="#1fb4bc"/>
<path d="M2.97 4.37A0.43 0.43 0 1 1 2.23 4.79L2.5 5.24A0.41 0.41 0 1 0 3.21 4.83z" fill="#26b6b7"/>
<path d="M3.09 4.6A0.42 0.42 0 1 1 2.37 5.01L2.64 5.46A0.4 0.4 0 1 0 3.33 5.07z" fill="#2fb9b1"/>
<path d="M3.21 4.83A0.41 0.41 0 1 1 2.5 5.24L2.78 5.68A0.39 0.39 0 1 0 3.45 5.3z" fill="#39bbaa"/>
<path d="M3.33 5.07A0.4 0.4 0 1 1 2.64 5.46L2.92 5.91A0.37 0.37 0 1 0 3.57 5.54z" fill="#44bda3"/>
<path d="M3.45 5.3A0.39 0.39 0 1 1 2.78 5.68L3.06 6.13A0.36 0.36 0 1 0 3.69 5.77z" fill="#51bf9c"/>
<path d="M3.57 5.54A0.37 0.37 0 1 1 2.92 5.91L3.2 6.35A0.35 0.35 0 1 0 3.81 6z" fill="#60c194"/>
<path d="M3.69 5.77A0.36 0.36 0 1 1 3.06 6.13L3.34 6.57A0.34 0.34 0 1 0 3.93 6.23z" fill="#6fc28d"/>
<path d="M3.81 6A0.35 0.35 0 1 1 3.2 6.35L3.48 6.79A0.33 0.33 0 1 0 4.05 6.46z" fill="#7ec386"/>
<path d="M3.93 6.23A0.34 0.34 0 1 1 3.34 6.57L3.61 7.01A0.32 0.32 0 1 0 4.17 6.69z" fill="#8cc380"/>
<path d="M4.05 6.46A0.33 0.33 0 1 1 3.48 6.79L3.75 7.22A0.31 0.31 0 1 0 4.28 6.92z" fill="#99c37b"/>
<path d="M4.17 6.69A0.32 0.32 0 1 1 3.61 7.01L3.88 7.43A0.3 0.3 0 1 0 4.39 7.14z" fill="#a5c276"/>
<path d="M4.28 6.92A0.31 0.31 0 1 1 3.75 7.22L4.01 7.64A0.29 0.29 0 1 0 4.51 7.36z" fill="#b0c271"/>
<path d="M4.39 7.14A0.3 0.3 0 1 1 3.88 7.43L4.14 7.84A0.28 0.28 0 1 0 4.61 7.57z" fill="#bbc16d"/>
<path d="M4.51 7.36A0.29 0.29 0 1 1 4.01 7.64L4.26 8.04A0.26 0.26 0 1 0 4.72 7.78z" fill="#c5c069"/>
<path d="M4.61 7.57A0.28 0.28 0 1 1 4.14 7.84L4.38 8.23A0.25 0.25 0 1 0 4.82 7.98z" fill="#cfbf65"/>
<path d="M4.72 7.78A0.26 0.26 0 1 1 4.26 8.04L4.5 8.42A0.24 0.24 0 1 0 4.93 8.18z" fill="#d8bf61"/>
<path d="M4.82 7.98A0.25 0.25 0 1 1 4.38 8.23L4.62 8.61A0.23 0.23 0 1 0 5.02 8.38z" fill="#e1be5d"/>
<path d="M4.93 8.18A0.24 0.24 0 1 1 4.5 8.42L4.76 8.83A0.22 0.22 0 1 0 5.14 8.61z" fill="#eabd59"/>
<path d="M5.02 8.38A0.23 0.23 0 1 1 4.62 8.61L4.9 9.04A0.2 0.2 0 1 0 5.25 8.83z" fill="#f3be54"/>
<path d="M5.14 8.61A0.22 0.22 0 1 1 4.76 8.83L5.03 9.23A0.19 0.19 0 1 0 5.36 9.05z" fill="#fbc04c"/>
<path d="M5.25 8.83A0.2 0.2 0 1 1 4.9 9.04L5.15 9.42A0.18 0.18 0 1 0 5.45 9.25z" fill="#fec545"/>
<path d="M5.36 9.05A0.19 0.19 0 1 1 5.03 9.23L5.29 9.64A0.16 0.16 0 1 0 5.57 9.48z" fill="#fecb3f"/>
<path d="M5.45 9.25A0.18 0.18 0 1 1 5.15 9.42L5.42 9.84A0.14 0.14 0 1 0 5.67 9.7z" fill="#fcd139"/>
<path d="M5.57 9.48A0.16 0.16 0 1 1 5.29 9.64L5.57 10.06A0.12 0.12 0 1 0 5.78 9.94z" fill="#f9d733"/>
<path d="M5.67 9.7A0.14 0.14 0 1 1 5.42 9.84L5.7 10.24A0.1 0.1 0 1 0 5.87 10.14z" fill="#f6de2d"/>
<path d="M5.78 9.94A0.12 0.12 0 1 1 5.57 10.06L5.86 10.45A0.07 0.07 0 1 0 5.97 10.39z" fill="#f5e526"/>
<path d="M5.87 10.14A0.1 0.1 0 1 1 5.7 10.24z" fill="#f5ed1e"/>
<path d="M5.97 10.39A0.07 0.07 0 1 1 5.86 10.45z" fill="#f8f614"/>
<path d="M5.7 10.24A0.1 0.1 0 1 1 5.88 10.15z" fill="#f8f614"/>
<path d="M5.58 10.06A0.12 0.12 0 1 1 5.78 9.94L5.98 10.39A0.07 0.07 0 1 0 5.86 10.46z" fill="#f5ed1e"/>
<path d="M5.43 9.85A0.14 0.14 0 1 1 5.67 9.71L5.88 10.15A0.1 0.1 0 1 0 5.7 10.24z" fill="#f5e526"/>
<path d="M5.3 9.65A0.16 0.16 0 1 1 5.57 9.49L5.78 9.94A0.12 0.12 0 1 0 5.58 10.06z" fill="#f6de2d"/>
<path d="M5.15 9.43A0.18 0.18 0 1 1 5.46 9.26L5.67 9.71A0.14 0.14 0 1 0 5.43 9.85z" fill="#f9d733"/>
<path d="M5.03 9.24A0.19 0.19 0 1 1 5.36 9.06L5.57 9.49A0.16 0.16 0 1 0 5.3 9.65z" fill="#fcd139"/>
<path d="M4.9 9.05A0.2 0.2 0 1 1 5.26 8.84L5.46 9.26A0.18 0.18 0 1 0 5.15 9.43z" fill="#fecb3f"/>
<path d="M4.77 8.84A0.22 0.22 0 1 1 5.15 8.62L5.36 9.06A0.19 0.19 0 1 0 5.03 9.24z" fill="#fec545"/>
<path d="M4.63 8.62A0.23 0.23 0 1 1 5.03 8.39L5.26 8.84A0.2 0.2 0 1 0 4.9 9.05z" fill="#fbc04c"/>
<path d="M4.51 8.43A0.24 0.24 0 1 1 4.93 8.2L5.15 8.62A0.22 0.22 0 1 0 4.77 8.84z" fill="#f3be54"/>
<path d="M4.39 8.25A0.25 0.25 0 1 1 4.83 8L5.03 8.39A0.23 0.23 0 1 0 4.63 8.62z" fill="#eabd59"/>
<path d="M4.27 8.05A0.26 0.26 0 1 1 4.73 7.79L4.93 8.2A0.24 0.24 0 1 0 4.51 8.43z" fill="#e1be5d"/>
<path d="M4.14 7.86A0.28 0.28 0 1 1 4.62 7.58L4.83 8A0.25 0.25 0 1 0 4.39 8.25z" fill="#d8bf61"/>
<path d="M4.02 7.65A0.29 0.29 0 1 1 4.51 7.37L4.73 7.79A0.26 0.26 0 1 0 4.27 8.05z" fill="#cfbf65"/>
<path d="M3.89 7.45A0.3 0.3 0 1 1 4.4 7.15L4.62 7.58A0.28 0.28 0 1 0 4.14 7.86z" fill="#c5c069"/>
<path d="M3.75 7.24A0.31 0.31 0 1 1 4.29 6.93L4.51 7.37A0.29 0.29 0 1 0 4.02 7.65z" fill="#bbc16d"/>
<path d="M3.62 7.02A0.32 0.32 0 1 1 4.18 6.71L4.4 7.15A0.3 0.3 0 1 0 3.89 7.45z" fill="#b0c271"/>
<path d="M3.49 6.81A0.33 0.33 0 1 1 4.06 6.48L4.29 6.93A0.31 0.31 0 1 0 3.75 7.24z" fill="#a5c276"/>
<path d="M3.35 6.59A0.34 0.34 0 1 1 3.94 6.25L4.18 6.71A0.32 0.32 0 1 0 3.62 7.02z" fill="#99c37b"/>
<path d="M3.21 6.37A0.35 0.35 0 1 1 3.82 6.02L4.06 6.48A0.33 0.33 0 1 0 3.49 6.81z" fill="#8cc380"/>
<path d="M3.07 6.15A0.36 0.36 0 1 1 3.7 5.79L3.94 6.25A0.34 0.34 0 1 0 3.35 6.59z" fill="#7ec386"/>
<path d="M2.93 5.93A0.37 0.37 0 1 1 3.58 5.56L3.82 6.02A0.35 0.35 0 1 0 3.21 6.37z" fill="#6fc28d"/>
<path d="M2.8 5.7A0.39 0.39 0 1 1 3.46 5.32L3.7 5.79A0.36 0.36 0 1 0 3.07 6.15z" fill="#60c194"/>
<path d="M2.66 5.48A0.4 0.4 0 1 1 3.34 5.09L3.58 5.56A0.37 0.37 0 1 0 2.93 5.93z" fill="#51bf9c"/>
<path d="M2.52 5.26A0.41 0.41 0 1 1 3.23 4.86L3.46 5.32A0.39 0.39 0 1 0 2.8 5.7z" fill="#44bda3"/>
<path d="M2.38 5.04A0.42 0.42 0 1 1 3.11 4.62L3.34 5.09A0.4 0.4 0 1 0 2.66 5.48z" fill="#39bbaa"/>
<path d="M2.24 4.82A0.43 0.43 0 1 1 2.99 4.39L3.23 4.86A0.41 0.41 0 1 0 2.52 5.26z" fill="#2fb9b1"/>
<path d="M2.1 4.6A0.44 0.44 0 1 1 2.87 4.16L3.11 4.62A0.42 0.42 0 1 0 2.38 5.04z" fill="#26b6b7"/>
<path d="M1.97 4.38A0.45 0.45 0 1 1 2.75 3.94L2.99 4.39A0.43 0.43 0 1 0 2.24 4.82z" fill="#1fb4bc"/>
<path d="M1.84 4.17A0.46 0.46 0 1 1 2.64 3.71L2.87 4.16A0.44 0.44 0 1 0 2.1 4.6z" fill="#18b1c2"/>
<path d="M1.7 3.96A0.47 0.47 0 1 1 2.53 3.49L2.75 3.94A0.45 0.45 0 1 0 1.97 4.38z" fill="#16aec6"/>
<path d="M1.57 3.75A0.48 0.48 0 1 1 2.42 3.27L2.64 3.71A0.46 0.46 0 1 0 1.84 4.17z" fill="#15abcb"/>
<path d="M1.45 3.55A0.5 0.5 0 1 1 2.31 3.06L2.53 3.49A0.47 0.47 0 1 0 1.7 3.96z" fill="#15a8cf"/>
<path d="M1.32 3.35A0.51 0.51 0 1 1 2.2 2.85L2.42 3.27A0.48 0.48 0 1 0 1.57 3.75z" fill="#15a4d1"/>
<path d="M1.2 3.16A0.52 0.52 0 1 1 2.1 2.65L2.31 3.06A0.5 0.5 0 1 0 1.45 3.55z" fill="#179fd3"/>
<path d="M1.08 2.97A0.53 0.53 0 1 1 2 2.45L2.2 2.85A0.51 0.51 0 1 0 1.32 3.35z" fill="#1a9ad4"/>
<path d="M0.96 2.79A0.54 0.54 0 1 1 1.9 2.26L2.1 2.65A0.52 0.52 0 1 0 1.2 3.16z" fill="#1e95d5"/>
<path d="M0.82 2.57A0.55 0.55 0 1 1 1.79 2.02L2 2.45A0.53 0.53 0 1 0 1.08 2.97z" fill="#2190d5"/>
<path d="M0.69 2.36A0.57 0.57 0 1 1 1.67 1.8L1.9 2.26A0.54 0.54 0 1 0 0.96 2.79z" fill="#228cd7"/>
<path d="M0.56 2.16A0.58 0.58 0 1 1 1.57 1.59L1.79 2.02A0.55 0.55 0 1 0 0.82 2.57z" fill="#2287d9"/>
<path d="M0.44 1.98A0.59 0.59 0 1 1 1.47 1.39L1.67 1.8A0.57 0.57 0 1 0 0.69 2.36z" fill="#2083db"/>
<path d="M0.3 1.76A0.61 0.61 0 1 1 1.36 1.15L1.57 1.59A0.58 0.58 0 1 0 0.56 2.16z" fill="#1d7fdd"/>
<path d="M0.16 1.56A0.63 0.63 0 1 1 1.26 0.94L1.47 1.39A0.59 0.59 0 1 0 0.44 1.98z" fill="#187ae0"/>
<path d="M0.01 1.34A0.65 0.65 0 1 1 1.14 0.7L1.36 1.15A0.61 0.61 0 1 0 0.3 1.76z" fill="#1275e2"/>
<path d="M-0.12 1.15A0.67 0.67 0 1 1 1.05 0.49L1.26 0.94A0.63 0.63 0 1 0 0.16 1.56z" fill="#0e6ee2"/>
<path d="M-0.26 0.96A0.7 0.7 0 1 1 0.96 0.27L1.14 0.7A0.65 0.65 0 1 0 0.01 1.34z" fill="#1266e1"/>
<path d="M-0.42 0.76A0.74 0.74 0 1 1 0.87 0.03L1.05 0.49A0.67 0.67 0 1 0 -0.12 1.15z" fill="#215cd9"/>
<path d="M-0.56 0.77A0.87 0.87 0 1 1 0.95-0.09L0.96 0.27A0.7 0.7 0 1 0 -0.26 0.96z" fill="#2e49c8"/>
<path d="M-0.49 1.02A0.93 0.93 0 1 1 1.13 0.1L0.87 0.03A0.74 0.74 0 1 0 -0.42 0.76z" fill="#313cbc"/>
<path d="M-0.41 1.28A0.99 0.99 0 1 1 1.31 0.3L0.95-0.09A0.87 0.87 0 1 0 -0.56 0.77z" fill="#343dbb"/>
<path d="M-0.33 1.5A1.03 1.03 0 1 1 1.46 0.48L1.13 0.1A0.93 0.93 0 1 0 -0.49 1.02z" fill="#3244c2"/>
<path d="M-0.26 1.71A1.07 1.07 0 1 1 1.6 0.66L1.31 0.3A0.99 0.99 0 1 0 -0.41 1.28z" fill="#2d50cb"/>
<path d="M-0.18 1.96A1.12 1.12 0 1 1 1.77 0.85L1.46 0.48A1.03 1.03 0 1 0 -0.33 1.5z" fill="#1f59d8"/>
<path d="M-0.12 2.23A1.2 1.2 0 1 1 1.98 1.04L1.6 0.66A1.07 1.07 0 1 0 -0.26 1.71z" fill="#0d62e0"/>
<path d="M-0.28 2.26A1.36 1.36 0 1 1 2.09 0.92L1.77 0.85A1.12 1.12 0 1 0 -0.18 1.96z" fill="#0569e1"/>
<path d="M-0.45 2.11A1.43 1.43 0 1 1 2.04 0.7L1.98 1.04A1.2 1.2 0 1 0 -0.12 2.23z" fill="#036ae1"/>
<path d="M-0.6 1.94A1.48 1.48 0 1 1 1.97 0.47L2.09 0.92A1.36 1.36 0 1 0 -0.28 2.26z" fill="#0568e1"/>
<path d="M-0.77 1.74A1.53 1.53 0 1 1 1.89 0.23L2.04 0.7A1.43 1.43 0 1 0 -0.45 2.11z" fill="#0d62e0"/>
<path d="M-0.95 1.55A1.59 1.59 0 1 1 1.81-0.02L1.97 0.47A1.48 1.48 0 1 0 -0.6 1.94z" fill="#2058d7"/>
<path d="M-1.11 1.36A1.64 1.64 0 1 1 1.74-0.26L1.89 0.23A1.53 1.53 0 1 0 -0.77 1.74z" fill="#2d48c8"/>
<path d="M-1.29 1.18A1.71 1.71 0 1 1 1.68-0.5L1.81-0.02A1.59 1.59 0 1 0 -0.95 1.55z" fill="#3341bf"/>
<path d="M-1.55 1.05A1.87 1.87 0 1 1 1.7-0.79L1.74-0.26A1.64 1.64 0 1 0 -1.11 1.36z" fill="#353ab5"/>
<path d="M-1.58 1.32A2.03 2.03 0 1 1 1.94-0.68L1.68-0.5A1.71 1.71 0 1 0 -1.29 1.18z" fill="#3531aa"/>
<path d="M-1.54 1.55A2.11 2.11 0 1 1 2.12-0.53L1.7-0.79A1.87 1.87 0 1 0 -1.55 1.05z" fill="#3430a8"/>
<path d="M-1.49 1.81A2.19 2.19 0 1 1 2.32-0.35L1.94-0.68A2.03 2.03 0 1 0 -1.58 1.32z" fill="#3536b1"/>
<path d="M-1.43 2.08A2.27 2.27 0 1 1 2.52-0.16L2.12-0.53A2.11 2.11 0 1 0 -1.54 1.55z" fill="#333dbb"/>
<path d="M-1.39 2.32A2.35 2.35 0 1 1 2.7-0.01L2.32-0.35A2.19 2.19 0 1 0 -1.49 1.81z" fill="#2e45c5"/>
<path d="M-1.4 2.63A2.51 2.51 0 1 1 2.97 0.15L2.52-0.16A2.27 2.27 0 1 0 -1.43 2.08z" fill="#2354d3"/>
<path d="M-1.53 2.72A2.67 2.67 0 1 1 3.12 0.08L2.7-0.01A2.35 2.35 0 1 0 -1.39 2.32z" fill="#0e5ede"/>
<path d="M-1.74 2.67A2.83 2.83 0 1 1 3.18-0.13L2.97 0.15A2.51 2.51 0 1 0 -1.4 2.63z" fill="#0462e1"/>
<path d="M-2 2.54A2.99 2.99 0 1 1 3.2-0.42L3.12 0.08A2.67 2.67 0 1 0 -1.53 2.72z" fill="#0a60df"/>
<path d="M-2.22 2.41A3.12 3.12 0 1 1 3.21-0.67L3.18-0.13A2.83 2.83 0 1 0 -1.74 2.67z" fill="#1958d9"/>
<path d="M-2.44 2.28A3.25 3.25 0 1 1 3.21-0.92L3.2-0.42A2.99 2.99 0 1 0 -2 2.54z" fill="#2a4eca"/>
<path d="M-2.69 2.16A3.41 3.41 0 1 1 3.23-1.21L3.21-0.67A3.12 3.12 0 1 0 -2.22 2.41z" fill="#3040c0"/>
<path d="M-2.92 2.09A3.57 3.57 0 1 1 3.29-1.44L3.21-0.92A3.25 3.25 0 1 0 -2.44 2.28z" fill="#3439b6"/>
<path d="M-3.11 2.06A3.73 3.73 0 1 1 3.37-1.62L3.23-1.21A3.41 3.41 0 1 0 -2.69 2.16z" fill="#3433ac"/>
<path d="M-3.29 2.08A3.89 3.89 0 1 1 3.47-1.76L3.29-1.44A3.57 3.57 0 1 0 -2.92 2.09z" fill="#342ea4"/>
<path d="M-3.4 2.12A4 4 0 1 1 3.56-1.83L3.37-1.62A3.73 3.73 0 1 0 -3.11 2.06z" fill="#332b9f"/>
<path d="M-3.4 2.12A4 4 0 1 1 3.56-1.83L3.47-1.76A3.89 3.89 0 1 0 -3.29 2.08z" fill="#33299c"/>
</g>
<path d="M192.1 253L192.1 310.5L226 340.5L285.7 323.3M192.1 310.5h1.6M192.1 291.3h1.6M192.1 272.2h1.6M192.1 253h1.6" stroke="#6e6e6e" stroke-width="1.1" fill="none"/>
<text x="188.1" y="311.1" text-anchor="end" font-size="9.3" fill="#2c2c2c">0</text>
<text x="188.1" y="291.9" text-anchor="end" font-size="9.3" fill="#2c2c2c">1</text>
<text x="188.1" y="272.8" text-anchor="end" font-size="9.3" fill="#2c2c2c">2</text>
<text x="188.1" y="253.6" text-anchor="end" font-size="9.3" fill="#2c2c2c">3</text>
<text x="186.8" y="321.9" text-anchor="end" font-size="9.3" fill="#2c2c2c">4</text>
<text x="195.3" y="329.4" text-anchor="end" font-size="9.3" fill="#2c2c2c">2</text>
<text x="203.7" y="336.9" text-anchor="end" font-size="9.3" fill="#2c2c2c">0</text>
<text x="212.2" y="344.4" text-anchor="end" font-size="9.3" fill="#2c2c2c">-2</text>
<text x="220.7" y="351.9" text-anchor="end" font-size="9.3" fill="#2c2c2c">-4</text>
<text x="234.6" y="352.9" text-anchor="middle" font-size="9.3" fill="#2c2c2c">-4</text>
<text x="249.5" y="348.6" text-anchor="middle" font-size="9.3" fill="#2c2c2c">-2</text>
<text x="261.4" y="344.3" text-anchor="middle" font-size="9.3" fill="#2c2c2c">0</text>
<text x="276.4" y="340" text-anchor="middle" font-size="9.3" fill="#2c2c2c">2</text>
<text x="291.3" y="335.7" text-anchor="middle" font-size="9.3" fill="#2c2c2c">4</text>
<text x="195.7" y="341.3" text-anchor="middle" font-size="9.3" fill="#2c2c2c">y</text>
<text x="268.6" y="348.1" text-anchor="middle" font-size="9.3" fill="#2c2c2c">x</text>
<text x="271.3" y="273.6" text-anchor="middle" font-size="9.2" fill="#2c2c2c">z=15</text>
<text x="169.5" y="245.2" font-size="9.6" fill="#8a8a8a" stroke="none">×10<tspan dy="-3.8" font-size="6.4">4</tspan></text>
<path d="M335 306.2v-57.5M350 301.9v-57.5M364.9 297.6v-57.5M379.8 293.3v-57.5M388.3 300.8v-57.5M396.8 308.3v-57.5M405.2 315.8v-57.5M413.7 323.3v-57.5M320.1 310.5L379.8 293.3L413.7 323.3M320.1 291.3L379.8 274.1L413.7 304.1M320.1 272.2L379.8 255L413.7 285M320.1 253L379.8 235.8L413.7 265.8M328.6 318L388.3 300.8M335 306.2L368.9 336.2M337.1 325.5L396.8 308.3M350 301.9L383.9 331.9M345.5 333L405.2 315.8M364.9 297.6L398.8 327.6" stroke="#e4e4e4" stroke-width="0.8" fill="none"/>
<path d="M320.1 310.5L354 340.5L413.7 323.3L379.8 293.3z" fill="#322798"/>
<g transform="matrix(7.4625 -2.1500 -4.2375 -3.7500 366.9 316.9)">
<path d="M3.44-2.04A4 4 0 1 1 -3.52 1.91L-3.23 1.87A3.73 3.73 0 1 0 3.26-1.81z" fill="#33299c"/>
<path d="M3.36-1.96A3.89 3.89 0 1 1 -3.4 1.88L-3.02 1.9A3.57 3.57 0 1 0 3.18-1.62z" fill="#332b9f"/>
<path d="M3.26-1.81A3.73 3.73 0 1 1 -3.23 1.87L-2.79 1.98A3.41 3.41 0 1 0 3.13-1.38z" fill="#342ea4"/>
<path d="M3.18-1.62A3.57 3.57 0 1 1 -3.02 1.9L-2.53 2.11A3.25 3.25 0 1 0 3.11-1.09z" fill="#3433ac"/>
<path d="M3.13-1.38A3.41 3.41 0 1 1 -2.79 1.98L-2.31 2.25A3.12 3.12 0 1 0 3.11-0.83z" fill="#3439b6"/>
<path d="M3.11-1.09A3.25 3.25 0 1 1 -2.53 2.11L-2.09 2.38A2.99 2.99 0 1 0 3.12-0.57z" fill="#3040c0"/>
<path d="M3.11-0.83A3.12 3.12 0 1 1 -2.31 2.25L-1.82 2.52A2.83 2.83 0 1 0 3.1-0.27z" fill="#2a4eca"/>
<path d="M3.12-0.57A2.99 2.99 0 1 1 -2.09 2.38L-1.61 2.58A2.67 2.67 0 1 0 3.04-0.06z" fill="#1958d9"/>
<path d="M3.1-0.27A2.83 2.83 0 1 1 -1.82 2.52L-1.47 2.5A2.51 2.51 0 1 0 2.9 0.02z" fill="#0a60df"/>
<path d="M3.04-0.06A2.67 2.67 0 1 1 -1.61 2.58L-1.46 2.19A2.35 2.35 0 1 0 2.63-0.13z" fill="#0462e1"/>
<path d="M2.9 0.02A2.51 2.51 0 1 1 -1.47 2.5L-1.5 1.96A2.27 2.27 0 1 0 2.45-0.28z" fill="#0e5ede"/>
<path d="M2.63-0.13A2.35 2.35 0 1 1 -1.46 2.19L-1.55 1.7A2.19 2.19 0 1 0 2.25-0.46z" fill="#2354d3"/>
<path d="M2.45-0.28A2.27 2.27 0 1 1 -1.5 1.96L-1.6 1.44A2.11 2.11 0 1 0 2.06-0.64z" fill="#2e45c5"/>
<path d="M2.25-0.46A2.19 2.19 0 1 1 -1.55 1.7L-1.64 1.22A2.03 2.03 0 1 0 1.88-0.78z" fill="#333dbb"/>
<path d="M2.06-0.64A2.11 2.11 0 1 1 -1.6 1.44L-1.6 0.95A1.87 1.87 0 1 0 1.64-0.89z" fill="#3536b1"/>
<path d="M1.88-0.78A2.03 2.03 0 1 1 -1.64 1.22L-1.34 1.09A1.71 1.71 0 1 0 1.62-0.59z" fill="#3430a8"/>
<path d="M1.64-0.89A1.87 1.87 0 1 1 -1.6 0.95L-1.16 1.28A1.64 1.64 0 1 0 1.69-0.34z" fill="#3531aa"/>
<path d="M1.62-0.59A1.71 1.71 0 1 1 -1.34 1.09L-0.99 1.46A1.59 1.59 0 1 0 1.77-0.1z" fill="#353ab5"/>
<path d="M1.69-0.34A1.64 1.64 0 1 1 -1.16 1.28L-0.82 1.66A1.53 1.53 0 1 0 1.85 0.15z" fill="#3341bf"/>
<path d="M1.77-0.1A1.59 1.59 0 1 1 -0.99 1.46L-0.65 1.86A1.48 1.48 0 1 0 1.93 0.39z" fill="#2d48c8"/>
<path d="M1.85 0.15A1.53 1.53 0 1 1 -0.82 1.66L-0.49 2.03A1.43 1.43 0 1 0 2 0.62z" fill="#2058d7"/>
<path d="M1.93 0.39A1.48 1.48 0 1 1 -0.65 1.86L-0.32 2.19A1.36 1.36 0 1 0 2.05 0.85z" fill="#0d62e0"/>
<path d="M2 0.62A1.43 1.43 0 1 1 -0.49 2.03L-0.15 2.17A1.2 1.2 0 1 0 1.94 0.98z" fill="#0568e1"/>
<path d="M2.05 0.85A1.36 1.36 0 1 1 -0.32 2.19L-0.21 1.9A1.12 1.12 0 1 0 1.74 0.79z" fill="#036ae1"/>
<path d="M1.94 0.98A1.2 1.2 0 1 1 -0.15 2.17L-0.29 1.66A1.07 1.07 0 1 0 1.57 0.6z" fill="#0569e1"/>
<path d="M1.74 0.79A1.12 1.12 0 1 1 -0.21 1.9L-0.36 1.44A1.03 1.03 0 1 0 1.43 0.43z" fill="#0d62e0"/>
<path d="M1.57 0.6A1.07 1.07 0 1 1 -0.29 1.66L-0.44 1.23A0.99 0.99 0 1 0 1.28 0.25z" fill="#1f59d8"/>
<path d="M1.43 0.43A1.03 1.03 0 1 1 -0.36 1.44L-0.52 0.97A0.93 0.93 0 1 0 1.1 0.05z" fill="#2d50cb"/>
<path d="M1.28 0.25A0.99 0.99 0 1 1 -0.44 1.23L-0.59 0.72A0.87 0.87 0 1 0 0.92-0.13z" fill="#3244c2"/>
<path d="M1.1 0.05A0.93 0.93 0 1 1 -0.52 0.97L-0.44 0.72A0.74 0.74 0 1 0 0.85-0.01z" fill="#343dbb"/>
<path d="M0.92-0.13A0.87 0.87 0 1 1 -0.59 0.72L-0.28 0.92A0.7 0.7 0 1 0 0.94 0.23z" fill="#313cbc"/>
<path d="M0.85-0.01A0.74 0.74 0 1 1 -0.44 0.72L-0.14 1.12A0.67 0.67 0 1 0 1.03 0.45z" fill="#2e49c8"/>
<path d="M0.94 0.23A0.7 0.7 0 1 1 -0.28 0.92L-0.01 1.31A0.65 0.65 0 1 0 1.12 0.66z" fill="#215cd9"/>
<path d="M1.03 0.45A0.67 0.67 0 1 1 -0.14 1.12L0.14 1.53A0.63 0.63 0 1 0 1.24 0.91z" fill="#1266e1"/>
<path d="M1.12 0.66A0.65 0.65 0 1 1 -0.01 1.31L0.28 1.73A0.61 0.61 0 1 0 1.34 1.12z" fill="#0e6ee2"/>
<path d="M1.24 0.91A0.63 0.63 0 1 1 0.14 1.53L0.42 1.94A0.59 0.59 0 1 0 1.45 1.36z" fill="#1275e2"/>
<path d="M1.34 1.12A0.61 0.61 0 1 1 0.28 1.73L0.54 2.13A0.58 0.58 0 1 0 1.55 1.56z" fill="#187ae0"/>
<path d="M1.45 1.36A0.59 0.59 0 1 1 0.42 1.94L0.67 2.33A0.57 0.57 0 1 0 1.66 1.77z" fill="#1d7fdd"/>
<path d="M1.55 1.56A0.58 0.58 0 1 1 0.54 2.13L0.81 2.54A0.55 0.55 0 1 0 1.77 2z" fill="#2083db"/>
<path d="M1.66 1.77A0.57 0.57 0 1 1 0.67 2.33L0.95 2.76A0.54 0.54 0 1 0 1.89 2.23z" fill="#2287d9"/>
<path d="M1.77 2A0.55 0.55 0 1 1 0.81 2.54L1.06 2.94A0.53 0.53 0 1 0 1.98 2.42z" fill="#228cd7"/>
<path d="M1.89 2.23A0.54 0.54 0 1 1 0.95 2.76L1.18 3.13A0.52 0.52 0 1 0 2.08 2.62z" fill="#2190d5"/>
<path d="M1.98 2.42A0.53 0.53 0 1 1 1.06 2.94L1.31 3.33A0.51 0.51 0 1 0 2.19 2.83z" fill="#1e95d5"/>
<path d="M2.08 2.62A0.52 0.52 0 1 1 1.18 3.13L1.43 3.52A0.5 0.5 0 1 0 2.29 3.04z" fill="#1a9ad4"/>
<path d="M2.19 2.83A0.51 0.51 0 1 1 1.31 3.33L1.56 3.73A0.48 0.48 0 1 0 2.4 3.25z" fill="#179fd3"/>
<path d="M2.29 3.04A0.5 0.5 0 1 1 1.43 3.52L1.69 3.93A0.47 0.47 0 1 0 2.51 3.47z" fill="#15a4d1"/>
<path d="M2.4 3.25A0.48 0.48 0 1 1 1.56 3.73L1.82 4.14A0.46 0.46 0 1 0 2.63 3.69z" fill="#15a8cf"/>
<path d="M2.51 3.47A0.47 0.47 0 1 1 1.69 3.93L1.96 4.36A0.45 0.45 0 1 0 2.74 3.91z" fill="#15abcb"/>
<path d="M2.63 3.69A0.46 0.46 0 1 1 1.82 4.14L2.09 4.57A0.44 0.44 0 1 0 2.86 4.14z" fill="#16aec6"/>
<path d="M2.74 3.91A0.45 0.45 0 1 1 1.96 4.36L2.23 4.79A0.43 0.43 0 1 0 2.97 4.37z" fill="#18b1c2"/>
<path d="M2.86 4.14A0.44 0.44 0 1 1 2.09 4.57L2.37 5.01A0.42 0.42 0 1 0 3.09 4.6z" fill="#1fb4bc"/>
<path d="M2.97 4.37A0.43 0.43 0 1 1 2.23 4.79L2.5 5.24A0.41 0.41 0 1 0 3.21 4.83z" fill="#26b6b7"/>
<path d="M3.09 4.6A0.42 0.42 0 1 1 2.37 5.01L2.64 5.46A0.4 0.4 0 1 0 3.33 5.07z" fill="#2fb9b1"/>
<path d="M3.21 4.83A0.41 0.41 0 1 1 2.5 5.24L2.78 5.68A0.39 0.39 0 1 0 3.45 5.3z" fill="#39bbaa"/>
<path d="M3.33 5.07A0.4 0.4 0 1 1 2.64 5.46L2.92 5.91A0.37 0.37 0 1 0 3.57 5.54z" fill="#44bda3"/>
<path d="M3.45 5.3A0.39 0.39 0 1 1 2.78 5.68L3.06 6.13A0.36 0.36 0 1 0 3.69 5.77z" fill="#51bf9c"/>
<path d="M3.57 5.54A0.37 0.37 0 1 1 2.92 5.91L3.2 6.35A0.35 0.35 0 1 0 3.81 6z" fill="#60c194"/>
<path d="M3.69 5.77A0.36 0.36 0 1 1 3.06 6.13L3.34 6.57A0.34 0.34 0 1 0 3.93 6.23z" fill="#6fc28d"/>
<path d="M3.81 6A0.35 0.35 0 1 1 3.2 6.35L3.48 6.79A0.33 0.33 0 1 0 4.05 6.46z" fill="#7ec386"/>
<path d="M3.93 6.23A0.34 0.34 0 1 1 3.34 6.57L3.61 7.01A0.32 0.32 0 1 0 4.17 6.69z" fill="#8cc380"/>
<path d="M4.05 6.46A0.33 0.33 0 1 1 3.48 6.79L3.75 7.22A0.31 0.31 0 1 0 4.28 6.92z" fill="#99c37b"/>
<path d="M4.17 6.69A0.32 0.32 0 1 1 3.61 7.01L3.88 7.43A0.3 0.3 0 1 0 4.39 7.14z" fill="#a5c276"/>
<path d="M4.28 6.92A0.31 0.31 0 1 1 3.75 7.22L4.01 7.64A0.29 0.29 0 1 0 4.51 7.36z" fill="#b0c271"/>
<path d="M4.39 7.14A0.3 0.3 0 1 1 3.88 7.43L4.14 7.84A0.28 0.28 0 1 0 4.61 7.57z" fill="#bbc16d"/>
<path d="M4.51 7.36A0.29 0.29 0 1 1 4.01 7.64L4.26 8.04A0.26 0.26 0 1 0 4.72 7.78z" fill="#c5c069"/>
<path d="M4.61 7.57A0.28 0.28 0 1 1 4.14 7.84L4.38 8.23A0.25 0.25 0 1 0 4.82 7.98z" fill="#cfbf65"/>
<path d="M4.72 7.78A0.26 0.26 0 1 1 4.26 8.04L4.5 8.42A0.24 0.24 0 1 0 4.93 8.18z" fill="#d8bf61"/>
<path d="M4.82 7.98A0.25 0.25 0 1 1 4.38 8.23L4.62 8.61A0.23 0.23 0 1 0 5.02 8.38z" fill="#e1be5d"/>
<path d="M4.93 8.18A0.24 0.24 0 1 1 4.5 8.42L4.76 8.83A0.22 0.22 0 1 0 5.14 8.61z" fill="#eabd59"/>
<path d="M5.02 8.38A0.23 0.23 0 1 1 4.62 8.61L4.9 9.04A0.2 0.2 0 1 0 5.25 8.83z" fill="#f3be54"/>
<path d="M5.14 8.61A0.22 0.22 0 1 1 4.76 8.83L5.03 9.23A0.19 0.19 0 1 0 5.36 9.05z" fill="#fbc04c"/>
<path d="M5.25 8.83A0.2 0.2 0 1 1 4.9 9.04L5.15 9.42A0.18 0.18 0 1 0 5.45 9.25z" fill="#fec545"/>
<path d="M5.36 9.05A0.19 0.19 0 1 1 5.03 9.23L5.29 9.64A0.16 0.16 0 1 0 5.57 9.48z" fill="#fecb3f"/>
<path d="M5.45 9.25A0.18 0.18 0 1 1 5.15 9.42L5.42 9.84A0.14 0.14 0 1 0 5.67 9.7z" fill="#fcd139"/>
<path d="M5.57 9.48A0.16 0.16 0 1 1 5.29 9.64L5.57 10.06A0.12 0.12 0 1 0 5.78 9.94z" fill="#f9d733"/>
<path d="M5.67 9.7A0.14 0.14 0 1 1 5.42 9.84L5.7 10.24A0.1 0.1 0 1 0 5.87 10.14z" fill="#f6de2d"/>
<path d="M5.78 9.94A0.12 0.12 0 1 1 5.57 10.06L5.86 10.45A0.07 0.07 0 1 0 5.97 10.39z" fill="#f5e526"/>
<path d="M5.87 10.14A0.1 0.1 0 1 1 5.7 10.24z" fill="#f5ed1e"/>
<path d="M5.97 10.39A0.07 0.07 0 1 1 5.86 10.45z" fill="#f8f614"/>
<path d="M5.7 10.24A0.1 0.1 0 1 1 5.88 10.15z" fill="#f8f614"/>
<path d="M5.58 10.06A0.12 0.12 0 1 1 5.78 9.94L5.98 10.39A0.07 0.07 0 1 0 5.86 10.46z" fill="#f5ed1e"/>
<path d="M5.43 9.85A0.14 0.14 0 1 1 5.67 9.71L5.88 10.15A0.1 0.1 0 1 0 5.7 10.24z" fill="#f5e526"/>
<path d="M5.3 9.65A0.16 0.16 0 1 1 5.57 9.49L5.78 9.94A0.12 0.12 0 1 0 5.58 10.06z" fill="#f6de2d"/>
<path d="M5.15 9.43A0.18 0.18 0 1 1 5.46 9.26L5.67 9.71A0.14 0.14 0 1 0 5.43 9.85z" fill="#f9d733"/>
<path d="M5.03 9.24A0.19 0.19 0 1 1 5.36 9.06L5.57 9.49A0.16 0.16 0 1 0 5.3 9.65z" fill="#fcd139"/>
<path d="M4.9 9.05A0.2 0.2 0 1 1 5.26 8.84L5.46 9.26A0.18 0.18 0 1 0 5.15 9.43z" fill="#fecb3f"/>
<path d="M4.77 8.84A0.22 0.22 0 1 1 5.15 8.62L5.36 9.06A0.19 0.19 0 1 0 5.03 9.24z" fill="#fec545"/>
<path d="M4.63 8.62A0.23 0.23 0 1 1 5.03 8.39L5.26 8.84A0.2 0.2 0 1 0 4.9 9.05z" fill="#fbc04c"/>
<path d="M4.51 8.43A0.24 0.24 0 1 1 4.93 8.2L5.15 8.62A0.22 0.22 0 1 0 4.77 8.84z" fill="#f3be54"/>
<path d="M4.39 8.25A0.25 0.25 0 1 1 4.83 8L5.03 8.39A0.23 0.23 0 1 0 4.63 8.62z" fill="#eabd59"/>
<path d="M4.27 8.05A0.26 0.26 0 1 1 4.73 7.79L4.93 8.2A0.24 0.24 0 1 0 4.51 8.43z" fill="#e1be5d"/>
<path d="M4.14 7.86A0.28 0.28 0 1 1 4.62 7.58L4.83 8A0.25 0.25 0 1 0 4.39 8.25z" fill="#d8bf61"/>
<path d="M4.02 7.65A0.29 0.29 0 1 1 4.51 7.37L4.73 7.79A0.26 0.26 0 1 0 4.27 8.05z" fill="#cfbf65"/>
<path d="M3.89 7.45A0.3 0.3 0 1 1 4.4 7.15L4.62 7.58A0.28 0.28 0 1 0 4.14 7.86z" fill="#c5c069"/>
<path d="M3.75 7.24A0.31 0.31 0 1 1 4.29 6.93L4.51 7.37A0.29 0.29 0 1 0 4.02 7.65z" fill="#bbc16d"/>
<path d="M3.62 7.02A0.32 0.32 0 1 1 4.18 6.71L4.4 7.15A0.3 0.3 0 1 0 3.89 7.45z" fill="#b0c271"/>
<path d="M3.49 6.81A0.33 0.33 0 1 1 4.06 6.48L4.29 6.93A0.31 0.31 0 1 0 3.75 7.24z" fill="#a5c276"/>
<path d="M3.35 6.59A0.34 0.34 0 1 1 3.94 6.25L4.18 6.71A0.32 0.32 0 1 0 3.62 7.02z" fill="#99c37b"/>
<path d="M3.21 6.37A0.35 0.35 0 1 1 3.82 6.02L4.06 6.48A0.33 0.33 0 1 0 3.49 6.81z" fill="#8cc380"/>
<path d="M3.07 6.15A0.36 0.36 0 1 1 3.7 5.79L3.94 6.25A0.34 0.34 0 1 0 3.35 6.59z" fill="#7ec386"/>
<path d="M2.93 5.93A0.37 0.37 0 1 1 3.58 5.56L3.82 6.02A0.35 0.35 0 1 0 3.21 6.37z" fill="#6fc28d"/>
<path d="M2.8 5.7A0.39 0.39 0 1 1 3.46 5.32L3.7 5.79A0.36 0.36 0 1 0 3.07 6.15z" fill="#60c194"/>
<path d="M2.66 5.48A0.4 0.4 0 1 1 3.34 5.09L3.58 5.56A0.37 0.37 0 1 0 2.93 5.93z" fill="#51bf9c"/>
<path d="M2.52 5.26A0.41 0.41 0 1 1 3.23 4.86L3.46 5.32A0.39 0.39 0 1 0 2.8 5.7z" fill="#44bda3"/>
<path d="M2.38 5.04A0.42 0.42 0 1 1 3.11 4.62L3.34 5.09A0.4 0.4 0 1 0 2.66 5.48z" fill="#39bbaa"/>
<path d="M2.24 4.82A0.43 0.43 0 1 1 2.99 4.39L3.23 4.86A0.41 0.41 0 1 0 2.52 5.26z" fill="#2fb9b1"/>
<path d="M2.1 4.6A0.44 0.44 0 1 1 2.87 4.16L3.11 4.62A0.42 0.42 0 1 0 2.38 5.04z" fill="#26b6b7"/>
<path d="M1.97 4.38A0.45 0.45 0 1 1 2.75 3.94L2.99 4.39A0.43 0.43 0 1 0 2.24 4.82z" fill="#1fb4bc"/>
<path d="M1.84 4.17A0.46 0.46 0 1 1 2.64 3.71L2.87 4.16A0.44 0.44 0 1 0 2.1 4.6z" fill="#18b1c2"/>
<path d="M1.7 3.96A0.47 0.47 0 1 1 2.53 3.49L2.75 3.94A0.45 0.45 0 1 0 1.97 4.38z" fill="#16aec6"/>
<path d="M1.57 3.75A0.48 0.48 0 1 1 2.42 3.27L2.64 3.71A0.46 0.46 0 1 0 1.84 4.17z" fill="#15abcb"/>
<path d="M1.45 3.55A0.5 0.5 0 1 1 2.31 3.06L2.53 3.49A0.47 0.47 0 1 0 1.7 3.96z" fill="#15a8cf"/>
<path d="M1.32 3.35A0.51 0.51 0 1 1 2.2 2.85L2.42 3.27A0.48 0.48 0 1 0 1.57 3.75z" fill="#15a4d1"/>
<path d="M1.2 3.16A0.52 0.52 0 1 1 2.1 2.65L2.31 3.06A0.5 0.5 0 1 0 1.45 3.55z" fill="#179fd3"/>
<path d="M1.08 2.97A0.53 0.53 0 1 1 2 2.45L2.2 2.85A0.51 0.51 0 1 0 1.32 3.35z" fill="#1a9ad4"/>
<path d="M0.96 2.79A0.54 0.54 0 1 1 1.9 2.26L2.1 2.65A0.52 0.52 0 1 0 1.2 3.16z" fill="#1e95d5"/>
<path d="M0.82 2.57A0.55 0.55 0 1 1 1.79 2.02L2 2.45A0.53 0.53 0 1 0 1.08 2.97z" fill="#2190d5"/>
<path d="M0.69 2.36A0.57 0.57 0 1 1 1.67 1.8L1.9 2.26A0.54 0.54 0 1 0 0.96 2.79z" fill="#228cd7"/>
<path d="M0.56 2.16A0.58 0.58 0 1 1 1.57 1.59L1.79 2.02A0.55 0.55 0 1 0 0.82 2.57z" fill="#2287d9"/>
<path d="M0.44 1.98A0.59 0.59 0 1 1 1.47 1.39L1.67 1.8A0.57 0.57 0 1 0 0.69 2.36z" fill="#2083db"/>
<path d="M0.3 1.76A0.61 0.61 0 1 1 1.36 1.15L1.57 1.59A0.58 0.58 0 1 0 0.56 2.16z" fill="#1d7fdd"/>
<path d="M0.16 1.56A0.63 0.63 0 1 1 1.26 0.94L1.47 1.39A0.59 0.59 0 1 0 0.44 1.98z" fill="#187ae0"/>
<path d="M0.01 1.34A0.65 0.65 0 1 1 1.14 0.7L1.36 1.15A0.61 0.61 0 1 0 0.3 1.76z" fill="#1275e2"/>
<path d="M-0.12 1.15A0.67 0.67 0 1 1 1.05 0.49L1.26 0.94A0.63 0.63 0 1 0 0.16 1.56z" fill="#0e6ee2"/>
<path d="M-0.26 0.96A0.7 0.7 0 1 1 0.96 0.27L1.14 0.7A0.65 0.65 0 1 0 0.01 1.34z" fill="#1266e1"/>
<path d="M-0.42 0.76A0.74 0.74 0 1 1 0.87 0.03L1.05 0.49A0.67 0.67 0 1 0 -0.12 1.15z" fill="#215cd9"/>
<path d="M-0.56 0.77A0.87 0.87 0 1 1 0.95-0.09L0.96 0.27A0.7 0.7 0 1 0 -0.26 0.96z" fill="#2e49c8"/>
<path d="M-0.49 1.02A0.93 0.93 0 1 1 1.13 0.1L0.87 0.03A0.74 0.74 0 1 0 -0.42 0.76z" fill="#313cbc"/>
<path d="M-0.41 1.28A0.99 0.99 0 1 1 1.31 0.3L0.95-0.09A0.87 0.87 0 1 0 -0.56 0.77z" fill="#343dbb"/>
<path d="M-0.33 1.5A1.03 1.03 0 1 1 1.46 0.48L1.13 0.1A0.93 0.93 0 1 0 -0.49 1.02z" fill="#3244c2"/>
<path d="M-0.26 1.71A1.07 1.07 0 1 1 1.6 0.66L1.31 0.3A0.99 0.99 0 1 0 -0.41 1.28z" fill="#2d50cb"/>
<path d="M-0.18 1.96A1.12 1.12 0 1 1 1.77 0.85L1.46 0.48A1.03 1.03 0 1 0 -0.33 1.5z" fill="#1f59d8"/>
<path d="M-0.12 2.23A1.2 1.2 0 1 1 1.98 1.04L1.6 0.66A1.07 1.07 0 1 0 -0.26 1.71z" fill="#0d62e0"/>
<path d="M-0.28 2.26A1.36 1.36 0 1 1 2.09 0.92L1.77 0.85A1.12 1.12 0 1 0 -0.18 1.96z" fill="#0569e1"/>
<path d="M-0.45 2.11A1.43 1.43 0 1 1 2.04 0.7L1.98 1.04A1.2 1.2 0 1 0 -0.12 2.23z" fill="#036ae1"/>
<path d="M-0.6 1.94A1.48 1.48 0 1 1 1.97 0.47L2.09 0.92A1.36 1.36 0 1 0 -0.28 2.26z" fill="#0568e1"/>
<path d="M-0.77 1.74A1.53 1.53 0 1 1 1.89 0.23L2.04 0.7A1.43 1.43 0 1 0 -0.45 2.11z" fill="#0d62e0"/>
<path d="M-0.95 1.55A1.59 1.59 0 1 1 1.81-0.02L1.97 0.47A1.48 1.48 0 1 0 -0.6 1.94z" fill="#2058d7"/>
<path d="M-1.11 1.36A1.64 1.64 0 1 1 1.74-0.26L1.89 0.23A1.53 1.53 0 1 0 -0.77 1.74z" fill="#2d48c8"/>
<path d="M-1.29 1.18A1.71 1.71 0 1 1 1.68-0.5L1.81-0.02A1.59 1.59 0 1 0 -0.95 1.55z" fill="#3341bf"/>
<path d="M-1.55 1.05A1.87 1.87 0 1 1 1.7-0.79L1.74-0.26A1.64 1.64 0 1 0 -1.11 1.36z" fill="#353ab5"/>
<path d="M-1.58 1.32A2.03 2.03 0 1 1 1.94-0.68L1.68-0.5A1.71 1.71 0 1 0 -1.29 1.18z" fill="#3531aa"/>
<path d="M-1.54 1.55A2.11 2.11 0 1 1 2.12-0.53L1.7-0.79A1.87 1.87 0 1 0 -1.55 1.05z" fill="#3430a8"/>
<path d="M-1.49 1.81A2.19 2.19 0 1 1 2.32-0.35L1.94-0.68A2.03 2.03 0 1 0 -1.58 1.32z" fill="#3536b1"/>
<path d="M-1.43 2.08A2.27 2.27 0 1 1 2.52-0.16L2.12-0.53A2.11 2.11 0 1 0 -1.54 1.55z" fill="#333dbb"/>
<path d="M-1.39 2.32A2.35 2.35 0 1 1 2.7-0.01L2.32-0.35A2.19 2.19 0 1 0 -1.49 1.81z" fill="#2e45c5"/>
<path d="M-1.4 2.63A2.51 2.51 0 1 1 2.97 0.15L2.52-0.16A2.27 2.27 0 1 0 -1.43 2.08z" fill="#2354d3"/>
<path d="M-1.53 2.72A2.67 2.67 0 1 1 3.12 0.08L2.7-0.01A2.35 2.35 0 1 0 -1.39 2.32z" fill="#0e5ede"/>
<path d="M-1.74 2.67A2.83 2.83 0 1 1 3.18-0.13L2.97 0.15A2.51 2.51 0 1 0 -1.4 2.63z" fill="#0462e1"/>
<path d="M-2 2.54A2.99 2.99 0 1 1 3.2-0.42L3.12 0.08A2.67 2.67 0 1 0 -1.53 2.72z" fill="#0a60df"/>
<path d="M-2.22 2.41A3.12 3.12 0 1 1 3.21-0.67L3.18-0.13A2.83 2.83 0 1 0 -1.74 2.67z" fill="#1958d9"/>
<path d="M-2.44 2.28A3.25 3.25 0 1 1 3.21-0.92L3.2-0.42A2.99 2.99 0 1 0 -2 2.54z" fill="#2a4eca"/>
<path d="M-2.69 2.16A3.41 3.41 0 1 1 3.23-1.21L3.21-0.67A3.12 3.12 0 1 0 -2.22 2.41z" fill="#3040c0"/>
<path d="M-2.92 2.09A3.57 3.57 0 1 1 3.29-1.44L3.21-0.92A3.25 3.25 0 1 0 -2.44 2.28z" fill="#3439b6"/>
<path d="M-3.11 2.06A3.73 3.73 0 1 1 3.37-1.62L3.23-1.21A3.41 3.41 0 1 0 -2.69 2.16z" fill="#3433ac"/>
<path d="M-3.29 2.08A3.89 3.89 0 1 1 3.47-1.76L3.29-1.44A3.57 3.57 0 1 0 -2.92 2.09z" fill="#342ea4"/>
<path d="M-3.4 2.12A4 4 0 1 1 3.56-1.83L3.37-1.62A3.73 3.73 0 1 0 -3.11 2.06z" fill="#332b9f"/>
<path d="M-3.4 2.12A4 4 0 1 1 3.56-1.83L3.47-1.76A3.89 3.89 0 1 0 -3.29 2.08z" fill="#33299c"/>
</g>
<path d="M320.1 253L320.1 310.5L354 340.5L413.7 323.3M320.1 310.5h1.6M320.1 291.3h1.6M320.1 272.2h1.6M320.1 253h1.6" stroke="#6e6e6e" stroke-width="1.1" fill="none"/>
<text x="316.1" y="311.1" text-anchor="end" font-size="9.3" fill="#2c2c2c">0</text>
<text x="316.1" y="291.9" text-anchor="end" font-size="9.3" fill="#2c2c2c">1</text>
<text x="316.1" y="272.8" text-anchor="end" font-size="9.3" fill="#2c2c2c">2</text>
<text x="316.1" y="253.6" text-anchor="end" font-size="9.3" fill="#2c2c2c">3</text>
<text x="314.8" y="321.9" text-anchor="end" font-size="9.3" fill="#2c2c2c">4</text>
<text x="323.3" y="329.4" text-anchor="end" font-size="9.3" fill="#2c2c2c">2</text>
<text x="331.8" y="336.9" text-anchor="end" font-size="9.3" fill="#2c2c2c">0</text>
<text x="340.2" y="344.4" text-anchor="end" font-size="9.3" fill="#2c2c2c">-2</text>
<text x="348.7" y="351.9" text-anchor="end" font-size="9.3" fill="#2c2c2c">-4</text>
<text x="362.6" y="352.9" text-anchor="middle" font-size="9.3" fill="#2c2c2c">-4</text>
<text x="377.5" y="348.6" text-anchor="middle" font-size="9.3" fill="#2c2c2c">-2</text>
<text x="389.5" y="344.3" text-anchor="middle" font-size="9.3" fill="#2c2c2c">0</text>
<text x="404.4" y="340" text-anchor="middle" font-size="9.3" fill="#2c2c2c">2</text>
<text x="419.3" y="335.7" text-anchor="middle" font-size="9.3" fill="#2c2c2c">4</text>
<text x="325.7" y="341.3" text-anchor="middle" font-size="9.3" fill="#2c2c2c">y</text>
<text x="397.7" y="348.1" text-anchor="middle" font-size="9.3" fill="#2c2c2c">x</text>
<text x="400.6" y="273.6" text-anchor="middle" font-size="9.2" fill="#2c2c2c">z=30</text>
<text x="297.5" y="245.2" font-size="9.6" fill="#8a8a8a" stroke="none">×10<tspan dy="-3.8" font-size="6.4">4</tspan></text>
<rect x="441.9" y="248" width="85.9" height="77.8" fill="#fff" stroke="#8c8c8c" stroke-width="1"/>
<path d="M441.9 325.8v-1.6M441.9 248v1.6M463.4 325.8v-1.6M463.4 248v1.6M484.8 325.8v-1.6M484.8 248v1.6M506.3 325.8v-1.6M506.3 248v1.6M527.8 325.8v-1.6M527.8 248v1.6M441.9 325.8h1.6M527.8 325.8h-1.6M441.9 299.9h1.6M527.8 299.9h-1.6M441.9 273.9h1.6M527.8 273.9h-1.6M441.9 248h1.6M527.8 248h-1.6" stroke="#8c8c8c" stroke-width="0.8" fill="none"/>
<path d="M441.9 325.6L442.4 325.5L443 325.4L443.5 325.4L444 325.2L444.6 325.1L445.1 324.9L445.7 324.7L446.2 324.5L446.7 324.3L447.3 324L447.8 323.6L448.3 323.3L448.9 322.9L449.4 322.5L450 322L450.5 321.5L451 321L451.6 320.5L452.1 320L452.6 319.5L453.2 319L453.7 318.5L454.2 318.1L454.8 317.7L455.3 317.4L455.9 317.1L456.4 317L456.9 316.9L457.5 316.8L458 317L458.5 317.3L459.1 317.8L459.6 318.5L460.2 319.4L460.7 320.3L461.2 321.2L461.8 322.2L462.3 323.1L462.8 323.9L463.4 324.7L463.9 325.2L464.4 325.6L465 325.8L465.5 325.7L466.1 325.2L466.6 324.4L467.1 323.2L467.7 321.7L468.2 320.1L468.7 318.5L469.3 317L469.8 315.8L470.4 314.8L470.9 314.3L471.4 314.1L472 314.6L472.5 315.5L473 316.9L473.6 318.7L474.1 320.5L474.6 322.3L475.2 323.9L475.7 325L476.3 325.7L476.8 325.7L477.3 324.4L477.9 321.6L478.4 317.6L478.9 312.4L479.5 306.3L480 299.5L480.6 292.3L481.1 285.1L481.6 278L482.2 271.5L482.7 265.7L483.2 261L483.8 257.4L484.3 255.2L484.8 254.5L485.4 255.2L485.9 257.4L486.5 261L487 265.7L487.5 271.5L488.1 278L488.6 285.1L489.1 292.3L489.7 299.5L490.2 306.3L490.8 312.4L491.3 317.6L491.8 321.6L492.4 324.4L492.9 325.7L493.4 325.7L494 325L494.5 323.9L495.1 322.3L495.6 320.5L496.1 318.7L496.7 316.9L497.2 315.5L497.7 314.6L498.3 314.1L498.8 314.3L499.3 314.8L499.9 315.8L500.4 317L501 318.5L501.5 320.1L502 321.7L502.6 323.2L503.1 324.4L503.6 325.2L504.2 325.7L504.7 325.8L505.3 325.6L505.8 325.2L506.3 324.7L506.9 323.9L507.4 323.1L507.9 322.2L508.5 321.2L509 320.3L509.5 319.4L510.1 318.5L510.6 317.8L511.2 317.3L511.7 317L512.2 316.8L512.8 316.9L513.3 317L513.8 317.1L514.4 317.4L514.9 317.7L515.5 318.1L516 318.5L516.5 319L517.1 319.5L517.6 320L518.1 320.5L518.7 321L519.2 321.5L519.7 322L520.3 322.5L520.8 322.9L521.4 323.3L521.9 323.6L522.4 324L523 324.3L523.5 324.5L524 324.7L524.6 324.9L525.1 325.1L525.7 325.2L526.2 325.4L526.7 325.4L527.3 325.5L527.8 325.6" stroke="#ff22f6" stroke-width="2.1" fill="none" stroke-linejoin="round"/>
<path d="M441.9 325.6L442.4 325.5L443 325.4L443.5 325.4L444 325.2L444.6 325.1L445.1 324.9L445.7 324.7L446.2 324.5L446.7 324.3L447.3 324L447.8 323.6L448.3 323.3L448.9 322.9L449.4 322.5L450 322L450.5 321.5L451 321L451.6 320.5L452.1 320L452.6 319.5L453.2 319L453.7 318.5L454.2 318.1L454.8 317.7L455.3 317.4L455.9 317.1L456.4 317L456.9 316.9L457.5 316.8L458 317L458.5 317.3L459.1 317.8L459.6 318.5L460.2 319.4L460.7 320.3L461.2 321.2L461.8 322.2L462.3 323.1L462.8 323.9L463.4 324.7L463.9 325.2L464.4 325.6L465 325.8L465.5 325.7L466.1 325.2L466.6 324.4L467.1 323.2L467.7 321.7L468.2 320.1L468.7 318.5L469.3 317L469.8 315.8L470.4 314.8L470.9 314.3L471.4 314.1L472 314.6L472.5 315.5L473 316.9L473.6 318.7L474.1 320.5L474.6 322.3L475.2 323.9L475.7 325L476.3 325.7L476.8 325.7L477.3 324.4L477.9 321.6L478.4 317.6L478.9 312.4L479.5 306.3L480 299.5L480.6 292.3L481.1 285.1L481.6 278L482.2 271.5L482.7 265.7L483.2 261L483.8 257.4L484.3 255.2L484.8 254.5L485.4 255.2L485.9 257.4L486.5 261L487 265.7L487.5 271.5L488.1 278L488.6 285.1L489.1 292.3L489.7 299.5L490.2 306.3L490.8 312.4L491.3 317.6L491.8 321.6L492.4 324.4L492.9 325.7L493.4 325.7L494 325L494.5 323.9L495.1 322.3L495.6 320.5L496.1 318.7L496.7 316.9L497.2 315.5L497.7 314.6L498.3 314.1L498.8 314.3L499.3 314.8L499.9 315.8L500.4 317L501 318.5L501.5 320.1L502 321.7L502.6 323.2L503.1 324.4L503.6 325.2L504.2 325.7L504.7 325.8L505.3 325.6L505.8 325.2L506.3 324.7L506.9 323.9L507.4 323.1L507.9 322.2L508.5 321.2L509 320.3L509.5 319.4L510.1 318.5L510.6 317.8L511.2 317.3L511.7 317L512.2 316.8L512.8 316.9L513.3 317L513.8 317.1L514.4 317.4L514.9 317.7L515.5 318.1L516 318.5L516.5 319L517.1 319.5L517.6 320L518.1 320.5L518.7 321L519.2 321.5L519.7 322L520.3 322.5L520.8 322.9L521.4 323.3L521.9 323.6L522.4 324L523 324.3L523.5 324.5L524 324.7L524.6 324.9L525.1 325.1L525.7 325.2L526.2 325.4L526.7 325.4L527.3 325.5L527.8 325.6" stroke="#4a38f4" stroke-width="2.1" fill="none" stroke-dasharray="3.8 3.8" stroke-linejoin="round"/>
<text x="442.4" y="339" text-anchor="middle" font-size="9.8" fill="#2c2c2c">-4</text>
<text x="463.9" y="339" text-anchor="middle" font-size="9.8" fill="#2c2c2c">-2</text>
<text x="484.8" y="339" text-anchor="middle" font-size="9.8" fill="#2c2c2c">0</text>
<text x="506.3" y="339" text-anchor="middle" font-size="9.8" fill="#2c2c2c">2</text>
<text x="527.8" y="339" text-anchor="middle" font-size="9.8" fill="#2c2c2c">4</text>
<text x="438.3" y="329.2" text-anchor="end" font-size="9.8" fill="#2c2c2c">0</text>
<text x="438.3" y="303.3" text-anchor="end" font-size="9.8" fill="#2c2c2c">1</text>
<text x="438.3" y="277.3" text-anchor="end" font-size="9.8" fill="#2c2c2c">2</text>
<text x="438.3" y="251.4" text-anchor="end" font-size="9.8" fill="#2c2c2c">3</text>
<text x="484.8" y="352.4" text-anchor="middle" font-size="9.8" fill="#2c2c2c">x</text>
<text x="442.9" y="245.6" font-size="9.8" fill="#555" stroke="none">×10<tspan dy="-4" font-size="6.8">4</tspan></text>
<path d="M77.5 424.2v-57.5M92.4 419.9v-57.5M107.4 415.6v-57.5M122.3 411.3v-57.5M130.8 418.8v-57.5M139.2 426.3v-57.5M147.7 433.8v-57.5M156.2 441.3v-57.5M62.6 428.5L122.3 411.3L156.2 441.3M62.6 399.8L122.3 382.6L156.2 412.6M62.6 371L122.3 353.8L156.2 383.8M71.1 436L130.8 418.8M77.5 424.2L111.4 454.2M79.5 443.5L139.2 426.3M92.4 419.9L126.3 449.9M88 451L147.7 433.8M107.4 415.6L141.3 445.6" stroke="#e4e4e4" stroke-width="0.8" fill="none"/>
<path d="M62.6 428.5L96.5 458.5L156.2 441.3L122.3 411.3z" fill="#322798"/>
<g transform="matrix(7.4625 -2.1500 -4.2375 -3.7500 109.4 434.9)">
<path d="M3.44-2.03A4 4 0 1 1 -3.51 1.92L-3.3 1.88A3.8 3.8 0 1 0 3.31-1.87z" fill="#33299c"/>
<path d="M3.41-2A3.96 3.96 0 1 1 -3.47 1.91L-3.11 1.89A3.64 3.64 0 1 0 3.22-1.7z" fill="#332a9e"/>
<path d="M3.31-1.87A3.8 3.8 0 1 1 -3.3 1.88L-2.9 1.93A3.48 3.48 0 1 0 3.14-1.51z" fill="#342ca2"/>
<path d="M3.22-1.7A3.64 3.64 0 1 1 -3.11 1.89L-2.68 1.99A3.32 3.32 0 1 0 3.09-1.28z" fill="#342fa7"/>
<path d="M3.14-1.51A3.48 3.48 0 1 1 -2.9 1.93L-2.46 2.07A3.16 3.16 0 1 0 3.03-1.05z" fill="#3434ae"/>
<path d="M3.09-1.28A3.32 3.32 0 1 1 -2.68 1.99L-2.24 2.12A3 3 0 1 0 2.97-0.84z" fill="#3338b5"/>
<path d="M3.03-1.05A3.16 3.16 0 1 1 -2.46 2.07L-2.05 2.13A2.84 2.84 0 1 0 2.88-0.67z" fill="#313dbc"/>
<path d="M2.97-0.84A3 3 0 1 1 -2.24 2.12L-1.91 2.06A2.68 2.68 0 1 0 2.75-0.59z" fill="#2e40c1"/>
<path d="M2.88-0.67A2.84 2.84 0 1 1 -2.05 2.13L-1.84 1.86A2.52 2.52 0 1 0 2.54-0.63z" fill="#2c41c3"/>
<path d="M2.75-0.59A2.68 2.68 0 1 1 -1.91 2.06L-1.83 1.56A2.36 2.36 0 1 0 2.27-0.77z" fill="#2f40c0"/>
<path d="M2.54-0.63A2.52 2.52 0 1 1 -1.84 1.86L-1.82 1.24A2.2 2.2 0 1 0 2-0.93z" fill="#333ab8"/>
<path d="M2.27-0.77A2.36 2.36 0 1 1 -1.83 1.56L-1.77 1.02A2.04 2.04 0 1 0 1.78-1z" fill="#3533ac"/>
<path d="M2-0.93A2.2 2.2 0 1 1 -1.82 1.24L-1.58 1.01A1.88 1.88 0 1 0 1.68-0.84z" fill="#342da3"/>
<path d="M1.78-1A2.04 2.04 0 1 1 -1.77 1.02L-1.36 1.2A1.78 1.78 0 1 0 1.73-0.55z" fill="#342da2"/>
<path d="M1.68-0.84A1.88 1.88 0 1 1 -1.58 1.01L-1.18 1.39A1.71 1.71 0 1 0 1.8-0.3z" fill="#3533ac"/>
<path d="M1.73-0.55A1.78 1.78 0 1 1 -1.36 1.2L-1.02 1.57A1.66 1.66 0 1 0 1.87-0.07z" fill="#353bb7"/>
<path d="M1.8-0.3A1.71 1.71 0 1 1 -1.18 1.39L-0.85 1.75A1.61 1.61 0 1 0 1.94 0.17z" fill="#3241c0"/>
<path d="M1.87-0.07A1.66 1.66 0 1 1 -1.02 1.57L-0.69 1.93A1.55 1.55 0 1 0 2.01 0.4z" fill="#2e4ec9"/>
<path d="M1.94 0.17A1.61 1.61 0 1 1 -0.85 1.75L-0.5 2.13A1.49 1.49 0 1 0 2.09 0.66z" fill="#2057d6"/>
<path d="M2.01 0.4A1.55 1.55 0 1 1 -0.69 1.93L-0.27 2.33A1.39 1.39 0 1 0 2.14 0.96z" fill="#0d61df"/>
<path d="M2.09 0.66A1.49 1.49 0 1 1 -0.5 2.13L-0.15 2.21A1.23 1.23 0 1 0 1.98 1.01z" fill="#0468e1"/>
<path d="M2.14 0.96A1.39 1.39 0 1 1 -0.27 2.33L-0.22 1.93A1.14 1.14 0 1 0 1.77 0.8z" fill="#036ae1"/>
<path d="M1.98 1.01A1.23 1.23 0 1 1 -0.15 2.21L-0.29 1.69A1.09 1.09 0 1 0 1.6 0.62z" fill="#0568e1"/>
<path d="M1.77 0.8A1.14 1.14 0 1 1 -0.22 1.93L-0.38 1.43A1.04 1.04 0 1 0 1.42 0.4z" fill="#1060df"/>
<path d="M1.6 0.62A1.09 1.09 0 1 1 -0.29 1.69L-0.47 1.16A0.99 0.99 0 1 0 1.24 0.19z" fill="#2456d4"/>
<path d="M1.42 0.4A1.04 1.04 0 1 1 -0.38 1.43L-0.55 0.92A0.93 0.93 0 1 0 1.07 0z" fill="#2f47c6"/>
<path d="M1.24 0.19A0.99 0.99 0 1 1 -0.47 1.16L-0.6 0.7A0.87 0.87 0 1 0 0.91-0.16z" fill="#3340be"/>
<path d="M1.07 0A0.93 0.93 0 1 1 -0.55 0.92L-0.43 0.73A0.74 0.74 0 1 0 0.85 0z" fill="#353bb7"/>
<path d="M0.91-0.16A0.87 0.87 0 1 1 -0.6 0.7L-0.26 0.95A0.7 0.7 0 1 0 0.95 0.27z" fill="#323cba"/>
<path d="M0.85 0A0.74 0.74 0 1 1 -0.43 0.73L-0.11 1.16A0.67 0.67 0 1 0 1.05 0.5z" fill="#2f48c8"/>
<path d="M0.95 0.27A0.7 0.7 0 1 1 -0.26 0.95L0.03 1.36A0.65 0.65 0 1 0 1.16 0.72z" fill="#225bd8"/>
<path d="M1.05 0.5A0.67 0.67 0 1 1 -0.11 1.16L0.18 1.6A0.63 0.63 0 1 0 1.28 0.98z" fill="#1266e1"/>
<path d="M1.16 0.72A0.65 0.65 0 1 1 0.03 1.36L0.32 1.81A0.61 0.61 0 1 0 1.39 1.2z" fill="#0e6ee2"/>
<path d="M1.28 0.98A0.63 0.63 0 1 1 0.18 1.6L0.48 2.04A0.59 0.59 0 1 0 1.51 1.45z" fill="#1275e2"/>
<path d="M1.39 1.2A0.61 0.61 0 1 1 0.32 1.81L0.6 2.24A0.58 0.58 0 1 0 1.61 1.67z" fill="#187ae0"/>
<path d="M1.51 1.45A0.59 0.59 0 1 1 0.48 2.04L0.74 2.45A0.57 0.57 0 1 0 1.72 1.89z" fill="#1d7fdd"/>
<path d="M1.61 1.67A0.58 0.58 0 1 1 0.6 2.24L0.88 2.67A0.55 0.55 0 1 0 1.84 2.13z" fill="#2083db"/>
<path d="M1.72 1.89A0.57 0.57 0 1 1 0.74 2.45L1.03 2.9A0.54 0.54 0 1 0 1.97 2.37z" fill="#2287d9"/>
<path d="M1.84 2.13A0.55 0.55 0 1 1 0.88 2.67L1.15 3.1A0.53 0.53 0 1 0 2.07 2.58z" fill="#228cd7"/>
<path d="M1.97 2.37A0.54 0.54 0 1 1 1.03 2.9L1.28 3.3A0.52 0.52 0 1 0 2.18 2.79z" fill="#2190d5"/>
<path d="M2.07 2.58A0.53 0.53 0 1 1 1.15 3.1L1.41 3.5A0.51 0.51 0 1 0 2.29 3z" fill="#1e95d5"/>
<path d="M2.18 2.79A0.52 0.52 0 1 1 1.28 3.3L1.54 3.71A0.5 0.5 0 1 0 2.4 3.22z" fill="#1a9ad4"/>
<path d="M2.29 3A0.51 0.51 0 1 1 1.41 3.5L1.67 3.93A0.48 0.48 0 1 0 2.51 3.45z" fill="#179fd3"/>
<path d="M2.4 3.22A0.5 0.5 0 1 1 1.54 3.71L1.81 4.15A0.47 0.47 0 1 0 2.63 3.68z" fill="#15a4d1"/>
<path d="M2.51 3.45A0.48 0.48 0 1 1 1.67 3.93L1.95 4.37A0.46 0.46 0 1 0 2.75 3.91z" fill="#15a8cf"/>
<path d="M2.63 3.68A0.47 0.47 0 1 1 1.81 4.15L2.09 4.59A0.45 0.45 0 1 0 2.87 4.15z" fill="#15abcb"/>
<path d="M2.75 3.91A0.46 0.46 0 1 1 1.95 4.37L2.23 4.82A0.44 0.44 0 1 0 3 4.39z" fill="#16aec6"/>
<path d="M2.87 4.15A0.45 0.45 0 1 1 2.09 4.59L2.38 5.05A0.43 0.43 0 1 0 3.12 4.63z" fill="#18b1c2"/>
<path d="M3 4.39A0.44 0.44 0 1 1 2.23 4.82L2.52 5.29A0.42 0.42 0 1 0 3.25 4.87z" fill="#1fb4bc"/>
<path d="M3.12 4.63A0.43 0.43 0 1 1 2.38 5.05L2.67 5.52A0.41 0.41 0 1 0 3.38 5.12z" fill="#26b6b7"/>
<path d="M3.25 4.87A0.42 0.42 0 1 1 2.52 5.29L2.81 5.76A0.4 0.4 0 1 0 3.5 5.37z" fill="#2fb9b1"/>
<path d="M3.38 5.12A0.41 0.41 0 1 1 2.67 5.52L2.96 5.99A0.39 0.39 0 1 0 3.63 5.61z" fill="#39bbaa"/>
<path d="M3.5 5.37A0.4 0.4 0 1 1 2.81 5.76L3.11 6.23A0.37 0.37 0 1 0 3.76 5.86z" fill="#44bda3"/>
<path d="M3.63 5.61A0.39 0.39 0 1 1 2.96 5.99L3.25 6.47A0.36 0.36 0 1 0 3.89 6.11z" fill="#51bf9c"/>
<path d="M3.76 5.86A0.37 0.37 0 1 1 3.11 6.23L3.4 6.7A0.35 0.35 0 1 0 4.01 6.35z" fill="#60c194"/>
<path d="M3.89 6.11A0.36 0.36 0 1 1 3.25 6.47L3.55 6.94A0.34 0.34 0 1 0 4.14 6.6z" fill="#6fc28d"/>
<path d="M4.01 6.35A0.35 0.35 0 1 1 3.4 6.7L3.69 7.17A0.33 0.33 0 1 0 4.26 6.84z" fill="#7ec386"/>
<path d="M4.14 6.6A0.34 0.34 0 1 1 3.55 6.94L3.83 7.4A0.32 0.32 0 1 0 4.39 7.08z" fill="#8cc380"/>
<path d="M4.26 6.84A0.33 0.33 0 1 1 3.69 7.17L3.97 7.62A0.31 0.31 0 1 0 4.51 7.32z" fill="#99c37b"/>
<path d="M4.39 7.08A0.32 0.32 0 1 1 3.83 7.4L4.11 7.85A0.3 0.3 0 1 0 4.63 7.55z" fill="#a5c276"/>
<path d="M4.51 7.32A0.31 0.31 0 1 1 3.97 7.62L4.25 8.06A0.29 0.29 0 1 0 4.75 7.78z" fill="#b0c271"/>
<path d="M4.63 7.55A0.3 0.3 0 1 1 4.11 7.85L4.38 8.28A0.28 0.28 0 1 0 4.86 8.01z" fill="#bbc16d"/>
<path d="M4.75 7.78A0.29 0.29 0 1 1 4.25 8.06L4.52 8.49A0.26 0.26 0 1 0 4.98 8.23z" fill="#c5c069"/>
<path d="M4.86 8.01A0.28 0.28 0 1 1 4.38 8.28L4.65 8.69A0.25 0.25 0 1 0 5.09 8.44z" fill="#cfbf65"/>
<path d="M4.98 8.23A0.26 0.26 0 1 1 4.52 8.49L4.77 8.89A0.24 0.24 0 1 0 5.19 8.65z" fill="#d8bf61"/>
<path d="M5.09 8.44A0.25 0.25 0 1 1 4.65 8.69L4.89 9.09A0.23 0.23 0 1 0 5.3 8.86z" fill="#e1be5d"/>
<path d="M5.19 8.65A0.24 0.24 0 1 1 4.77 8.89L5.04 9.32A0.22 0.22 0 1 0 5.42 9.11z" fill="#eabd59"/>
<path d="M5.3 8.86A0.23 0.23 0 1 1 4.89 9.09L5.18 9.54A0.2 0.2 0 1 0 5.54 9.34z" fill="#f3be54"/>
<path d="M5.42 9.11A0.22 0.22 0 1 1 5.04 9.32L5.32 9.75A0.19 0.19 0 1 0 5.65 9.57z" fill="#fbc04c"/>
<path d="M5.54 9.34A0.2 0.2 0 1 1 5.18 9.54L5.45 9.95A0.18 0.18 0 1 0 5.76 9.78z" fill="#fec545"/>
<path d="M5.65 9.57A0.19 0.19 0 1 1 5.32 9.75L5.6 10.18A0.16 0.16 0 1 0 5.88 10.03z" fill="#fecb3f"/>
<path d="M5.76 9.78A0.18 0.18 0 1 1 5.45 9.95L5.74 10.39A0.14 0.14 0 1 0 5.99 10.25z" fill="#fcd139"/>
<path d="M5.88 10.03A0.16 0.16 0 1 1 5.6 10.18L5.89 10.62A0.12 0.12 0 1 0 6.1 10.5z" fill="#f9d733"/>
<path d="M5.99 10.25A0.14 0.14 0 1 1 5.74 10.39L6.03 10.82A0.1 0.1 0 1 0 6.2 10.72z" fill="#f6de2d"/>
<path d="M6.1 10.5A0.12 0.12 0 1 1 5.89 10.62L6.2 11.05A0.07 0.07 0 1 0 6.31 10.98z" fill="#f5e526"/>
<path d="M6.2 10.72A0.1 0.1 0 1 1 6.03 10.82z" fill="#f5ed1e"/>
<path d="M6.31 10.98A0.07 0.07 0 1 1 6.2 11.05z" fill="#f8f614"/>
<path d="M6.03 10.82A0.1 0.1 0 1 1 6.2 10.73z" fill="#f8f614"/>
<path d="M5.9 10.63A0.12 0.12 0 1 1 6.11 10.51L6.31 10.98A0.07 0.07 0 1 0 6.2 11.05z" fill="#f5ed1e"/>
<path d="M5.74 10.4A0.14 0.14 0 1 1 5.99 10.26L6.2 10.73A0.1 0.1 0 1 0 6.03 10.82z" fill="#f5e526"/>
<path d="M5.6 10.19A0.16 0.16 0 1 1 5.88 10.03L6.11 10.51A0.12 0.12 0 1 0 5.9 10.63z" fill="#f6de2d"/>
<path d="M5.45 9.96A0.18 0.18 0 1 1 5.76 9.79L5.99 10.26A0.14 0.14 0 1 0 5.74 10.4z" fill="#f9d733"/>
<path d="M5.33 9.76A0.19 0.19 0 1 1 5.66 9.58L5.88 10.03A0.16 0.16 0 1 0 5.6 10.19z" fill="#fcd139"/>
<path d="M5.19 9.55A0.2 0.2 0 1 1 5.55 9.35L5.76 9.79A0.18 0.18 0 1 0 5.45 9.96z" fill="#fecb3f"/>
<path d="M5.05 9.33A0.22 0.22 0 1 1 5.43 9.12L5.66 9.58A0.19 0.19 0 1 0 5.33 9.76z" fill="#fec545"/>
<path d="M4.9 9.1A0.23 0.23 0 1 1 5.3 8.87L5.55 9.35A0.2 0.2 0 1 0 5.19 9.55z" fill="#fbc04c"/>
<path d="M4.78 8.91A0.24 0.24 0 1 1 5.2 8.67L5.43 9.12A0.22 0.22 0 1 0 5.05 9.33z" fill="#f3be54"/>
<path d="M4.65 8.71A0.25 0.25 0 1 1 5.09 8.46L5.3 8.87A0.23 0.23 0 1 0 4.9 9.1z" fill="#eabd59"/>
<path d="M4.52 8.5A0.26 0.26 0 1 1 4.98 8.24L5.2 8.67A0.24 0.24 0 1 0 4.78 8.91z" fill="#e1be5d"/>
<path d="M4.39 8.29A0.28 0.28 0 1 1 4.87 8.02L5.09 8.46A0.25 0.25 0 1 0 4.65 8.71z" fill="#d8bf61"/>
<path d="M4.26 8.08A0.29 0.29 0 1 1 4.76 7.8L4.98 8.24A0.26 0.26 0 1 0 4.52 8.5z" fill="#cfbf65"/>
<path d="M4.12 7.86A0.3 0.3 0 1 1 4.64 7.57L4.87 8.02A0.28 0.28 0 1 0 4.39 8.29z" fill="#c5c069"/>
<path d="M3.98 7.64A0.31 0.31 0 1 1 4.52 7.33L4.76 7.8A0.29 0.29 0 1 0 4.26 8.08z" fill="#bbc16d"/>
<path d="M3.84 7.41A0.32 0.32 0 1 1 4.4 7.1L4.64 7.57A0.3 0.3 0 1 0 4.12 7.86z" fill="#b0c271"/>
<path d="M3.7 7.18A0.33 0.33 0 1 1 4.27 6.86L4.52 7.33A0.31 0.31 0 1 0 3.98 7.64z" fill="#a5c276"/>
<path d="M3.56 6.95A0.34 0.34 0 1 1 4.15 6.62L4.4 7.1A0.32 0.32 0 1 0 3.84 7.41z" fill="#99c37b"/>
<path d="M3.41 6.72A0.35 0.35 0 1 1 4.02 6.37L4.27 6.86A0.33 0.33 0 1 0 3.7 7.18z" fill="#8cc380"/>
<path d="M3.27 6.49A0.36 0.36 0 1 1 3.9 6.13L4.15 6.62A0.34 0.34 0 1 0 3.56 6.95z" fill="#7ec386"/>
<path d="M3.12 6.25A0.37 0.37 0 1 1 3.77 5.88L4.02 6.37A0.35 0.35 0 1 0 3.41 6.72z" fill="#6fc28d"/>
<path d="M2.97 6.01A0.39 0.39 0 1 1 3.64 5.63L3.9 6.13A0.36 0.36 0 1 0 3.27 6.49z" fill="#60c194"/>
<path d="M2.83 5.78A0.4 0.4 0 1 1 3.51 5.39L3.77 5.88A0.37 0.37 0 1 0 3.12 6.25z" fill="#51bf9c"/>
<path d="M2.68 5.54A0.41 0.41 0 1 1 3.39 5.14L3.64 5.63A0.39 0.39 0 1 0 2.97 6.01z" fill="#44bda3"/>
<path d="M2.53 5.31A0.42 0.42 0 1 1 3.26 4.9L3.51 5.39A0.4 0.4 0 1 0 2.83 5.78z" fill="#39bbaa"/>
<path d="M2.39 5.08A0.43 0.43 0 1 1 3.14 4.65L3.39 5.14A0.41 0.41 0 1 0 2.68 5.54z" fill="#2fb9b1"/>
<path d="M2.25 4.85A0.44 0.44 0 1 1 3.01 4.41L3.26 4.9A0.42 0.42 0 1 0 2.53 5.31z" fill="#26b6b7"/>
<path d="M2.1 4.62A0.45 0.45 0 1 1 2.89 4.17L3.14 4.65A0.43 0.43 0 1 0 2.39 5.08z" fill="#1fb4bc"/>
<path d="M1.96 4.39A0.46 0.46 0 1 1 2.77 3.94L3.01 4.41A0.44 0.44 0 1 0 2.25 4.85z" fill="#18b1c2"/>
<path d="M1.82 4.17A0.47 0.47 0 1 1 2.65 3.7L2.89 4.17A0.45 0.45 0 1 0 2.1 4.62z" fill="#16aec6"/>
<path d="M1.69 3.95A0.48 0.48 0 1 1 2.53 3.47L2.77 3.94A0.46 0.46 0 1 0 1.96 4.39z" fill="#15abcb"/>
<path d="M1.55 3.74A0.5 0.5 0 1 1 2.41 3.25L2.65 3.7A0.47 0.47 0 1 0 1.82 4.17z" fill="#15a8cf"/>
<path d="M1.42 3.53A0.51 0.51 0 1 1 2.3 3.03L2.53 3.47A0.48 0.48 0 1 0 1.69 3.95z" fill="#15a4d1"/>
<path d="M1.29 3.32A0.52 0.52 0 1 1 2.19 2.81L2.41 3.25A0.5 0.5 0 1 0 1.55 3.74z" fill="#179fd3"/>
<path d="M1.17 3.13A0.53 0.53 0 1 1 2.09 2.6L2.3 3.03A0.51 0.51 0 1 0 1.42 3.53z" fill="#1a9ad4"/>
<path d="M1.05 2.93A0.54 0.54 0 1 1 1.98 2.4L2.19 2.81A0.52 0.52 0 1 0 1.29 3.32z" fill="#1e95d5"/>
<path d="M0.9 2.7A0.55 0.55 0 1 1 1.86 2.15L2.09 2.6A0.53 0.53 0 1 0 1.17 3.13z" fill="#2190d5"/>
<path d="M0.76 2.48A0.57 0.57 0 1 1 1.74 1.92L1.98 2.4A0.54 0.54 0 1 0 1.05 2.93z" fill="#228cd7"/>
<path d="M0.62 2.27A0.58 0.58 0 1 1 1.63 1.7L1.86 2.15A0.55 0.55 0 1 0 0.9 2.7z" fill="#2287d9"/>
<path d="M0.49 2.07A0.59 0.59 0 1 1 1.53 1.48L1.74 1.92A0.57 0.57 0 1 0 0.76 2.48z" fill="#2083db"/>
<path d="M0.34 1.84A0.61 0.61 0 1 1 1.4 1.24L1.63 1.7A0.58 0.58 0 1 0 0.62 2.27z" fill="#1d7fdd"/>
<path d="M0.2 1.63A0.63 0.63 0 1 1 1.3 1.01L1.53 1.48A0.59 0.59 0 1 0 0.49 2.07z" fill="#187ae0"/>
<path d="M0.05 1.4A0.65 0.65 0 1 1 1.18 0.75L1.4 1.24A0.61 0.61 0 1 0 0.34 1.84z" fill="#1275e2"/>
<path d="M-0.09 1.19A0.67 0.67 0 1 1 1.07 0.53L1.3 1.01A0.63 0.63 0 1 0 0.2 1.63z" fill="#0e6ee2"/>
<path d="M-0.24 0.99A0.7 0.7 0 1 1 0.97 0.3L1.18 0.75A0.65 0.65 0 1 0 0.05 1.4z" fill="#1266e1"/>
<path d="M-0.41 0.77A0.74 0.74 0 1 1 0.88 0.04L1.07 0.53A0.67 0.67 0 1 0 -0.09 1.19z" fill="#225bd8"/>
<path d="M-0.58 0.74A0.87 0.87 0 1 1 0.93-0.12L0.97 0.3A0.7 0.7 0 1 0 -0.24 0.99z" fill="#2f48c8"/>
<path d="M-0.52 0.97A0.93 0.93 0 1 1 1.1 0.05L0.88 0.04A0.74 0.74 0 1 0 -0.41 0.77z" fill="#323cba"/>
<path d="M-0.44 1.22A0.99 0.99 0 1 1 1.27 0.24L0.93-0.12A0.87 0.87 0 1 0 -0.58 0.74z" fill="#353bb7"/>
<path d="M-0.35 1.48A1.04 1.04 0 1 1 1.45 0.46L1.1 0.05A0.93 0.93 0 1 0 -0.52 0.97z" fill="#3340be"/>
<path d="M-0.26 1.75A1.09 1.09 0 1 1 1.64 0.67L1.27 0.24A0.99 0.99 0 1 0 -0.44 1.22z" fill="#2f47c6"/>
<path d="M-0.18 1.99A1.14 1.14 0 1 1 1.8 0.86L1.45 0.46A1.04 1.04 0 1 0 -0.35 1.48z" fill="#2456d4"/>
<path d="M-0.11 2.28A1.23 1.23 0 1 1 2.02 1.07L1.64 0.67A1.09 1.09 0 1 0 -0.26 1.75z" fill="#1060df"/>
<path d="M-0.23 2.4A1.39 1.39 0 1 1 2.18 1.03L1.8 0.86A1.14 1.14 0 1 0 -0.18 1.99z" fill="#0568e1"/>
<path d="M-0.46 2.21A1.49 1.49 0 1 1 2.13 0.74L2.02 1.07A1.23 1.23 0 1 0 -0.11 2.28z" fill="#036ae1"/>
<path d="M-0.64 2.02A1.55 1.55 0 1 1 2.06 0.48L2.18 1.03A1.39 1.39 0 1 0 -0.23 2.4z" fill="#0468e1"/>
<path d="M-0.8 1.84A1.61 1.61 0 1 1 1.99 0.25L2.13 0.74A1.49 1.49 0 1 0 -0.46 2.21z" fill="#0d61df"/>
<path d="M-0.97 1.66A1.66 1.66 0 1 1 1.92 0.02L2.06 0.48A1.55 1.55 0 1 0 -0.64 2.02z" fill="#2057d6"/>
<path d="M-1.13 1.48A1.71 1.71 0 1 1 1.85-0.21L1.99 0.25A1.61 1.61 0 1 0 -0.8 1.84z" fill="#2e4ec9"/>
<path d="M-1.31 1.29A1.78 1.78 0 1 1 1.78-0.46L1.92 0.02A1.66 1.66 0 1 0 -0.97 1.66z" fill="#3241c0"/>
<path d="M-1.53 1.11A1.88 1.88 0 1 1 1.74-0.74L1.85-0.21A1.71 1.71 0 1 0 -1.13 1.48z" fill="#353bb7"/>
<path d="M-1.71 1.12A2.04 2.04 0 1 1 1.84-0.89L1.78-0.46A1.78 1.78 0 1 0 -1.31 1.29z" fill="#3533ac"/>
<path d="M-1.76 1.36A2.2 2.2 0 1 1 2.07-0.81L1.74-0.74A1.88 1.88 0 1 0 -1.53 1.11z" fill="#342da2"/>
<path d="M-1.76 1.68A2.36 2.36 0 1 1 2.34-0.65L1.84-0.89A2.04 2.04 0 1 0 -1.71 1.12z" fill="#342da3"/>
<path d="M-1.76 1.99A2.52 2.52 0 1 1 2.61-0.49L2.07-0.81A2.2 2.2 0 1 0 -1.76 1.36z" fill="#3533ac"/>
<path d="M-1.83 2.2A2.68 2.68 0 1 1 2.83-0.45L2.34-0.65A2.36 2.36 0 1 0 -1.76 1.68z" fill="#333ab8"/>
<path d="M-1.97 2.28A2.84 2.84 0 1 1 2.97-0.52L2.61-0.49A2.52 2.52 0 1 0 -1.76 1.99z" fill="#2f40c0"/>
<path d="M-2.15 2.28A3 3 0 1 1 3.06-0.68L2.83-0.45A2.68 2.68 0 1 0 -1.83 2.2z" fill="#2c41c3"/>
<path d="M-2.36 2.23A3.16 3.16 0 1 1 3.13-0.89L2.97-0.52A2.84 2.84 0 1 0 -1.97 2.28z" fill="#2e40c1"/>
<path d="M-2.58 2.17A3.32 3.32 0 1 1 3.18-1.11L3.06-0.68A3 3 0 1 0 -2.15 2.28z" fill="#313dbc"/>
<path d="M-2.8 2.11A3.48 3.48 0 1 1 3.25-1.32L3.13-0.89A3.16 3.16 0 1 0 -2.36 2.23z" fill="#3338b5"/>
<path d="M-3 2.08A3.64 3.64 0 1 1 3.32-1.51L3.18-1.11A3.32 3.32 0 1 0 -2.58 2.17z" fill="#3434ae"/>
<path d="M-3.18 2.08A3.8 3.8 0 1 1 3.42-1.67L3.25-1.32A3.48 3.48 0 1 0 -2.8 2.11z" fill="#342fa7"/>
<path d="M-3.35 2.11A3.96 3.96 0 1 1 3.53-1.79L3.32-1.51A3.64 3.64 0 1 0 -3 2.08z" fill="#342ca2"/>
<path d="M-3.39 2.13A4 4 0 1 1 3.56-1.82L3.42-1.67A3.8 3.8 0 1 0 -3.18 2.08z" fill="#332a9e"/>
<path d="M-3.39 2.13A4 4 0 1 1 3.56-1.82L3.53-1.79A3.96 3.96 0 1 0 -3.35 2.11z" fill="#33299c"/>
</g>
<path d="M62.6 371L62.6 428.5L96.5 458.5L156.2 441.3M62.6 428.5h1.6M62.6 399.8h1.6M62.6 371h1.6" stroke="#6e6e6e" stroke-width="1.1" fill="none"/>
<text x="58.6" y="429.1" text-anchor="end" font-size="9.3" fill="#2c2c2c">0</text>
<text x="58.6" y="400.4" text-anchor="end" font-size="9.3" fill="#2c2c2c">4800</text>
<text x="58.6" y="371.6" text-anchor="end" font-size="9.3" fill="#2c2c2c">9600</text>
<text x="57.3" y="439.9" text-anchor="end" font-size="9.3" fill="#2c2c2c">4</text>
<text x="65.8" y="447.4" text-anchor="end" font-size="9.3" fill="#2c2c2c">2</text>
<text x="74.2" y="454.9" text-anchor="end" font-size="9.3" fill="#2c2c2c">0</text>
<text x="82.7" y="462.4" text-anchor="end" font-size="9.3" fill="#2c2c2c">-2</text>
<text x="91.2" y="469.9" text-anchor="end" font-size="9.3" fill="#2c2c2c">-4</text>
<text x="105.1" y="470.9" text-anchor="middle" font-size="9.3" fill="#2c2c2c">-4</text>
<text x="120" y="466.6" text-anchor="middle" font-size="9.3" fill="#2c2c2c">-2</text>
<text x="131.9" y="462.3" text-anchor="middle" font-size="9.3" fill="#2c2c2c">0</text>
<text x="146.9" y="458" text-anchor="middle" font-size="9.3" fill="#2c2c2c">2</text>
<text x="161.8" y="453.7" text-anchor="middle" font-size="9.3" fill="#2c2c2c">4</text>
<text x="64.4" y="459.4" text-anchor="middle" font-size="9.3" fill="#2c2c2c">y</text>
<text x="138.7" y="465.8" text-anchor="middle" font-size="9.3" fill="#2c2c2c">x</text>
<text x="73.1" y="378.9" text-anchor="middle" font-size="9.4" fill="#2c2c2c">(b2)</text>
<text x="145.6" y="391.6" text-anchor="middle" font-size="9.2" fill="#2c2c2c">z=0</text>
<path d="M205.7 424.2v-57.5M220.6 419.9v-57.5M235.6 415.6v-57.5M250.5 411.3v-57.5M259 418.8v-57.5M267.4 426.3v-57.5M275.9 433.8v-57.5M284.4 441.3v-57.5M190.8 428.5L250.5 411.3L284.4 441.3M190.8 399.8L250.5 382.6L284.4 412.6M190.8 371L250.5 353.8L284.4 383.8M199.3 436L259 418.8M205.7 424.2L239.6 454.2M207.8 443.5L267.4 426.3M220.6 419.9L254.6 449.9M216.2 451L275.9 433.8M235.6 415.6L269.5 445.6" stroke="#e4e4e4" stroke-width="0.8" fill="none"/>
<path d="M190.8 428.5L224.7 458.5L284.4 441.3L250.5 411.3z" fill="#322798"/>
<g transform="matrix(7.4625 -2.1500 -4.2375 -3.7500 237.6 434.9)">
<path d="M3.44-2.03A4 4 0 1 1 -3.51 1.92L-3.3 1.88A3.8 3.8 0 1 0 3.31-1.87z" fill="#33299c"/>
<path d="M3.41-2A3.96 3.96 0 1 1 -3.47 1.91L-3.11 1.89A3.64 3.64 0 1 0 3.22-1.7z" fill="#332a9e"/>
<path d="M3.31-1.87A3.8 3.8 0 1 1 -3.3 1.88L-2.9 1.93A3.48 3.48 0 1 0 3.14-1.51z" fill="#342ca2"/>
<path d="M3.22-1.7A3.64 3.64 0 1 1 -3.11 1.89L-2.68 1.99A3.32 3.32 0 1 0 3.09-1.28z" fill="#342fa7"/>
<path d="M3.14-1.51A3.48 3.48 0 1 1 -2.9 1.93L-2.46 2.07A3.16 3.16 0 1 0 3.03-1.05z" fill="#3434ae"/>
<path d="M3.09-1.28A3.32 3.32 0 1 1 -2.68 1.99L-2.24 2.12A3 3 0 1 0 2.97-0.84z" fill="#3338b5"/>
<path d="M3.03-1.05A3.16 3.16 0 1 1 -2.46 2.07L-2.05 2.13A2.84 2.84 0 1 0 2.88-0.67z" fill="#313dbc"/>
<path d="M2.97-0.84A3 3 0 1 1 -2.24 2.12L-1.91 2.06A2.68 2.68 0 1 0 2.75-0.59z" fill="#2e40c1"/>
<path d="M2.88-0.67A2.84 2.84 0 1 1 -2.05 2.13L-1.84 1.86A2.52 2.52 0 1 0 2.54-0.63z" fill="#2c41c3"/>
<path d="M2.75-0.59A2.68 2.68 0 1 1 -1.91 2.06L-1.83 1.56A2.36 2.36 0 1 0 2.27-0.77z" fill="#2f40c0"/>
<path d="M2.54-0.63A2.52 2.52 0 1 1 -1.84 1.86L-1.82 1.24A2.2 2.2 0 1 0 2-0.93z" fill="#333ab8"/>
<path d="M2.27-0.77A2.36 2.36 0 1 1 -1.83 1.56L-1.77 1.02A2.04 2.04 0 1 0 1.78-1z" fill="#3533ac"/>
<path d="M2-0.93A2.2 2.2 0 1 1 -1.82 1.24L-1.58 1.01A1.88 1.88 0 1 0 1.68-0.84z" fill="#342da3"/>
<path d="M1.78-1A2.04 2.04 0 1 1 -1.77 1.02L-1.36 1.2A1.78 1.78 0 1 0 1.73-0.55z" fill="#342da2"/>
<path d="M1.68-0.84A1.88 1.88 0 1 1 -1.58 1.01L-1.18 1.39A1.71 1.71 0 1 0 1.8-0.3z" fill="#3533ac"/>
<path d="M1.73-0.55A1.78 1.78 0 1 1 -1.36 1.2L-1.02 1.57A1.66 1.66 0 1 0 1.87-0.07z" fill="#353bb7"/>
<path d="M1.8-0.3A1.71 1.71 0 1 1 -1.18 1.39L-0.85 1.75A1.61 1.61 0 1 0 1.94 0.17z" fill="#3241c0"/>
<path d="M1.87-0.07A1.66 1.66 0 1 1 -1.02 1.57L-0.69 1.93A1.55 1.55 0 1 0 2.01 0.4z" fill="#2e4ec9"/>
<path d="M1.94 0.17A1.61 1.61 0 1 1 -0.85 1.75L-0.5 2.13A1.49 1.49 0 1 0 2.09 0.66z" fill="#2057d6"/>
<path d="M2.01 0.4A1.55 1.55 0 1 1 -0.69 1.93L-0.27 2.33A1.39 1.39 0 1 0 2.14 0.96z" fill="#0d61df"/>
<path d="M2.09 0.66A1.49 1.49 0 1 1 -0.5 2.13L-0.15 2.21A1.23 1.23 0 1 0 1.98 1.01z" fill="#0468e1"/>
<path d="M2.14 0.96A1.39 1.39 0 1 1 -0.27 2.33L-0.22 1.93A1.14 1.14 0 1 0 1.77 0.8z" fill="#036ae1"/>
<path d="M1.98 1.01A1.23 1.23 0 1 1 -0.15 2.21L-0.29 1.69A1.09 1.09 0 1 0 1.6 0.62z" fill="#0568e1"/>
<path d="M1.77 0.8A1.14 1.14 0 1 1 -0.22 1.93L-0.38 1.43A1.04 1.04 0 1 0 1.42 0.4z" fill="#1060df"/>
<path d="M1.6 0.62A1.09 1.09 0 1 1 -0.29 1.69L-0.47 1.16A0.99 0.99 0 1 0 1.24 0.19z" fill="#2456d4"/>
<path d="M1.42 0.4A1.04 1.04 0 1 1 -0.38 1.43L-0.55 0.92A0.93 0.93 0 1 0 1.07 0z" fill="#2f47c6"/>
<path d="M1.24 0.19A0.99 0.99 0 1 1 -0.47 1.16L-0.6 0.7A0.87 0.87 0 1 0 0.91-0.16z" fill="#3340be"/>
<path d="M1.07 0A0.93 0.93 0 1 1 -0.55 0.92L-0.43 0.73A0.74 0.74 0 1 0 0.85 0z" fill="#353bb7"/>
<path d="M0.91-0.16A0.87 0.87 0 1 1 -0.6 0.7L-0.26 0.95A0.7 0.7 0 1 0 0.95 0.27z" fill="#323cba"/>
<path d="M0.85 0A0.74 0.74 0 1 1 -0.43 0.73L-0.11 1.16A0.67 0.67 0 1 0 1.05 0.5z" fill="#2f48c8"/>
<path d="M0.95 0.27A0.7 0.7 0 1 1 -0.26 0.95L0.03 1.36A0.65 0.65 0 1 0 1.16 0.72z" fill="#225bd8"/>
<path d="M1.05 0.5A0.67 0.67 0 1 1 -0.11 1.16L0.18 1.6A0.63 0.63 0 1 0 1.28 0.98z" fill="#1266e1"/>
<path d="M1.16 0.72A0.65 0.65 0 1 1 0.03 1.36L0.32 1.81A0.61 0.61 0 1 0 1.39 1.2z" fill="#0e6ee2"/>
<path d="M1.28 0.98A0.63 0.63 0 1 1 0.18 1.6L0.48 2.04A0.59 0.59 0 1 0 1.51 1.45z" fill="#1275e2"/>
<path d="M1.39 1.2A0.61 0.61 0 1 1 0.32 1.81L0.6 2.24A0.58 0.58 0 1 0 1.61 1.67z" fill="#187ae0"/>
<path d="M1.51 1.45A0.59 0.59 0 1 1 0.48 2.04L0.74 2.45A0.57 0.57 0 1 0 1.72 1.89z" fill="#1d7fdd"/>
<path d="M1.61 1.67A0.58 0.58 0 1 1 0.6 2.24L0.88 2.67A0.55 0.55 0 1 0 1.84 2.13z" fill="#2083db"/>
<path d="M1.72 1.89A0.57 0.57 0 1 1 0.74 2.45L1.03 2.9A0.54 0.54 0 1 0 1.97 2.37z" fill="#2287d9"/>
<path d="M1.84 2.13A0.55 0.55 0 1 1 0.88 2.67L1.15 3.1A0.53 0.53 0 1 0 2.07 2.58z" fill="#228cd7"/>
<path d="M1.97 2.37A0.54 0.54 0 1 1 1.03 2.9L1.28 3.3A0.52 0.52 0 1 0 2.18 2.79z" fill="#2190d5"/>
<path d="M2.07 2.58A0.53 0.53 0 1 1 1.15 3.1L1.41 3.5A0.51 0.51 0 1 0 2.29 3z" fill="#1e95d5"/>
<path d="M2.18 2.79A0.52 0.52 0 1 1 1.28 3.3L1.54 3.71A0.5 0.5 0 1 0 2.4 3.22z" fill="#1a9ad4"/>
<path d="M2.29 3A0.51 0.51 0 1 1 1.41 3.5L1.67 3.93A0.48 0.48 0 1 0 2.51 3.45z" fill="#179fd3"/>
<path d="M2.4 3.22A0.5 0.5 0 1 1 1.54 3.71L1.81 4.15A0.47 0.47 0 1 0 2.63 3.68z" fill="#15a4d1"/>
<path d="M2.51 3.45A0.48 0.48 0 1 1 1.67 3.93L1.95 4.37A0.46 0.46 0 1 0 2.75 3.91z" fill="#15a8cf"/>
<path d="M2.63 3.68A0.47 0.47 0 1 1 1.81 4.15L2.09 4.59A0.45 0.45 0 1 0 2.87 4.15z" fill="#15abcb"/>
<path d="M2.75 3.91A0.46 0.46 0 1 1 1.95 4.37L2.23 4.82A0.44 0.44 0 1 0 3 4.39z" fill="#16aec6"/>
<path d="M2.87 4.15A0.45 0.45 0 1 1 2.09 4.59L2.38 5.05A0.43 0.43 0 1 0 3.12 4.63z" fill="#18b1c2"/>
<path d="M3 4.39A0.44 0.44 0 1 1 2.23 4.82L2.52 5.29A0.42 0.42 0 1 0 3.25 4.87z" fill="#1fb4bc"/>
<path d="M3.12 4.63A0.43 0.43 0 1 1 2.38 5.05L2.67 5.52A0.41 0.41 0 1 0 3.38 5.12z" fill="#26b6b7"/>
<path d="M3.25 4.87A0.42 0.42 0 1 1 2.52 5.29L2.81 5.76A0.4 0.4 0 1 0 3.5 5.37z" fill="#2fb9b1"/>
<path d="M3.38 5.12A0.41 0.41 0 1 1 2.67 5.52L2.96 5.99A0.39 0.39 0 1 0 3.63 5.61z" fill="#39bbaa"/>
<path d="M3.5 5.37A0.4 0.4 0 1 1 2.81 5.76L3.11 6.23A0.37 0.37 0 1 0 3.76 5.86z" fill="#44bda3"/>
<path d="M3.63 5.61A0.39 0.39 0 1 1 2.96 5.99L3.25 6.47A0.36 0.36 0 1 0 3.89 6.11z" fill="#51bf9c"/>
<path d="M3.76 5.86A0.37 0.37 0 1 1 3.11 6.23L3.4 6.7A0.35 0.35 0 1 0 4.01 6.35z" fill="#60c194"/>
<path d="M3.89 6.11A0.36 0.36 0 1 1 3.25 6.47L3.55 6.94A0.34 0.34 0 1 0 4.14 6.6z" fill="#6fc28d"/>
<path d="M4.01 6.35A0.35 0.35 0 1 1 3.4 6.7L3.69 7.17A0.33 0.33 0 1 0 4.26 6.84z" fill="#7ec386"/>
<path d="M4.14 6.6A0.34 0.34 0 1 1 3.55 6.94L3.83 7.4A0.32 0.32 0 1 0 4.39 7.08z" fill="#8cc380"/>
<path d="M4.26 6.84A0.33 0.33 0 1 1 3.69 7.17L3.97 7.62A0.31 0.31 0 1 0 4.51 7.32z" fill="#99c37b"/>
<path d="M4.39 7.08A0.32 0.32 0 1 1 3.83 7.4L4.11 7.85A0.3 0.3 0 1 0 4.63 7.55z" fill="#a5c276"/>
<path d="M4.51 7.32A0.31 0.31 0 1 1 3.97 7.62L4.25 8.06A0.29 0.29 0 1 0 4.75 7.78z" fill="#b0c271"/>
<path d="M4.63 7.55A0.3 0.3 0 1 1 4.11 7.85L4.38 8.28A0.28 0.28 0 1 0 4.86 8.01z" fill="#bbc16d"/>
<path d="M4.75 7.78A0.29 0.29 0 1 1 4.25 8.06L4.52 8.49A0.26 0.26 0 1 0 4.98 8.23z" fill="#c5c069"/>
<path d="M4.86 8.01A0.28 0.28 0 1 1 4.38 8.28L4.65 8.69A0.25 0.25 0 1 0 5.09 8.44z" fill="#cfbf65"/>
<path d="M4.98 8.23A0.26 0.26 0 1 1 4.52 8.49L4.77 8.89A0.24 0.24 0 1 0 5.19 8.65z" fill="#d8bf61"/>
<path d="M5.09 8.44A0.25 0.25 0 1 1 4.65 8.69L4.89 9.09A0.23 0.23 0 1 0 5.3 8.86z" fill="#e1be5d"/>
<path d="M5.19 8.65A0.24 0.24 0 1 1 4.77 8.89L5.04 9.32A0.22 0.22 0 1 0 5.42 9.11z" fill="#eabd59"/>
<path d="M5.3 8.86A0.23 0.23 0 1 1 4.89 9.09L5.18 9.54A0.2 0.2 0 1 0 5.54 9.34z" fill="#f3be54"/>
<path d="M5.42 9.11A0.22 0.22 0 1 1 5.04 9.32L5.32 9.75A0.19 0.19 0 1 0 5.65 9.57z" fill="#fbc04c"/>
<path d="M5.54 9.34A0.2 0.2 0 1 1 5.18 9.54L5.45 9.95A0.18 0.18 0 1 0 5.76 9.78z" fill="#fec545"/>
<path d="M5.65 9.57A0.19 0.19 0 1 1 5.32 9.75L5.6 10.18A0.16 0.16 0 1 0 5.88 10.03z" fill="#fecb3f"/>
<path d="M5.76 9.78A0.18 0.18 0 1 1 5.45 9.95L5.74 10.39A0.14 0.14 0 1 0 5.99 10.25z" fill="#fcd139"/>
<path d="M5.88 10.03A0.16 0.16 0 1 1 5.6 10.18L5.89 10.62A0.12 0.12 0 1 0 6.1 10.5z" fill="#f9d733"/>
<path d="M5.99 10.25A0.14 0.14 0 1 1 5.74 10.39L6.03 10.82A0.1 0.1 0 1 0 6.2 10.72z" fill="#f6de2d"/>
<path d="M6.1 10.5A0.12 0.12 0 1 1 5.89 10.62L6.2 11.05A0.07 0.07 0 1 0 6.31 10.98z" fill="#f5e526"/>
<path d="M6.2 10.72A0.1 0.1 0 1 1 6.03 10.82z" fill="#f5ed1e"/>
<path d="M6.31 10.98A0.07 0.07 0 1 1 6.2 11.05z" fill="#f8f614"/>
<path d="M6.03 10.82A0.1 0.1 0 1 1 6.2 10.73z" fill="#f8f614"/>
<path d="M5.9 10.63A0.12 0.12 0 1 1 6.11 10.51L6.31 10.98A0.07 0.07 0 1 0 6.2 11.05z" fill="#f5ed1e"/>
<path d="M5.74 10.4A0.14 0.14 0 1 1 5.99 10.26L6.2 10.73A0.1 0.1 0 1 0 6.03 10.82z" fill="#f5e526"/>
<path d="M5.6 10.19A0.16 0.16 0 1 1 5.88 10.03L6.11 10.51A0.12 0.12 0 1 0 5.9 10.63z" fill="#f6de2d"/>
<path d="M5.45 9.96A0.18 0.18 0 1 1 5.76 9.79L5.99 10.26A0.14 0.14 0 1 0 5.74 10.4z" fill="#f9d733"/>
<path d="M5.33 9.76A0.19 0.19 0 1 1 5.66 9.58L5.88 10.03A0.16 0.16 0 1 0 5.6 10.19z" fill="#fcd139"/>
<path d="M5.19 9.55A0.2 0.2 0 1 1 5.55 9.35L5.76 9.79A0.18 0.18 0 1 0 5.45 9.96z" fill="#fecb3f"/>
<path d="M5.05 9.33A0.22 0.22 0 1 1 5.43 9.12L5.66 9.58A0.19 0.19 0 1 0 5.33 9.76z" fill="#fec545"/>
<path d="M4.9 9.1A0.23 0.23 0 1 1 5.3 8.87L5.55 9.35A0.2 0.2 0 1 0 5.19 9.55z" fill="#fbc04c"/>
<path d="M4.78 8.91A0.24 0.24 0 1 1 5.2 8.67L5.43 9.12A0.22 0.22 0 1 0 5.05 9.33z" fill="#f3be54"/>
<path d="M4.65 8.71A0.25 0.25 0 1 1 5.09 8.46L5.3 8.87A0.23 0.23 0 1 0 4.9 9.1z" fill="#eabd59"/>
<path d="M4.52 8.5A0.26 0.26 0 1 1 4.98 8.24L5.2 8.67A0.24 0.24 0 1 0 4.78 8.91z" fill="#e1be5d"/>
<path d="M4.39 8.29A0.28 0.28 0 1 1 4.87 8.02L5.09 8.46A0.25 0.25 0 1 0 4.65 8.71z" fill="#d8bf61"/>
<path d="M4.26 8.08A0.29 0.29 0 1 1 4.76 7.8L4.98 8.24A0.26 0.26 0 1 0 4.52 8.5z" fill="#cfbf65"/>
<path d="M4.12 7.86A0.3 0.3 0 1 1 4.64 7.57L4.87 8.02A0.28 0.28 0 1 0 4.39 8.29z" fill="#c5c069"/>
<path d="M3.98 7.64A0.31 0.31 0 1 1 4.52 7.33L4.76 7.8A0.29 0.29 0 1 0 4.26 8.08z" fill="#bbc16d"/>
<path d="M3.84 7.41A0.32 0.32 0 1 1 4.4 7.1L4.64 7.57A0.3 0.3 0 1 0 4.12 7.86z" fill="#b0c271"/>
<path d="M3.7 7.18A0.33 0.33 0 1 1 4.27 6.86L4.52 7.33A0.31 0.31 0 1 0 3.98 7.64z" fill="#a5c276"/>
<path d="M3.56 6.95A0.34 0.34 0 1 1 4.15 6.62L4.4 7.1A0.32 0.32 0 1 0 3.84 7.41z" fill="#99c37b"/>
<path d="M3.41 6.72A0.35 0.35 0 1 1 4.02 6.37L4.27 6.86A0.33 0.33 0 1 0 3.7 7.18z" fill="#8cc380"/>
<path d="M3.27 6.49A0.36 0.36 0 1 1 3.9 6.13L4.15 6.62A0.34 0.34 0 1 0 3.56 6.95z" fill="#7ec386"/>
<path d="M3.12 6.25A0.37 0.37 0 1 1 3.77 5.88L4.02 6.37A0.35 0.35 0 1 0 3.41 6.72z" fill="#6fc28d"/>
<path d="M2.97 6.01A0.39 0.39 0 1 1 3.64 5.63L3.9 6.13A0.36 0.36 0 1 0 3.27 6.49z" fill="#60c194"/>
<path d="M2.83 5.78A0.4 0.4 0 1 1 3.51 5.39L3.77 5.88A0.37 0.37 0 1 0 3.12 6.25z" fill="#51bf9c"/>
<path d="M2.68 5.54A0.41 0.41 0 1 1 3.39 5.14L3.64 5.63A0.39 0.39 0 1 0 2.97 6.01z" fill="#44bda3"/>
<path d="M2.53 5.31A0.42 0.42 0 1 1 3.26 4.9L3.51 5.39A0.4 0.4 0 1 0 2.83 5.78z" fill="#39bbaa"/>
<path d="M2.39 5.08A0.43 0.43 0 1 1 3.14 4.65L3.39 5.14A0.41 0.41 0 1 0 2.68 5.54z" fill="#2fb9b1"/>
<path d="M2.25 4.85A0.44 0.44 0 1 1 3.01 4.41L3.26 4.9A0.42 0.42 0 1 0 2.53 5.31z" fill="#26b6b7"/>
<path d="M2.1 4.62A0.45 0.45 0 1 1 2.89 4.17L3.14 4.65A0.43 0.43 0 1 0 2.39 5.08z" fill="#1fb4bc"/>
<path d="M1.96 4.39A0.46 0.46 0 1 1 2.77 3.94L3.01 4.41A0.44 0.44 0 1 0 2.25 4.85z" fill="#18b1c2"/>
<path d="M1.82 4.17A0.47 0.47 0 1 1 2.65 3.7L2.89 4.17A0.45 0.45 0 1 0 2.1 4.62z" fill="#16aec6"/>
<path d="M1.69 3.95A0.48 0.48 0 1 1 2.53 3.47L2.77 3.94A0.46 0.46 0 1 0 1.96 4.39z" fill="#15abcb"/>
<path d="M1.55 3.74A0.5 0.5 0 1 1 2.41 3.25L2.65 3.7A0.47 0.47 0 1 0 1.82 4.17z" fill="#15a8cf"/>
<path d="M1.42 3.53A0.51 0.51 0 1 1 2.3 3.03L2.53 3.47A0.48 0.48 0 1 0 1.69 3.95z" fill="#15a4d1"/>
<path d="M1.29 3.32A0.52 0.52 0 1 1 2.19 2.81L2.41 3.25A0.5 0.5 0 1 0 1.55 3.74z" fill="#179fd3"/>
<path d="M1.17 3.13A0.53 0.53 0 1 1 2.09 2.6L2.3 3.03A0.51 0.51 0 1 0 1.42 3.53z" fill="#1a9ad4"/>
<path d="M1.05 2.93A0.54 0.54 0 1 1 1.98 2.4L2.19 2.81A0.52 0.52 0 1 0 1.29 3.32z" fill="#1e95d5"/>
<path d="M0.9 2.7A0.55 0.55 0 1 1 1.86 2.15L2.09 2.6A0.53 0.53 0 1 0 1.17 3.13z" fill="#2190d5"/>
<path d="M0.76 2.48A0.57 0.57 0 1 1 1.74 1.92L1.98 2.4A0.54 0.54 0 1 0 1.05 2.93z" fill="#228cd7"/>
<path d="M0.62 2.27A0.58 0.58 0 1 1 1.63 1.7L1.86 2.15A0.55 0.55 0 1 0 0.9 2.7z" fill="#2287d9"/>
<path d="M0.49 2.07A0.59 0.59 0 1 1 1.53 1.48L1.74 1.92A0.57 0.57 0 1 0 0.76 2.48z" fill="#2083db"/>
<path d="M0.34 1.84A0.61 0.61 0 1 1 1.4 1.24L1.63 1.7A0.58 0.58 0 1 0 0.62 2.27z" fill="#1d7fdd"/>
<path d="M0.2 1.63A0.63 0.63 0 1 1 1.3 1.01L1.53 1.48A0.59 0.59 0 1 0 0.49 2.07z" fill="#187ae0"/>
<path d="M0.05 1.4A0.65 0.65 0 1 1 1.18 0.75L1.4 1.24A0.61 0.61 0 1 0 0.34 1.84z" fill="#1275e2"/>
<path d="M-0.09 1.19A0.67 0.67 0 1 1 1.07 0.53L1.3 1.01A0.63 0.63 0 1 0 0.2 1.63z" fill="#0e6ee2"/>
<path d="M-0.24 0.99A0.7 0.7 0 1 1 0.97 0.3L1.18 0.75A0.65 0.65 0 1 0 0.05 1.4z" fill="#1266e1"/>
<path d="M-0.41 0.77A0.74 0.74 0 1 1 0.88 0.04L1.07 0.53A0.67 0.67 0 1 0 -0.09 1.19z" fill="#225bd8"/>
<path d="M-0.58 0.74A0.87 0.87 0 1 1 0.93-0.12L0.97 0.3A0.7 0.7 0 1 0 -0.24 0.99z" fill="#2f48c8"/>
<path d="M-0.52 0.97A0.93 0.93 0 1 1 1.1 0.05L0.88 0.04A0.74 0.74 0 1 0 -0.41 0.77z" fill="#323cba"/>
<path d="M-0.44 1.22A0.99 0.99 0 1 1 1.27 0.24L0.93-0.12A0.87 0.87 0 1 0 -0.58 0.74z" fill="#353bb7"/>
<path d="M-0.35 1.48A1.04 1.04 0 1 1 1.45 0.46L1.1 0.05A0.93 0.93 0 1 0 -0.52 0.97z" fill="#3340be"/>
<path d="M-0.26 1.75A1.09 1.09 0 1 1 1.64 0.67L1.27 0.24A0.99 0.99 0 1 0 -0.44 1.22z" fill="#2f47c6"/>
<path d="M-0.18 1.99A1.14 1.14 0 1 1 1.8 0.86L1.45 0.46A1.04 1.04 0 1 0 -0.35 1.48z" fill="#2456d4"/>
<path d="M-0.11 2.28A1.23 1.23 0 1 1 2.02 1.07L1.64 0.67A1.09 1.09 0 1 0 -0.26 1.75z" fill="#1060df"/>
<path d="M-0.23 2.4A1.39 1.39 0 1 1 2.18 1.03L1.8 0.86A1.14 1.14 0 1 0 -0.18 1.99z" fill="#0568e1"/>
<path d="M-0.46 2.21A1.49 1.49 0 1 1 2.13 0.74L2.02 1.07A1.23 1.23 0 1 0 -0.11 2.28z" fill="#036ae1"/>
<path d="M-0.64 2.02A1.55 1.55 0 1 1 2.06 0.48L2.18 1.03A1.39 1.39 0 1 0 -0.23 2.4z" fill="#0468e1"/>
<path d="M-0.8 1.84A1.61 1.61 0 1 1 1.99 0.25L2.13 0.74A1.49 1.49 0 1 0 -0.46 2.21z" fill="#0d61df"/>
<path d="M-0.97 1.66A1.66 1.66 0 1 1 1.92 0.02L2.06 0.48A1.55 1.55 0 1 0 -0.64 2.02z" fill="#2057d6"/>
<path d="M-1.13 1.48A1.71 1.71 0 1 1 1.85-0.21L1.99 0.25A1.61 1.61 0 1 0 -0.8 1.84z" fill="#2e4ec9"/>
<path d="M-1.31 1.29A1.78 1.78 0 1 1 1.78-0.46L1.92 0.02A1.66 1.66 0 1 0 -0.97 1.66z" fill="#3241c0"/>
<path d="M-1.53 1.11A1.88 1.88 0 1 1 1.74-0.74L1.85-0.21A1.71 1.71 0 1 0 -1.13 1.48z" fill="#353bb7"/>
<path d="M-1.71 1.12A2.04 2.04 0 1 1 1.84-0.89L1.78-0.46A1.78 1.78 0 1 0 -1.31 1.29z" fill="#3533ac"/>
<path d="M-1.76 1.36A2.2 2.2 0 1 1 2.07-0.81L1.74-0.74A1.88 1.88 0 1 0 -1.53 1.11z" fill="#342da2"/>
<path d="M-1.76 1.68A2.36 2.36 0 1 1 2.34-0.65L1.84-0.89A2.04 2.04 0 1 0 -1.71 1.12z" fill="#342da3"/>
<path d="M-1.76 1.99A2.52 2.52 0 1 1 2.61-0.49L2.07-0.81A2.2 2.2 0 1 0 -1.76 1.36z" fill="#3533ac"/>
<path d="M-1.83 2.2A2.68 2.68 0 1 1 2.83-0.45L2.34-0.65A2.36 2.36 0 1 0 -1.76 1.68z" fill="#333ab8"/>
<path d="M-1.97 2.28A2.84 2.84 0 1 1 2.97-0.52L2.61-0.49A2.52 2.52 0 1 0 -1.76 1.99z" fill="#2f40c0"/>
<path d="M-2.15 2.28A3 3 0 1 1 3.06-0.68L2.83-0.45A2.68 2.68 0 1 0 -1.83 2.2z" fill="#2c41c3"/>
<path d="M-2.36 2.23A3.16 3.16 0 1 1 3.13-0.89L2.97-0.52A2.84 2.84 0 1 0 -1.97 2.28z" fill="#2e40c1"/>
<path d="M-2.58 2.17A3.32 3.32 0 1 1 3.18-1.11L3.06-0.68A3 3 0 1 0 -2.15 2.28z" fill="#313dbc"/>
<path d="M-2.8 2.11A3.48 3.48 0 1 1 3.25-1.32L3.13-0.89A3.16 3.16 0 1 0 -2.36 2.23z" fill="#3338b5"/>
<path d="M-3 2.08A3.64 3.64 0 1 1 3.32-1.51L3.18-1.11A3.32 3.32 0 1 0 -2.58 2.17z" fill="#3434ae"/>
<path d="M-3.18 2.08A3.8 3.8 0 1 1 3.42-1.67L3.25-1.32A3.48 3.48 0 1 0 -2.8 2.11z" fill="#342fa7"/>
<path d="M-3.35 2.11A3.96 3.96 0 1 1 3.53-1.79L3.32-1.51A3.64 3.64 0 1 0 -3 2.08z" fill="#342ca2"/>
<path d="M-3.39 2.13A4 4 0 1 1 3.56-1.82L3.42-1.67A3.8 3.8 0 1 0 -3.18 2.08z" fill="#332a9e"/>
<path d="M-3.39 2.13A4 4 0 1 1 3.56-1.82L3.53-1.79A3.96 3.96 0 1 0 -3.35 2.11z" fill="#33299c"/>
</g>
<path d="M190.8 371L190.8 428.5L224.7 458.5L284.4 441.3M190.8 428.5h1.6M190.8 399.8h1.6M190.8 371h1.6" stroke="#6e6e6e" stroke-width="1.1" fill="none"/>
<text x="186.8" y="429.1" text-anchor="end" font-size="9.3" fill="#2c2c2c">0</text>
<text x="186.8" y="400.4" text-anchor="end" font-size="9.3" fill="#2c2c2c">4800</text>
<text x="186.8" y="371.6" text-anchor="end" font-size="9.3" fill="#2c2c2c">9600</text>
<text x="185.5" y="439.9" text-anchor="end" font-size="9.3" fill="#2c2c2c">4</text>
<text x="194" y="447.4" text-anchor="end" font-size="9.3" fill="#2c2c2c">2</text>
<text x="202.4" y="454.9" text-anchor="end" font-size="9.3" fill="#2c2c2c">0</text>
<text x="210.9" y="462.4" text-anchor="end" font-size="9.3" fill="#2c2c2c">-2</text>
<text x="219.4" y="469.9" text-anchor="end" font-size="9.3" fill="#2c2c2c">-4</text>
<text x="233.3" y="470.9" text-anchor="middle" font-size="9.3" fill="#2c2c2c">-4</text>
<text x="248.2" y="466.6" text-anchor="middle" font-size="9.3" fill="#2c2c2c">-2</text>
<text x="260.2" y="462.3" text-anchor="middle" font-size="9.3" fill="#2c2c2c">0</text>
<text x="275.1" y="458" text-anchor="middle" font-size="9.3" fill="#2c2c2c">2</text>
<text x="290" y="453.7" text-anchor="middle" font-size="9.3" fill="#2c2c2c">4</text>
<text x="195" y="459.8" text-anchor="middle" font-size="9.3" fill="#2c2c2c">y</text>
<text x="266.8" y="465.1" text-anchor="middle" font-size="9.3" fill="#2c2c2c">x</text>
<text x="270" y="391.6" text-anchor="middle" font-size="9.2" fill="#2c2c2c">z=15</text>
<path d="M333.7 424.2v-57.5M348.6 419.9v-57.5M363.6 415.6v-57.5M378.5 411.3v-57.5M387 418.8v-57.5M395.4 426.3v-57.5M403.9 433.8v-57.5M412.4 441.3v-57.5M318.8 428.5L378.5 411.3L412.4 441.3M318.8 399.8L378.5 382.6L412.4 412.6M318.8 371L378.5 353.8L412.4 383.8M327.3 436L387 418.8M333.7 424.2L367.6 454.2M335.8 443.5L395.4 426.3M348.6 419.9L382.5 449.9M344.2 451L403.9 433.8M363.6 415.6L397.5 445.6" stroke="#e4e4e4" stroke-width="0.8" fill="none"/>
<path d="M318.8 428.5L352.7 458.5L412.4 441.3L378.5 411.3z" fill="#322798"/>
<g transform="matrix(7.4625 -2.1500 -4.2375 -3.7500 365.6 434.9)">
<path d="M3.44-2.03A4 4 0 1 1 -3.51 1.92L-3.3 1.88A3.8 3.8 0 1 0 3.31-1.87z" fill="#33299c"/>
<path d="M3.41-2A3.96 3.96 0 1 1 -3.47 1.91L-3.11 1.89A3.64 3.64 0 1 0 3.22-1.7z" fill="#332a9e"/>
<path d="M3.31-1.87A3.8 3.8 0 1 1 -3.3 1.88L-2.9 1.93A3.48 3.48 0 1 0 3.14-1.51z" fill="#342ca2"/>
<path d="M3.22-1.7A3.64 3.64 0 1 1 -3.11 1.89L-2.68 1.99A3.32 3.32 0 1 0 3.09-1.28z" fill="#342fa7"/>
<path d="M3.14-1.51A3.48 3.48 0 1 1 -2.9 1.93L-2.46 2.07A3.16 3.16 0 1 0 3.03-1.05z" fill="#3434ae"/>
<path d="M3.09-1.28A3.32 3.32 0 1 1 -2.68 1.99L-2.24 2.12A3 3 0 1 0 2.97-0.84z" fill="#3338b5"/>
<path d="M3.03-1.05A3.16 3.16 0 1 1 -2.46 2.07L-2.05 2.13A2.84 2.84 0 1 0 2.88-0.67z" fill="#313dbc"/>
<path d="M2.97-0.84A3 3 0 1 1 -2.24 2.12L-1.91 2.06A2.68 2.68 0 1 0 2.75-0.59z" fill="#2e40c1"/>
<path d="M2.88-0.67A2.84 2.84 0 1 1 -2.05 2.13L-1.84 1.86A2.52 2.52 0 1 0 2.54-0.63z" fill="#2c41c3"/>
<path d="M2.75-0.59A2.68 2.68 0 1 1 -1.91 2.06L-1.83 1.56A2.36 2.36 0 1 0 2.27-0.77z" fill="#2f40c0"/>
<path d="M2.54-0.63A2.52 2.52 0 1 1 -1.84 1.86L-1.82 1.24A2.2 2.2 0 1 0 2-0.93z" fill="#333ab8"/>
<path d="M2.27-0.77A2.36 2.36 0 1 1 -1.83 1.56L-1.77 1.02A2.04 2.04 0 1 0 1.78-1z" fill="#3533ac"/>
<path d="M2-0.93A2.2 2.2 0 1 1 -1.82 1.24L-1.58 1.01A1.88 1.88 0 1 0 1.68-0.84z" fill="#342da3"/>
<path d="M1.78-1A2.04 2.04 0 1 1 -1.77 1.02L-1.36 1.2A1.78 1.78 0 1 0 1.73-0.55z" fill="#342da2"/>
<path d="M1.68-0.84A1.88 1.88 0 1 1 -1.58 1.01L-1.18 1.39A1.71 1.71 0 1 0 1.8-0.3z" fill="#3533ac"/>
<path d="M1.73-0.55A1.78 1.78 0 1 1 -1.36 1.2L-1.02 1.57A1.66 1.66 0 1 0 1.87-0.07z" fill="#353bb7"/>
<path d="M1.8-0.3A1.71 1.71 0 1 1 -1.18 1.39L-0.85 1.75A1.61 1.61 0 1 0 1.94 0.17z" fill="#3241c0"/>
<path d="M1.87-0.07A1.66 1.66 0 1 1 -1.02 1.57L-0.69 1.93A1.55 1.55 0 1 0 2.01 0.4z" fill="#2e4ec9"/>
<path d="M1.94 0.17A1.61 1.61 0 1 1 -0.85 1.75L-0.5 2.13A1.49 1.49 0 1 0 2.09 0.66z" fill="#2057d6"/>
<path d="M2.01 0.4A1.55 1.55 0 1 1 -0.69 1.93L-0.27 2.33A1.39 1.39 0 1 0 2.14 0.96z" fill="#0d61df"/>
<path d="M2.09 0.66A1.49 1.49 0 1 1 -0.5 2.13L-0.15 2.21A1.23 1.23 0 1 0 1.98 1.01z" fill="#0468e1"/>
<path d="M2.14 0.96A1.39 1.39 0 1 1 -0.27 2.33L-0.22 1.93A1.14 1.14 0 1 0 1.77 0.8z" fill="#036ae1"/>
<path d="M1.98 1.01A1.23 1.23 0 1 1 -0.15 2.21L-0.29 1.69A1.09 1.09 0 1 0 1.6 0.62z" fill="#0568e1"/>
<path d="M1.77 0.8A1.14 1.14 0 1 1 -0.22 1.93L-0.38 1.43A1.04 1.04 0 1 0 1.42 0.4z" fill="#1060df"/>
<path d="M1.6 0.62A1.09 1.09 0 1 1 -0.29 1.69L-0.47 1.16A0.99 0.99 0 1 0 1.24 0.19z" fill="#2456d4"/>
<path d="M1.42 0.4A1.04 1.04 0 1 1 -0.38 1.43L-0.55 0.92A0.93 0.93 0 1 0 1.07 0z" fill="#2f47c6"/>
<path d="M1.24 0.19A0.99 0.99 0 1 1 -0.47 1.16L-0.6 0.7A0.87 0.87 0 1 0 0.91-0.16z" fill="#3340be"/>
<path d="M1.07 0A0.93 0.93 0 1 1 -0.55 0.92L-0.43 0.73A0.74 0.74 0 1 0 0.85 0z" fill="#353bb7"/>
<path d="M0.91-0.16A0.87 0.87 0 1 1 -0.6 0.7L-0.26 0.95A0.7 0.7 0 1 0 0.95 0.27z" fill="#323cba"/>
<path d="M0.85 0A0.74 0.74 0 1 1 -0.43 0.73L-0.11 1.16A0.67 0.67 0 1 0 1.05 0.5z" fill="#2f48c8"/>
<path d="M0.95 0.27A0.7 0.7 0 1 1 -0.26 0.95L0.03 1.36A0.65 0.65 0 1 0 1.16 0.72z" fill="#225bd8"/>
<path d="M1.05 0.5A0.67 0.67 0 1 1 -0.11 1.16L0.18 1.6A0.63 0.63 0 1 0 1.28 0.98z" fill="#1266e1"/>
<path d="M1.16 0.72A0.65 0.65 0 1 1 0.03 1.36L0.32 1.81A0.61 0.61 0 1 0 1.39 1.2z" fill="#0e6ee2"/>
<path d="M1.28 0.98A0.63 0.63 0 1 1 0.18 1.6L0.48 2.04A0.59 0.59 0 1 0 1.51 1.45z" fill="#1275e2"/>
<path d="M1.39 1.2A0.61 0.61 0 1 1 0.32 1.81L0.6 2.24A0.58 0.58 0 1 0 1.61 1.67z" fill="#187ae0"/>
<path d="M1.51 1.45A0.59 0.59 0 1 1 0.48 2.04L0.74 2.45A0.57 0.57 0 1 0 1.72 1.89z" fill="#1d7fdd"/>
<path d="M1.61 1.67A0.58 0.58 0 1 1 0.6 2.24L0.88 2.67A0.55 0.55 0 1 0 1.84 2.13z" fill="#2083db"/>
<path d="M1.72 1.89A0.57 0.57 0 1 1 0.74 2.45L1.03 2.9A0.54 0.54 0 1 0 1.97 2.37z" fill="#2287d9"/>
<path d="M1.84 2.13A0.55 0.55 0 1 1 0.88 2.67L1.15 3.1A0.53 0.53 0 1 0 2.07 2.58z" fill="#228cd7"/>
<path d="M1.97 2.37A0.54 0.54 0 1 1 1.03 2.9L1.28 3.3A0.52 0.52 0 1 0 2.18 2.79z" fill="#2190d5"/>
<path d="M2.07 2.58A0.53 0.53 0 1 1 1.15 3.1L1.41 3.5A0.51 0.51 0 1 0 2.29 3z" fill="#1e95d5"/>
<path d="M2.18 2.79A0.52 0.52 0 1 1 1.28 3.3L1.54 3.71A0.5 0.5 0 1 0 2.4 3.22z" fill="#1a9ad4"/>
<path d="M2.29 3A0.51 0.51 0 1 1 1.41 3.5L1.67 3.93A0.48 0.48 0 1 0 2.51 3.45z" fill="#179fd3"/>
<path d="M2.4 3.22A0.5 0.5 0 1 1 1.54 3.71L1.81 4.15A0.47 0.47 0 1 0 2.63 3.68z" fill="#15a4d1"/>
<path d="M2.51 3.45A0.48 0.48 0 1 1 1.67 3.93L1.95 4.37A0.46 0.46 0 1 0 2.75 3.91z" fill="#15a8cf"/>
<path d="M2.63 3.68A0.47 0.47 0 1 1 1.81 4.15L2.09 4.59A0.45 0.45 0 1 0 2.87 4.15z" fill="#15abcb"/>
<path d="M2.75 3.91A0.46 0.46 0 1 1 1.95 4.37L2.23 4.82A0.44 0.44 0 1 0 3 4.39z" fill="#16aec6"/>
<path d="M2.87 4.15A0.45 0.45 0 1 1 2.09 4.59L2.38 5.05A0.43 0.43 0 1 0 3.12 4.63z" fill="#18b1c2"/>
<path d="M3 4.39A0.44 0.44 0 1 1 2.23 4.82L2.52 5.29A0.42 0.42 0 1 0 3.25 4.87z" fill="#1fb4bc"/>
<path d="M3.12 4.63A0.43 0.43 0 1 1 2.38 5.05L2.67 5.52A0.41 0.41 0 1 0 3.38 5.12z" fill="#26b6b7"/>
<path d="M3.25 4.87A0.42 0.42 0 1 1 2.52 5.29L2.81 5.76A0.4 0.4 0 1 0 3.5 5.37z" fill="#2fb9b1"/>
<path d="M3.38 5.12A0.41 0.41 0 1 1 2.67 5.52L2.96 5.99A0.39 0.39 0 1 0 3.63 5.61z" fill="#39bbaa"/>
<path d="M3.5 5.37A0.4 0.4 0 1 1 2.81 5.76L3.11 6.23A0.37 0.37 0 1 0 3.76 5.86z" fill="#44bda3"/>
<path d="M3.63 5.61A0.39 0.39 0 1 1 2.96 5.99L3.25 6.47A0.36 0.36 0 1 0 3.89 6.11z" fill="#51bf9c"/>
<path d="M3.76 5.86A0.37 0.37 0 1 1 3.11 6.23L3.4 6.7A0.35 0.35 0 1 0 4.01 6.35z" fill="#60c194"/>
<path d="M3.89 6.11A0.36 0.36 0 1 1 3.25 6.47L3.55 6.94A0.34 0.34 0 1 0 4.14 6.6z" fill="#6fc28d"/>
<path d="M4.01 6.35A0.35 0.35 0 1 1 3.4 6.7L3.69 7.17A0.33 0.33 0 1 0 4.26 6.84z" fill="#7ec386"/>
<path d="M4.14 6.6A0.34 0.34 0 1 1 3.55 6.94L3.83 7.4A0.32 0.32 0 1 0 4.39 7.08z" fill="#8cc380"/>
<path d="M4.26 6.84A0.33 0.33 0 1 1 3.69 7.17L3.97 7.62A0.31 0.31 0 1 0 4.51 7.32z" fill="#99c37b"/>
<path d="M4.39 7.08A0.32 0.32 0 1 1 3.83 7.4L4.11 7.85A0.3 0.3 0 1 0 4.63 7.55z" fill="#a5c276"/>
<path d="M4.51 7.32A0.31 0.31 0 1 1 3.97 7.62L4.25 8.06A0.29 0.29 0 1 0 4.75 7.78z" fill="#b0c271"/>
<path d="M4.63 7.55A0.3 0.3 0 1 1 4.11 7.85L4.38 8.28A0.28 0.28 0 1 0 4.86 8.01z" fill="#bbc16d"/>
<path d="M4.75 7.78A0.29 0.29 0 1 1 4.25 8.06L4.52 8.49A0.26 0.26 0 1 0 4.98 8.23z" fill="#c5c069"/>
<path d="M4.86 8.01A0.28 0.28 0 1 1 4.38 8.28L4.65 8.69A0.25 0.25 0 1 0 5.09 8.44z" fill="#cfbf65"/>
<path d="M4.98 8.23A0.26 0.26 0 1 1 4.52 8.49L4.77 8.89A0.24 0.24 0 1 0 5.19 8.65z" fill="#d8bf61"/>
<path d="M5.09 8.44A0.25 0.25 0 1 1 4.65 8.69L4.89 9.09A0.23 0.23 0 1 0 5.3 8.86z" fill="#e1be5d"/>
<path d="M5.19 8.65A0.24 0.24 0 1 1 4.77 8.89L5.04 9.32A0.22 0.22 0 1 0 5.42 9.11z" fill="#eabd59"/>
<path d="M5.3 8.86A0.23 0.23 0 1 1 4.89 9.09L5.18 9.54A0.2 0.2 0 1 0 5.54 9.34z" fill="#f3be54"/>
<path d="M5.42 9.11A0.22 0.22 0 1 1 5.04 9.32L5.32 9.75A0.19 0.19 0 1 0 5.65 9.57z" fill="#fbc04c"/>
<path d="M5.54 9.34A0.2 0.2 0 1 1 5.18 9.54L5.45 9.95A0.18 0.18 0 1 0 5.76 9.78z" fill="#fec545"/>
<path d="M5.65 9.57A0.19 0.19 0 1 1 5.32 9.75L5.6 10.18A0.16 0.16 0 1 0 5.88 10.03z" fill="#fecb3f"/>
<path d="M5.76 9.78A0.18 0.18 0 1 1 5.45 9.95L5.74 10.39A0.14 0.14 0 1 0 5.99 10.25z" fill="#fcd139"/>
<path d="M5.88 10.03A0.16 0.16 0 1 1 5.6 10.18L5.89 10.62A0.12 0.12 0 1 0 6.1 10.5z" fill="#f9d733"/>
<path d="M5.99 10.25A0.14 0.14 0 1 1 5.74 10.39L6.03 10.82A0.1 0.1 0 1 0 6.2 10.72z" fill="#f6de2d"/>
<path d="M6.1 10.5A0.12 0.12 0 1 1 5.89 10.62L6.2 11.05A0.07 0.07 0 1 0 6.31 10.98z" fill="#f5e526"/>
<path d="M6.2 10.72A0.1 0.1 0 1 1 6.03 10.82z" fill="#f5ed1e"/>
<path d="M6.31 10.98A0.07 0.07 0 1 1 6.2 11.05z" fill="#f8f614"/>
<path d="M6.03 10.82A0.1 0.1 0 1 1 6.2 10.73z" fill="#f8f614"/>
<path d="M5.9 10.63A0.12 0.12 0 1 1 6.11 10.51L6.31 10.98A0.07 0.07 0 1 0 6.2 11.05z" fill="#f5ed1e"/>
<path d="M5.74 10.4A0.14 0.14 0 1 1 5.99 10.26L6.2 10.73A0.1 0.1 0 1 0 6.03 10.82z" fill="#f5e526"/>
<path d="M5.6 10.19A0.16 0.16 0 1 1 5.88 10.03L6.11 10.51A0.12 0.12 0 1 0 5.9 10.63z" fill="#f6de2d"/>
<path d="M5.45 9.96A0.18 0.18 0 1 1 5.76 9.79L5.99 10.26A0.14 0.14 0 1 0 5.74 10.4z" fill="#f9d733"/>
<path d="M5.33 9.76A0.19 0.19 0 1 1 5.66 9.58L5.88 10.03A0.16 0.16 0 1 0 5.6 10.19z" fill="#fcd139"/>
<path d="M5.19 9.55A0.2 0.2 0 1 1 5.55 9.35L5.76 9.79A0.18 0.18 0 1 0 5.45 9.96z" fill="#fecb3f"/>
<path d="M5.05 9.33A0.22 0.22 0 1 1 5.43 9.12L5.66 9.58A0.19 0.19 0 1 0 5.33 9.76z" fill="#fec545"/>
<path d="M4.9 9.1A0.23 0.23 0 1 1 5.3 8.87L5.55 9.35A0.2 0.2 0 1 0 5.19 9.55z" fill="#fbc04c"/>
<path d="M4.78 8.91A0.24 0.24 0 1 1 5.2 8.67L5.43 9.12A0.22 0.22 0 1 0 5.05 9.33z" fill="#f3be54"/>
<path d="M4.65 8.71A0.25 0.25 0 1 1 5.09 8.46L5.3 8.87A0.23 0.23 0 1 0 4.9 9.1z" fill="#eabd59"/>
<path d="M4.52 8.5A0.26 0.26 0 1 1 4.98 8.24L5.2 8.67A0.24 0.24 0 1 0 4.78 8.91z" fill="#e1be5d"/>
<path d="M4.39 8.29A0.28 0.28 0 1 1 4.87 8.02L5.09 8.46A0.25 0.25 0 1 0 4.65 8.71z" fill="#d8bf61"/>
<path d="M4.26 8.08A0.29 0.29 0 1 1 4.76 7.8L4.98 8.24A0.26 0.26 0 1 0 4.52 8.5z" fill="#cfbf65"/>
<path d="M4.12 7.86A0.3 0.3 0 1 1 4.64 7.57L4.87 8.02A0.28 0.28 0 1 0 4.39 8.29z" fill="#c5c069"/>
<path d="M3.98 7.64A0.31 0.31 0 1 1 4.52 7.33L4.76 7.8A0.29 0.29 0 1 0 4.26 8.08z" fill="#bbc16d"/>
<path d="M3.84 7.41A0.32 0.32 0 1 1 4.4 7.1L4.64 7.57A0.3 0.3 0 1 0 4.12 7.86z" fill="#b0c271"/>
<path d="M3.7 7.18A0.33 0.33 0 1 1 4.27 6.86L4.52 7.33A0.31 0.31 0 1 0 3.98 7.64z" fill="#a5c276"/>
<path d="M3.56 6.95A0.34 0.34 0 1 1 4.15 6.62L4.4 7.1A0.32 0.32 0 1 0 3.84 7.41z" fill="#99c37b"/>
<path d="M3.41 6.72A0.35 0.35 0 1 1 4.02 6.37L4.27 6.86A0.33 0.33 0 1 0 3.7 7.18z" fill="#8cc380"/>
<path d="M3.27 6.49A0.36 0.36 0 1 1 3.9 6.13L4.15 6.62A0.34 0.34 0 1 0 3.56 6.95z" fill="#7ec386"/>
<path d="M3.12 6.25A0.37 0.37 0 1 1 3.77 5.88L4.02 6.37A0.35 0.35 0 1 0 3.41 6.72z" fill="#6fc28d"/>
<path d="M2.97 6.01A0.39 0.39 0 1 1 3.64 5.63L3.9 6.13A0.36 0.36 0 1 0 3.27 6.49z" fill="#60c194"/>
<path d="M2.83 5.78A0.4 0.4 0 1 1 3.51 5.39L3.77 5.88A0.37 0.37 0 1 0 3.12 6.25z" fill="#51bf9c"/>
<path d="M2.68 5.54A0.41 0.41 0 1 1 3.39 5.14L3.64 5.63A0.39 0.39 0 1 0 2.97 6.01z" fill="#44bda3"/>
<path d="M2.53 5.31A0.42 0.42 0 1 1 3.26 4.9L3.51 5.39A0.4 0.4 0 1 0 2.83 5.78z" fill="#39bbaa"/>
<path d="M2.39 5.08A0.43 0.43 0 1 1 3.14 4.65L3.39 5.14A0.41 0.41 0 1 0 2.68 5.54z" fill="#2fb9b1"/>
<path d="M2.25 4.85A0.44 0.44 0 1 1 3.01 4.41L3.26 4.9A0.42 0.42 0 1 0 2.53 5.31z" fill="#26b6b7"/>
<path d="M2.1 4.62A0.45 0.45 0 1 1 2.89 4.17L3.14 4.65A0.43 0.43 0 1 0 2.39 5.08z" fill="#1fb4bc"/>
<path d="M1.96 4.39A0.46 0.46 0 1 1 2.77 3.94L3.01 4.41A0.44 0.44 0 1 0 2.25 4.85z" fill="#18b1c2"/>
<path d="M1.82 4.17A0.47 0.47 0 1 1 2.65 3.7L2.89 4.17A0.45 0.45 0 1 0 2.1 4.62z" fill="#16aec6"/>
<path d="M1.69 3.95A0.48 0.48 0 1 1 2.53 3.47L2.77 3.94A0.46 0.46 0 1 0 1.96 4.39z" fill="#15abcb"/>
<path d="M1.55 3.74A0.5 0.5 0 1 1 2.41 3.25L2.65 3.7A0.47 0.47 0 1 0 1.82 4.17z" fill="#15a8cf"/>
<path d="M1.42 3.53A0.51 0.51 0 1 1 2.3 3.03L2.53 3.47A0.48 0.48 0 1 0 1.69 3.95z" fill="#15a4d1"/>
<path d="M1.29 3.32A0.52 0.52 0 1 1 2.19 2.81L2.41 3.25A0.5 0.5 0 1 0 1.55 3.74z" fill="#179fd3"/>
<path d="M1.17 3.13A0.53 0.53 0 1 1 2.09 2.6L2.3 3.03A0.51 0.51 0 1 0 1.42 3.53z" fill="#1a9ad4"/>
<path d="M1.05 2.93A0.54 0.54 0 1 1 1.98 2.4L2.19 2.81A0.52 0.52 0 1 0 1.29 3.32z" fill="#1e95d5"/>
<path d="M0.9 2.7A0.55 0.55 0 1 1 1.86 2.15L2.09 2.6A0.53 0.53 0 1 0 1.17 3.13z" fill="#2190d5"/>
<path d="M0.76 2.48A0.57 0.57 0 1 1 1.74 1.92L1.98 2.4A0.54 0.54 0 1 0 1.05 2.93z" fill="#228cd7"/>
<path d="M0.62 2.27A0.58 0.58 0 1 1 1.63 1.7L1.86 2.15A0.55 0.55 0 1 0 0.9 2.7z" fill="#2287d9"/>
<path d="M0.49 2.07A0.59 0.59 0 1 1 1.53 1.48L1.74 1.92A0.57 0.57 0 1 0 0.76 2.48z" fill="#2083db"/>
<path d="M0.34 1.84A0.61 0.61 0 1 1 1.4 1.24L1.63 1.7A0.58 0.58 0 1 0 0.62 2.27z" fill="#1d7fdd"/>
<path d="M0.2 1.63A0.63 0.63 0 1 1 1.3 1.01L1.53 1.48A0.59 0.59 0 1 0 0.49 2.07z" fill="#187ae0"/>
<path d="M0.05 1.4A0.65 0.65 0 1 1 1.18 0.75L1.4 1.24A0.61 0.61 0 1 0 0.34 1.84z" fill="#1275e2"/>
<path d="M-0.09 1.19A0.67 0.67 0 1 1 1.07 0.53L1.3 1.01A0.63 0.63 0 1 0 0.2 1.63z" fill="#0e6ee2"/>
<path d="M-0.24 0.99A0.7 0.7 0 1 1 0.97 0.3L1.18 0.75A0.65 0.65 0 1 0 0.05 1.4z" fill="#1266e1"/>
<path d="M-0.41 0.77A0.74 0.74 0 1 1 0.88 0.04L1.07 0.53A0.67 0.67 0 1 0 -0.09 1.19z" fill="#225bd8"/>
<path d="M-0.58 0.74A0.87 0.87 0 1 1 0.93-0.12L0.97 0.3A0.7 0.7 0 1 0 -0.24 0.99z" fill="#2f48c8"/>
<path d="M-0.52 0.97A0.93 0.93 0 1 1 1.1 0.05L0.88 0.04A0.74 0.74 0 1 0 -0.41 0.77z" fill="#323cba"/>
<path d="M-0.44 1.22A0.99 0.99 0 1 1 1.27 0.24L0.93-0.12A0.87 0.87 0 1 0 -0.58 0.74z" fill="#353bb7"/>
<path d="M-0.35 1.48A1.04 1.04 0 1 1 1.45 0.46L1.1 0.05A0.93 0.93 0 1 0 -0.52 0.97z" fill="#3340be"/>
<path d="M-0.26 1.75A1.09 1.09 0 1 1 1.64 0.67L1.27 0.24A0.99 0.99 0 1 0 -0.44 1.22z" fill="#2f47c6"/>
<path d="M-0.18 1.99A1.14 1.14 0 1 1 1.8 0.86L1.45 0.46A1.04 1.04 0 1 0 -0.35 1.48z" fill="#2456d4"/>
<path d="M-0.11 2.28A1.23 1.23 0 1 1 2.02 1.07L1.64 0.67A1.09 1.09 0 1 0 -0.26 1.75z" fill="#1060df"/>
<path d="M-0.23 2.4A1.39 1.39 0 1 1 2.18 1.03L1.8 0.86A1.14 1.14 0 1 0 -0.18 1.99z" fill="#0568e1"/>
<path d="M-0.46 2.21A1.49 1.49 0 1 1 2.13 0.74L2.02 1.07A1.23 1.23 0 1 0 -0.11 2.28z" fill="#036ae1"/>
<path d="M-0.64 2.02A1.55 1.55 0 1 1 2.06 0.48L2.18 1.03A1.39 1.39 0 1 0 -0.23 2.4z" fill="#0468e1"/>
<path d="M-0.8 1.84A1.61 1.61 0 1 1 1.99 0.25L2.13 0.74A1.49 1.49 0 1 0 -0.46 2.21z" fill="#0d61df"/>
<path d="M-0.97 1.66A1.66 1.66 0 1 1 1.92 0.02L2.06 0.48A1.55 1.55 0 1 0 -0.64 2.02z" fill="#2057d6"/>
<path d="M-1.13 1.48A1.71 1.71 0 1 1 1.85-0.21L1.99 0.25A1.61 1.61 0 1 0 -0.8 1.84z" fill="#2e4ec9"/>
<path d="M-1.31 1.29A1.78 1.78 0 1 1 1.78-0.46L1.92 0.02A1.66 1.66 0 1 0 -0.97 1.66z" fill="#3241c0"/>
<path d="M-1.53 1.11A1.88 1.88 0 1 1 1.74-0.74L1.85-0.21A1.71 1.71 0 1 0 -1.13 1.48z" fill="#353bb7"/>
<path d="M-1.71 1.12A2.04 2.04 0 1 1 1.84-0.89L1.78-0.46A1.78 1.78 0 1 0 -1.31 1.29z" fill="#3533ac"/>
<path d="M-1.76 1.36A2.2 2.2 0 1 1 2.07-0.81L1.74-0.74A1.88 1.88 0 1 0 -1.53 1.11z" fill="#342da2"/>
<path d="M-1.76 1.68A2.36 2.36 0 1 1 2.34-0.65L1.84-0.89A2.04 2.04 0 1 0 -1.71 1.12z" fill="#342da3"/>
<path d="M-1.76 1.99A2.52 2.52 0 1 1 2.61-0.49L2.07-0.81A2.2 2.2 0 1 0 -1.76 1.36z" fill="#3533ac"/>
<path d="M-1.83 2.2A2.68 2.68 0 1 1 2.83-0.45L2.34-0.65A2.36 2.36 0 1 0 -1.76 1.68z" fill="#333ab8"/>
<path d="M-1.97 2.28A2.84 2.84 0 1 1 2.97-0.52L2.61-0.49A2.52 2.52 0 1 0 -1.76 1.99z" fill="#2f40c0"/>
<path d="M-2.15 2.28A3 3 0 1 1 3.06-0.68L2.83-0.45A2.68 2.68 0 1 0 -1.83 2.2z" fill="#2c41c3"/>
<path d="M-2.36 2.23A3.16 3.16 0 1 1 3.13-0.89L2.97-0.52A2.84 2.84 0 1 0 -1.97 2.28z" fill="#2e40c1"/>
<path d="M-2.58 2.17A3.32 3.32 0 1 1 3.18-1.11L3.06-0.68A3 3 0 1 0 -2.15 2.28z" fill="#313dbc"/>
<path d="M-2.8 2.11A3.48 3.48 0 1 1 3.25-1.32L3.13-0.89A3.16 3.16 0 1 0 -2.36 2.23z" fill="#3338b5"/>
<path d="M-3 2.08A3.64 3.64 0 1 1 3.32-1.51L3.18-1.11A3.32 3.32 0 1 0 -2.58 2.17z" fill="#3434ae"/>
<path d="M-3.18 2.08A3.8 3.8 0 1 1 3.42-1.67L3.25-1.32A3.48 3.48 0 1 0 -2.8 2.11z" fill="#342fa7"/>
<path d="M-3.35 2.11A3.96 3.96 0 1 1 3.53-1.79L3.32-1.51A3.64 3.64 0 1 0 -3 2.08z" fill="#342ca2"/>
<path d="M-3.39 2.13A4 4 0 1 1 3.56-1.82L3.42-1.67A3.8 3.8 0 1 0 -3.18 2.08z" fill="#332a9e"/>
<path d="M-3.39 2.13A4 4 0 1 1 3.56-1.82L3.53-1.79A3.96 3.96 0 1 0 -3.35 2.11z" fill="#33299c"/>
</g>
<path d="M318.8 371L318.8 428.5L352.7 458.5L412.4 441.3M318.8 428.5h1.6M318.8 399.8h1.6M318.8 371h1.6" stroke="#6e6e6e" stroke-width="1.1" fill="none"/>
<text x="314.8" y="429.1" text-anchor="end" font-size="9.3" fill="#2c2c2c">0</text>
<text x="314.8" y="400.4" text-anchor="end" font-size="9.3" fill="#2c2c2c">4800</text>
<text x="314.8" y="371.6" text-anchor="end" font-size="9.3" fill="#2c2c2c">9600</text>
<text x="313.5" y="439.9" text-anchor="end" font-size="9.3" fill="#2c2c2c">4</text>
<text x="322" y="447.4" text-anchor="end" font-size="9.3" fill="#2c2c2c">2</text>
<text x="330.4" y="454.9" text-anchor="end" font-size="9.3" fill="#2c2c2c">0</text>
<text x="338.9" y="462.4" text-anchor="end" font-size="9.3" fill="#2c2c2c">-2</text>
<text x="347.4" y="469.9" text-anchor="end" font-size="9.3" fill="#2c2c2c">-4</text>
<text x="361.3" y="470.9" text-anchor="middle" font-size="9.3" fill="#2c2c2c">-4</text>
<text x="376.2" y="466.6" text-anchor="middle" font-size="9.3" fill="#2c2c2c">-2</text>
<text x="388.1" y="462.3" text-anchor="middle" font-size="9.3" fill="#2c2c2c">0</text>
<text x="403.1" y="458" text-anchor="middle" font-size="9.3" fill="#2c2c2c">2</text>
<text x="418" y="453.7" text-anchor="middle" font-size="9.3" fill="#2c2c2c">4</text>
<text x="323.8" y="459.8" text-anchor="middle" font-size="9.3" fill="#2c2c2c">y</text>
<text x="396.2" y="465.1" text-anchor="middle" font-size="9.3" fill="#2c2c2c">x</text>
<text x="399.3" y="391.6" text-anchor="middle" font-size="9.2" fill="#2c2c2c">z=30</text>
<rect x="447.5" y="366" width="81.8" height="77.5" fill="#fff" stroke="#8c8c8c" stroke-width="1"/>
<path d="M447.5 443.5v-1.6M447.5 366v1.6M467.9 443.5v-1.6M467.9 366v1.6M488.4 443.5v-1.6M488.4 366v1.6M508.8 443.5v-1.6M508.8 366v1.6M529.3 443.5v-1.6M529.3 366v1.6M447.5 443.5h1.6M529.3 443.5h-1.6M447.5 406.3h1.6M529.3 406.3h-1.6M447.5 369.1h1.6M529.3 369.1h-1.6" stroke="#8c8c8c" stroke-width="0.8" fill="none"/>
<path d="M447.5 443.2L448 443.2L448.5 443.1L449 443L449.5 442.9L450.1 442.7L450.6 442.6L451.1 442.4L451.6 442.2L452.1 442L452.6 441.8L453.1 441.5L453.6 441.2L454.1 441L454.7 440.7L455.2 440.4L455.7 440.1L456.2 439.8L456.7 439.5L457.2 439.2L457.7 439L458.2 438.8L458.7 438.6L459.3 438.5L459.8 438.4L460.3 438.3L460.8 438.3L461.3 438.4L461.8 438.6L462.3 438.9L462.8 439.3L463.3 439.7L463.9 440.2L464.4 440.7L464.9 441.3L465.4 441.8L465.9 442.3L466.4 442.7L466.9 443L467.4 443.3L467.9 443.4L468.5 443.5L469 443.3L469.5 442.8L470 442.1L470.5 441L471 439.8L471.5 438.5L472 437.1L472.6 435.7L473.1 434.5L473.6 433.5L474.1 432.7L474.6 432.2L475.1 432L475.6 432.3L476.1 433L476.6 434.2L477.2 435.6L477.7 437.3L478.2 438.9L478.7 440.5L479.2 441.9L479.7 442.9L480.2 443.4L480.7 443.4L481.2 442L481.8 439.3L482.3 435.2L482.8 429.9L483.3 423.8L483.8 416.9L484.3 409.7L484.8 402.3L485.3 395.2L485.8 388.6L486.4 382.8L486.9 378L487.4 374.4L487.9 372.2L488.4 371.4L488.9 372.2L489.4 374.4L489.9 378L490.4 382.8L491 388.6L491.5 395.2L492 402.3L492.5 409.7L493 416.9L493.5 423.8L494 429.9L494.5 435.2L495 439.3L495.6 442L496.1 443.4L496.6 443.4L497.1 442.9L497.6 441.9L498.1 440.5L498.6 438.9L499.1 437.3L499.6 435.6L500.2 434.2L500.7 433L501.2 432.3L501.7 432L502.2 432.2L502.7 432.7L503.2 433.5L503.7 434.5L504.2 435.7L504.8 437.1L505.3 438.5L505.8 439.8L506.3 441L506.8 442.1L507.3 442.8L507.8 443.3L508.3 443.5L508.8 443.4L509.4 443.3L509.9 443L510.4 442.7L510.9 442.3L511.4 441.8L511.9 441.3L512.4 440.7L512.9 440.2L513.5 439.7L514 439.3L514.5 438.9L515 438.6L515.5 438.4L516 438.3L516.5 438.3L517 438.4L517.5 438.5L518.1 438.6L518.6 438.8L519.1 439L519.6 439.2L520.1 439.5L520.6 439.8L521.1 440.1L521.6 440.4L522.1 440.7L522.7 441L523.2 441.2L523.7 441.5L524.2 441.8L524.7 442L525.2 442.2L525.7 442.4L526.2 442.6L526.7 442.7L527.3 442.9L527.8 443L528.3 443.1L528.8 443.2L529.3 443.2" stroke="#ff22f6" stroke-width="2.1" fill="none" stroke-linejoin="round"/>
<path d="M447.5 443.2L448 443.2L448.5 443.1L449 443L449.5 442.9L450.1 442.7L450.6 442.6L451.1 442.4L451.6 442.2L452.1 442L452.6 441.8L453.1 441.5L453.6 441.2L454.1 441L454.7 440.7L455.2 440.4L455.7 440.1L456.2 439.8L456.7 439.5L457.2 439.2L457.7 439L458.2 438.8L458.7 438.6L459.3 438.5L459.8 438.4L460.3 438.3L460.8 438.3L461.3 438.4L461.8 438.6L462.3 438.9L462.8 439.3L463.3 439.7L463.9 440.2L464.4 440.7L464.9 441.3L465.4 441.8L465.9 442.3L466.4 442.7L466.9 443L467.4 443.3L467.9 443.4L468.5 443.5L469 443.3L469.5 442.8L470 442.1L470.5 441L471 439.8L471.5 438.5L472 437.1L472.6 435.7L473.1 434.5L473.6 433.5L474.1 432.7L474.6 432.2L475.1 432L475.6 432.3L476.1 433L476.6 434.2L477.2 435.6L477.7 437.3L478.2 438.9L478.7 440.5L479.2 441.9L479.7 442.9L480.2 443.4L480.7 443.4L481.2 442L481.8 439.3L482.3 435.2L482.8 429.9L483.3 423.8L483.8 416.9L484.3 409.7L484.8 402.3L485.3 395.2L485.8 388.6L486.4 382.8L486.9 378L487.4 374.4L487.9 372.2L488.4 371.4L488.9 372.2L489.4 374.4L489.9 378L490.4 382.8L491 388.6L491.5 395.2L492 402.3L492.5 409.7L493 416.9L493.5 423.8L494 429.9L494.5 435.2L495 439.3L495.6 442L496.1 443.4L496.6 443.4L497.1 442.9L497.6 441.9L498.1 440.5L498.6 438.9L499.1 437.3L499.6 435.6L500.2 434.2L500.7 433L501.2 432.3L501.7 432L502.2 432.2L502.7 432.7L503.2 433.5L503.7 434.5L504.2 435.7L504.8 437.1L505.3 438.5L505.8 439.8L506.3 441L506.8 442.1L507.3 442.8L507.8 443.3L508.3 443.5L508.8 443.4L509.4 443.3L509.9 443L510.4 442.7L510.9 442.3L511.4 441.8L511.9 441.3L512.4 440.7L512.9 440.2L513.5 439.7L514 439.3L514.5 438.9L515 438.6L515.5 438.4L516 438.3L516.5 438.3L517 438.4L517.5 438.5L518.1 438.6L518.6 438.8L519.1 439L519.6 439.2L520.1 439.5L520.6 439.8L521.1 440.1L521.6 440.4L522.1 440.7L522.7 441L523.2 441.2L523.7 441.5L524.2 441.8L524.7 442L525.2 442.2L525.7 442.4L526.2 442.6L526.7 442.7L527.3 442.9L527.8 443L528.3 443.1L528.8 443.2L529.3 443.2" stroke="#4a38f4" stroke-width="2.1" fill="none" stroke-dasharray="3.8 3.8" stroke-linejoin="round"/>
<text x="448" y="456.7" text-anchor="middle" font-size="9.8" fill="#2c2c2c">-4</text>
<text x="468.4" y="456.7" text-anchor="middle" font-size="9.8" fill="#2c2c2c">-2</text>
<text x="488.4" y="456.7" text-anchor="middle" font-size="9.8" fill="#2c2c2c">0</text>
<text x="508.8" y="456.7" text-anchor="middle" font-size="9.8" fill="#2c2c2c">2</text>
<text x="529.3" y="456.7" text-anchor="middle" font-size="9.8" fill="#2c2c2c">4</text>
<text x="445.7" y="446.9" text-anchor="end" font-size="9.8" fill="#2c2c2c">0</text>
<text x="443.9" y="409.7" text-anchor="end" font-size="9.8" fill="#2c2c2c">4800</text>
<text x="443.9" y="372.5" text-anchor="end" font-size="9.8" fill="#2c2c2c">9600</text>
<text x="488.4" y="470.1" text-anchor="middle" font-size="9.8" fill="#2c2c2c">x</text>
<g transform="translate(12.8 267.4) rotate(-90)" fill="#111" text-anchor="middle"><text x="2" y="0" font-size="15.6" stroke="#111" stroke-width=".3">|</text><text transform="translate(9.2 2.2) scale(0.86 1)" font-size="17.5" font-style="italic" font-weight="bold" stroke-width=".4" stroke="#111">Φ</text><text x="16.4" y="0" font-size="15.6" stroke="#111" stroke-width=".3">|</text><text x="19.9" y="-5.6" font-size="8.4" stroke="#111" stroke-width=".35">2</text></g>
</svg>
</body></html>
